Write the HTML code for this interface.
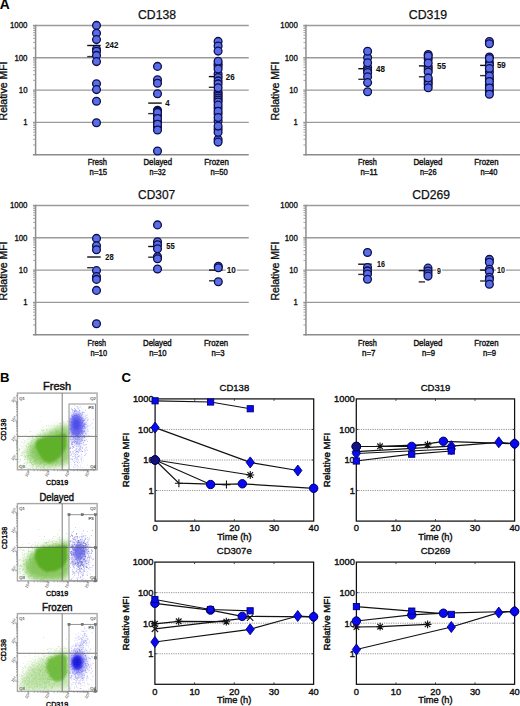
<!DOCTYPE html>
<html><head><meta charset="utf-8"><style>
html,body{margin:0;padding:0;background:#fff;}
svg{display:block;font-family:"Liberation Sans", sans-serif;}
</style></head><body>
<svg width="520" height="706" viewBox="0 0 520 706">
<rect width="520" height="706" fill="#fff"/>
<line x1="32.90" y1="25.50" x2="248.75" y2="25.50" stroke="#9a9a9a" stroke-width="1.4"/>
<line x1="32.90" y1="57.80" x2="248.75" y2="57.80" stroke="#9a9a9a" stroke-width="1.4"/>
<line x1="32.90" y1="90.10" x2="248.75" y2="90.10" stroke="#9a9a9a" stroke-width="1.4"/>
<line x1="32.90" y1="122.40" x2="248.75" y2="122.40" stroke="#9a9a9a" stroke-width="1.4"/>
<line x1="32.90" y1="154.70" x2="248.75" y2="154.70" stroke="#8c8c8c" stroke-width="1.6"/>
<line x1="35.60" y1="24.80" x2="35.60" y2="155.50" stroke="#8e8e8e" stroke-width="1.5"/>
<line x1="33.10" y1="48.08" x2="35.40" y2="48.08" stroke="#999" stroke-width="0.9"/>
<line x1="33.10" y1="42.39" x2="35.40" y2="42.39" stroke="#999" stroke-width="0.9"/>
<line x1="33.10" y1="38.35" x2="35.40" y2="38.35" stroke="#999" stroke-width="0.9"/>
<line x1="33.10" y1="35.22" x2="35.40" y2="35.22" stroke="#999" stroke-width="0.9"/>
<line x1="33.10" y1="32.67" x2="35.40" y2="32.67" stroke="#999" stroke-width="0.9"/>
<line x1="33.10" y1="30.50" x2="35.40" y2="30.50" stroke="#999" stroke-width="0.9"/>
<line x1="33.10" y1="28.63" x2="35.40" y2="28.63" stroke="#999" stroke-width="0.9"/>
<line x1="33.10" y1="26.98" x2="35.40" y2="26.98" stroke="#999" stroke-width="0.9"/>
<line x1="33.10" y1="80.38" x2="35.40" y2="80.38" stroke="#999" stroke-width="0.9"/>
<line x1="33.10" y1="74.69" x2="35.40" y2="74.69" stroke="#999" stroke-width="0.9"/>
<line x1="33.10" y1="70.65" x2="35.40" y2="70.65" stroke="#999" stroke-width="0.9"/>
<line x1="33.10" y1="67.52" x2="35.40" y2="67.52" stroke="#999" stroke-width="0.9"/>
<line x1="33.10" y1="64.97" x2="35.40" y2="64.97" stroke="#999" stroke-width="0.9"/>
<line x1="33.10" y1="62.80" x2="35.40" y2="62.80" stroke="#999" stroke-width="0.9"/>
<line x1="33.10" y1="60.93" x2="35.40" y2="60.93" stroke="#999" stroke-width="0.9"/>
<line x1="33.10" y1="59.28" x2="35.40" y2="59.28" stroke="#999" stroke-width="0.9"/>
<line x1="33.10" y1="112.68" x2="35.40" y2="112.68" stroke="#999" stroke-width="0.9"/>
<line x1="33.10" y1="106.99" x2="35.40" y2="106.99" stroke="#999" stroke-width="0.9"/>
<line x1="33.10" y1="102.95" x2="35.40" y2="102.95" stroke="#999" stroke-width="0.9"/>
<line x1="33.10" y1="99.82" x2="35.40" y2="99.82" stroke="#999" stroke-width="0.9"/>
<line x1="33.10" y1="97.27" x2="35.40" y2="97.27" stroke="#999" stroke-width="0.9"/>
<line x1="33.10" y1="95.10" x2="35.40" y2="95.10" stroke="#999" stroke-width="0.9"/>
<line x1="33.10" y1="93.23" x2="35.40" y2="93.23" stroke="#999" stroke-width="0.9"/>
<line x1="33.10" y1="91.58" x2="35.40" y2="91.58" stroke="#999" stroke-width="0.9"/>
<line x1="33.10" y1="144.98" x2="35.40" y2="144.98" stroke="#999" stroke-width="0.9"/>
<line x1="33.10" y1="139.29" x2="35.40" y2="139.29" stroke="#999" stroke-width="0.9"/>
<line x1="33.10" y1="135.25" x2="35.40" y2="135.25" stroke="#999" stroke-width="0.9"/>
<line x1="33.10" y1="132.12" x2="35.40" y2="132.12" stroke="#999" stroke-width="0.9"/>
<line x1="33.10" y1="129.57" x2="35.40" y2="129.57" stroke="#999" stroke-width="0.9"/>
<line x1="33.10" y1="127.40" x2="35.40" y2="127.40" stroke="#999" stroke-width="0.9"/>
<line x1="33.10" y1="125.53" x2="35.40" y2="125.53" stroke="#999" stroke-width="0.9"/>
<line x1="33.10" y1="123.88" x2="35.40" y2="123.88" stroke="#999" stroke-width="0.9"/>
<text x="27.50" y="28.40" font-size="8.6" text-anchor="end" textLength="17.50" lengthAdjust="spacingAndGlyphs" fill="#111" stroke="#111" stroke-width="0.35">1000</text>
<text x="27.50" y="60.70" font-size="8.6" text-anchor="end" textLength="13.10" lengthAdjust="spacingAndGlyphs" fill="#111" stroke="#111" stroke-width="0.35">100</text>
<text x="27.50" y="93.00" font-size="8.6" text-anchor="end" textLength="8.70" lengthAdjust="spacingAndGlyphs" fill="#111" stroke="#111" stroke-width="0.35">10</text>
<text x="27.50" y="125.30" font-size="8.6" text-anchor="end" textLength="4.30" lengthAdjust="spacingAndGlyphs" fill="#111" stroke="#111" stroke-width="0.35">1</text>
<text x="7.30" y="91.00" font-size="10.5" text-anchor="middle" transform="rotate(-90 7.30 91.00)" fill="#111" stroke="#111" stroke-width="0.35">Relative MFI</text>
<text x="138.00" y="18.80" font-size="12" textLength="38.00" lengthAdjust="spacingAndGlyphs" fill="#111" stroke="#111" stroke-width="0.25">CD138</text>
<text x="87.70" y="165.00" font-size="8.6" textLength="19.20" lengthAdjust="spacingAndGlyphs" fill="#111" stroke="#111" stroke-width="0.4">Fresh</text>
<text x="89.60" y="175.20" font-size="8.6" textLength="17.40" lengthAdjust="spacingAndGlyphs" fill="#111" stroke="#111" stroke-width="0.4">n=15</text>
<text x="143.50" y="165.00" font-size="8.6" textLength="28.50" lengthAdjust="spacingAndGlyphs" fill="#111" stroke="#111" stroke-width="0.4">Delayed</text>
<text x="149.60" y="175.20" font-size="8.6" textLength="16.00" lengthAdjust="spacingAndGlyphs" fill="#111" stroke="#111" stroke-width="0.4">n=32</text>
<text x="204.30" y="165.00" font-size="8.6" textLength="24.50" lengthAdjust="spacingAndGlyphs" fill="#111" stroke="#111" stroke-width="0.4">Frozen</text>
<text x="210.50" y="175.20" font-size="8.6" textLength="17.20" lengthAdjust="spacingAndGlyphs" fill="#111" stroke="#111" stroke-width="0.4">n=50</text>
<line x1="87.20" y1="45.50" x2="100.70" y2="45.50" stroke="#111" stroke-width="1.4"/>
<line x1="87.20" y1="56.60" x2="93.50" y2="56.60" stroke="#333" stroke-width="1.4"/>
<line x1="148.20" y1="103.10" x2="161.70" y2="103.10" stroke="#111" stroke-width="1.4"/>
<line x1="148.20" y1="113.60" x2="154.50" y2="113.60" stroke="#333" stroke-width="1.4"/>
<line x1="208.80" y1="76.60" x2="222.30" y2="76.60" stroke="#111" stroke-width="1.4"/>
<line x1="208.80" y1="87.30" x2="215.10" y2="87.30" stroke="#333" stroke-width="1.4"/>
<circle cx="96.50" cy="25.40" r="3.9" fill="#5a6de8" stroke="#0d0d48" stroke-width="1.3"/>
<circle cx="96.50" cy="33.20" r="3.9" fill="#5a6de8" stroke="#0d0d48" stroke-width="1.3"/>
<circle cx="96.50" cy="39.60" r="3.9" fill="#5a6de8" stroke="#0d0d48" stroke-width="1.3"/>
<circle cx="96.50" cy="49.30" r="3.9" fill="#5a6de8" stroke="#0d0d48" stroke-width="1.3"/>
<circle cx="96.50" cy="51.20" r="3.9" fill="#5a6de8" stroke="#0d0d48" stroke-width="1.3"/>
<circle cx="96.50" cy="55.40" r="3.9" fill="#5a6de8" stroke="#0d0d48" stroke-width="1.3"/>
<circle cx="96.50" cy="61.60" r="3.9" fill="#5a6de8" stroke="#0d0d48" stroke-width="1.3"/>
<circle cx="96.50" cy="83.80" r="3.9" fill="#5a6de8" stroke="#0d0d48" stroke-width="1.3"/>
<circle cx="96.50" cy="89.60" r="3.9" fill="#5a6de8" stroke="#0d0d48" stroke-width="1.3"/>
<circle cx="96.50" cy="101.20" r="3.9" fill="#5a6de8" stroke="#0d0d48" stroke-width="1.3"/>
<circle cx="96.50" cy="122.70" r="3.9" fill="#5a6de8" stroke="#0d0d48" stroke-width="1.3"/>
<circle cx="157.50" cy="66.40" r="3.9" fill="#5a6de8" stroke="#0d0d48" stroke-width="1.3"/>
<circle cx="157.50" cy="79.80" r="3.9" fill="#5a6de8" stroke="#0d0d48" stroke-width="1.3"/>
<circle cx="157.50" cy="83.30" r="3.9" fill="#5a6de8" stroke="#0d0d48" stroke-width="1.3"/>
<circle cx="157.50" cy="93.70" r="3.9" fill="#5a6de8" stroke="#0d0d48" stroke-width="1.3"/>
<circle cx="157.50" cy="110.30" r="3.9" fill="#5a6de8" stroke="#0d0d48" stroke-width="1.3"/>
<circle cx="157.50" cy="111.20" r="3.9" fill="#5a6de8" stroke="#0d0d48" stroke-width="1.3"/>
<circle cx="157.50" cy="115.50" r="3.9" fill="#5a6de8" stroke="#0d0d48" stroke-width="1.3"/>
<circle cx="157.50" cy="121.50" r="3.9" fill="#5a6de8" stroke="#0d0d48" stroke-width="1.3"/>
<circle cx="157.50" cy="127.00" r="3.9" fill="#5a6de8" stroke="#0d0d48" stroke-width="1.3"/>
<circle cx="157.50" cy="112.40" r="3.9" fill="#5a6de8" stroke="#0d0d48" stroke-width="1.3"/>
<circle cx="157.50" cy="118.50" r="3.9" fill="#5a6de8" stroke="#0d0d48" stroke-width="1.3"/>
<circle cx="157.50" cy="124.20" r="3.9" fill="#5a6de8" stroke="#0d0d48" stroke-width="1.3"/>
<circle cx="157.50" cy="130.00" r="3.9" fill="#5a6de8" stroke="#0d0d48" stroke-width="1.3"/>
<circle cx="157.50" cy="151.00" r="3.9" fill="#5a6de8" stroke="#0d0d48" stroke-width="1.3"/>
<circle cx="218.10" cy="63.90" r="3.9" fill="#5a6de8" stroke="#0d0d48" stroke-width="1.3"/>
<circle cx="218.10" cy="66.00" r="3.9" fill="#5a6de8" stroke="#0d0d48" stroke-width="1.3"/>
<circle cx="218.10" cy="74.00" r="3.9" fill="#5a6de8" stroke="#0d0d48" stroke-width="1.3"/>
<circle cx="218.10" cy="77.50" r="3.9" fill="#5a6de8" stroke="#0d0d48" stroke-width="1.3"/>
<circle cx="218.10" cy="80.90" r="3.9" fill="#5a6de8" stroke="#0d0d48" stroke-width="1.3"/>
<circle cx="218.10" cy="83.90" r="3.9" fill="#5a6de8" stroke="#0d0d48" stroke-width="1.3"/>
<circle cx="218.10" cy="92.00" r="3.9" fill="#5a6de8" stroke="#0d0d48" stroke-width="1.3"/>
<circle cx="218.10" cy="94.00" r="3.9" fill="#5a6de8" stroke="#0d0d48" stroke-width="1.3"/>
<circle cx="218.10" cy="96.00" r="3.9" fill="#5a6de8" stroke="#0d0d48" stroke-width="1.3"/>
<circle cx="218.10" cy="98.00" r="3.9" fill="#5a6de8" stroke="#0d0d48" stroke-width="1.3"/>
<circle cx="218.10" cy="100.00" r="3.9" fill="#5a6de8" stroke="#0d0d48" stroke-width="1.3"/>
<circle cx="218.10" cy="102.00" r="3.9" fill="#5a6de8" stroke="#0d0d48" stroke-width="1.3"/>
<circle cx="218.10" cy="108.00" r="3.9" fill="#5a6de8" stroke="#0d0d48" stroke-width="1.3"/>
<circle cx="218.10" cy="114.00" r="3.9" fill="#5a6de8" stroke="#0d0d48" stroke-width="1.3"/>
<circle cx="218.10" cy="121.00" r="3.9" fill="#5a6de8" stroke="#0d0d48" stroke-width="1.3"/>
<circle cx="218.10" cy="129.00" r="3.9" fill="#5a6de8" stroke="#0d0d48" stroke-width="1.3"/>
<circle cx="218.10" cy="139.50" r="3.9" fill="#5a6de8" stroke="#0d0d48" stroke-width="1.3"/>
<circle cx="218.10" cy="41.40" r="3.9" fill="#5a6de8" stroke="#0d0d48" stroke-width="1.3"/>
<circle cx="218.10" cy="46.00" r="3.9" fill="#5a6de8" stroke="#0d0d48" stroke-width="1.3"/>
<circle cx="218.10" cy="51.10" r="3.9" fill="#5a6de8" stroke="#0d0d48" stroke-width="1.3"/>
<circle cx="218.10" cy="61.30" r="3.9" fill="#5a6de8" stroke="#0d0d48" stroke-width="1.3"/>
<circle cx="218.10" cy="69.00" r="3.9" fill="#5a6de8" stroke="#0d0d48" stroke-width="1.3"/>
<circle cx="218.10" cy="87.70" r="3.9" fill="#5a6de8" stroke="#0d0d48" stroke-width="1.3"/>
<circle cx="218.10" cy="105.10" r="3.9" fill="#5a6de8" stroke="#0d0d48" stroke-width="1.3"/>
<circle cx="218.10" cy="111.30" r="3.9" fill="#5a6de8" stroke="#0d0d48" stroke-width="1.3"/>
<circle cx="218.10" cy="117.60" r="3.9" fill="#5a6de8" stroke="#0d0d48" stroke-width="1.3"/>
<circle cx="218.10" cy="132.30" r="3.9" fill="#5a6de8" stroke="#0d0d48" stroke-width="1.3"/>
<circle cx="218.10" cy="126.10" r="3.9" fill="#5a6de8" stroke="#0d0d48" stroke-width="1.3"/>
<circle cx="218.10" cy="142.10" r="3.9" fill="#5a6de8" stroke="#0d0d48" stroke-width="1.3"/>
<rect x="104.20" y="41.50" width="15.30" height="8" fill="#fff"/>
<text x="105.20" y="48.40" font-size="8.6" font-weight="bold" textLength="13.30" lengthAdjust="spacingAndGlyphs" fill="#111" stroke="#111" stroke-width="0.1">242</text>
<rect x="164.30" y="99.10" width="6.40" height="8" fill="#fff"/>
<text x="165.30" y="106.00" font-size="8.6" font-weight="bold" textLength="4.40" lengthAdjust="spacingAndGlyphs" fill="#111" stroke="#111" stroke-width="0.1">4</text>
<rect x="224.80" y="72.60" width="10.90" height="8" fill="#fff"/>
<text x="225.80" y="79.50" font-size="8.6" font-weight="bold" textLength="8.90" lengthAdjust="spacingAndGlyphs" fill="#111" stroke="#111" stroke-width="0.1">26</text>
<line x1="303.25" y1="25.50" x2="520.00" y2="25.50" stroke="#9a9a9a" stroke-width="1.4"/>
<line x1="303.25" y1="57.80" x2="520.00" y2="57.80" stroke="#9a9a9a" stroke-width="1.4"/>
<line x1="303.25" y1="90.10" x2="520.00" y2="90.10" stroke="#9a9a9a" stroke-width="1.4"/>
<line x1="303.25" y1="122.40" x2="520.00" y2="122.40" stroke="#9a9a9a" stroke-width="1.4"/>
<line x1="303.25" y1="154.70" x2="520.00" y2="154.70" stroke="#8c8c8c" stroke-width="1.6"/>
<line x1="305.95" y1="24.80" x2="305.95" y2="155.50" stroke="#8e8e8e" stroke-width="1.5"/>
<line x1="303.45" y1="48.08" x2="305.75" y2="48.08" stroke="#999" stroke-width="0.9"/>
<line x1="303.45" y1="42.39" x2="305.75" y2="42.39" stroke="#999" stroke-width="0.9"/>
<line x1="303.45" y1="38.35" x2="305.75" y2="38.35" stroke="#999" stroke-width="0.9"/>
<line x1="303.45" y1="35.22" x2="305.75" y2="35.22" stroke="#999" stroke-width="0.9"/>
<line x1="303.45" y1="32.67" x2="305.75" y2="32.67" stroke="#999" stroke-width="0.9"/>
<line x1="303.45" y1="30.50" x2="305.75" y2="30.50" stroke="#999" stroke-width="0.9"/>
<line x1="303.45" y1="28.63" x2="305.75" y2="28.63" stroke="#999" stroke-width="0.9"/>
<line x1="303.45" y1="26.98" x2="305.75" y2="26.98" stroke="#999" stroke-width="0.9"/>
<line x1="303.45" y1="80.38" x2="305.75" y2="80.38" stroke="#999" stroke-width="0.9"/>
<line x1="303.45" y1="74.69" x2="305.75" y2="74.69" stroke="#999" stroke-width="0.9"/>
<line x1="303.45" y1="70.65" x2="305.75" y2="70.65" stroke="#999" stroke-width="0.9"/>
<line x1="303.45" y1="67.52" x2="305.75" y2="67.52" stroke="#999" stroke-width="0.9"/>
<line x1="303.45" y1="64.97" x2="305.75" y2="64.97" stroke="#999" stroke-width="0.9"/>
<line x1="303.45" y1="62.80" x2="305.75" y2="62.80" stroke="#999" stroke-width="0.9"/>
<line x1="303.45" y1="60.93" x2="305.75" y2="60.93" stroke="#999" stroke-width="0.9"/>
<line x1="303.45" y1="59.28" x2="305.75" y2="59.28" stroke="#999" stroke-width="0.9"/>
<line x1="303.45" y1="112.68" x2="305.75" y2="112.68" stroke="#999" stroke-width="0.9"/>
<line x1="303.45" y1="106.99" x2="305.75" y2="106.99" stroke="#999" stroke-width="0.9"/>
<line x1="303.45" y1="102.95" x2="305.75" y2="102.95" stroke="#999" stroke-width="0.9"/>
<line x1="303.45" y1="99.82" x2="305.75" y2="99.82" stroke="#999" stroke-width="0.9"/>
<line x1="303.45" y1="97.27" x2="305.75" y2="97.27" stroke="#999" stroke-width="0.9"/>
<line x1="303.45" y1="95.10" x2="305.75" y2="95.10" stroke="#999" stroke-width="0.9"/>
<line x1="303.45" y1="93.23" x2="305.75" y2="93.23" stroke="#999" stroke-width="0.9"/>
<line x1="303.45" y1="91.58" x2="305.75" y2="91.58" stroke="#999" stroke-width="0.9"/>
<line x1="303.45" y1="144.98" x2="305.75" y2="144.98" stroke="#999" stroke-width="0.9"/>
<line x1="303.45" y1="139.29" x2="305.75" y2="139.29" stroke="#999" stroke-width="0.9"/>
<line x1="303.45" y1="135.25" x2="305.75" y2="135.25" stroke="#999" stroke-width="0.9"/>
<line x1="303.45" y1="132.12" x2="305.75" y2="132.12" stroke="#999" stroke-width="0.9"/>
<line x1="303.45" y1="129.57" x2="305.75" y2="129.57" stroke="#999" stroke-width="0.9"/>
<line x1="303.45" y1="127.40" x2="305.75" y2="127.40" stroke="#999" stroke-width="0.9"/>
<line x1="303.45" y1="125.53" x2="305.75" y2="125.53" stroke="#999" stroke-width="0.9"/>
<line x1="303.45" y1="123.88" x2="305.75" y2="123.88" stroke="#999" stroke-width="0.9"/>
<text x="297.85" y="28.40" font-size="8.6" text-anchor="end" textLength="17.50" lengthAdjust="spacingAndGlyphs" fill="#111" stroke="#111" stroke-width="0.35">1000</text>
<text x="297.85" y="60.70" font-size="8.6" text-anchor="end" textLength="13.10" lengthAdjust="spacingAndGlyphs" fill="#111" stroke="#111" stroke-width="0.35">100</text>
<text x="297.85" y="93.00" font-size="8.6" text-anchor="end" textLength="8.70" lengthAdjust="spacingAndGlyphs" fill="#111" stroke="#111" stroke-width="0.35">10</text>
<text x="297.85" y="125.30" font-size="8.6" text-anchor="end" textLength="4.30" lengthAdjust="spacingAndGlyphs" fill="#111" stroke="#111" stroke-width="0.35">1</text>
<text x="278.95" y="91.00" font-size="10.5" text-anchor="middle" transform="rotate(-90 278.95 91.00)" fill="#111" stroke="#111" stroke-width="0.35">Relative MFI</text>
<text x="408.80" y="18.80" font-size="12" textLength="38.40" lengthAdjust="spacingAndGlyphs" fill="#111" stroke="#111" stroke-width="0.25">CD319</text>
<text x="358.00" y="165.00" font-size="8.6" textLength="18.70" lengthAdjust="spacingAndGlyphs" fill="#111" stroke="#111" stroke-width="0.4">Fresh</text>
<text x="360.50" y="175.20" font-size="8.6" textLength="17.00" lengthAdjust="spacingAndGlyphs" fill="#111" stroke="#111" stroke-width="0.4">n=11</text>
<text x="413.40" y="165.00" font-size="8.6" textLength="29.00" lengthAdjust="spacingAndGlyphs" fill="#111" stroke="#111" stroke-width="0.4">Delayed</text>
<text x="420.00" y="175.20" font-size="8.6" textLength="16.50" lengthAdjust="spacingAndGlyphs" fill="#111" stroke="#111" stroke-width="0.4">n=26</text>
<text x="474.30" y="165.00" font-size="8.6" textLength="24.20" lengthAdjust="spacingAndGlyphs" fill="#111" stroke="#111" stroke-width="0.4">Frozen</text>
<text x="480.50" y="175.20" font-size="8.6" textLength="17.00" lengthAdjust="spacingAndGlyphs" fill="#111" stroke="#111" stroke-width="0.4">n=40</text>
<line x1="358.30" y1="68.70" x2="371.80" y2="68.70" stroke="#111" stroke-width="1.4"/>
<line x1="358.30" y1="79.30" x2="364.60" y2="79.30" stroke="#333" stroke-width="1.4"/>
<line x1="418.90" y1="65.90" x2="432.40" y2="65.90" stroke="#111" stroke-width="1.4"/>
<line x1="418.90" y1="76.80" x2="425.20" y2="76.80" stroke="#333" stroke-width="1.4"/>
<line x1="480.10" y1="65.40" x2="493.60" y2="65.40" stroke="#111" stroke-width="1.4"/>
<line x1="480.10" y1="75.60" x2="486.40" y2="75.60" stroke="#333" stroke-width="1.4"/>
<circle cx="367.60" cy="57.50" r="3.9" fill="#5a6de8" stroke="#0d0d48" stroke-width="1.3"/>
<circle cx="367.60" cy="67.50" r="3.9" fill="#5a6de8" stroke="#0d0d48" stroke-width="1.3"/>
<circle cx="367.60" cy="70.50" r="3.9" fill="#5a6de8" stroke="#0d0d48" stroke-width="1.3"/>
<circle cx="367.60" cy="72.50" r="3.9" fill="#5a6de8" stroke="#0d0d48" stroke-width="1.3"/>
<circle cx="367.60" cy="51.30" r="3.9" fill="#5a6de8" stroke="#0d0d48" stroke-width="1.3"/>
<circle cx="367.60" cy="62.70" r="3.9" fill="#5a6de8" stroke="#0d0d48" stroke-width="1.3"/>
<circle cx="367.60" cy="76.70" r="3.9" fill="#5a6de8" stroke="#0d0d48" stroke-width="1.3"/>
<circle cx="367.60" cy="82.60" r="3.9" fill="#5a6de8" stroke="#0d0d48" stroke-width="1.3"/>
<circle cx="367.60" cy="91.80" r="3.9" fill="#5a6de8" stroke="#0d0d48" stroke-width="1.3"/>
<circle cx="428.20" cy="54.50" r="3.9" fill="#5a6de8" stroke="#0d0d48" stroke-width="1.3"/>
<circle cx="428.20" cy="59.00" r="3.9" fill="#5a6de8" stroke="#0d0d48" stroke-width="1.3"/>
<circle cx="428.20" cy="67.00" r="3.9" fill="#5a6de8" stroke="#0d0d48" stroke-width="1.3"/>
<circle cx="428.20" cy="69.50" r="3.9" fill="#5a6de8" stroke="#0d0d48" stroke-width="1.3"/>
<circle cx="428.20" cy="72.00" r="3.9" fill="#5a6de8" stroke="#0d0d48" stroke-width="1.3"/>
<circle cx="428.20" cy="80.00" r="3.9" fill="#5a6de8" stroke="#0d0d48" stroke-width="1.3"/>
<circle cx="428.20" cy="82.50" r="3.9" fill="#5a6de8" stroke="#0d0d48" stroke-width="1.3"/>
<circle cx="428.20" cy="84.50" r="3.9" fill="#5a6de8" stroke="#0d0d48" stroke-width="1.3"/>
<circle cx="428.20" cy="56.00" r="3.9" fill="#5a6de8" stroke="#0d0d48" stroke-width="1.3"/>
<circle cx="428.20" cy="63.00" r="3.9" fill="#5a6de8" stroke="#0d0d48" stroke-width="1.3"/>
<circle cx="428.20" cy="77.90" r="3.9" fill="#5a6de8" stroke="#0d0d48" stroke-width="1.3"/>
<circle cx="428.20" cy="87.80" r="3.9" fill="#5a6de8" stroke="#0d0d48" stroke-width="1.3"/>
<circle cx="489.40" cy="41.50" r="3.9" fill="#5a6de8" stroke="#0d0d48" stroke-width="1.3"/>
<circle cx="489.40" cy="57.00" r="3.9" fill="#5a6de8" stroke="#0d0d48" stroke-width="1.3"/>
<circle cx="489.40" cy="62.50" r="3.9" fill="#5a6de8" stroke="#0d0d48" stroke-width="1.3"/>
<circle cx="489.40" cy="65.00" r="3.9" fill="#5a6de8" stroke="#0d0d48" stroke-width="1.3"/>
<circle cx="489.40" cy="72.00" r="3.9" fill="#5a6de8" stroke="#0d0d48" stroke-width="1.3"/>
<circle cx="489.40" cy="79.00" r="3.9" fill="#5a6de8" stroke="#0d0d48" stroke-width="1.3"/>
<circle cx="489.40" cy="85.00" r="3.9" fill="#5a6de8" stroke="#0d0d48" stroke-width="1.3"/>
<circle cx="489.40" cy="91.00" r="3.9" fill="#5a6de8" stroke="#0d0d48" stroke-width="1.3"/>
<circle cx="489.40" cy="43.70" r="3.9" fill="#5a6de8" stroke="#0d0d48" stroke-width="1.3"/>
<circle cx="489.40" cy="58.50" r="3.9" fill="#5a6de8" stroke="#0d0d48" stroke-width="1.3"/>
<circle cx="489.40" cy="68.60" r="3.9" fill="#5a6de8" stroke="#0d0d48" stroke-width="1.3"/>
<circle cx="489.40" cy="76.00" r="3.9" fill="#5a6de8" stroke="#0d0d48" stroke-width="1.3"/>
<circle cx="489.40" cy="81.50" r="3.9" fill="#5a6de8" stroke="#0d0d48" stroke-width="1.3"/>
<circle cx="489.40" cy="88.00" r="3.9" fill="#5a6de8" stroke="#0d0d48" stroke-width="1.3"/>
<circle cx="489.40" cy="94.20" r="3.9" fill="#5a6de8" stroke="#0d0d48" stroke-width="1.3"/>
<rect x="375.00" y="64.80" width="10.90" height="8" fill="#fff"/>
<text x="376.00" y="71.70" font-size="8.6" font-weight="bold" textLength="8.90" lengthAdjust="spacingAndGlyphs" fill="#111" stroke="#111" stroke-width="0.1">48</text>
<rect x="436.10" y="62.30" width="10.90" height="8" fill="#fff"/>
<text x="437.10" y="69.20" font-size="8.6" font-weight="bold" textLength="8.90" lengthAdjust="spacingAndGlyphs" fill="#111" stroke="#111" stroke-width="0.1">55</text>
<rect x="495.90" y="61.40" width="10.90" height="8" fill="#fff"/>
<text x="496.90" y="68.30" font-size="8.6" font-weight="bold" textLength="8.90" lengthAdjust="spacingAndGlyphs" fill="#111" stroke="#111" stroke-width="0.1">59</text>
<line x1="32.90" y1="205.50" x2="248.75" y2="205.50" stroke="#9a9a9a" stroke-width="1.4"/>
<line x1="32.90" y1="237.80" x2="248.75" y2="237.80" stroke="#9a9a9a" stroke-width="1.4"/>
<line x1="32.90" y1="270.10" x2="248.75" y2="270.10" stroke="#9a9a9a" stroke-width="1.4"/>
<line x1="32.90" y1="302.40" x2="248.75" y2="302.40" stroke="#9a9a9a" stroke-width="1.4"/>
<line x1="32.90" y1="334.70" x2="248.75" y2="334.70" stroke="#8c8c8c" stroke-width="1.6"/>
<line x1="35.60" y1="204.80" x2="35.60" y2="335.50" stroke="#8e8e8e" stroke-width="1.5"/>
<line x1="33.10" y1="228.08" x2="35.40" y2="228.08" stroke="#999" stroke-width="0.9"/>
<line x1="33.10" y1="222.39" x2="35.40" y2="222.39" stroke="#999" stroke-width="0.9"/>
<line x1="33.10" y1="218.35" x2="35.40" y2="218.35" stroke="#999" stroke-width="0.9"/>
<line x1="33.10" y1="215.22" x2="35.40" y2="215.22" stroke="#999" stroke-width="0.9"/>
<line x1="33.10" y1="212.67" x2="35.40" y2="212.67" stroke="#999" stroke-width="0.9"/>
<line x1="33.10" y1="210.50" x2="35.40" y2="210.50" stroke="#999" stroke-width="0.9"/>
<line x1="33.10" y1="208.63" x2="35.40" y2="208.63" stroke="#999" stroke-width="0.9"/>
<line x1="33.10" y1="206.98" x2="35.40" y2="206.98" stroke="#999" stroke-width="0.9"/>
<line x1="33.10" y1="260.38" x2="35.40" y2="260.38" stroke="#999" stroke-width="0.9"/>
<line x1="33.10" y1="254.69" x2="35.40" y2="254.69" stroke="#999" stroke-width="0.9"/>
<line x1="33.10" y1="250.65" x2="35.40" y2="250.65" stroke="#999" stroke-width="0.9"/>
<line x1="33.10" y1="247.52" x2="35.40" y2="247.52" stroke="#999" stroke-width="0.9"/>
<line x1="33.10" y1="244.97" x2="35.40" y2="244.97" stroke="#999" stroke-width="0.9"/>
<line x1="33.10" y1="242.80" x2="35.40" y2="242.80" stroke="#999" stroke-width="0.9"/>
<line x1="33.10" y1="240.93" x2="35.40" y2="240.93" stroke="#999" stroke-width="0.9"/>
<line x1="33.10" y1="239.28" x2="35.40" y2="239.28" stroke="#999" stroke-width="0.9"/>
<line x1="33.10" y1="292.68" x2="35.40" y2="292.68" stroke="#999" stroke-width="0.9"/>
<line x1="33.10" y1="286.99" x2="35.40" y2="286.99" stroke="#999" stroke-width="0.9"/>
<line x1="33.10" y1="282.95" x2="35.40" y2="282.95" stroke="#999" stroke-width="0.9"/>
<line x1="33.10" y1="279.82" x2="35.40" y2="279.82" stroke="#999" stroke-width="0.9"/>
<line x1="33.10" y1="277.27" x2="35.40" y2="277.27" stroke="#999" stroke-width="0.9"/>
<line x1="33.10" y1="275.10" x2="35.40" y2="275.10" stroke="#999" stroke-width="0.9"/>
<line x1="33.10" y1="273.23" x2="35.40" y2="273.23" stroke="#999" stroke-width="0.9"/>
<line x1="33.10" y1="271.58" x2="35.40" y2="271.58" stroke="#999" stroke-width="0.9"/>
<line x1="33.10" y1="324.98" x2="35.40" y2="324.98" stroke="#999" stroke-width="0.9"/>
<line x1="33.10" y1="319.29" x2="35.40" y2="319.29" stroke="#999" stroke-width="0.9"/>
<line x1="33.10" y1="315.25" x2="35.40" y2="315.25" stroke="#999" stroke-width="0.9"/>
<line x1="33.10" y1="312.12" x2="35.40" y2="312.12" stroke="#999" stroke-width="0.9"/>
<line x1="33.10" y1="309.57" x2="35.40" y2="309.57" stroke="#999" stroke-width="0.9"/>
<line x1="33.10" y1="307.40" x2="35.40" y2="307.40" stroke="#999" stroke-width="0.9"/>
<line x1="33.10" y1="305.53" x2="35.40" y2="305.53" stroke="#999" stroke-width="0.9"/>
<line x1="33.10" y1="303.88" x2="35.40" y2="303.88" stroke="#999" stroke-width="0.9"/>
<text x="27.50" y="208.40" font-size="8.6" text-anchor="end" textLength="17.50" lengthAdjust="spacingAndGlyphs" fill="#111" stroke="#111" stroke-width="0.35">1000</text>
<text x="27.50" y="240.70" font-size="8.6" text-anchor="end" textLength="13.10" lengthAdjust="spacingAndGlyphs" fill="#111" stroke="#111" stroke-width="0.35">100</text>
<text x="27.50" y="273.00" font-size="8.6" text-anchor="end" textLength="8.70" lengthAdjust="spacingAndGlyphs" fill="#111" stroke="#111" stroke-width="0.35">10</text>
<text x="27.50" y="305.30" font-size="8.6" text-anchor="end" textLength="4.30" lengthAdjust="spacingAndGlyphs" fill="#111" stroke="#111" stroke-width="0.35">1</text>
<text x="7.30" y="271.00" font-size="10.5" text-anchor="middle" transform="rotate(-90 7.30 271.00)" fill="#111" stroke="#111" stroke-width="0.35">Relative MFI</text>
<text x="138.10" y="198.80" font-size="12" textLength="37.10" lengthAdjust="spacingAndGlyphs" fill="#111" stroke="#111" stroke-width="0.25">CD307</text>
<text x="87.60" y="345.60" font-size="8.6" textLength="18.40" lengthAdjust="spacingAndGlyphs" fill="#111" stroke="#111" stroke-width="0.4">Fresh</text>
<text x="90.40" y="356.00" font-size="8.6" textLength="16.60" lengthAdjust="spacingAndGlyphs" fill="#111" stroke="#111" stroke-width="0.4">n=10</text>
<text x="143.00" y="345.60" font-size="8.6" textLength="28.70" lengthAdjust="spacingAndGlyphs" fill="#111" stroke="#111" stroke-width="0.4">Delayed</text>
<text x="149.20" y="356.00" font-size="8.6" textLength="17.30" lengthAdjust="spacingAndGlyphs" fill="#111" stroke="#111" stroke-width="0.4">n=10</text>
<text x="203.90" y="345.60" font-size="8.6" textLength="24.10" lengthAdjust="spacingAndGlyphs" fill="#111" stroke="#111" stroke-width="0.4">Frozen</text>
<text x="211.50" y="356.00" font-size="8.6" textLength="13.10" lengthAdjust="spacingAndGlyphs" fill="#111" stroke="#111" stroke-width="0.4">n=3</text>
<line x1="87.20" y1="257.00" x2="100.70" y2="257.00" stroke="#111" stroke-width="1.4"/>
<line x1="87.20" y1="267.70" x2="93.50" y2="267.70" stroke="#333" stroke-width="1.4"/>
<line x1="148.20" y1="246.50" x2="161.70" y2="246.50" stroke="#111" stroke-width="1.4"/>
<line x1="148.20" y1="257.20" x2="154.50" y2="257.20" stroke="#333" stroke-width="1.4"/>
<line x1="209.00" y1="270.10" x2="222.50" y2="270.10" stroke="#111" stroke-width="1.4"/>
<line x1="209.00" y1="280.80" x2="215.30" y2="280.80" stroke="#333" stroke-width="1.4"/>
<circle cx="96.50" cy="238.40" r="3.9" fill="#5a6de8" stroke="#0d0d48" stroke-width="1.3"/>
<circle cx="96.50" cy="245.80" r="3.9" fill="#5a6de8" stroke="#0d0d48" stroke-width="1.3"/>
<circle cx="96.50" cy="249.80" r="3.9" fill="#5a6de8" stroke="#0d0d48" stroke-width="1.3"/>
<circle cx="96.50" cy="270.60" r="3.9" fill="#5a6de8" stroke="#0d0d48" stroke-width="1.3"/>
<circle cx="96.50" cy="276.60" r="3.9" fill="#5a6de8" stroke="#0d0d48" stroke-width="1.3"/>
<circle cx="96.50" cy="279.40" r="3.9" fill="#5a6de8" stroke="#0d0d48" stroke-width="1.3"/>
<circle cx="96.50" cy="290.40" r="3.9" fill="#5a6de8" stroke="#0d0d48" stroke-width="1.3"/>
<circle cx="96.50" cy="323.75" r="3.9" fill="#5a6de8" stroke="#0d0d48" stroke-width="1.3"/>
<circle cx="157.50" cy="224.90" r="3.9" fill="#5a6de8" stroke="#0d0d48" stroke-width="1.3"/>
<circle cx="157.50" cy="241.80" r="3.9" fill="#5a6de8" stroke="#0d0d48" stroke-width="1.3"/>
<circle cx="157.50" cy="244.80" r="3.9" fill="#5a6de8" stroke="#0d0d48" stroke-width="1.3"/>
<circle cx="157.50" cy="248.70" r="3.9" fill="#5a6de8" stroke="#0d0d48" stroke-width="1.3"/>
<circle cx="157.50" cy="256.70" r="3.9" fill="#5a6de8" stroke="#0d0d48" stroke-width="1.3"/>
<circle cx="157.50" cy="258.70" r="3.9" fill="#5a6de8" stroke="#0d0d48" stroke-width="1.3"/>
<circle cx="157.50" cy="269.00" r="3.9" fill="#5a6de8" stroke="#0d0d48" stroke-width="1.3"/>
<circle cx="218.30" cy="266.20" r="3.9" fill="#5a6de8" stroke="#0d0d48" stroke-width="1.3"/>
<circle cx="218.30" cy="267.80" r="3.9" fill="#5a6de8" stroke="#0d0d48" stroke-width="1.3"/>
<circle cx="218.30" cy="281.80" r="3.9" fill="#5a6de8" stroke="#0d0d48" stroke-width="1.3"/>
<rect x="104.30" y="253.00" width="10.40" height="8" fill="#fff"/>
<text x="105.30" y="259.90" font-size="8.6" font-weight="bold" textLength="8.40" lengthAdjust="spacingAndGlyphs" fill="#111" stroke="#111" stroke-width="0.1">28</text>
<rect x="165.30" y="242.50" width="10.40" height="8" fill="#fff"/>
<text x="166.30" y="249.40" font-size="8.6" font-weight="bold" textLength="8.40" lengthAdjust="spacingAndGlyphs" fill="#111" stroke="#111" stroke-width="0.1">55</text>
<rect x="225.70" y="266.00" width="11.00" height="8" fill="#fff"/>
<text x="226.70" y="272.90" font-size="8.6" font-weight="bold" textLength="9.00" lengthAdjust="spacingAndGlyphs" fill="#111" stroke="#111" stroke-width="0.1">10</text>
<line x1="303.25" y1="205.50" x2="520.00" y2="205.50" stroke="#9a9a9a" stroke-width="1.4"/>
<line x1="303.25" y1="237.80" x2="520.00" y2="237.80" stroke="#9a9a9a" stroke-width="1.4"/>
<line x1="303.25" y1="270.10" x2="520.00" y2="270.10" stroke="#9a9a9a" stroke-width="1.4"/>
<line x1="303.25" y1="302.40" x2="520.00" y2="302.40" stroke="#9a9a9a" stroke-width="1.4"/>
<line x1="303.25" y1="334.70" x2="520.00" y2="334.70" stroke="#8c8c8c" stroke-width="1.6"/>
<line x1="305.95" y1="204.80" x2="305.95" y2="335.50" stroke="#8e8e8e" stroke-width="1.5"/>
<line x1="303.45" y1="228.08" x2="305.75" y2="228.08" stroke="#999" stroke-width="0.9"/>
<line x1="303.45" y1="222.39" x2="305.75" y2="222.39" stroke="#999" stroke-width="0.9"/>
<line x1="303.45" y1="218.35" x2="305.75" y2="218.35" stroke="#999" stroke-width="0.9"/>
<line x1="303.45" y1="215.22" x2="305.75" y2="215.22" stroke="#999" stroke-width="0.9"/>
<line x1="303.45" y1="212.67" x2="305.75" y2="212.67" stroke="#999" stroke-width="0.9"/>
<line x1="303.45" y1="210.50" x2="305.75" y2="210.50" stroke="#999" stroke-width="0.9"/>
<line x1="303.45" y1="208.63" x2="305.75" y2="208.63" stroke="#999" stroke-width="0.9"/>
<line x1="303.45" y1="206.98" x2="305.75" y2="206.98" stroke="#999" stroke-width="0.9"/>
<line x1="303.45" y1="260.38" x2="305.75" y2="260.38" stroke="#999" stroke-width="0.9"/>
<line x1="303.45" y1="254.69" x2="305.75" y2="254.69" stroke="#999" stroke-width="0.9"/>
<line x1="303.45" y1="250.65" x2="305.75" y2="250.65" stroke="#999" stroke-width="0.9"/>
<line x1="303.45" y1="247.52" x2="305.75" y2="247.52" stroke="#999" stroke-width="0.9"/>
<line x1="303.45" y1="244.97" x2="305.75" y2="244.97" stroke="#999" stroke-width="0.9"/>
<line x1="303.45" y1="242.80" x2="305.75" y2="242.80" stroke="#999" stroke-width="0.9"/>
<line x1="303.45" y1="240.93" x2="305.75" y2="240.93" stroke="#999" stroke-width="0.9"/>
<line x1="303.45" y1="239.28" x2="305.75" y2="239.28" stroke="#999" stroke-width="0.9"/>
<line x1="303.45" y1="292.68" x2="305.75" y2="292.68" stroke="#999" stroke-width="0.9"/>
<line x1="303.45" y1="286.99" x2="305.75" y2="286.99" stroke="#999" stroke-width="0.9"/>
<line x1="303.45" y1="282.95" x2="305.75" y2="282.95" stroke="#999" stroke-width="0.9"/>
<line x1="303.45" y1="279.82" x2="305.75" y2="279.82" stroke="#999" stroke-width="0.9"/>
<line x1="303.45" y1="277.27" x2="305.75" y2="277.27" stroke="#999" stroke-width="0.9"/>
<line x1="303.45" y1="275.10" x2="305.75" y2="275.10" stroke="#999" stroke-width="0.9"/>
<line x1="303.45" y1="273.23" x2="305.75" y2="273.23" stroke="#999" stroke-width="0.9"/>
<line x1="303.45" y1="271.58" x2="305.75" y2="271.58" stroke="#999" stroke-width="0.9"/>
<line x1="303.45" y1="324.98" x2="305.75" y2="324.98" stroke="#999" stroke-width="0.9"/>
<line x1="303.45" y1="319.29" x2="305.75" y2="319.29" stroke="#999" stroke-width="0.9"/>
<line x1="303.45" y1="315.25" x2="305.75" y2="315.25" stroke="#999" stroke-width="0.9"/>
<line x1="303.45" y1="312.12" x2="305.75" y2="312.12" stroke="#999" stroke-width="0.9"/>
<line x1="303.45" y1="309.57" x2="305.75" y2="309.57" stroke="#999" stroke-width="0.9"/>
<line x1="303.45" y1="307.40" x2="305.75" y2="307.40" stroke="#999" stroke-width="0.9"/>
<line x1="303.45" y1="305.53" x2="305.75" y2="305.53" stroke="#999" stroke-width="0.9"/>
<line x1="303.45" y1="303.88" x2="305.75" y2="303.88" stroke="#999" stroke-width="0.9"/>
<text x="297.85" y="208.40" font-size="8.6" text-anchor="end" textLength="17.50" lengthAdjust="spacingAndGlyphs" fill="#111" stroke="#111" stroke-width="0.35">1000</text>
<text x="297.85" y="240.70" font-size="8.6" text-anchor="end" textLength="13.10" lengthAdjust="spacingAndGlyphs" fill="#111" stroke="#111" stroke-width="0.35">100</text>
<text x="297.85" y="273.00" font-size="8.6" text-anchor="end" textLength="8.70" lengthAdjust="spacingAndGlyphs" fill="#111" stroke="#111" stroke-width="0.35">10</text>
<text x="297.85" y="305.30" font-size="8.6" text-anchor="end" textLength="4.30" lengthAdjust="spacingAndGlyphs" fill="#111" stroke="#111" stroke-width="0.35">1</text>
<text x="278.95" y="271.00" font-size="10.5" text-anchor="middle" transform="rotate(-90 278.95 271.00)" fill="#111" stroke="#111" stroke-width="0.35">Relative MFI</text>
<text x="412.30" y="198.80" font-size="12" textLength="37.70" lengthAdjust="spacingAndGlyphs" fill="#111" stroke="#111" stroke-width="0.25">CD269</text>
<text x="358.00" y="345.60" font-size="8.6" textLength="18.70" lengthAdjust="spacingAndGlyphs" fill="#111" stroke="#111" stroke-width="0.4">Fresh</text>
<text x="362.00" y="356.00" font-size="8.6" textLength="13.50" lengthAdjust="spacingAndGlyphs" fill="#111" stroke="#111" stroke-width="0.4">n=7</text>
<text x="413.40" y="345.60" font-size="8.6" textLength="29.00" lengthAdjust="spacingAndGlyphs" fill="#111" stroke="#111" stroke-width="0.4">Delayed</text>
<text x="422.00" y="356.00" font-size="8.6" textLength="13.00" lengthAdjust="spacingAndGlyphs" fill="#111" stroke="#111" stroke-width="0.4">n=9</text>
<text x="474.30" y="345.60" font-size="8.6" textLength="24.20" lengthAdjust="spacingAndGlyphs" fill="#111" stroke="#111" stroke-width="0.4">Frozen</text>
<text x="483.00" y="356.00" font-size="8.6" textLength="13.00" lengthAdjust="spacingAndGlyphs" fill="#111" stroke="#111" stroke-width="0.4">n=9</text>
<line x1="358.20" y1="264.20" x2="371.70" y2="264.20" stroke="#111" stroke-width="1.4"/>
<line x1="358.20" y1="274.40" x2="364.50" y2="274.40" stroke="#333" stroke-width="1.4"/>
<line x1="418.70" y1="270.60" x2="432.20" y2="270.60" stroke="#111" stroke-width="1.4"/>
<line x1="418.70" y1="281.90" x2="425.00" y2="281.90" stroke="#333" stroke-width="1.4"/>
<line x1="480.10" y1="270.10" x2="493.60" y2="270.10" stroke="#111" stroke-width="1.4"/>
<line x1="480.10" y1="281.00" x2="486.40" y2="281.00" stroke="#333" stroke-width="1.4"/>
<circle cx="367.50" cy="252.50" r="3.9" fill="#5a6de8" stroke="#0d0d48" stroke-width="1.3"/>
<circle cx="367.50" cy="267.50" r="3.9" fill="#5a6de8" stroke="#0d0d48" stroke-width="1.3"/>
<circle cx="367.50" cy="270.90" r="3.9" fill="#5a6de8" stroke="#0d0d48" stroke-width="1.3"/>
<circle cx="367.50" cy="274.00" r="3.9" fill="#5a6de8" stroke="#0d0d48" stroke-width="1.3"/>
<circle cx="367.50" cy="279.20" r="3.9" fill="#5a6de8" stroke="#0d0d48" stroke-width="1.3"/>
<circle cx="428.00" cy="268.10" r="3.9" fill="#5a6de8" stroke="#0d0d48" stroke-width="1.3"/>
<circle cx="428.00" cy="271.00" r="3.9" fill="#5a6de8" stroke="#0d0d48" stroke-width="1.3"/>
<circle cx="428.00" cy="273.80" r="3.9" fill="#5a6de8" stroke="#0d0d48" stroke-width="1.3"/>
<circle cx="428.00" cy="276.10" r="3.9" fill="#5a6de8" stroke="#0d0d48" stroke-width="1.3"/>
<circle cx="489.40" cy="259.40" r="3.9" fill="#5a6de8" stroke="#0d0d48" stroke-width="1.3"/>
<circle cx="489.40" cy="262.30" r="3.9" fill="#5a6de8" stroke="#0d0d48" stroke-width="1.3"/>
<circle cx="489.40" cy="269.20" r="3.9" fill="#5a6de8" stroke="#0d0d48" stroke-width="1.3"/>
<circle cx="489.40" cy="271.50" r="3.9" fill="#5a6de8" stroke="#0d0d48" stroke-width="1.3"/>
<circle cx="489.40" cy="277.30" r="3.9" fill="#5a6de8" stroke="#0d0d48" stroke-width="1.3"/>
<circle cx="489.40" cy="279.60" r="3.9" fill="#5a6de8" stroke="#0d0d48" stroke-width="1.3"/>
<circle cx="489.40" cy="284.20" r="3.9" fill="#5a6de8" stroke="#0d0d48" stroke-width="1.3"/>
<rect x="376.10" y="260.20" width="9.90" height="8" fill="#fff"/>
<text x="377.10" y="267.10" font-size="8.6" font-weight="bold" textLength="7.90" lengthAdjust="spacingAndGlyphs" fill="#111" stroke="#111" stroke-width="0.1">16</text>
<rect x="436.10" y="266.60" width="5.90" height="8" fill="#fff"/>
<text x="437.10" y="273.50" font-size="8.6" font-weight="bold" textLength="3.90" lengthAdjust="spacingAndGlyphs" fill="#111" stroke="#111" stroke-width="0.1">9</text>
<rect x="496.10" y="266.00" width="9.90" height="8" fill="#fff"/>
<text x="497.10" y="272.90" font-size="8.6" font-weight="bold" textLength="7.90" lengthAdjust="spacingAndGlyphs" fill="#111" stroke="#111" stroke-width="0.1">10</text>
<text x="-0.20" y="9.40" font-size="13.8" font-weight="bold" fill="#000">A</text>
<line x1="155.10" y1="429.45" x2="313.70" y2="429.45" stroke="#8a8a8a" stroke-width="0.9" stroke-dasharray="1.2,1.1"/>
<line x1="155.10" y1="460.00" x2="313.70" y2="460.00" stroke="#8a8a8a" stroke-width="0.9" stroke-dasharray="1.2,1.1"/>
<line x1="155.10" y1="490.55" x2="313.70" y2="490.55" stroke="#8a8a8a" stroke-width="0.9" stroke-dasharray="1.2,1.1"/>
<rect x="155.10" y="398.90" width="158.60" height="122.20" fill="none" stroke="#111" stroke-width="1.25"/>
<line x1="194.75" y1="521.10" x2="194.75" y2="519.10" stroke="#333" stroke-width="0.9"/>
<line x1="194.75" y1="398.90" x2="194.75" y2="400.90" stroke="#333" stroke-width="0.9"/>
<line x1="234.40" y1="521.10" x2="234.40" y2="519.10" stroke="#333" stroke-width="0.9"/>
<line x1="234.40" y1="398.90" x2="234.40" y2="400.90" stroke="#333" stroke-width="0.9"/>
<line x1="274.05" y1="521.10" x2="274.05" y2="519.10" stroke="#333" stroke-width="0.9"/>
<line x1="274.05" y1="398.90" x2="274.05" y2="400.90" stroke="#333" stroke-width="0.9"/>
<line x1="155.10" y1="429.45" x2="157.10" y2="429.45" stroke="#333" stroke-width="0.9"/>
<line x1="313.70" y1="429.45" x2="311.70" y2="429.45" stroke="#333" stroke-width="0.9"/>
<line x1="155.10" y1="460.00" x2="157.10" y2="460.00" stroke="#333" stroke-width="0.9"/>
<line x1="313.70" y1="460.00" x2="311.70" y2="460.00" stroke="#333" stroke-width="0.9"/>
<line x1="155.10" y1="490.55" x2="157.10" y2="490.55" stroke="#333" stroke-width="0.9"/>
<line x1="313.70" y1="490.55" x2="311.70" y2="490.55" stroke="#333" stroke-width="0.9"/>
<text x="153.60" y="402.20" font-size="9.3" text-anchor="end" fill="#111" stroke="#111" stroke-width="0.4">1000</text>
<text x="153.60" y="432.75" font-size="9.3" text-anchor="end" fill="#111" stroke="#111" stroke-width="0.4">100</text>
<text x="153.60" y="463.30" font-size="9.3" text-anchor="end" fill="#111" stroke="#111" stroke-width="0.4">10</text>
<text x="153.60" y="493.85" font-size="9.3" text-anchor="end" fill="#111" stroke="#111" stroke-width="0.4">1</text>
<text x="155.10" y="531.30" font-size="9.3" text-anchor="middle" fill="#111" stroke="#111" stroke-width="0.4">0</text>
<text x="194.75" y="531.30" font-size="9.3" text-anchor="middle" fill="#111" stroke="#111" stroke-width="0.4">10</text>
<text x="234.40" y="531.30" font-size="9.3" text-anchor="middle" fill="#111" stroke="#111" stroke-width="0.4">20</text>
<text x="274.05" y="531.30" font-size="9.3" text-anchor="middle" fill="#111" stroke="#111" stroke-width="0.4">30</text>
<text x="313.70" y="531.30" font-size="9.3" text-anchor="middle" fill="#111" stroke="#111" stroke-width="0.4">40</text>
<text x="234.40" y="540.40" font-size="9.3" text-anchor="middle" fill="#111" stroke="#111" stroke-width="0.4">Time (h)</text>
<text x="234.40" y="391.30" font-size="9.5" text-anchor="middle" fill="#111" stroke="#111" stroke-width="0.35">CD138</text>
<text x="129.10" y="460.00" font-size="9.7" text-anchor="middle" transform="rotate(-90 129.10 460.00)" fill="#111" stroke="#111" stroke-width="0.45">Relative MFI</text>
<polyline points="155.10,400.80 210.61,402.00 250.26,408.75" fill="none" stroke="#111" stroke-width="1.2"/>
<polyline points="155.10,427.60 250.26,462.40 297.84,470.50" fill="none" stroke="#111" stroke-width="1.2"/>
<polyline points="155.10,460.00 250.26,475.00" fill="none" stroke="#111" stroke-width="1.2"/>
<polyline points="155.10,460.00 178.89,483.20 226.47,484.60" fill="none" stroke="#111" stroke-width="1.2"/>
<polyline points="155.10,460.00 210.61,484.50 242.33,483.80 313.70,488.30" fill="none" stroke="#111" stroke-width="1.2"/>
<polyline points="155.10,460.00" fill="none" stroke="#111" stroke-width="1.2"/>
<rect x="152.00" y="397.70" width="6.2" height="6.2" fill="#0a0af0" stroke="#00007a" stroke-width="0.9"/>
<rect x="207.51" y="398.90" width="6.2" height="6.2" fill="#0a0af0" stroke="#00007a" stroke-width="0.9"/>
<rect x="247.16" y="405.65" width="6.2" height="6.2" fill="#0a0af0" stroke="#00007a" stroke-width="0.9"/>
<path d="M155.10,422.10 L159.20,427.60 L155.10,433.10 L151.00,427.60 Z" fill="#0a0af0" stroke="#00007a" stroke-width="0.9"/>
<path d="M250.26,456.90 L254.36,462.40 L250.26,467.90 L246.16,462.40 Z" fill="#0a0af0" stroke="#00007a" stroke-width="0.9"/>
<path d="M297.84,465.00 L301.94,470.50 L297.84,476.00 L293.74,470.50 Z" fill="#0a0af0" stroke="#00007a" stroke-width="0.9"/>
<path d="M151.20,460.00 H159.00 M155.10,456.10 V463.90 M152.30,457.20 L157.90,462.80 M152.30,462.80 L157.90,457.20" stroke="#111" stroke-width="1.1"/>
<path d="M246.36,475.00 H254.16 M250.26,471.10 V478.90 M247.46,472.20 L253.06,477.80 M247.46,477.80 L253.06,472.20" stroke="#111" stroke-width="1.1"/>
<path d="M151.10,460.00 H159.10 M155.10,456.00 V464.00" stroke="#111" stroke-width="1.1"/>
<path d="M174.89,483.20 H182.89 M178.89,479.20 V487.20" stroke="#111" stroke-width="1.1"/>
<path d="M222.47,484.60 H230.47 M226.47,480.60 V488.60" stroke="#111" stroke-width="1.1"/>
<circle cx="155.10" cy="460.00" r="4.2" fill="#0a0af0" stroke="#00006a" stroke-width="1"/>
<circle cx="210.61" cy="484.50" r="4.2" fill="#0a0af0" stroke="#00006a" stroke-width="1"/>
<circle cx="242.33" cy="483.80" r="4.2" fill="#0a0af0" stroke="#00006a" stroke-width="1"/>
<circle cx="313.70" cy="488.30" r="4.2" fill="#0a0af0" stroke="#00006a" stroke-width="1"/>
<circle cx="155.10" cy="460.00" r="4.4" fill="#12127e" stroke="#000050" stroke-width="1"/>
<line x1="356.30" y1="429.45" x2="514.60" y2="429.45" stroke="#8a8a8a" stroke-width="0.9" stroke-dasharray="1.2,1.1"/>
<line x1="356.30" y1="460.00" x2="514.60" y2="460.00" stroke="#8a8a8a" stroke-width="0.9" stroke-dasharray="1.2,1.1"/>
<line x1="356.30" y1="490.55" x2="514.60" y2="490.55" stroke="#8a8a8a" stroke-width="0.9" stroke-dasharray="1.2,1.1"/>
<rect x="356.30" y="398.90" width="158.30" height="122.20" fill="none" stroke="#111" stroke-width="1.25"/>
<line x1="395.88" y1="521.10" x2="395.88" y2="519.10" stroke="#333" stroke-width="0.9"/>
<line x1="395.88" y1="398.90" x2="395.88" y2="400.90" stroke="#333" stroke-width="0.9"/>
<line x1="435.45" y1="521.10" x2="435.45" y2="519.10" stroke="#333" stroke-width="0.9"/>
<line x1="435.45" y1="398.90" x2="435.45" y2="400.90" stroke="#333" stroke-width="0.9"/>
<line x1="475.03" y1="521.10" x2="475.03" y2="519.10" stroke="#333" stroke-width="0.9"/>
<line x1="475.03" y1="398.90" x2="475.03" y2="400.90" stroke="#333" stroke-width="0.9"/>
<line x1="356.30" y1="429.45" x2="358.30" y2="429.45" stroke="#333" stroke-width="0.9"/>
<line x1="514.60" y1="429.45" x2="512.60" y2="429.45" stroke="#333" stroke-width="0.9"/>
<line x1="356.30" y1="460.00" x2="358.30" y2="460.00" stroke="#333" stroke-width="0.9"/>
<line x1="514.60" y1="460.00" x2="512.60" y2="460.00" stroke="#333" stroke-width="0.9"/>
<line x1="356.30" y1="490.55" x2="358.30" y2="490.55" stroke="#333" stroke-width="0.9"/>
<line x1="514.60" y1="490.55" x2="512.60" y2="490.55" stroke="#333" stroke-width="0.9"/>
<text x="354.80" y="402.20" font-size="9.3" text-anchor="end" fill="#111" stroke="#111" stroke-width="0.4">1000</text>
<text x="354.80" y="432.75" font-size="9.3" text-anchor="end" fill="#111" stroke="#111" stroke-width="0.4">100</text>
<text x="354.80" y="463.30" font-size="9.3" text-anchor="end" fill="#111" stroke="#111" stroke-width="0.4">10</text>
<text x="354.80" y="493.85" font-size="9.3" text-anchor="end" fill="#111" stroke="#111" stroke-width="0.4">1</text>
<text x="356.30" y="531.30" font-size="9.3" text-anchor="middle" fill="#111" stroke="#111" stroke-width="0.4">0</text>
<text x="395.88" y="531.30" font-size="9.3" text-anchor="middle" fill="#111" stroke="#111" stroke-width="0.4">10</text>
<text x="435.45" y="531.30" font-size="9.3" text-anchor="middle" fill="#111" stroke="#111" stroke-width="0.4">20</text>
<text x="475.03" y="531.30" font-size="9.3" text-anchor="middle" fill="#111" stroke="#111" stroke-width="0.4">30</text>
<text x="514.60" y="531.30" font-size="9.3" text-anchor="middle" fill="#111" stroke="#111" stroke-width="0.4">40</text>
<text x="435.45" y="540.40" font-size="9.3" text-anchor="middle" fill="#111" stroke="#111" stroke-width="0.4">Time (h)</text>
<text x="435.45" y="391.30" font-size="9.5" text-anchor="middle" fill="#111" stroke="#111" stroke-width="0.35">CD319</text>
<text x="330.30" y="460.00" font-size="9.7" text-anchor="middle" transform="rotate(-90 330.30 460.00)" fill="#111" stroke="#111" stroke-width="0.45">Relative MFI</text>
<polyline points="356.30,451.70 451.28,446.20 498.77,442.30 514.60,443.70" fill="none" stroke="#111" stroke-width="1.2"/>
<polyline points="356.30,453.50 451.28,449.00" fill="none" stroke="#111" stroke-width="1.2"/>
<polyline points="356.30,446.50 380.05,446.30 427.54,444.70" fill="none" stroke="#111" stroke-width="1.2"/>
<polyline points="356.30,446.50 411.71,446.40 443.37,441.30 514.60,443.70" fill="none" stroke="#111" stroke-width="1.2"/>
<polyline points="356.30,461.00 411.71,454.20 451.28,451.00" fill="none" stroke="#111" stroke-width="1.2"/>
<polyline points="356.30,446.50" fill="none" stroke="#111" stroke-width="1.2"/>
<path d="M356.30,446.20 L360.40,451.70 L356.30,457.20 L352.20,451.70 Z" fill="#0a0af0" stroke="#00007a" stroke-width="0.9"/>
<path d="M451.28,440.70 L455.38,446.20 L451.28,451.70 L447.18,446.20 Z" fill="#0a0af0" stroke="#00007a" stroke-width="0.9"/>
<path d="M498.77,436.80 L502.87,442.30 L498.77,447.80 L494.67,442.30 Z" fill="#0a0af0" stroke="#00007a" stroke-width="0.9"/>
<path d="M514.60,438.20 L518.70,443.70 L514.60,449.20 L510.50,443.70 Z" fill="#0a0af0" stroke="#00007a" stroke-width="0.9"/>
<path d="M356.30,448.00 L360.40,453.50 L356.30,459.00 L352.20,453.50 Z" fill="#0a0af0" stroke="#00007a" stroke-width="0.9"/>
<path d="M451.28,443.50 L455.38,449.00 L451.28,454.50 L447.18,449.00 Z" fill="#0a0af0" stroke="#00007a" stroke-width="0.9"/>
<path d="M352.40,446.50 H360.20 M356.30,442.60 V450.40 M353.50,443.70 L359.10,449.30 M353.50,449.30 L359.10,443.70" stroke="#111" stroke-width="1.1"/>
<path d="M376.15,446.30 H383.94 M380.05,442.40 V450.20 M377.25,443.50 L382.85,449.10 M377.25,449.10 L382.85,443.50" stroke="#111" stroke-width="1.1"/>
<path d="M423.64,444.70 H431.44 M427.54,440.80 V448.60 M424.74,441.90 L430.34,447.50 M424.74,447.50 L430.34,441.90" stroke="#111" stroke-width="1.1"/>
<circle cx="356.30" cy="446.50" r="4.2" fill="#0a0af0" stroke="#00006a" stroke-width="1"/>
<circle cx="411.71" cy="446.40" r="4.2" fill="#0a0af0" stroke="#00006a" stroke-width="1"/>
<circle cx="443.37" cy="441.30" r="4.2" fill="#0a0af0" stroke="#00006a" stroke-width="1"/>
<circle cx="514.60" cy="443.70" r="4.2" fill="#0a0af0" stroke="#00006a" stroke-width="1"/>
<rect x="353.20" y="457.90" width="6.2" height="6.2" fill="#0a0af0" stroke="#00007a" stroke-width="0.9"/>
<rect x="408.61" y="451.10" width="6.2" height="6.2" fill="#0a0af0" stroke="#00007a" stroke-width="0.9"/>
<rect x="448.18" y="447.90" width="6.2" height="6.2" fill="#0a0af0" stroke="#00007a" stroke-width="0.9"/>
<circle cx="356.30" cy="446.50" r="4.4" fill="#12127e" stroke="#000050" stroke-width="1"/>
<line x1="154.90" y1="592.65" x2="313.60" y2="592.65" stroke="#8a8a8a" stroke-width="0.9" stroke-dasharray="1.2,1.1"/>
<line x1="154.90" y1="623.20" x2="313.60" y2="623.20" stroke="#8a8a8a" stroke-width="0.9" stroke-dasharray="1.2,1.1"/>
<line x1="154.90" y1="653.75" x2="313.60" y2="653.75" stroke="#8a8a8a" stroke-width="0.9" stroke-dasharray="1.2,1.1"/>
<rect x="154.90" y="562.10" width="158.70" height="122.20" fill="none" stroke="#111" stroke-width="1.25"/>
<line x1="194.58" y1="684.30" x2="194.58" y2="682.30" stroke="#333" stroke-width="0.9"/>
<line x1="194.58" y1="562.10" x2="194.58" y2="564.10" stroke="#333" stroke-width="0.9"/>
<line x1="234.25" y1="684.30" x2="234.25" y2="682.30" stroke="#333" stroke-width="0.9"/>
<line x1="234.25" y1="562.10" x2="234.25" y2="564.10" stroke="#333" stroke-width="0.9"/>
<line x1="273.93" y1="684.30" x2="273.93" y2="682.30" stroke="#333" stroke-width="0.9"/>
<line x1="273.93" y1="562.10" x2="273.93" y2="564.10" stroke="#333" stroke-width="0.9"/>
<line x1="154.90" y1="592.65" x2="156.90" y2="592.65" stroke="#333" stroke-width="0.9"/>
<line x1="313.60" y1="592.65" x2="311.60" y2="592.65" stroke="#333" stroke-width="0.9"/>
<line x1="154.90" y1="623.20" x2="156.90" y2="623.20" stroke="#333" stroke-width="0.9"/>
<line x1="313.60" y1="623.20" x2="311.60" y2="623.20" stroke="#333" stroke-width="0.9"/>
<line x1="154.90" y1="653.75" x2="156.90" y2="653.75" stroke="#333" stroke-width="0.9"/>
<line x1="313.60" y1="653.75" x2="311.60" y2="653.75" stroke="#333" stroke-width="0.9"/>
<text x="153.40" y="565.40" font-size="9.3" text-anchor="end" fill="#111" stroke="#111" stroke-width="0.4">1000</text>
<text x="153.40" y="595.95" font-size="9.3" text-anchor="end" fill="#111" stroke="#111" stroke-width="0.4">100</text>
<text x="153.40" y="626.50" font-size="9.3" text-anchor="end" fill="#111" stroke="#111" stroke-width="0.4">10</text>
<text x="153.40" y="657.05" font-size="9.3" text-anchor="end" fill="#111" stroke="#111" stroke-width="0.4">1</text>
<text x="154.90" y="694.50" font-size="9.3" text-anchor="middle" fill="#111" stroke="#111" stroke-width="0.4">0</text>
<text x="194.58" y="694.50" font-size="9.3" text-anchor="middle" fill="#111" stroke="#111" stroke-width="0.4">10</text>
<text x="234.25" y="694.50" font-size="9.3" text-anchor="middle" fill="#111" stroke="#111" stroke-width="0.4">20</text>
<text x="273.93" y="694.50" font-size="9.3" text-anchor="middle" fill="#111" stroke="#111" stroke-width="0.4">30</text>
<text x="313.60" y="694.50" font-size="9.3" text-anchor="middle" fill="#111" stroke="#111" stroke-width="0.4">40</text>
<text x="234.25" y="702.70" font-size="9.3" text-anchor="middle" fill="#111" stroke="#111" stroke-width="0.4">Time (h)</text>
<text x="234.25" y="553.60" font-size="9.5" text-anchor="middle" fill="#111" stroke="#111" stroke-width="0.35">CD307e</text>
<text x="128.90" y="623.20" font-size="9.7" text-anchor="middle" transform="rotate(-90 128.90 623.20)" fill="#111" stroke="#111" stroke-width="0.45">Relative MFI</text>
<polyline points="154.90,623.80 178.71,621.30 226.31,621.70" fill="none" stroke="#111" stroke-width="1.2"/>
<polyline points="154.90,628.80 250.12,617.60" fill="none" stroke="#111" stroke-width="1.2"/>
<polyline points="154.90,642.00 250.12,629.30 297.73,616.00 313.60,616.80" fill="none" stroke="#111" stroke-width="1.2"/>
<polyline points="154.90,603.30 210.44,610.10 242.19,616.40 313.60,616.80" fill="none" stroke="#111" stroke-width="1.2"/>
<polyline points="154.90,599.50 210.44,609.50 250.12,610.80" fill="none" stroke="#111" stroke-width="1.2"/>
<path d="M151.00,623.80 H158.80 M154.90,619.90 V627.70 M152.10,621.00 L157.70,626.60 M152.10,626.60 L157.70,621.00" stroke="#111" stroke-width="1.1"/>
<path d="M174.81,621.30 H182.61 M178.71,617.40 V625.20 M175.91,618.50 L181.51,624.10 M175.91,624.10 L181.51,618.50" stroke="#111" stroke-width="1.1"/>
<path d="M222.41,621.70 H230.22 M226.31,617.80 V625.60 M223.51,618.90 L229.12,624.50 M223.51,624.50 L229.12,618.90" stroke="#111" stroke-width="1.1"/>
<path d="M151.70,625.60 L158.10,632.00 M151.70,632.00 L158.10,625.60" stroke="#111" stroke-width="1.1"/>
<path d="M246.92,614.40 L253.32,620.80 M246.92,620.80 L253.32,614.40" stroke="#111" stroke-width="1.1"/>
<path d="M154.90,636.50 L159.00,642.00 L154.90,647.50 L150.80,642.00 Z" fill="#0a0af0" stroke="#00007a" stroke-width="0.9"/>
<path d="M250.12,623.80 L254.22,629.30 L250.12,634.80 L246.02,629.30 Z" fill="#0a0af0" stroke="#00007a" stroke-width="0.9"/>
<path d="M297.73,610.50 L301.83,616.00 L297.73,621.50 L293.63,616.00 Z" fill="#0a0af0" stroke="#00007a" stroke-width="0.9"/>
<path d="M313.60,611.30 L317.70,616.80 L313.60,622.30 L309.50,616.80 Z" fill="#0a0af0" stroke="#00007a" stroke-width="0.9"/>
<circle cx="154.90" cy="603.30" r="4.2" fill="#0a0af0" stroke="#00006a" stroke-width="1"/>
<circle cx="210.44" cy="610.10" r="4.2" fill="#0a0af0" stroke="#00006a" stroke-width="1"/>
<circle cx="242.19" cy="616.40" r="4.2" fill="#0a0af0" stroke="#00006a" stroke-width="1"/>
<circle cx="313.60" cy="616.80" r="4.2" fill="#0a0af0" stroke="#00006a" stroke-width="1"/>
<rect x="151.80" y="596.40" width="6.2" height="6.2" fill="#0a0af0" stroke="#00007a" stroke-width="0.9"/>
<rect x="207.34" y="606.40" width="6.2" height="6.2" fill="#0a0af0" stroke="#00007a" stroke-width="0.9"/>
<rect x="247.02" y="607.70" width="6.2" height="6.2" fill="#0a0af0" stroke="#00007a" stroke-width="0.9"/>
<line x1="356.40" y1="592.65" x2="514.60" y2="592.65" stroke="#8a8a8a" stroke-width="0.9" stroke-dasharray="1.2,1.1"/>
<line x1="356.40" y1="623.20" x2="514.60" y2="623.20" stroke="#8a8a8a" stroke-width="0.9" stroke-dasharray="1.2,1.1"/>
<line x1="356.40" y1="653.75" x2="514.60" y2="653.75" stroke="#8a8a8a" stroke-width="0.9" stroke-dasharray="1.2,1.1"/>
<rect x="356.40" y="562.10" width="158.20" height="122.20" fill="none" stroke="#111" stroke-width="1.25"/>
<line x1="395.95" y1="684.30" x2="395.95" y2="682.30" stroke="#333" stroke-width="0.9"/>
<line x1="395.95" y1="562.10" x2="395.95" y2="564.10" stroke="#333" stroke-width="0.9"/>
<line x1="435.50" y1="684.30" x2="435.50" y2="682.30" stroke="#333" stroke-width="0.9"/>
<line x1="435.50" y1="562.10" x2="435.50" y2="564.10" stroke="#333" stroke-width="0.9"/>
<line x1="475.05" y1="684.30" x2="475.05" y2="682.30" stroke="#333" stroke-width="0.9"/>
<line x1="475.05" y1="562.10" x2="475.05" y2="564.10" stroke="#333" stroke-width="0.9"/>
<line x1="356.40" y1="592.65" x2="358.40" y2="592.65" stroke="#333" stroke-width="0.9"/>
<line x1="514.60" y1="592.65" x2="512.60" y2="592.65" stroke="#333" stroke-width="0.9"/>
<line x1="356.40" y1="623.20" x2="358.40" y2="623.20" stroke="#333" stroke-width="0.9"/>
<line x1="514.60" y1="623.20" x2="512.60" y2="623.20" stroke="#333" stroke-width="0.9"/>
<line x1="356.40" y1="653.75" x2="358.40" y2="653.75" stroke="#333" stroke-width="0.9"/>
<line x1="514.60" y1="653.75" x2="512.60" y2="653.75" stroke="#333" stroke-width="0.9"/>
<text x="354.90" y="565.40" font-size="9.3" text-anchor="end" fill="#111" stroke="#111" stroke-width="0.4">1000</text>
<text x="354.90" y="595.95" font-size="9.3" text-anchor="end" fill="#111" stroke="#111" stroke-width="0.4">100</text>
<text x="354.90" y="626.50" font-size="9.3" text-anchor="end" fill="#111" stroke="#111" stroke-width="0.4">10</text>
<text x="354.90" y="657.05" font-size="9.3" text-anchor="end" fill="#111" stroke="#111" stroke-width="0.4">1</text>
<text x="356.40" y="694.50" font-size="9.3" text-anchor="middle" fill="#111" stroke="#111" stroke-width="0.4">0</text>
<text x="395.95" y="694.50" font-size="9.3" text-anchor="middle" fill="#111" stroke="#111" stroke-width="0.4">10</text>
<text x="435.50" y="694.50" font-size="9.3" text-anchor="middle" fill="#111" stroke="#111" stroke-width="0.4">20</text>
<text x="475.05" y="694.50" font-size="9.3" text-anchor="middle" fill="#111" stroke="#111" stroke-width="0.4">30</text>
<text x="514.60" y="694.50" font-size="9.3" text-anchor="middle" fill="#111" stroke="#111" stroke-width="0.4">40</text>
<text x="435.50" y="702.70" font-size="9.3" text-anchor="middle" fill="#111" stroke="#111" stroke-width="0.4">Time (h)</text>
<text x="435.50" y="553.60" font-size="9.5" text-anchor="middle" fill="#111" stroke="#111" stroke-width="0.35">CD269</text>
<text x="330.40" y="623.20" font-size="9.7" text-anchor="middle" transform="rotate(-90 330.40 623.20)" fill="#111" stroke="#111" stroke-width="0.45">Relative MFI</text>
<polyline points="356.40,627.00 380.13,626.70 427.59,624.40" fill="none" stroke="#111" stroke-width="1.2"/>
<polyline points="356.40,649.50 451.32,627.00 498.78,612.60 514.60,611.40" fill="none" stroke="#111" stroke-width="1.2"/>
<polyline points="356.40,621.00 411.77,614.90 443.41,613.20 514.60,611.40" fill="none" stroke="#111" stroke-width="1.2"/>
<polyline points="356.40,606.60 411.77,611.10 451.32,614.40" fill="none" stroke="#111" stroke-width="1.2"/>
<path d="M352.50,627.00 H360.30 M356.40,623.10 V630.90 M353.60,624.20 L359.20,629.80 M353.60,629.80 L359.20,624.20" stroke="#111" stroke-width="1.1"/>
<path d="M376.23,626.70 H384.03 M380.13,622.80 V630.60 M377.33,623.90 L382.93,629.50 M377.33,629.50 L382.93,623.90" stroke="#111" stroke-width="1.1"/>
<path d="M423.69,624.40 H431.49 M427.59,620.50 V628.30 M424.79,621.60 L430.39,627.20 M424.79,627.20 L430.39,621.60" stroke="#111" stroke-width="1.1"/>
<path d="M356.40,644.00 L360.50,649.50 L356.40,655.00 L352.30,649.50 Z" fill="#0a0af0" stroke="#00007a" stroke-width="0.9"/>
<path d="M451.32,621.50 L455.42,627.00 L451.32,632.50 L447.22,627.00 Z" fill="#0a0af0" stroke="#00007a" stroke-width="0.9"/>
<path d="M498.78,607.10 L502.88,612.60 L498.78,618.10 L494.68,612.60 Z" fill="#0a0af0" stroke="#00007a" stroke-width="0.9"/>
<path d="M514.60,605.90 L518.70,611.40 L514.60,616.90 L510.50,611.40 Z" fill="#0a0af0" stroke="#00007a" stroke-width="0.9"/>
<circle cx="356.40" cy="621.00" r="4.2" fill="#0a0af0" stroke="#00006a" stroke-width="1"/>
<circle cx="411.77" cy="614.90" r="4.2" fill="#0a0af0" stroke="#00006a" stroke-width="1"/>
<circle cx="443.41" cy="613.20" r="4.2" fill="#0a0af0" stroke="#00006a" stroke-width="1"/>
<circle cx="514.60" cy="611.40" r="4.2" fill="#0a0af0" stroke="#00006a" stroke-width="1"/>
<rect x="353.30" y="603.50" width="6.2" height="6.2" fill="#0a0af0" stroke="#00007a" stroke-width="0.9"/>
<rect x="408.67" y="608.00" width="6.2" height="6.2" fill="#0a0af0" stroke="#00007a" stroke-width="0.9"/>
<rect x="448.22" y="611.30" width="6.2" height="6.2" fill="#0a0af0" stroke="#00007a" stroke-width="0.9"/>
<text x="121.60" y="382.10" font-size="13.2" font-weight="bold" fill="#000">C</text>
<defs><filter id="bl1" x="-50%" y="-50%" width="200%" height="200%"><feGaussianBlur stdDeviation="1.0"/></filter><filter id="bl2" x="-50%" y="-50%" width="200%" height="200%"><feGaussianBlur stdDeviation="3"/></filter></defs>
<clipPath id="clip393"><rect x="17.40" y="393.10" width="79.70" height="76.70"/></clipPath>
<clipPath id="clip393g"><path d="M17.4 393.1H97.1V404.0H69.0V469.8H17.4Z"/></clipPath>
<clipPath id="clip393b"><rect x="69.0" y="404.0" width="26.5" height="65.80000000000001"/></clipPath>
<g clip-path="url(#clip393)"><g clip-path="url(#clip393g)">
<path d="M41.4 457.7h0.7v0.7h-0.7zM41.8 449.8h0.7v0.7h-0.7zM32.0 453.3h0.7v0.7h-0.7zM60.6 452.1h0.7v0.7h-0.7zM59.5 450.7h0.7v0.7h-0.7zM50.5 452.4h0.7v0.7h-0.7zM21.7 465.8h0.7v0.7h-0.7zM52.1 454.9h0.7v0.7h-0.7zM21.3 441.6h0.7v0.7h-0.7zM32.5 450.7h0.7v0.7h-0.7zM49.3 450.5h0.7v0.7h-0.7zM52.3 444.2h0.7v0.7h-0.7zM49.3 454.6h0.7v0.7h-0.7zM52.8 461.3h0.7v0.7h-0.7zM36.3 447.2h0.7v0.7h-0.7zM40.2 452.2h0.7v0.7h-0.7zM53.8 452.1h0.7v0.7h-0.7zM38.7 444.6h0.7v0.7h-0.7zM37.7 465.3h0.7v0.7h-0.7zM33.7 457.1h0.7v0.7h-0.7zM51.0 436.6h0.7v0.7h-0.7zM45.7 464.1h0.7v0.7h-0.7zM43.5 444.7h0.7v0.7h-0.7zM52.0 449.7h0.7v0.7h-0.7zM24.5 464.9h0.7v0.7h-0.7zM54.4 458.5h0.7v0.7h-0.7zM65.2 450.4h0.7v0.7h-0.7zM46.7 439.4h0.7v0.7h-0.7zM53.6 444.1h0.7v0.7h-0.7zM38.7 441.7h0.7v0.7h-0.7zM31.5 450.4h0.7v0.7h-0.7zM63.0 428.5h0.7v0.7h-0.7zM24.6 459.3h0.7v0.7h-0.7zM65.2 452.4h0.7v0.7h-0.7zM18.4 435.1h0.7v0.7h-0.7zM50.0 443.9h0.7v0.7h-0.7zM29.3 465.1h0.7v0.7h-0.7zM60.4 449.6h0.7v0.7h-0.7zM48.4 455.2h0.7v0.7h-0.7zM67.3 452.2h0.7v0.7h-0.7zM52.3 455.3h0.7v0.7h-0.7zM58.4 453.6h0.7v0.7h-0.7zM56.8 432.1h0.7v0.7h-0.7zM42.4 462.2h0.7v0.7h-0.7zM52.7 448.7h0.7v0.7h-0.7zM49.5 457.0h0.7v0.7h-0.7zM46.7 462.3h0.7v0.7h-0.7zM35.7 450.4h0.7v0.7h-0.7zM59.6 448.6h0.7v0.7h-0.7zM32.7 463.9h0.7v0.7h-0.7zM65.5 442.7h0.7v0.7h-0.7zM25.7 455.6h0.7v0.7h-0.7zM42.9 449.7h0.7v0.7h-0.7zM64.7 437.5h0.7v0.7h-0.7zM62.6 435.7h0.7v0.7h-0.7zM34.0 460.7h0.7v0.7h-0.7zM60.8 456.1h0.7v0.7h-0.7zM49.8 452.1h0.7v0.7h-0.7zM47.1 456.9h0.7v0.7h-0.7zM42.5 455.2h0.7v0.7h-0.7zM53.0 450.0h0.7v0.7h-0.7zM55.7 454.6h0.7v0.7h-0.7zM39.0 450.0h0.7v0.7h-0.7zM44.8 460.7h0.7v0.7h-0.7zM40.3 456.8h0.7v0.7h-0.7zM29.3 458.2h0.7v0.7h-0.7zM50.6 452.8h0.7v0.7h-0.7zM39.0 459.6h0.7v0.7h-0.7zM48.9 446.1h0.7v0.7h-0.7zM37.2 453.0h0.7v0.7h-0.7zM41.8 452.2h0.7v0.7h-0.7zM59.1 437.5h0.7v0.7h-0.7zM44.1 461.2h0.7v0.7h-0.7zM57.0 463.0h0.7v0.7h-0.7zM21.2 454.6h0.7v0.7h-0.7zM40.2 459.0h0.7v0.7h-0.7zM60.3 423.0h0.7v0.7h-0.7zM60.2 434.6h0.7v0.7h-0.7zM54.6 435.6h0.7v0.7h-0.7zM47.5 462.6h0.7v0.7h-0.7zM42.9 454.3h0.7v0.7h-0.7zM56.2 450.5h0.7v0.7h-0.7zM43.8 466.7h0.7v0.7h-0.7zM59.7 445.6h0.7v0.7h-0.7zM57.8 446.3h0.7v0.7h-0.7zM46.9 458.1h0.7v0.7h-0.7zM48.1 457.2h0.7v0.7h-0.7zM23.6 443.2h0.7v0.7h-0.7zM53.6 440.8h0.7v0.7h-0.7zM30.6 441.8h0.7v0.7h-0.7zM62.7 454.6h0.7v0.7h-0.7zM65.6 438.1h0.7v0.7h-0.7zM45.0 441.3h0.7v0.7h-0.7zM55.7 464.2h0.7v0.7h-0.7zM58.8 446.9h0.7v0.7h-0.7zM43.7 446.7h0.7v0.7h-0.7zM50.6 454.4h0.7v0.7h-0.7zM66.0 437.2h0.7v0.7h-0.7zM60.9 462.0h0.7v0.7h-0.7zM65.3 445.2h0.7v0.7h-0.7zM34.6 464.1h0.7v0.7h-0.7zM46.6 452.8h0.7v0.7h-0.7zM64.9 444.5h0.7v0.7h-0.7zM19.0 466.2h0.7v0.7h-0.7zM49.4 445.2h0.7v0.7h-0.7zM44.9 459.8h0.7v0.7h-0.7zM46.1 464.1h0.7v0.7h-0.7zM44.1 462.0h0.7v0.7h-0.7zM65.9 461.9h0.7v0.7h-0.7zM35.6 462.6h0.7v0.7h-0.7zM18.7 448.4h0.7v0.7h-0.7zM27.8 456.2h0.7v0.7h-0.7zM42.3 452.4h0.7v0.7h-0.7zM36.7 456.3h0.7v0.7h-0.7zM52.4 459.5h0.7v0.7h-0.7zM42.2 440.9h0.7v0.7h-0.7zM37.2 464.0h0.7v0.7h-0.7zM22.0 452.2h0.7v0.7h-0.7zM59.1 455.9h0.7v0.7h-0.7zM45.1 459.5h0.7v0.7h-0.7zM47.3 440.4h0.7v0.7h-0.7zM23.1 451.5h0.7v0.7h-0.7zM57.9 443.5h0.7v0.7h-0.7zM32.4 447.9h0.7v0.7h-0.7zM23.6 456.3h0.7v0.7h-0.7zM28.5 459.5h0.7v0.7h-0.7zM36.0 436.1h0.7v0.7h-0.7zM55.1 446.9h0.7v0.7h-0.7zM49.1 446.7h0.7v0.7h-0.7zM55.9 456.3h0.7v0.7h-0.7zM54.3 452.7h0.7v0.7h-0.7zM63.7 453.5h0.7v0.7h-0.7zM51.3 430.9h0.7v0.7h-0.7zM57.6 461.1h0.7v0.7h-0.7zM40.8 448.6h0.7v0.7h-0.7zM32.0 461.7h0.7v0.7h-0.7zM52.9 458.5h0.7v0.7h-0.7zM32.3 454.3h0.7v0.7h-0.7zM49.1 458.7h0.7v0.7h-0.7zM44.5 450.3h0.7v0.7h-0.7zM30.8 452.2h0.7v0.7h-0.7zM57.5 449.8h0.7v0.7h-0.7zM33.1 447.1h0.7v0.7h-0.7zM53.9 425.5h0.7v0.7h-0.7zM53.7 454.3h0.7v0.7h-0.7zM68.6 450.1h0.7v0.7h-0.7zM44.1 457.1h0.7v0.7h-0.7zM17.8 468.5h0.7v0.7h-0.7zM49.5 444.3h0.7v0.7h-0.7zM63.6 464.3h0.7v0.7h-0.7zM25.4 450.7h0.7v0.7h-0.7zM49.1 452.7h0.7v0.7h-0.7zM39.4 444.3h0.7v0.7h-0.7zM28.3 443.6h0.7v0.7h-0.7zM68.8 455.3h0.7v0.7h-0.7zM32.8 457.5h0.7v0.7h-0.7zM44.2 457.1h0.7v0.7h-0.7zM34.8 453.4h0.7v0.7h-0.7zM51.4 453.9h0.7v0.7h-0.7zM53.9 451.7h0.7v0.7h-0.7zM40.5 460.5h0.7v0.7h-0.7zM45.7 444.1h0.7v0.7h-0.7zM36.2 454.2h0.7v0.7h-0.7zM43.5 453.9h0.7v0.7h-0.7zM45.0 453.6h0.7v0.7h-0.7zM43.1 440.7h0.7v0.7h-0.7zM50.9 460.4h0.7v0.7h-0.7zM51.1 448.7h0.7v0.7h-0.7zM51.3 441.4h0.7v0.7h-0.7zM18.5 459.2h0.7v0.7h-0.7zM32.0 462.2h0.7v0.7h-0.7zM29.8 431.2h0.7v0.7h-0.7zM39.7 440.5h0.7v0.7h-0.7zM34.3 459.6h0.7v0.7h-0.7zM52.0 451.9h0.7v0.7h-0.7zM65.8 453.4h0.7v0.7h-0.7zM44.7 457.7h0.7v0.7h-0.7zM68.2 455.3h0.7v0.7h-0.7zM59.3 438.3h0.7v0.7h-0.7zM42.9 459.4h0.7v0.7h-0.7zM40.8 463.1h0.7v0.7h-0.7zM53.3 458.4h0.7v0.7h-0.7zM62.4 445.6h0.7v0.7h-0.7zM40.2 461.4h0.7v0.7h-0.7zM58.7 448.6h0.7v0.7h-0.7zM28.7 457.8h0.7v0.7h-0.7zM50.0 461.3h0.7v0.7h-0.7zM56.0 449.5h0.7v0.7h-0.7zM57.0 454.1h0.7v0.7h-0.7zM47.9 451.8h0.7v0.7h-0.7zM41.6 459.3h0.7v0.7h-0.7zM30.2 449.8h0.7v0.7h-0.7zM45.1 438.3h0.7v0.7h-0.7zM38.9 434.7h0.7v0.7h-0.7zM35.4 459.7h0.7v0.7h-0.7zM52.9 449.5h0.7v0.7h-0.7zM41.8 439.5h0.7v0.7h-0.7zM60.3 439.9h0.7v0.7h-0.7zM42.4 435.6h0.7v0.7h-0.7zM55.9 458.0h0.7v0.7h-0.7zM18.4 458.2h0.7v0.7h-0.7zM53.8 433.3h0.7v0.7h-0.7zM19.4 448.4h0.7v0.7h-0.7zM36.2 441.1h0.7v0.7h-0.7zM45.4 454.2h0.7v0.7h-0.7zM53.9 456.4h0.7v0.7h-0.7zM66.0 457.6h0.7v0.7h-0.7zM26.6 451.9h0.7v0.7h-0.7zM30.2 445.6h0.7v0.7h-0.7zM43.9 452.3h0.7v0.7h-0.7zM51.9 435.4h0.7v0.7h-0.7zM27.7 456.1h0.7v0.7h-0.7zM42.2 449.8h0.7v0.7h-0.7zM44.1 445.1h0.7v0.7h-0.7zM54.8 452.9h0.7v0.7h-0.7zM43.8 446.0h0.7v0.7h-0.7zM42.6 427.1h0.7v0.7h-0.7zM31.3 455.8h0.7v0.7h-0.7zM23.9 459.1h0.7v0.7h-0.7zM47.1 438.6h0.7v0.7h-0.7zM41.5 449.9h0.7v0.7h-0.7zM51.4 456.1h0.7v0.7h-0.7zM44.5 444.2h0.7v0.7h-0.7zM43.0 451.9h0.7v0.7h-0.7zM55.3 452.2h0.7v0.7h-0.7zM34.9 441.8h0.7v0.7h-0.7zM39.8 446.4h0.7v0.7h-0.7zM29.4 454.8h0.7v0.7h-0.7zM38.1 454.7h0.7v0.7h-0.7zM52.3 446.3h0.7v0.7h-0.7zM60.4 449.3h0.7v0.7h-0.7zM60.6 425.8h0.7v0.7h-0.7zM34.5 456.9h0.7v0.7h-0.7zM49.5 462.9h0.7v0.7h-0.7zM55.7 458.2h0.7v0.7h-0.7zM52.1 448.8h0.7v0.7h-0.7zM52.1 440.1h0.7v0.7h-0.7zM61.5 438.3h0.7v0.7h-0.7zM41.9 453.0h0.7v0.7h-0.7zM61.3 448.2h0.7v0.7h-0.7zM33.7 457.2h0.7v0.7h-0.7zM53.1 456.6h0.7v0.7h-0.7zM68.3 446.3h0.7v0.7h-0.7zM48.8 447.0h0.7v0.7h-0.7zM64.8 440.4h0.7v0.7h-0.7zM54.4 445.1h0.7v0.7h-0.7zM35.3 461.2h0.7v0.7h-0.7zM63.7 447.2h0.7v0.7h-0.7zM35.5 462.0h0.7v0.7h-0.7zM44.3 455.1h0.7v0.7h-0.7zM66.3 457.3h0.7v0.7h-0.7zM45.0 459.4h0.7v0.7h-0.7zM35.9 453.8h0.7v0.7h-0.7zM64.1 435.8h0.7v0.7h-0.7zM23.9 442.1h0.7v0.7h-0.7zM61.5 443.6h0.7v0.7h-0.7zM44.2 449.3h0.7v0.7h-0.7zM43.3 442.2h0.7v0.7h-0.7zM45.3 438.4h0.7v0.7h-0.7zM44.0 455.1h0.7v0.7h-0.7zM51.5 448.2h0.7v0.7h-0.7zM32.3 456.7h0.7v0.7h-0.7zM38.2 468.4h0.7v0.7h-0.7zM55.7 448.2h0.7v0.7h-0.7zM38.4 447.1h0.7v0.7h-0.7zM31.9 452.0h0.7v0.7h-0.7zM49.1 455.8h0.7v0.7h-0.7zM35.1 454.6h0.7v0.7h-0.7zM37.7 455.4h0.7v0.7h-0.7zM47.2 455.3h0.7v0.7h-0.7zM41.7 456.3h0.7v0.7h-0.7zM45.7 459.0h0.7v0.7h-0.7zM18.5 450.3h0.7v0.7h-0.7zM45.0 442.3h0.7v0.7h-0.7zM30.4 461.5h0.7v0.7h-0.7zM35.9 460.2h0.7v0.7h-0.7zM55.4 452.3h0.7v0.7h-0.7zM52.1 449.2h0.7v0.7h-0.7zM25.3 456.7h0.7v0.7h-0.7zM51.4 445.5h0.7v0.7h-0.7zM43.6 459.4h0.7v0.7h-0.7zM32.7 461.1h0.7v0.7h-0.7zM47.1 450.1h0.7v0.7h-0.7zM66.6 449.6h0.7v0.7h-0.7zM57.6 442.4h0.7v0.7h-0.7zM44.8 452.0h0.7v0.7h-0.7zM57.6 432.5h0.7v0.7h-0.7zM55.4 448.2h0.7v0.7h-0.7zM51.3 453.9h0.7v0.7h-0.7zM24.0 455.3h0.7v0.7h-0.7zM65.9 441.4h0.7v0.7h-0.7zM30.7 442.8h0.7v0.7h-0.7zM27.9 459.4h0.7v0.7h-0.7zM68.7 450.1h0.7v0.7h-0.7zM37.7 447.5h0.7v0.7h-0.7zM52.4 455.3h0.7v0.7h-0.7zM30.8 444.6h0.7v0.7h-0.7zM49.1 453.3h0.7v0.7h-0.7zM26.7 454.7h0.7v0.7h-0.7zM37.4 458.2h0.7v0.7h-0.7zM43.4 451.6h0.7v0.7h-0.7zM40.1 463.1h0.7v0.7h-0.7zM64.5 443.7h0.7v0.7h-0.7zM56.8 441.9h0.7v0.7h-0.7zM46.0 458.8h0.7v0.7h-0.7zM66.2 443.1h0.7v0.7h-0.7zM44.0 454.1h0.7v0.7h-0.7zM24.0 457.4h0.7v0.7h-0.7zM35.5 457.8h0.7v0.7h-0.7zM29.2 437.4h0.7v0.7h-0.7zM45.5 454.3h0.7v0.7h-0.7zM37.3 462.2h0.7v0.7h-0.7zM41.2 447.3h0.7v0.7h-0.7zM51.7 435.6h0.7v0.7h-0.7zM35.5 454.2h0.7v0.7h-0.7zM56.9 447.5h0.7v0.7h-0.7zM49.3 444.8h0.7v0.7h-0.7zM49.2 466.5h0.7v0.7h-0.7zM36.0 454.4h0.7v0.7h-0.7zM47.4 461.0h0.7v0.7h-0.7zM27.7 436.7h0.7v0.7h-0.7zM53.5 457.3h0.7v0.7h-0.7zM47.9 453.7h0.7v0.7h-0.7zM58.0 452.2h0.7v0.7h-0.7zM68.3 434.6h0.7v0.7h-0.7zM39.7 421.0h0.7v0.7h-0.7zM56.4 445.7h0.7v0.7h-0.7zM44.9 449.6h0.7v0.7h-0.7zM38.0 445.9h0.7v0.7h-0.7zM36.2 460.2h0.7v0.7h-0.7zM45.5 452.5h0.7v0.7h-0.7zM42.6 461.2h0.7v0.7h-0.7zM51.9 448.9h0.7v0.7h-0.7zM54.3 448.3h0.7v0.7h-0.7zM51.5 441.4h0.7v0.7h-0.7zM60.1 451.5h0.7v0.7h-0.7zM49.7 459.2h0.7v0.7h-0.7zM47.8 449.9h0.7v0.7h-0.7zM23.3 466.5h0.7v0.7h-0.7zM45.4 449.2h0.7v0.7h-0.7zM49.9 451.5h0.7v0.7h-0.7zM54.5 446.2h0.7v0.7h-0.7zM44.5 432.1h0.7v0.7h-0.7zM39.1 459.8h0.7v0.7h-0.7zM63.7 443.9h0.7v0.7h-0.7zM43.3 467.3h0.7v0.7h-0.7zM40.4 460.0h0.7v0.7h-0.7zM68.5 446.5h0.7v0.7h-0.7zM62.2 441.1h0.7v0.7h-0.7zM47.9 450.5h0.7v0.7h-0.7zM46.6 462.2h0.7v0.7h-0.7zM36.9 458.7h0.7v0.7h-0.7zM30.2 460.3h0.7v0.7h-0.7zM53.0 447.4h0.7v0.7h-0.7zM52.4 435.6h0.7v0.7h-0.7zM55.6 434.9h0.7v0.7h-0.7zM35.2 449.2h0.7v0.7h-0.7zM39.4 461.4h0.7v0.7h-0.7zM46.1 448.0h0.7v0.7h-0.7zM52.6 464.9h0.7v0.7h-0.7zM45.1 455.4h0.7v0.7h-0.7zM62.4 450.2h0.7v0.7h-0.7zM44.5 456.0h0.7v0.7h-0.7zM58.5 454.9h0.7v0.7h-0.7zM41.2 443.1h0.7v0.7h-0.7zM46.4 461.3h0.7v0.7h-0.7zM29.7 446.2h0.7v0.7h-0.7zM44.7 433.9h0.7v0.7h-0.7zM41.4 448.8h0.7v0.7h-0.7zM51.3 443.8h0.7v0.7h-0.7zM32.7 451.4h0.7v0.7h-0.7zM44.3 445.9h0.7v0.7h-0.7zM45.2 459.0h0.7v0.7h-0.7zM61.6 463.8h0.7v0.7h-0.7zM34.0 450.8h0.7v0.7h-0.7zM34.9 454.2h0.7v0.7h-0.7zM52.3 437.4h0.7v0.7h-0.7zM51.5 450.1h0.7v0.7h-0.7zM19.4 461.1h0.7v0.7h-0.7zM61.7 430.3h0.7v0.7h-0.7zM56.3 451.1h0.7v0.7h-0.7zM51.6 454.5h0.7v0.7h-0.7zM63.3 445.3h0.7v0.7h-0.7zM57.2 445.1h0.7v0.7h-0.7zM55.2 441.8h0.7v0.7h-0.7zM43.5 468.6h0.7v0.7h-0.7zM51.2 449.0h0.7v0.7h-0.7zM29.0 448.6h0.7v0.7h-0.7zM47.7 460.1h0.7v0.7h-0.7zM51.0 455.4h0.7v0.7h-0.7zM44.4 464.8h0.7v0.7h-0.7zM39.5 448.2h0.7v0.7h-0.7zM57.4 449.5h0.7v0.7h-0.7zM41.1 447.6h0.7v0.7h-0.7zM41.4 458.7h0.7v0.7h-0.7zM50.0 439.4h0.7v0.7h-0.7zM51.0 452.2h0.7v0.7h-0.7zM31.0 462.7h0.7v0.7h-0.7zM41.1 449.8h0.7v0.7h-0.7zM56.1 461.6h0.7v0.7h-0.7zM35.4 458.5h0.7v0.7h-0.7zM38.1 464.9h0.7v0.7h-0.7zM35.9 461.9h0.7v0.7h-0.7zM38.9 458.2h0.7v0.7h-0.7zM43.7 446.1h0.7v0.7h-0.7zM22.0 465.8h0.7v0.7h-0.7zM36.9 455.4h0.7v0.7h-0.7zM62.7 448.7h0.7v0.7h-0.7zM25.5 441.0h0.7v0.7h-0.7zM61.6 454.8h0.7v0.7h-0.7zM33.6 462.9h0.7v0.7h-0.7zM52.0 456.3h0.7v0.7h-0.7zM57.6 455.7h0.7v0.7h-0.7zM57.3 425.9h0.7v0.7h-0.7zM47.4 456.0h0.7v0.7h-0.7zM40.4 453.5h0.7v0.7h-0.7zM57.4 444.7h0.7v0.7h-0.7zM61.1 440.6h0.7v0.7h-0.7zM48.7 446.1h0.7v0.7h-0.7zM47.2 445.0h0.7v0.7h-0.7zM22.6 467.8h0.7v0.7h-0.7zM49.2 445.7h0.7v0.7h-0.7zM47.8 460.6h0.7v0.7h-0.7zM31.3 454.4h0.7v0.7h-0.7zM52.5 455.0h0.7v0.7h-0.7zM40.3 433.4h0.7v0.7h-0.7zM62.4 450.7h0.7v0.7h-0.7zM45.2 449.3h0.7v0.7h-0.7zM48.7 447.1h0.7v0.7h-0.7zM30.7 448.7h0.7v0.7h-0.7zM36.6 448.4h0.7v0.7h-0.7zM28.8 462.0h0.7v0.7h-0.7zM26.7 462.8h0.7v0.7h-0.7zM30.8 458.9h0.7v0.7h-0.7zM64.2 449.1h0.7v0.7h-0.7zM34.8 455.0h0.7v0.7h-0.7zM47.1 435.2h0.7v0.7h-0.7zM36.5 455.7h0.7v0.7h-0.7zM38.4 454.4h0.7v0.7h-0.7zM55.3 456.6h0.7v0.7h-0.7zM57.7 454.3h0.7v0.7h-0.7zM41.0 452.8h0.7v0.7h-0.7zM41.2 450.0h0.7v0.7h-0.7zM42.5 436.5h0.7v0.7h-0.7zM40.3 452.9h0.7v0.7h-0.7zM31.4 455.2h0.7v0.7h-0.7zM52.2 448.7h0.7v0.7h-0.7zM42.1 435.6h0.7v0.7h-0.7zM52.3 447.4h0.7v0.7h-0.7zM52.7 429.1h0.7v0.7h-0.7zM56.9 452.5h0.7v0.7h-0.7zM45.3 446.4h0.7v0.7h-0.7zM53.9 445.2h0.7v0.7h-0.7zM48.1 446.4h0.7v0.7h-0.7zM47.8 458.4h0.7v0.7h-0.7zM32.7 454.8h0.7v0.7h-0.7zM53.6 451.2h0.7v0.7h-0.7zM62.4 466.3h0.7v0.7h-0.7zM32.3 437.2h0.7v0.7h-0.7zM57.0 463.3h0.7v0.7h-0.7zM57.9 456.4h0.7v0.7h-0.7zM36.3 447.5h0.7v0.7h-0.7zM57.4 440.4h0.7v0.7h-0.7zM19.6 449.0h0.7v0.7h-0.7zM35.4 447.6h0.7v0.7h-0.7zM48.2 444.2h0.7v0.7h-0.7zM63.3 446.7h0.7v0.7h-0.7zM29.8 468.1h0.7v0.7h-0.7zM36.8 456.1h0.7v0.7h-0.7zM44.8 449.1h0.7v0.7h-0.7zM49.5 444.4h0.7v0.7h-0.7zM19.2 437.8h0.7v0.7h-0.7zM27.3 449.3h0.7v0.7h-0.7zM44.7 452.6h0.7v0.7h-0.7zM52.8 451.2h0.7v0.7h-0.7zM33.9 448.1h0.7v0.7h-0.7zM51.8 455.3h0.7v0.7h-0.7zM43.3 450.8h0.7v0.7h-0.7zM58.1 448.9h0.7v0.7h-0.7zM55.3 454.9h0.7v0.7h-0.7zM48.0 463.5h0.7v0.7h-0.7zM37.0 450.6h0.7v0.7h-0.7zM33.7 447.4h0.7v0.7h-0.7zM66.8 463.0h0.7v0.7h-0.7zM45.3 457.2h0.7v0.7h-0.7zM61.5 455.5h0.7v0.7h-0.7zM61.9 436.0h0.7v0.7h-0.7zM36.0 458.5h0.7v0.7h-0.7zM65.1 447.9h0.7v0.7h-0.7zM33.0 451.7h0.7v0.7h-0.7zM35.8 446.3h0.7v0.7h-0.7zM66.0 440.9h0.7v0.7h-0.7zM61.6 451.0h0.7v0.7h-0.7zM36.4 458.0h0.7v0.7h-0.7zM67.7 452.2h0.7v0.7h-0.7zM62.7 448.5h0.7v0.7h-0.7zM52.2 448.3h0.7v0.7h-0.7zM51.0 462.7h0.7v0.7h-0.7zM25.0 456.4h0.7v0.7h-0.7zM48.4 445.8h0.7v0.7h-0.7zM40.7 460.4h0.7v0.7h-0.7zM49.6 436.3h0.7v0.7h-0.7zM44.5 441.6h0.7v0.7h-0.7zM44.2 441.9h0.7v0.7h-0.7zM46.0 456.1h0.7v0.7h-0.7zM45.4 454.5h0.7v0.7h-0.7zM33.1 468.4h0.7v0.7h-0.7zM35.9 437.3h0.7v0.7h-0.7zM42.4 445.5h0.7v0.7h-0.7zM30.9 452.2h0.7v0.7h-0.7zM49.1 439.9h0.7v0.7h-0.7zM43.1 465.8h0.7v0.7h-0.7zM54.6 448.2h0.7v0.7h-0.7zM46.8 450.4h0.7v0.7h-0.7zM44.3 459.0h0.7v0.7h-0.7zM43.7 429.8h0.7v0.7h-0.7zM44.7 443.7h0.7v0.7h-0.7zM54.1 444.0h0.7v0.7h-0.7zM30.3 445.1h0.7v0.7h-0.7zM25.2 434.5h0.7v0.7h-0.7zM18.7 462.0h0.7v0.7h-0.7zM36.1 436.7h0.7v0.7h-0.7zM24.2 463.0h0.7v0.7h-0.7zM34.1 451.3h0.7v0.7h-0.7zM49.6 463.5h0.7v0.7h-0.7zM47.0 453.2h0.7v0.7h-0.7zM40.7 457.4h0.7v0.7h-0.7zM49.0 451.5h0.7v0.7h-0.7zM38.0 441.3h0.7v0.7h-0.7zM37.5 439.4h0.7v0.7h-0.7zM62.1 452.7h0.7v0.7h-0.7zM57.5 431.0h0.7v0.7h-0.7zM52.4 454.1h0.7v0.7h-0.7zM47.8 452.9h0.7v0.7h-0.7zM59.7 434.3h0.7v0.7h-0.7zM27.6 443.3h0.7v0.7h-0.7zM37.2 448.3h0.7v0.7h-0.7zM50.1 453.2h0.7v0.7h-0.7zM45.4 445.6h0.7v0.7h-0.7zM38.8 462.5h0.7v0.7h-0.7zM55.7 450.3h0.7v0.7h-0.7zM40.5 467.7h0.7v0.7h-0.7zM36.7 460.2h0.7v0.7h-0.7zM61.2 445.5h0.7v0.7h-0.7zM56.6 438.7h0.7v0.7h-0.7zM59.2 450.3h0.7v0.7h-0.7zM22.8 463.8h0.7v0.7h-0.7zM32.5 467.1h0.7v0.7h-0.7zM35.5 452.8h0.7v0.7h-0.7zM49.0 447.9h0.7v0.7h-0.7zM48.6 445.9h0.7v0.7h-0.7zM54.4 449.7h0.7v0.7h-0.7zM48.0 425.5h0.7v0.7h-0.7zM61.3 448.2h0.7v0.7h-0.7zM20.0 459.1h0.7v0.7h-0.7zM51.5 460.4h0.7v0.7h-0.7zM43.0 458.9h0.7v0.7h-0.7zM39.9 442.8h0.7v0.7h-0.7zM60.4 456.7h0.7v0.7h-0.7zM66.5 454.6h0.7v0.7h-0.7zM37.0 438.4h0.7v0.7h-0.7zM35.9 448.0h0.7v0.7h-0.7zM33.6 460.3h0.7v0.7h-0.7zM49.6 448.3h0.7v0.7h-0.7zM47.4 450.0h0.7v0.7h-0.7zM48.0 458.3h0.7v0.7h-0.7zM58.4 442.2h0.7v0.7h-0.7zM46.6 462.0h0.7v0.7h-0.7zM22.0 454.7h0.7v0.7h-0.7zM45.4 438.4h0.7v0.7h-0.7zM37.8 460.6h0.7v0.7h-0.7zM60.1 463.2h0.7v0.7h-0.7zM32.9 441.9h0.7v0.7h-0.7zM52.3 459.0h0.7v0.7h-0.7zM47.7 439.1h0.7v0.7h-0.7zM55.9 456.7h0.7v0.7h-0.7zM52.7 445.5h0.7v0.7h-0.7zM49.3 458.3h0.7v0.7h-0.7zM37.2 436.7h0.7v0.7h-0.7zM49.6 455.4h0.7v0.7h-0.7zM45.2 460.3h0.7v0.7h-0.7zM36.8 453.3h0.7v0.7h-0.7zM40.7 458.4h0.7v0.7h-0.7zM67.3 444.1h0.7v0.7h-0.7zM56.1 454.7h0.7v0.7h-0.7zM43.4 442.4h0.7v0.7h-0.7zM51.6 462.9h0.7v0.7h-0.7zM52.5 454.1h0.7v0.7h-0.7zM42.2 454.3h0.7v0.7h-0.7zM25.0 466.8h0.7v0.7h-0.7zM39.3 443.1h0.7v0.7h-0.7zM34.5 446.9h0.7v0.7h-0.7zM57.0 458.9h0.7v0.7h-0.7zM26.0 465.4h0.7v0.7h-0.7zM57.4 443.5h0.7v0.7h-0.7zM24.2 450.2h0.7v0.7h-0.7zM36.1 457.4h0.7v0.7h-0.7zM40.0 434.3h0.7v0.7h-0.7zM48.3 436.8h0.7v0.7h-0.7zM57.7 437.5h0.7v0.7h-0.7zM35.3 446.4h0.7v0.7h-0.7zM37.4 466.1h0.7v0.7h-0.7zM56.9 454.7h0.7v0.7h-0.7zM49.5 436.4h0.7v0.7h-0.7zM37.7 448.7h0.7v0.7h-0.7zM31.3 460.2h0.7v0.7h-0.7zM34.6 447.9h0.7v0.7h-0.7zM30.4 436.4h0.7v0.7h-0.7zM53.3 462.4h0.7v0.7h-0.7zM47.4 442.2h0.7v0.7h-0.7zM62.0 450.5h0.7v0.7h-0.7zM58.0 462.6h0.7v0.7h-0.7zM60.8 443.9h0.7v0.7h-0.7zM59.7 455.6h0.7v0.7h-0.7zM23.5 453.6h0.7v0.7h-0.7zM25.1 456.0h0.7v0.7h-0.7zM53.1 440.0h0.7v0.7h-0.7zM50.3 464.5h0.7v0.7h-0.7zM26.5 466.6h0.7v0.7h-0.7zM42.1 455.3h0.7v0.7h-0.7zM42.8 461.9h0.7v0.7h-0.7zM59.5 449.2h0.7v0.7h-0.7zM26.0 463.7h0.7v0.7h-0.7zM38.4 459.5h0.7v0.7h-0.7zM48.7 466.3h0.7v0.7h-0.7zM60.9 443.8h0.7v0.7h-0.7zM49.9 467.3h0.7v0.7h-0.7zM37.5 457.9h0.7v0.7h-0.7zM61.7 459.6h0.7v0.7h-0.7zM52.3 437.8h0.7v0.7h-0.7zM27.3 458.7h0.7v0.7h-0.7zM32.9 465.7h0.7v0.7h-0.7zM55.8 433.6h0.7v0.7h-0.7zM33.5 456.4h0.7v0.7h-0.7zM38.1 452.3h0.7v0.7h-0.7zM51.6 442.8h0.7v0.7h-0.7zM51.5 444.4h0.7v0.7h-0.7zM37.4 458.9h0.7v0.7h-0.7zM37.0 456.7h0.7v0.7h-0.7zM67.4 446.7h0.7v0.7h-0.7zM43.0 459.4h0.7v0.7h-0.7zM39.9 463.4h0.7v0.7h-0.7zM27.0 462.3h0.7v0.7h-0.7zM37.8 446.3h0.7v0.7h-0.7zM65.3 437.8h0.7v0.7h-0.7zM61.8 461.4h0.7v0.7h-0.7zM43.4 451.2h0.7v0.7h-0.7zM39.1 447.6h0.7v0.7h-0.7zM51.2 453.5h0.7v0.7h-0.7zM47.5 467.5h0.7v0.7h-0.7zM40.4 457.6h0.7v0.7h-0.7zM65.4 437.5h0.7v0.7h-0.7zM59.5 465.5h0.7v0.7h-0.7zM26.0 446.5h0.7v0.7h-0.7zM30.5 438.3h0.7v0.7h-0.7zM51.3 433.0h0.7v0.7h-0.7zM52.0 463.9h0.7v0.7h-0.7zM22.4 454.7h0.7v0.7h-0.7zM18.1 466.0h0.7v0.7h-0.7zM34.7 452.1h0.7v0.7h-0.7zM45.8 456.9h0.7v0.7h-0.7zM40.1 453.4h0.7v0.7h-0.7zM37.3 455.0h0.7v0.7h-0.7zM28.6 456.7h0.7v0.7h-0.7zM17.9 454.2h0.7v0.7h-0.7zM27.4 458.8h0.7v0.7h-0.7zM31.4 439.9h0.7v0.7h-0.7zM34.7 461.5h0.7v0.7h-0.7zM50.4 449.7h0.7v0.7h-0.7zM32.0 445.1h0.7v0.7h-0.7zM63.9 449.6h0.7v0.7h-0.7zM31.7 435.6h0.7v0.7h-0.7zM28.9 455.3h0.7v0.7h-0.7zM47.9 449.8h0.7v0.7h-0.7zM41.1 440.1h0.7v0.7h-0.7zM34.4 462.6h0.7v0.7h-0.7zM21.3 455.4h0.7v0.7h-0.7zM48.7 460.8h0.7v0.7h-0.7zM29.3 461.5h0.7v0.7h-0.7zM50.4 443.7h0.7v0.7h-0.7zM51.7 441.9h0.7v0.7h-0.7zM33.9 454.6h0.7v0.7h-0.7zM31.0 441.8h0.7v0.7h-0.7zM39.0 460.6h0.7v0.7h-0.7zM39.3 465.3h0.7v0.7h-0.7zM28.8 443.8h0.7v0.7h-0.7zM66.7 450.3h0.7v0.7h-0.7zM58.2 440.9h0.7v0.7h-0.7zM56.3 451.6h0.7v0.7h-0.7zM54.1 450.0h0.7v0.7h-0.7zM61.9 441.7h0.7v0.7h-0.7zM31.5 441.5h0.7v0.7h-0.7zM61.2 441.0h0.7v0.7h-0.7zM30.4 446.8h0.7v0.7h-0.7zM38.8 441.6h0.7v0.7h-0.7zM40.9 447.1h0.7v0.7h-0.7zM37.3 444.9h0.7v0.7h-0.7zM45.5 447.6h0.7v0.7h-0.7zM46.6 453.9h0.7v0.7h-0.7zM49.8 430.3h0.7v0.7h-0.7zM37.5 446.4h0.7v0.7h-0.7zM55.8 434.5h0.7v0.7h-0.7zM35.0 451.7h0.7v0.7h-0.7zM40.3 462.5h0.7v0.7h-0.7zM38.8 462.6h0.7v0.7h-0.7zM24.5 440.2h0.7v0.7h-0.7zM62.1 451.8h0.7v0.7h-0.7zM51.8 451.4h0.7v0.7h-0.7zM51.8 438.9h0.7v0.7h-0.7zM58.3 443.7h0.7v0.7h-0.7zM58.8 449.4h0.7v0.7h-0.7zM60.8 446.8h0.7v0.7h-0.7zM39.5 455.7h0.7v0.7h-0.7zM39.0 448.4h0.7v0.7h-0.7zM46.4 453.0h0.7v0.7h-0.7zM66.2 447.1h0.7v0.7h-0.7zM46.8 452.8h0.7v0.7h-0.7zM43.0 445.7h0.7v0.7h-0.7zM44.1 446.2h0.7v0.7h-0.7zM68.0 451.3h0.7v0.7h-0.7zM38.7 435.6h0.7v0.7h-0.7zM44.3 448.3h0.7v0.7h-0.7zM29.8 445.2h0.7v0.7h-0.7zM44.6 450.7h0.7v0.7h-0.7zM65.2 448.2h0.7v0.7h-0.7zM47.3 447.9h0.7v0.7h-0.7zM36.5 468.2h0.7v0.7h-0.7zM59.0 464.6h0.7v0.7h-0.7zM40.1 453.5h0.7v0.7h-0.7zM32.7 464.1h0.7v0.7h-0.7zM25.5 462.2h0.7v0.7h-0.7zM60.3 461.4h0.7v0.7h-0.7zM31.8 465.5h0.7v0.7h-0.7zM35.0 447.4h0.7v0.7h-0.7zM26.5 467.5h0.7v0.7h-0.7zM68.1 440.7h0.7v0.7h-0.7zM34.4 451.5h0.7v0.7h-0.7zM37.4 437.1h0.7v0.7h-0.7zM35.6 465.5h0.7v0.7h-0.7zM35.3 449.6h0.7v0.7h-0.7zM18.6 467.1h0.7v0.7h-0.7zM29.8 465.8h0.7v0.7h-0.7zM21.1 446.1h0.7v0.7h-0.7zM49.0 443.8h0.7v0.7h-0.7zM55.9 449.3h0.7v0.7h-0.7zM28.6 461.9h0.7v0.7h-0.7zM56.8 431.1h0.7v0.7h-0.7zM55.6 431.9h0.7v0.7h-0.7zM34.9 451.2h0.7v0.7h-0.7zM60.1 434.6h0.7v0.7h-0.7zM32.6 436.1h0.7v0.7h-0.7zM41.6 456.1h0.7v0.7h-0.7zM21.4 452.4h0.7v0.7h-0.7zM52.1 465.1h0.7v0.7h-0.7zM54.3 446.8h0.7v0.7h-0.7zM28.5 447.4h0.7v0.7h-0.7zM35.7 455.7h0.7v0.7h-0.7zM44.3 467.8h0.7v0.7h-0.7zM49.0 441.0h0.7v0.7h-0.7zM66.6 455.5h0.7v0.7h-0.7zM46.4 444.9h0.7v0.7h-0.7zM18.8 449.0h0.7v0.7h-0.7zM57.8 441.3h0.7v0.7h-0.7zM26.5 458.5h0.7v0.7h-0.7zM48.4 456.8h0.7v0.7h-0.7zM54.2 462.9h0.7v0.7h-0.7zM33.2 464.1h0.7v0.7h-0.7zM31.2 462.0h0.7v0.7h-0.7zM47.5 453.7h0.7v0.7h-0.7zM58.5 448.4h0.7v0.7h-0.7zM60.6 456.3h0.7v0.7h-0.7zM46.9 446.2h0.7v0.7h-0.7zM34.5 449.7h0.7v0.7h-0.7zM42.2 452.5h0.7v0.7h-0.7zM55.8 441.2h0.7v0.7h-0.7zM35.1 451.5h0.7v0.7h-0.7zM47.7 441.6h0.7v0.7h-0.7zM67.6 441.1h0.7v0.7h-0.7zM60.1 426.3h0.7v0.7h-0.7zM44.9 454.6h0.7v0.7h-0.7zM47.7 457.0h0.7v0.7h-0.7zM48.9 452.5h0.7v0.7h-0.7zM18.5 451.9h0.7v0.7h-0.7zM49.3 449.1h0.7v0.7h-0.7zM33.5 449.4h0.7v0.7h-0.7zM44.2 464.3h0.7v0.7h-0.7zM22.8 439.4h0.7v0.7h-0.7zM38.2 445.5h0.7v0.7h-0.7zM37.2 455.7h0.7v0.7h-0.7zM45.7 454.4h0.7v0.7h-0.7zM44.5 460.8h0.7v0.7h-0.7zM47.3 449.0h0.7v0.7h-0.7zM50.0 436.4h0.7v0.7h-0.7zM20.4 436.5h0.7v0.7h-0.7zM52.4 452.0h0.7v0.7h-0.7zM46.0 429.6h0.7v0.7h-0.7zM39.8 446.2h0.7v0.7h-0.7zM25.2 448.4h0.7v0.7h-0.7zM54.8 454.7h0.7v0.7h-0.7zM44.7 456.9h0.7v0.7h-0.7zM36.6 454.8h0.7v0.7h-0.7zM45.6 457.1h0.7v0.7h-0.7zM44.0 450.9h0.7v0.7h-0.7zM43.1 446.4h0.7v0.7h-0.7zM64.6 432.5h0.7v0.7h-0.7zM54.7 457.4h0.7v0.7h-0.7zM55.8 438.3h0.7v0.7h-0.7zM32.8 457.6h0.7v0.7h-0.7zM52.1 440.7h0.7v0.7h-0.7zM39.6 449.6h0.7v0.7h-0.7zM45.8 454.9h0.7v0.7h-0.7zM41.0 441.4h0.7v0.7h-0.7zM62.4 462.6h0.7v0.7h-0.7zM43.5 462.0h0.7v0.7h-0.7zM51.2 456.6h0.7v0.7h-0.7zM51.7 443.2h0.7v0.7h-0.7zM53.0 459.5h0.7v0.7h-0.7zM40.3 447.6h0.7v0.7h-0.7zM33.6 455.9h0.7v0.7h-0.7zM44.5 458.4h0.7v0.7h-0.7zM54.5 454.1h0.7v0.7h-0.7zM48.8 449.1h0.7v0.7h-0.7zM43.3 444.7h0.7v0.7h-0.7zM47.5 451.2h0.7v0.7h-0.7zM49.5 442.9h0.7v0.7h-0.7zM45.6 452.3h0.7v0.7h-0.7zM53.5 439.9h0.7v0.7h-0.7zM50.9 459.7h0.7v0.7h-0.7zM53.4 446.5h0.7v0.7h-0.7zM38.1 451.5h0.7v0.7h-0.7zM55.2 464.0h0.7v0.7h-0.7zM42.8 446.5h0.7v0.7h-0.7zM50.3 452.6h0.7v0.7h-0.7zM32.3 448.3h0.7v0.7h-0.7zM43.6 458.6h0.7v0.7h-0.7zM28.3 446.6h0.7v0.7h-0.7zM52.0 438.8h0.7v0.7h-0.7zM46.5 454.9h0.7v0.7h-0.7zM43.4 442.9h0.7v0.7h-0.7zM44.2 449.1h0.7v0.7h-0.7zM49.7 443.0h0.7v0.7h-0.7zM60.3 432.5h0.7v0.7h-0.7zM42.5 452.7h0.7v0.7h-0.7zM58.5 442.9h0.7v0.7h-0.7zM52.6 444.8h0.7v0.7h-0.7zM55.3 465.7h0.7v0.7h-0.7zM39.4 457.6h0.7v0.7h-0.7zM32.0 464.4h0.7v0.7h-0.7zM62.0 448.1h0.7v0.7h-0.7zM29.1 459.7h0.7v0.7h-0.7zM61.1 458.2h0.7v0.7h-0.7zM56.4 432.0h0.7v0.7h-0.7zM35.5 467.7h0.7v0.7h-0.7zM27.8 466.9h0.7v0.7h-0.7zM60.7 445.0h0.7v0.7h-0.7zM27.8 455.3h0.7v0.7h-0.7zM42.2 452.3h0.7v0.7h-0.7zM54.8 448.2h0.7v0.7h-0.7zM47.7 455.3h0.7v0.7h-0.7zM51.2 451.2h0.7v0.7h-0.7zM42.1 446.9h0.7v0.7h-0.7zM63.8 448.7h0.7v0.7h-0.7zM29.9 450.5h0.7v0.7h-0.7zM43.1 448.3h0.7v0.7h-0.7zM60.2 437.3h0.7v0.7h-0.7zM51.9 451.6h0.7v0.7h-0.7zM28.5 456.6h0.7v0.7h-0.7zM43.7 457.0h0.7v0.7h-0.7zM38.7 456.4h0.7v0.7h-0.7zM21.7 447.7h0.7v0.7h-0.7zM56.0 459.0h0.7v0.7h-0.7zM44.8 446.4h0.7v0.7h-0.7zM60.2 428.6h0.7v0.7h-0.7zM33.8 461.1h0.7v0.7h-0.7zM54.1 440.0h0.7v0.7h-0.7zM47.1 443.1h0.7v0.7h-0.7zM45.8 460.3h0.7v0.7h-0.7zM55.4 429.9h0.7v0.7h-0.7zM55.8 432.6h0.7v0.7h-0.7zM61.0 451.7h0.7v0.7h-0.7zM45.1 461.8h0.7v0.7h-0.7zM36.0 447.6h0.7v0.7h-0.7zM39.8 452.6h0.7v0.7h-0.7zM29.8 460.3h0.7v0.7h-0.7zM52.6 450.8h0.7v0.7h-0.7zM68.8 443.0h0.7v0.7h-0.7zM63.3 442.3h0.7v0.7h-0.7zM55.6 431.2h0.7v0.7h-0.7zM47.8 449.7h0.7v0.7h-0.7zM38.1 448.0h0.7v0.7h-0.7zM40.1 446.5h0.7v0.7h-0.7zM37.3 449.0h0.7v0.7h-0.7zM30.2 454.4h0.7v0.7h-0.7zM56.0 446.9h0.7v0.7h-0.7zM38.1 466.4h0.7v0.7h-0.7zM58.7 457.2h0.7v0.7h-0.7zM61.2 444.9h0.7v0.7h-0.7zM43.2 462.9h0.7v0.7h-0.7zM37.2 452.8h0.7v0.7h-0.7zM50.3 454.2h0.7v0.7h-0.7zM41.1 462.2h0.7v0.7h-0.7zM42.5 459.4h0.7v0.7h-0.7zM60.0 454.4h0.7v0.7h-0.7zM55.3 438.6h0.7v0.7h-0.7zM26.6 450.8h0.7v0.7h-0.7zM51.7 464.4h0.7v0.7h-0.7zM27.9 459.2h0.7v0.7h-0.7zM33.0 448.1h0.7v0.7h-0.7zM41.1 459.4h0.7v0.7h-0.7zM48.0 462.3h0.7v0.7h-0.7zM31.2 463.8h0.7v0.7h-0.7zM58.0 449.4h0.7v0.7h-0.7zM51.7 445.1h0.7v0.7h-0.7zM29.7 452.0h0.7v0.7h-0.7zM47.8 454.2h0.7v0.7h-0.7zM55.4 442.1h0.7v0.7h-0.7zM57.8 452.3h0.7v0.7h-0.7zM23.8 462.9h0.7v0.7h-0.7zM52.7 454.3h0.7v0.7h-0.7zM67.2 442.6h0.7v0.7h-0.7zM52.2 457.2h0.7v0.7h-0.7zM32.4 466.4h0.7v0.7h-0.7zM24.7 444.9h0.7v0.7h-0.7zM52.3 440.0h0.7v0.7h-0.7zM43.4 437.0h0.7v0.7h-0.7zM46.0 441.1h0.7v0.7h-0.7zM49.8 436.4h0.7v0.7h-0.7zM51.3 447.9h0.7v0.7h-0.7zM45.9 451.1h0.7v0.7h-0.7zM46.8 439.2h0.7v0.7h-0.7zM31.9 451.0h0.7v0.7h-0.7zM51.0 431.9h0.7v0.7h-0.7zM34.3 449.0h0.7v0.7h-0.7zM30.2 458.8h0.7v0.7h-0.7zM43.0 444.8h0.7v0.7h-0.7zM31.2 463.0h0.7v0.7h-0.7zM35.8 459.8h0.7v0.7h-0.7zM51.3 432.7h0.7v0.7h-0.7zM29.8 455.8h0.7v0.7h-0.7zM49.8 458.1h0.7v0.7h-0.7zM56.2 458.9h0.7v0.7h-0.7zM39.8 451.3h0.7v0.7h-0.7zM55.9 445.3h0.7v0.7h-0.7zM59.8 433.4h0.7v0.7h-0.7zM54.1 448.1h0.7v0.7h-0.7zM49.4 451.1h0.7v0.7h-0.7zM29.9 451.4h0.7v0.7h-0.7zM66.2 439.0h0.7v0.7h-0.7zM28.2 455.0h0.7v0.7h-0.7zM39.5 444.8h0.7v0.7h-0.7zM33.2 464.8h0.7v0.7h-0.7zM37.4 443.7h0.7v0.7h-0.7zM56.0 454.5h0.7v0.7h-0.7zM30.4 462.7h0.7v0.7h-0.7zM19.2 449.8h0.7v0.7h-0.7zM60.8 445.7h0.7v0.7h-0.7zM26.8 461.4h0.7v0.7h-0.7zM57.8 448.6h0.7v0.7h-0.7zM19.7 455.1h0.7v0.7h-0.7zM50.9 457.7h0.7v0.7h-0.7zM38.2 453.3h0.7v0.7h-0.7zM61.9 439.0h0.7v0.7h-0.7zM63.3 421.7h0.7v0.7h-0.7zM56.2 442.9h0.7v0.7h-0.7zM51.4 456.8h0.7v0.7h-0.7zM28.4 455.3h0.7v0.7h-0.7zM48.4 456.7h0.7v0.7h-0.7zM32.0 446.0h0.7v0.7h-0.7zM42.3 450.6h0.7v0.7h-0.7zM24.1 465.9h0.7v0.7h-0.7zM37.5 467.3h0.7v0.7h-0.7zM56.9 449.2h0.7v0.7h-0.7zM55.2 439.0h0.7v0.7h-0.7zM40.4 447.7h0.7v0.7h-0.7zM27.2 456.6h0.7v0.7h-0.7zM43.0 466.0h0.7v0.7h-0.7zM32.1 450.9h0.7v0.7h-0.7zM50.9 454.3h0.7v0.7h-0.7zM45.4 447.5h0.7v0.7h-0.7zM51.9 453.6h0.7v0.7h-0.7zM19.2 456.0h0.7v0.7h-0.7zM25.8 445.7h0.7v0.7h-0.7zM47.1 452.1h0.7v0.7h-0.7zM46.6 443.4h0.7v0.7h-0.7zM42.2 444.2h0.7v0.7h-0.7zM50.3 457.1h0.7v0.7h-0.7zM33.7 450.5h0.7v0.7h-0.7zM31.9 458.2h0.7v0.7h-0.7zM26.9 461.3h0.7v0.7h-0.7zM45.0 454.8h0.7v0.7h-0.7zM49.8 443.5h0.7v0.7h-0.7zM45.6 461.1h0.7v0.7h-0.7zM43.1 446.0h0.7v0.7h-0.7zM20.3 459.8h0.7v0.7h-0.7zM45.4 457.7h0.7v0.7h-0.7zM39.3 458.1h0.7v0.7h-0.7zM56.4 447.8h0.7v0.7h-0.7zM38.6 451.9h0.7v0.7h-0.7zM31.5 453.4h0.7v0.7h-0.7zM40.8 455.0h0.7v0.7h-0.7zM63.7 459.6h0.7v0.7h-0.7zM38.8 459.2h0.7v0.7h-0.7zM49.1 458.1h0.7v0.7h-0.7zM45.3 454.4h0.7v0.7h-0.7zM38.4 446.3h0.7v0.7h-0.7zM57.2 461.1h0.7v0.7h-0.7zM54.3 453.8h0.7v0.7h-0.7zM48.7 446.9h0.7v0.7h-0.7zM20.0 464.5h0.7v0.7h-0.7zM47.8 446.1h0.7v0.7h-0.7zM31.5 467.3h0.7v0.7h-0.7zM35.0 454.3h0.7v0.7h-0.7zM37.9 455.2h0.7v0.7h-0.7zM42.1 445.7h0.7v0.7h-0.7zM60.0 440.9h0.7v0.7h-0.7zM37.9 459.0h0.7v0.7h-0.7zM37.5 449.8h0.7v0.7h-0.7zM50.0 447.3h0.7v0.7h-0.7zM27.5 455.4h0.7v0.7h-0.7zM41.9 468.7h0.7v0.7h-0.7zM29.6 464.9h0.7v0.7h-0.7zM34.0 451.4h0.7v0.7h-0.7zM40.4 455.7h0.7v0.7h-0.7zM57.1 465.4h0.7v0.7h-0.7zM36.1 466.7h0.7v0.7h-0.7zM58.9 456.1h0.7v0.7h-0.7zM34.4 463.1h0.7v0.7h-0.7zM43.5 455.7h0.7v0.7h-0.7zM41.2 459.2h0.7v0.7h-0.7zM60.6 458.7h0.7v0.7h-0.7zM42.1 462.0h0.7v0.7h-0.7zM65.3 438.2h0.7v0.7h-0.7zM65.6 434.3h0.7v0.7h-0.7zM52.6 455.7h0.7v0.7h-0.7zM65.8 449.4h0.7v0.7h-0.7zM38.3 446.2h0.7v0.7h-0.7zM27.5 463.6h0.7v0.7h-0.7zM41.7 446.1h0.7v0.7h-0.7zM52.4 443.0h0.7v0.7h-0.7zM38.9 449.2h0.7v0.7h-0.7zM68.2 459.9h0.7v0.7h-0.7zM42.8 437.8h0.7v0.7h-0.7zM48.9 451.7h0.7v0.7h-0.7zM49.9 456.1h0.7v0.7h-0.7zM40.5 461.8h0.7v0.7h-0.7zM56.7 451.0h0.7v0.7h-0.7zM39.3 448.9h0.7v0.7h-0.7zM54.7 439.3h0.7v0.7h-0.7zM42.8 445.5h0.7v0.7h-0.7zM25.5 462.5h0.7v0.7h-0.7zM44.6 452.4h0.7v0.7h-0.7zM57.2 434.9h0.7v0.7h-0.7zM44.1 454.9h0.7v0.7h-0.7zM56.7 438.9h0.7v0.7h-0.7zM55.0 451.6h0.7v0.7h-0.7zM64.0 457.9h0.7v0.7h-0.7zM45.0 448.0h0.7v0.7h-0.7zM40.2 444.4h0.7v0.7h-0.7zM44.6 434.5h0.7v0.7h-0.7zM43.8 456.3h0.7v0.7h-0.7zM58.9 445.3h0.7v0.7h-0.7zM64.4 441.0h0.7v0.7h-0.7zM43.1 434.9h0.7v0.7h-0.7zM34.3 447.3h0.7v0.7h-0.7zM65.4 451.7h0.7v0.7h-0.7zM29.9 460.7h0.7v0.7h-0.7zM51.6 448.2h0.7v0.7h-0.7zM45.3 449.1h0.7v0.7h-0.7zM37.6 437.6h0.7v0.7h-0.7zM43.8 464.1h0.7v0.7h-0.7zM64.6 444.6h0.7v0.7h-0.7zM34.8 452.6h0.7v0.7h-0.7zM57.3 452.1h0.7v0.7h-0.7zM37.0 457.3h0.7v0.7h-0.7zM42.2 457.4h0.7v0.7h-0.7zM39.4 439.9h0.7v0.7h-0.7zM45.8 458.8h0.7v0.7h-0.7zM29.9 454.8h0.7v0.7h-0.7zM57.0 445.6h0.7v0.7h-0.7zM56.3 458.6h0.7v0.7h-0.7zM22.4 452.9h0.7v0.7h-0.7zM55.1 461.6h0.7v0.7h-0.7zM32.3 449.1h0.7v0.7h-0.7zM47.7 433.8h0.7v0.7h-0.7zM53.7 454.9h0.7v0.7h-0.7zM38.9 458.4h0.7v0.7h-0.7zM55.6 452.2h0.7v0.7h-0.7zM52.1 464.0h0.7v0.7h-0.7zM38.5 455.1h0.7v0.7h-0.7zM37.9 463.2h0.7v0.7h-0.7zM39.5 457.7h0.7v0.7h-0.7zM46.9 452.1h0.7v0.7h-0.7zM68.3 445.4h0.7v0.7h-0.7zM64.2 454.7h0.7v0.7h-0.7zM62.9 446.0h0.7v0.7h-0.7zM57.6 455.7h0.7v0.7h-0.7zM36.7 456.5h0.7v0.7h-0.7zM43.3 452.1h0.7v0.7h-0.7zM62.6 441.1h0.7v0.7h-0.7zM22.2 441.9h0.7v0.7h-0.7zM38.9 447.7h0.7v0.7h-0.7zM45.2 457.1h0.7v0.7h-0.7zM68.8 448.8h0.7v0.7h-0.7zM51.3 443.8h0.7v0.7h-0.7zM52.8 462.3h0.7v0.7h-0.7zM63.1 429.8h0.7v0.7h-0.7zM57.0 463.3h0.7v0.7h-0.7zM56.2 435.7h0.7v0.7h-0.7zM40.9 458.3h0.7v0.7h-0.7zM50.6 443.3h0.7v0.7h-0.7zM33.0 463.7h0.7v0.7h-0.7zM45.3 454.6h0.7v0.7h-0.7zM27.0 451.1h0.7v0.7h-0.7zM54.3 436.4h0.7v0.7h-0.7zM28.5 456.5h0.7v0.7h-0.7zM51.5 457.0h0.7v0.7h-0.7zM40.0 451.4h0.7v0.7h-0.7zM41.8 447.6h0.7v0.7h-0.7zM48.4 452.6h0.7v0.7h-0.7zM36.5 456.4h0.7v0.7h-0.7zM44.8 451.4h0.7v0.7h-0.7zM59.9 432.8h0.7v0.7h-0.7zM48.4 441.6h0.7v0.7h-0.7zM40.7 466.6h0.7v0.7h-0.7zM30.4 454.7h0.7v0.7h-0.7zM37.0 462.5h0.7v0.7h-0.7zM31.8 440.2h0.7v0.7h-0.7zM51.9 447.1h0.7v0.7h-0.7zM40.7 462.8h0.7v0.7h-0.7zM33.1 451.6h0.7v0.7h-0.7zM47.0 455.2h0.7v0.7h-0.7zM38.1 463.0h0.7v0.7h-0.7zM63.9 444.2h0.7v0.7h-0.7zM46.8 448.5h0.7v0.7h-0.7zM36.4 442.6h0.7v0.7h-0.7zM39.7 465.0h0.7v0.7h-0.7zM60.3 445.0h0.7v0.7h-0.7zM37.9 447.5h0.7v0.7h-0.7zM53.9 450.8h0.7v0.7h-0.7zM38.4 444.5h0.7v0.7h-0.7zM62.7 454.6h0.7v0.7h-0.7zM32.2 464.1h0.7v0.7h-0.7zM30.1 461.5h0.7v0.7h-0.7zM32.1 451.5h0.7v0.7h-0.7zM51.7 454.2h0.7v0.7h-0.7zM58.6 441.1h0.7v0.7h-0.7zM66.2 458.8h0.7v0.7h-0.7zM44.9 456.2h0.7v0.7h-0.7zM34.5 453.2h0.7v0.7h-0.7zM27.2 457.2h0.7v0.7h-0.7zM47.7 463.4h0.7v0.7h-0.7zM57.7 456.1h0.7v0.7h-0.7zM40.1 451.2h0.7v0.7h-0.7zM40.4 455.1h0.7v0.7h-0.7zM19.1 465.4h0.7v0.7h-0.7zM23.9 452.6h0.7v0.7h-0.7zM45.3 447.3h0.7v0.7h-0.7zM67.4 445.5h0.7v0.7h-0.7zM66.1 457.3h0.7v0.7h-0.7zM38.3 457.3h0.7v0.7h-0.7zM62.4 444.6h0.7v0.7h-0.7zM46.2 446.7h0.7v0.7h-0.7zM45.8 448.6h0.7v0.7h-0.7zM46.1 460.7h0.7v0.7h-0.7zM63.7 448.5h0.7v0.7h-0.7zM47.7 459.0h0.7v0.7h-0.7zM41.1 443.5h0.7v0.7h-0.7zM59.9 439.9h0.7v0.7h-0.7zM57.5 440.2h0.7v0.7h-0.7zM56.4 462.6h0.7v0.7h-0.7zM32.1 468.6h0.7v0.7h-0.7zM33.9 438.9h0.7v0.7h-0.7zM54.7 455.9h0.7v0.7h-0.7zM42.3 430.0h0.7v0.7h-0.7zM44.3 449.4h0.7v0.7h-0.7zM39.9 450.7h0.7v0.7h-0.7zM20.9 452.9h0.7v0.7h-0.7zM40.1 446.8h0.7v0.7h-0.7zM50.3 460.2h0.7v0.7h-0.7zM54.7 439.1h0.7v0.7h-0.7zM47.2 452.7h0.7v0.7h-0.7zM64.3 457.9h0.7v0.7h-0.7zM52.0 461.2h0.7v0.7h-0.7zM39.7 467.2h0.7v0.7h-0.7zM39.3 457.0h0.7v0.7h-0.7zM57.3 440.7h0.7v0.7h-0.7zM35.6 438.6h0.7v0.7h-0.7zM47.2 451.0h0.7v0.7h-0.7zM40.6 457.6h0.7v0.7h-0.7zM46.2 449.3h0.7v0.7h-0.7zM55.7 465.1h0.7v0.7h-0.7zM39.0 445.0h0.7v0.7h-0.7zM36.9 454.9h0.7v0.7h-0.7zM52.9 442.3h0.7v0.7h-0.7zM58.4 439.4h0.7v0.7h-0.7zM56.1 453.1h0.7v0.7h-0.7zM41.5 451.4h0.7v0.7h-0.7zM51.4 458.2h0.7v0.7h-0.7zM27.0 459.0h0.7v0.7h-0.7zM35.0 460.2h0.7v0.7h-0.7zM63.4 447.9h0.7v0.7h-0.7zM43.6 454.0h0.7v0.7h-0.7zM52.5 451.6h0.7v0.7h-0.7zM39.7 446.8h0.7v0.7h-0.7zM42.6 463.5h0.7v0.7h-0.7zM43.6 464.5h0.7v0.7h-0.7zM48.7 451.0h0.7v0.7h-0.7zM22.7 451.6h0.7v0.7h-0.7zM61.8 436.2h0.7v0.7h-0.7zM31.7 445.5h0.7v0.7h-0.7zM37.6 459.6h0.7v0.7h-0.7zM53.0 431.7h0.7v0.7h-0.7zM64.6 441.8h0.7v0.7h-0.7zM43.9 441.1h0.7v0.7h-0.7zM36.4 447.6h0.7v0.7h-0.7zM31.4 452.4h0.7v0.7h-0.7zM56.8 452.2h0.7v0.7h-0.7zM31.7 456.4h0.7v0.7h-0.7zM45.4 458.7h0.7v0.7h-0.7zM40.6 457.2h0.7v0.7h-0.7zM30.5 458.6h0.7v0.7h-0.7zM34.2 451.4h0.7v0.7h-0.7zM47.5 454.4h0.7v0.7h-0.7zM41.2 460.6h0.7v0.7h-0.7zM42.4 440.9h0.7v0.7h-0.7zM56.8 445.8h0.7v0.7h-0.7zM61.3 442.0h0.7v0.7h-0.7zM52.7 452.9h0.7v0.7h-0.7zM30.0 468.4h0.7v0.7h-0.7zM19.6 466.6h0.7v0.7h-0.7zM59.7 452.8h0.7v0.7h-0.7zM54.1 445.3h0.7v0.7h-0.7zM44.9 454.1h0.7v0.7h-0.7zM50.7 456.9h0.7v0.7h-0.7zM42.2 446.4h0.7v0.7h-0.7zM37.4 457.6h0.7v0.7h-0.7zM22.7 446.3h0.7v0.7h-0.7zM39.5 448.4h0.7v0.7h-0.7zM41.4 429.0h0.7v0.7h-0.7zM40.4 450.9h0.7v0.7h-0.7zM55.4 431.6h0.7v0.7h-0.7zM40.9 457.3h0.7v0.7h-0.7zM51.6 461.1h0.7v0.7h-0.7zM59.2 439.0h0.7v0.7h-0.7zM53.6 446.8h0.7v0.7h-0.7zM34.2 468.5h0.7v0.7h-0.7zM36.5 446.4h0.7v0.7h-0.7zM39.5 445.7h0.7v0.7h-0.7zM58.5 452.0h0.7v0.7h-0.7zM63.8 451.0h0.7v0.7h-0.7zM36.7 463.5h0.7v0.7h-0.7zM36.2 450.0h0.7v0.7h-0.7zM42.7 452.9h0.7v0.7h-0.7zM61.1 442.5h0.7v0.7h-0.7zM49.7 450.6h0.7v0.7h-0.7zM28.1 446.4h0.7v0.7h-0.7zM42.0 456.4h0.7v0.7h-0.7zM49.3 455.2h0.7v0.7h-0.7zM45.7 447.8h0.7v0.7h-0.7zM50.7 441.5h0.7v0.7h-0.7zM26.9 453.5h0.7v0.7h-0.7zM25.7 452.2h0.7v0.7h-0.7zM34.9 449.5h0.7v0.7h-0.7zM44.4 444.9h0.7v0.7h-0.7zM39.3 438.0h0.7v0.7h-0.7zM47.0 443.6h0.7v0.7h-0.7zM50.5 425.1h0.7v0.7h-0.7zM34.2 456.9h0.7v0.7h-0.7zM46.3 452.6h0.7v0.7h-0.7zM24.8 459.1h0.7v0.7h-0.7zM47.0 442.7h0.7v0.7h-0.7zM55.1 449.0h0.7v0.7h-0.7zM45.3 447.9h0.7v0.7h-0.7zM52.4 451.0h0.7v0.7h-0.7zM60.4 452.2h0.7v0.7h-0.7zM36.7 452.1h0.7v0.7h-0.7zM57.4 445.6h0.7v0.7h-0.7zM50.2 455.4h0.7v0.7h-0.7zM42.6 431.5h0.7v0.7h-0.7zM46.8 453.5h0.7v0.7h-0.7zM46.8 444.7h0.7v0.7h-0.7zM61.4 446.7h0.7v0.7h-0.7zM36.6 447.6h0.7v0.7h-0.7zM49.9 440.9h0.7v0.7h-0.7zM62.7 457.1h0.7v0.7h-0.7zM63.5 452.8h0.7v0.7h-0.7zM22.2 468.5h0.7v0.7h-0.7zM61.8 452.2h0.7v0.7h-0.7zM63.5 442.9h0.7v0.7h-0.7zM46.7 458.6h0.7v0.7h-0.7zM43.8 462.2h0.7v0.7h-0.7zM46.1 458.0h0.7v0.7h-0.7zM46.2 438.3h0.7v0.7h-0.7zM48.8 462.9h0.7v0.7h-0.7zM60.4 463.7h0.7v0.7h-0.7zM52.5 444.7h0.7v0.7h-0.7zM45.3 434.5h0.7v0.7h-0.7zM42.4 460.9h0.7v0.7h-0.7zM56.2 461.3h0.7v0.7h-0.7zM32.4 449.2h0.7v0.7h-0.7zM19.5 449.1h0.7v0.7h-0.7zM29.4 468.4h0.7v0.7h-0.7zM50.8 446.1h0.7v0.7h-0.7zM44.1 454.2h0.7v0.7h-0.7zM58.3 461.1h0.7v0.7h-0.7zM52.0 453.5h0.7v0.7h-0.7zM42.5 448.9h0.7v0.7h-0.7zM38.9 434.6h0.7v0.7h-0.7zM48.6 450.8h0.7v0.7h-0.7zM47.4 467.9h0.7v0.7h-0.7zM43.6 449.9h0.7v0.7h-0.7zM34.8 454.3h0.7v0.7h-0.7zM39.0 455.4h0.7v0.7h-0.7zM56.8 456.5h0.7v0.7h-0.7zM54.7 457.0h0.7v0.7h-0.7zM54.2 462.6h0.7v0.7h-0.7zM58.7 460.9h0.7v0.7h-0.7zM38.2 453.7h0.7v0.7h-0.7zM35.1 463.2h0.7v0.7h-0.7zM56.3 444.9h0.7v0.7h-0.7zM61.9 437.6h0.7v0.7h-0.7zM43.7 458.1h0.7v0.7h-0.7zM44.5 455.6h0.7v0.7h-0.7zM61.1 451.0h0.7v0.7h-0.7zM30.0 462.3h0.7v0.7h-0.7zM43.7 453.4h0.7v0.7h-0.7zM37.3 441.3h0.7v0.7h-0.7zM28.0 453.0h0.7v0.7h-0.7zM30.4 430.9h0.7v0.7h-0.7zM60.7 437.5h0.7v0.7h-0.7zM35.1 459.3h0.7v0.7h-0.7zM34.5 460.6h0.7v0.7h-0.7zM38.4 456.4h0.7v0.7h-0.7zM46.4 451.6h0.7v0.7h-0.7zM20.1 444.8h0.7v0.7h-0.7zM44.4 465.0h0.7v0.7h-0.7z" fill="#86c860" fill-opacity="0.6"/>
<path d="M47.2 451.2h0.7v0.7h-0.7zM53.4 449.2h0.7v0.7h-0.7zM60.7 432.5h0.7v0.7h-0.7zM54.4 444.0h0.7v0.7h-0.7zM49.3 440.4h0.7v0.7h-0.7zM45.1 440.2h0.7v0.7h-0.7zM42.4 467.2h0.7v0.7h-0.7zM66.9 442.1h0.7v0.7h-0.7zM58.5 437.0h0.7v0.7h-0.7zM27.6 439.0h0.7v0.7h-0.7zM53.2 456.4h0.7v0.7h-0.7zM51.6 438.7h0.7v0.7h-0.7zM49.9 439.1h0.7v0.7h-0.7zM39.8 447.5h0.7v0.7h-0.7zM48.5 440.9h0.7v0.7h-0.7zM44.2 441.2h0.7v0.7h-0.7zM54.1 455.8h0.7v0.7h-0.7zM50.2 463.1h0.7v0.7h-0.7zM37.8 451.8h0.7v0.7h-0.7zM41.9 447.5h0.7v0.7h-0.7zM52.9 449.9h0.7v0.7h-0.7zM61.9 439.2h0.7v0.7h-0.7zM41.1 447.5h0.7v0.7h-0.7zM54.6 440.1h0.7v0.7h-0.7zM59.8 456.4h0.7v0.7h-0.7zM39.5 452.0h0.7v0.7h-0.7zM60.9 429.3h0.7v0.7h-0.7zM53.8 443.8h0.7v0.7h-0.7zM39.5 459.1h0.7v0.7h-0.7zM53.9 441.9h0.7v0.7h-0.7zM55.9 449.7h0.7v0.7h-0.7zM58.7 448.5h0.7v0.7h-0.7zM55.6 436.3h0.7v0.7h-0.7zM48.3 447.9h0.7v0.7h-0.7zM27.7 468.3h0.7v0.7h-0.7zM48.7 439.0h0.7v0.7h-0.7zM36.0 452.1h0.7v0.7h-0.7zM52.3 441.6h0.7v0.7h-0.7zM48.3 440.4h0.7v0.7h-0.7zM45.4 447.0h0.7v0.7h-0.7zM46.4 452.6h0.7v0.7h-0.7zM50.7 447.3h0.7v0.7h-0.7zM55.6 454.5h0.7v0.7h-0.7zM57.3 446.3h0.7v0.7h-0.7zM50.6 440.4h0.7v0.7h-0.7zM49.0 451.9h0.7v0.7h-0.7zM54.0 442.6h0.7v0.7h-0.7zM40.3 437.7h0.7v0.7h-0.7zM54.8 452.9h0.7v0.7h-0.7zM55.3 434.9h0.7v0.7h-0.7zM50.1 448.1h0.7v0.7h-0.7zM43.9 450.7h0.7v0.7h-0.7zM50.2 440.3h0.7v0.7h-0.7zM41.1 454.9h0.7v0.7h-0.7zM55.1 438.6h0.7v0.7h-0.7zM43.1 455.0h0.7v0.7h-0.7zM57.2 442.3h0.7v0.7h-0.7zM66.0 440.1h0.7v0.7h-0.7zM42.7 456.6h0.7v0.7h-0.7zM50.3 449.0h0.7v0.7h-0.7zM52.3 438.5h0.7v0.7h-0.7zM41.6 447.3h0.7v0.7h-0.7zM64.3 435.3h0.7v0.7h-0.7zM63.9 444.5h0.7v0.7h-0.7zM42.3 450.6h0.7v0.7h-0.7zM57.0 438.0h0.7v0.7h-0.7zM33.3 453.6h0.7v0.7h-0.7zM42.3 451.9h0.7v0.7h-0.7zM35.3 449.4h0.7v0.7h-0.7zM44.9 436.9h0.7v0.7h-0.7zM49.9 447.8h0.7v0.7h-0.7zM47.1 438.5h0.7v0.7h-0.7zM53.9 432.5h0.7v0.7h-0.7zM56.7 448.4h0.7v0.7h-0.7zM66.7 448.6h0.7v0.7h-0.7zM55.1 447.1h0.7v0.7h-0.7zM52.2 436.1h0.7v0.7h-0.7zM64.8 446.5h0.7v0.7h-0.7zM49.5 438.2h0.7v0.7h-0.7zM65.0 446.5h0.7v0.7h-0.7zM41.6 453.7h0.7v0.7h-0.7zM68.6 441.4h0.7v0.7h-0.7zM55.5 442.0h0.7v0.7h-0.7zM46.5 455.4h0.7v0.7h-0.7zM50.9 452.2h0.7v0.7h-0.7zM49.3 452.1h0.7v0.7h-0.7zM59.2 436.5h0.7v0.7h-0.7zM42.6 448.0h0.7v0.7h-0.7zM59.3 446.1h0.7v0.7h-0.7zM62.8 432.9h0.7v0.7h-0.7zM56.3 440.2h0.7v0.7h-0.7zM52.9 448.2h0.7v0.7h-0.7zM43.5 446.6h0.7v0.7h-0.7zM41.8 450.7h0.7v0.7h-0.7zM44.6 444.3h0.7v0.7h-0.7zM53.9 440.7h0.7v0.7h-0.7zM62.0 438.6h0.7v0.7h-0.7zM59.4 446.1h0.7v0.7h-0.7zM43.0 446.8h0.7v0.7h-0.7zM44.7 445.3h0.7v0.7h-0.7zM49.6 460.1h0.7v0.7h-0.7zM48.3 458.6h0.7v0.7h-0.7zM55.9 435.3h0.7v0.7h-0.7zM31.8 456.4h0.7v0.7h-0.7zM34.6 455.9h0.7v0.7h-0.7zM61.0 446.5h0.7v0.7h-0.7zM50.2 444.6h0.7v0.7h-0.7zM54.3 443.2h0.7v0.7h-0.7zM47.3 444.5h0.7v0.7h-0.7zM62.2 438.7h0.7v0.7h-0.7zM55.3 436.6h0.7v0.7h-0.7zM45.8 437.5h0.7v0.7h-0.7zM50.3 451.5h0.7v0.7h-0.7zM54.7 441.6h0.7v0.7h-0.7zM57.3 442.0h0.7v0.7h-0.7zM55.2 447.2h0.7v0.7h-0.7zM56.7 426.4h0.7v0.7h-0.7zM40.7 454.7h0.7v0.7h-0.7zM51.1 462.8h0.7v0.7h-0.7zM50.0 442.5h0.7v0.7h-0.7zM65.0 446.6h0.7v0.7h-0.7zM68.5 445.4h0.7v0.7h-0.7zM50.2 451.8h0.7v0.7h-0.7zM45.1 444.5h0.7v0.7h-0.7zM47.2 445.6h0.7v0.7h-0.7zM58.8 440.6h0.7v0.7h-0.7zM54.8 441.6h0.7v0.7h-0.7zM59.7 423.6h0.7v0.7h-0.7zM50.2 447.7h0.7v0.7h-0.7zM42.6 456.0h0.7v0.7h-0.7zM53.9 455.0h0.7v0.7h-0.7zM60.4 448.5h0.7v0.7h-0.7zM50.7 438.3h0.7v0.7h-0.7zM50.1 443.1h0.7v0.7h-0.7zM54.2 442.0h0.7v0.7h-0.7zM62.2 439.8h0.7v0.7h-0.7zM49.9 453.4h0.7v0.7h-0.7zM52.0 437.1h0.7v0.7h-0.7zM55.6 443.6h0.7v0.7h-0.7zM34.1 452.2h0.7v0.7h-0.7zM42.8 443.0h0.7v0.7h-0.7zM56.2 447.1h0.7v0.7h-0.7zM49.5 462.7h0.7v0.7h-0.7zM55.6 440.5h0.7v0.7h-0.7zM54.1 444.6h0.7v0.7h-0.7zM32.8 439.5h0.7v0.7h-0.7zM39.9 464.4h0.7v0.7h-0.7zM50.4 444.4h0.7v0.7h-0.7zM47.1 454.5h0.7v0.7h-0.7zM52.2 458.5h0.7v0.7h-0.7zM58.8 456.3h0.7v0.7h-0.7zM51.0 449.0h0.7v0.7h-0.7zM48.2 445.8h0.7v0.7h-0.7zM37.0 445.7h0.7v0.7h-0.7zM43.7 443.4h0.7v0.7h-0.7zM62.6 445.1h0.7v0.7h-0.7zM62.6 449.5h0.7v0.7h-0.7zM60.0 451.3h0.7v0.7h-0.7zM46.7 453.3h0.7v0.7h-0.7zM49.2 442.8h0.7v0.7h-0.7zM62.4 459.2h0.7v0.7h-0.7zM43.5 461.0h0.7v0.7h-0.7zM59.2 437.8h0.7v0.7h-0.7zM54.4 448.1h0.7v0.7h-0.7zM55.3 442.5h0.7v0.7h-0.7zM40.9 449.2h0.7v0.7h-0.7zM59.5 449.8h0.7v0.7h-0.7zM57.7 452.6h0.7v0.7h-0.7zM43.4 448.0h0.7v0.7h-0.7zM55.0 452.6h0.7v0.7h-0.7zM53.4 449.4h0.7v0.7h-0.7zM53.2 461.1h0.7v0.7h-0.7zM33.1 450.9h0.7v0.7h-0.7zM36.1 451.2h0.7v0.7h-0.7zM39.6 444.3h0.7v0.7h-0.7zM53.9 458.1h0.7v0.7h-0.7zM56.0 449.8h0.7v0.7h-0.7zM60.8 445.1h0.7v0.7h-0.7zM44.6 447.3h0.7v0.7h-0.7zM54.9 443.2h0.7v0.7h-0.7zM46.2 444.9h0.7v0.7h-0.7zM39.0 441.9h0.7v0.7h-0.7zM51.2 443.6h0.7v0.7h-0.7zM52.3 456.2h0.7v0.7h-0.7zM54.6 445.1h0.7v0.7h-0.7zM41.8 440.8h0.7v0.7h-0.7zM55.3 438.7h0.7v0.7h-0.7zM55.7 437.1h0.7v0.7h-0.7zM53.2 445.2h0.7v0.7h-0.7zM60.6 440.8h0.7v0.7h-0.7zM48.8 448.7h0.7v0.7h-0.7zM52.5 458.3h0.7v0.7h-0.7zM49.8 442.7h0.7v0.7h-0.7zM49.2 450.2h0.7v0.7h-0.7zM54.0 450.6h0.7v0.7h-0.7zM40.0 467.4h0.7v0.7h-0.7zM67.9 441.5h0.7v0.7h-0.7zM41.5 449.9h0.7v0.7h-0.7zM55.6 428.6h0.7v0.7h-0.7zM52.1 435.1h0.7v0.7h-0.7zM56.0 455.1h0.7v0.7h-0.7zM61.0 432.6h0.7v0.7h-0.7zM64.0 449.5h0.7v0.7h-0.7zM48.9 450.5h0.7v0.7h-0.7zM65.1 440.1h0.7v0.7h-0.7zM51.9 441.9h0.7v0.7h-0.7zM62.0 427.5h0.7v0.7h-0.7zM64.3 435.6h0.7v0.7h-0.7zM60.0 431.9h0.7v0.7h-0.7zM43.9 443.8h0.7v0.7h-0.7zM59.2 432.2h0.7v0.7h-0.7zM57.2 439.9h0.7v0.7h-0.7zM62.8 440.8h0.7v0.7h-0.7zM56.2 443.6h0.7v0.7h-0.7zM67.5 439.2h0.7v0.7h-0.7zM51.8 460.6h0.7v0.7h-0.7zM52.7 450.9h0.7v0.7h-0.7zM45.6 449.2h0.7v0.7h-0.7zM32.4 452.0h0.7v0.7h-0.7zM46.4 436.5h0.7v0.7h-0.7zM39.7 457.7h0.7v0.7h-0.7zM55.7 433.9h0.7v0.7h-0.7zM67.7 436.7h0.7v0.7h-0.7zM48.8 448.7h0.7v0.7h-0.7zM42.2 436.7h0.7v0.7h-0.7zM45.5 456.4h0.7v0.7h-0.7zM60.2 432.2h0.7v0.7h-0.7zM62.4 443.5h0.7v0.7h-0.7zM56.3 445.2h0.7v0.7h-0.7zM55.6 437.7h0.7v0.7h-0.7zM44.1 442.9h0.7v0.7h-0.7zM48.8 451.4h0.7v0.7h-0.7zM41.5 460.5h0.7v0.7h-0.7zM46.5 443.1h0.7v0.7h-0.7zM58.1 447.6h0.7v0.7h-0.7zM49.1 438.9h0.7v0.7h-0.7zM43.3 436.6h0.7v0.7h-0.7zM61.9 451.3h0.7v0.7h-0.7zM68.2 445.3h0.7v0.7h-0.7zM54.9 450.8h0.7v0.7h-0.7zM60.2 441.9h0.7v0.7h-0.7zM55.1 461.0h0.7v0.7h-0.7zM37.3 439.6h0.7v0.7h-0.7zM43.7 453.8h0.7v0.7h-0.7zM62.3 440.8h0.7v0.7h-0.7zM57.8 444.1h0.7v0.7h-0.7zM54.6 441.3h0.7v0.7h-0.7zM51.8 446.0h0.7v0.7h-0.7zM61.8 459.8h0.7v0.7h-0.7zM36.3 454.1h0.7v0.7h-0.7zM52.0 453.1h0.7v0.7h-0.7zM61.2 449.3h0.7v0.7h-0.7zM59.0 437.2h0.7v0.7h-0.7zM37.2 462.2h0.7v0.7h-0.7zM62.5 436.2h0.7v0.7h-0.7zM63.2 447.9h0.7v0.7h-0.7zM30.7 458.3h0.7v0.7h-0.7zM43.4 456.9h0.7v0.7h-0.7zM46.1 442.1h0.7v0.7h-0.7zM38.6 448.0h0.7v0.7h-0.7zM60.8 438.7h0.7v0.7h-0.7zM35.9 466.1h0.7v0.7h-0.7zM68.0 446.8h0.7v0.7h-0.7zM47.3 438.3h0.7v0.7h-0.7zM37.8 453.9h0.7v0.7h-0.7zM63.3 435.2h0.7v0.7h-0.7zM52.0 444.0h0.7v0.7h-0.7zM49.8 450.3h0.7v0.7h-0.7zM59.4 452.0h0.7v0.7h-0.7zM49.5 445.6h0.7v0.7h-0.7zM40.4 457.0h0.7v0.7h-0.7zM47.4 442.4h0.7v0.7h-0.7zM52.6 439.5h0.7v0.7h-0.7zM43.0 446.2h0.7v0.7h-0.7zM64.9 441.0h0.7v0.7h-0.7zM56.6 434.0h0.7v0.7h-0.7zM35.1 463.9h0.7v0.7h-0.7zM48.5 435.6h0.7v0.7h-0.7zM51.1 450.7h0.7v0.7h-0.7zM37.0 443.5h0.7v0.7h-0.7zM54.3 438.6h0.7v0.7h-0.7zM58.9 451.2h0.7v0.7h-0.7zM55.8 441.8h0.7v0.7h-0.7zM51.6 441.5h0.7v0.7h-0.7zM50.9 448.6h0.7v0.7h-0.7zM49.4 453.9h0.7v0.7h-0.7zM55.0 451.3h0.7v0.7h-0.7zM57.6 442.8h0.7v0.7h-0.7zM47.8 454.5h0.7v0.7h-0.7zM57.4 448.3h0.7v0.7h-0.7zM45.0 452.5h0.7v0.7h-0.7zM58.9 442.8h0.7v0.7h-0.7zM57.6 460.5h0.7v0.7h-0.7zM35.7 454.8h0.7v0.7h-0.7zM41.8 438.7h0.7v0.7h-0.7zM50.0 450.6h0.7v0.7h-0.7zM52.5 437.3h0.7v0.7h-0.7zM39.5 445.2h0.7v0.7h-0.7zM52.1 439.8h0.7v0.7h-0.7zM38.9 462.4h0.7v0.7h-0.7zM44.7 446.8h0.7v0.7h-0.7zM47.2 443.0h0.7v0.7h-0.7zM52.3 443.7h0.7v0.7h-0.7zM57.4 435.8h0.7v0.7h-0.7zM39.1 463.8h0.7v0.7h-0.7zM51.3 451.8h0.7v0.7h-0.7zM62.3 447.4h0.7v0.7h-0.7zM52.3 434.4h0.7v0.7h-0.7zM38.1 456.9h0.7v0.7h-0.7zM57.9 448.6h0.7v0.7h-0.7zM37.5 434.1h0.7v0.7h-0.7zM42.8 439.7h0.7v0.7h-0.7zM53.4 438.1h0.7v0.7h-0.7zM65.8 437.7h0.7v0.7h-0.7zM47.1 453.7h0.7v0.7h-0.7zM54.9 438.6h0.7v0.7h-0.7zM59.2 458.3h0.7v0.7h-0.7zM41.3 447.0h0.7v0.7h-0.7zM42.6 434.1h0.7v0.7h-0.7zM57.5 449.7h0.7v0.7h-0.7zM60.5 446.9h0.7v0.7h-0.7zM34.4 450.5h0.7v0.7h-0.7zM46.2 438.8h0.7v0.7h-0.7zM42.3 454.2h0.7v0.7h-0.7zM49.4 461.3h0.7v0.7h-0.7zM56.1 430.8h0.7v0.7h-0.7zM59.8 453.2h0.7v0.7h-0.7zM52.3 436.9h0.7v0.7h-0.7zM67.5 432.1h0.7v0.7h-0.7zM51.3 432.1h0.7v0.7h-0.7zM41.0 436.3h0.7v0.7h-0.7zM61.5 452.2h0.7v0.7h-0.7zM48.5 436.9h0.7v0.7h-0.7zM51.5 449.0h0.7v0.7h-0.7zM38.6 441.0h0.7v0.7h-0.7zM51.1 451.5h0.7v0.7h-0.7zM52.7 449.2h0.7v0.7h-0.7zM41.1 430.4h0.7v0.7h-0.7zM54.7 438.4h0.7v0.7h-0.7zM50.9 443.5h0.7v0.7h-0.7zM56.2 439.1h0.7v0.7h-0.7zM64.7 442.9h0.7v0.7h-0.7zM56.6 449.4h0.7v0.7h-0.7zM61.1 446.6h0.7v0.7h-0.7zM36.6 445.4h0.7v0.7h-0.7zM68.4 445.2h0.7v0.7h-0.7zM56.9 448.2h0.7v0.7h-0.7zM46.4 442.4h0.7v0.7h-0.7zM46.3 456.2h0.7v0.7h-0.7zM55.2 458.4h0.7v0.7h-0.7zM56.4 458.9h0.7v0.7h-0.7zM56.0 436.1h0.7v0.7h-0.7zM67.3 444.4h0.7v0.7h-0.7zM62.5 444.8h0.7v0.7h-0.7zM49.1 448.0h0.7v0.7h-0.7zM42.1 439.7h0.7v0.7h-0.7zM44.2 444.2h0.7v0.7h-0.7zM40.0 448.4h0.7v0.7h-0.7zM54.7 460.5h0.7v0.7h-0.7zM68.2 441.3h0.7v0.7h-0.7zM59.8 442.3h0.7v0.7h-0.7zM55.5 444.8h0.7v0.7h-0.7zM47.2 447.8h0.7v0.7h-0.7zM38.9 452.8h0.7v0.7h-0.7zM49.4 438.6h0.7v0.7h-0.7zM48.8 451.0h0.7v0.7h-0.7zM46.0 451.2h0.7v0.7h-0.7zM57.0 456.4h0.7v0.7h-0.7zM42.4 447.7h0.7v0.7h-0.7zM56.5 456.1h0.7v0.7h-0.7zM54.3 451.0h0.7v0.7h-0.7zM39.0 445.1h0.7v0.7h-0.7zM66.7 439.9h0.7v0.7h-0.7zM49.5 434.7h0.7v0.7h-0.7zM57.6 446.5h0.7v0.7h-0.7zM49.8 436.0h0.7v0.7h-0.7zM51.3 453.3h0.7v0.7h-0.7zM58.6 453.5h0.7v0.7h-0.7zM59.7 443.6h0.7v0.7h-0.7zM57.4 445.9h0.7v0.7h-0.7zM40.2 462.1h0.7v0.7h-0.7zM55.3 437.2h0.7v0.7h-0.7zM55.4 447.3h0.7v0.7h-0.7zM60.9 454.5h0.7v0.7h-0.7zM25.0 457.4h0.7v0.7h-0.7zM65.6 435.2h0.7v0.7h-0.7zM35.5 452.5h0.7v0.7h-0.7zM55.0 447.8h0.7v0.7h-0.7zM42.1 445.1h0.7v0.7h-0.7zM53.7 451.2h0.7v0.7h-0.7zM46.6 429.6h0.7v0.7h-0.7zM61.6 442.5h0.7v0.7h-0.7zM51.0 438.8h0.7v0.7h-0.7zM58.5 430.7h0.7v0.7h-0.7zM53.0 446.7h0.7v0.7h-0.7zM54.7 455.2h0.7v0.7h-0.7zM51.1 446.9h0.7v0.7h-0.7zM59.6 432.2h0.7v0.7h-0.7zM49.4 447.2h0.7v0.7h-0.7zM60.5 437.7h0.7v0.7h-0.7zM59.2 447.0h0.7v0.7h-0.7zM38.7 438.3h0.7v0.7h-0.7zM39.2 450.5h0.7v0.7h-0.7zM53.8 451.0h0.7v0.7h-0.7zM59.3 439.9h0.7v0.7h-0.7zM61.6 449.7h0.7v0.7h-0.7zM56.2 448.5h0.7v0.7h-0.7zM40.5 451.8h0.7v0.7h-0.7zM42.8 439.4h0.7v0.7h-0.7zM48.9 447.9h0.7v0.7h-0.7zM51.5 443.6h0.7v0.7h-0.7zM43.1 449.8h0.7v0.7h-0.7zM45.4 437.1h0.7v0.7h-0.7zM52.8 456.8h0.7v0.7h-0.7zM48.4 438.9h0.7v0.7h-0.7zM64.4 455.7h0.7v0.7h-0.7zM49.4 445.1h0.7v0.7h-0.7zM53.9 467.9h0.7v0.7h-0.7zM53.2 453.2h0.7v0.7h-0.7zM56.0 431.1h0.7v0.7h-0.7zM42.1 439.3h0.7v0.7h-0.7zM55.9 445.8h0.7v0.7h-0.7zM68.0 439.7h0.7v0.7h-0.7zM54.8 445.8h0.7v0.7h-0.7zM53.2 463.3h0.7v0.7h-0.7zM54.6 456.5h0.7v0.7h-0.7zM63.6 438.3h0.7v0.7h-0.7zM58.1 441.5h0.7v0.7h-0.7zM53.0 446.9h0.7v0.7h-0.7zM52.2 442.4h0.7v0.7h-0.7zM66.0 440.3h0.7v0.7h-0.7zM58.3 457.1h0.7v0.7h-0.7zM57.6 452.3h0.7v0.7h-0.7zM64.5 451.0h0.7v0.7h-0.7zM67.4 431.0h0.7v0.7h-0.7zM36.3 445.3h0.7v0.7h-0.7zM39.5 449.2h0.7v0.7h-0.7zM38.6 441.9h0.7v0.7h-0.7zM54.7 446.5h0.7v0.7h-0.7zM44.8 446.1h0.7v0.7h-0.7zM51.1 446.8h0.7v0.7h-0.7zM51.9 444.3h0.7v0.7h-0.7zM59.9 431.7h0.7v0.7h-0.7zM47.6 448.2h0.7v0.7h-0.7zM48.4 442.8h0.7v0.7h-0.7zM48.1 448.6h0.7v0.7h-0.7zM63.2 441.6h0.7v0.7h-0.7zM49.6 449.4h0.7v0.7h-0.7zM49.8 431.8h0.7v0.7h-0.7zM54.4 442.5h0.7v0.7h-0.7zM46.9 452.2h0.7v0.7h-0.7zM52.4 441.6h0.7v0.7h-0.7zM32.4 438.1h0.7v0.7h-0.7zM52.1 445.1h0.7v0.7h-0.7zM55.9 446.7h0.7v0.7h-0.7zM47.7 437.5h0.7v0.7h-0.7zM42.2 447.6h0.7v0.7h-0.7zM41.7 454.5h0.7v0.7h-0.7zM40.1 435.5h0.7v0.7h-0.7zM50.3 432.9h0.7v0.7h-0.7zM66.6 434.5h0.7v0.7h-0.7zM51.5 444.3h0.7v0.7h-0.7zM44.6 434.5h0.7v0.7h-0.7zM35.3 457.1h0.7v0.7h-0.7zM61.2 460.1h0.7v0.7h-0.7zM38.8 453.8h0.7v0.7h-0.7zM51.9 452.5h0.7v0.7h-0.7zM47.4 452.7h0.7v0.7h-0.7zM60.1 448.5h0.7v0.7h-0.7zM65.0 441.2h0.7v0.7h-0.7zM65.9 436.9h0.7v0.7h-0.7zM67.0 421.0h0.7v0.7h-0.7zM52.1 439.9h0.7v0.7h-0.7zM52.0 453.9h0.7v0.7h-0.7zM58.5 445.0h0.7v0.7h-0.7zM67.3 430.7h0.7v0.7h-0.7zM44.7 459.5h0.7v0.7h-0.7zM55.0 429.4h0.7v0.7h-0.7zM55.1 436.1h0.7v0.7h-0.7zM65.3 451.2h0.7v0.7h-0.7zM47.1 457.2h0.7v0.7h-0.7zM44.5 455.0h0.7v0.7h-0.7zM57.2 443.6h0.7v0.7h-0.7zM39.2 447.3h0.7v0.7h-0.7zM31.4 447.2h0.7v0.7h-0.7zM35.3 459.7h0.7v0.7h-0.7zM43.3 429.8h0.7v0.7h-0.7zM57.3 447.4h0.7v0.7h-0.7zM47.4 463.4h0.7v0.7h-0.7zM59.0 444.7h0.7v0.7h-0.7zM46.2 425.0h0.7v0.7h-0.7z" fill="#6cb83a" fill-opacity="0.6"/>
<path d="M28.0 447.0L35.0 439.0L46.0 433.0L56.0 428.0L64.0 425.0L70.0 425.0L70.0 462.0L60.0 466.0L46.0 467.0L34.0 464.0L27.0 456.0Z" fill="#7cc250" fill-opacity="0.8" filter="url(#bl2)"/>
<path d="M37.0 440.0L45.0 437.0L55.0 435.8L62.0 434.0L66.0 433.5L66.5 447.0L61.0 456.0L55.0 461.0L49.0 463.0L43.0 460.5L38.5 453.5L35.0 446.0Z" fill="#5fb12a" fill-opacity="1.0" filter="url(#bl1)"/>
</g><g clip-path="url(#clip393b)">
<path d="M78.9 442.0h0.7v0.7h-0.7zM73.5 412.4h0.7v0.7h-0.7zM76.3 410.0h0.7v0.7h-0.7zM76.5 439.2h0.7v0.7h-0.7zM84.0 435.0h0.7v0.7h-0.7zM77.5 439.2h0.7v0.7h-0.7zM83.5 427.9h0.7v0.7h-0.7zM70.4 419.1h0.7v0.7h-0.7zM70.2 417.9h0.7v0.7h-0.7zM75.9 433.9h0.7v0.7h-0.7zM77.3 431.0h0.7v0.7h-0.7zM74.7 434.6h0.7v0.7h-0.7zM80.9 440.1h0.7v0.7h-0.7zM84.0 428.3h0.7v0.7h-0.7zM75.2 449.9h0.7v0.7h-0.7zM77.5 435.2h0.7v0.7h-0.7zM74.8 441.2h0.7v0.7h-0.7zM74.5 417.5h0.7v0.7h-0.7zM76.2 424.6h0.7v0.7h-0.7zM80.7 426.5h0.7v0.7h-0.7zM77.1 427.6h0.7v0.7h-0.7zM78.2 422.9h0.7v0.7h-0.7zM82.0 414.3h0.7v0.7h-0.7zM74.6 421.1h0.7v0.7h-0.7zM79.7 431.3h0.7v0.7h-0.7zM78.9 426.6h0.7v0.7h-0.7zM72.9 415.8h0.7v0.7h-0.7zM74.8 423.2h0.7v0.7h-0.7zM77.9 434.6h0.7v0.7h-0.7zM81.4 429.9h0.7v0.7h-0.7zM72.8 416.4h0.7v0.7h-0.7zM76.8 434.4h0.7v0.7h-0.7zM86.2 434.5h0.7v0.7h-0.7zM85.3 454.5h0.7v0.7h-0.7zM71.3 443.2h0.7v0.7h-0.7zM82.2 447.4h0.7v0.7h-0.7zM76.5 441.4h0.7v0.7h-0.7zM74.1 428.6h0.7v0.7h-0.7zM76.6 451.3h0.7v0.7h-0.7zM75.4 441.1h0.7v0.7h-0.7zM76.8 421.6h0.7v0.7h-0.7zM77.7 438.2h0.7v0.7h-0.7zM72.9 436.7h0.7v0.7h-0.7zM72.9 418.7h0.7v0.7h-0.7zM77.6 427.5h0.7v0.7h-0.7zM71.6 409.4h0.7v0.7h-0.7zM76.6 432.9h0.7v0.7h-0.7zM74.2 431.7h0.7v0.7h-0.7zM78.6 433.8h0.7v0.7h-0.7zM73.4 430.2h0.7v0.7h-0.7zM77.2 442.9h0.7v0.7h-0.7zM77.9 433.4h0.7v0.7h-0.7zM72.9 439.4h0.7v0.7h-0.7zM82.4 425.5h0.7v0.7h-0.7zM79.7 434.4h0.7v0.7h-0.7zM76.3 414.6h0.7v0.7h-0.7zM85.3 409.8h0.7v0.7h-0.7zM78.0 425.9h0.7v0.7h-0.7zM82.2 426.3h0.7v0.7h-0.7zM76.7 437.3h0.7v0.7h-0.7zM78.8 424.3h0.7v0.7h-0.7zM79.9 435.5h0.7v0.7h-0.7zM81.4 425.1h0.7v0.7h-0.7zM76.3 425.3h0.7v0.7h-0.7zM72.3 432.0h0.7v0.7h-0.7zM78.5 447.4h0.7v0.7h-0.7zM74.9 434.2h0.7v0.7h-0.7zM82.2 430.0h0.7v0.7h-0.7zM76.8 431.7h0.7v0.7h-0.7zM73.1 417.4h0.7v0.7h-0.7zM82.1 433.4h0.7v0.7h-0.7zM76.1 415.1h0.7v0.7h-0.7zM77.1 444.1h0.7v0.7h-0.7zM70.8 418.0h0.7v0.7h-0.7zM82.0 448.4h0.7v0.7h-0.7zM84.2 425.3h0.7v0.7h-0.7zM79.5 421.8h0.7v0.7h-0.7zM79.1 426.3h0.7v0.7h-0.7zM77.5 446.2h0.7v0.7h-0.7zM78.2 427.5h0.7v0.7h-0.7zM76.8 433.2h0.7v0.7h-0.7zM73.9 431.8h0.7v0.7h-0.7zM79.5 449.2h0.7v0.7h-0.7zM70.3 438.9h0.7v0.7h-0.7zM88.6 435.2h0.7v0.7h-0.7zM77.1 443.7h0.7v0.7h-0.7zM74.0 423.6h0.7v0.7h-0.7zM78.2 423.5h0.7v0.7h-0.7zM82.0 431.3h0.7v0.7h-0.7zM78.4 460.6h0.7v0.7h-0.7zM74.3 440.5h0.7v0.7h-0.7zM72.4 443.8h0.7v0.7h-0.7zM81.3 432.8h0.7v0.7h-0.7zM81.4 450.3h0.7v0.7h-0.7zM83.3 431.7h0.7v0.7h-0.7zM76.2 443.1h0.7v0.7h-0.7zM69.2 421.1h0.7v0.7h-0.7zM78.9 437.3h0.7v0.7h-0.7zM85.7 453.0h0.7v0.7h-0.7zM78.1 435.6h0.7v0.7h-0.7zM70.0 426.2h0.7v0.7h-0.7zM77.8 427.6h0.7v0.7h-0.7zM76.8 437.3h0.7v0.7h-0.7zM71.8 422.2h0.7v0.7h-0.7zM71.3 408.6h0.7v0.7h-0.7zM80.3 428.4h0.7v0.7h-0.7zM81.3 426.8h0.7v0.7h-0.7zM87.0 441.0h0.7v0.7h-0.7zM77.2 431.5h0.7v0.7h-0.7zM75.5 439.3h0.7v0.7h-0.7zM86.4 427.4h0.7v0.7h-0.7zM71.1 435.8h0.7v0.7h-0.7zM81.8 413.6h0.7v0.7h-0.7zM73.1 417.4h0.7v0.7h-0.7zM79.3 436.6h0.7v0.7h-0.7zM72.9 415.8h0.7v0.7h-0.7zM79.9 406.6h0.7v0.7h-0.7zM79.7 428.9h0.7v0.7h-0.7zM86.0 444.0h0.7v0.7h-0.7zM73.6 426.1h0.7v0.7h-0.7zM75.1 421.1h0.7v0.7h-0.7zM76.9 441.5h0.7v0.7h-0.7zM69.1 425.5h0.7v0.7h-0.7zM83.9 440.5h0.7v0.7h-0.7zM72.5 419.5h0.7v0.7h-0.7zM72.3 410.1h0.7v0.7h-0.7zM82.2 432.2h0.7v0.7h-0.7zM73.1 412.3h0.7v0.7h-0.7zM74.6 423.5h0.7v0.7h-0.7zM85.0 426.6h0.7v0.7h-0.7zM77.1 442.7h0.7v0.7h-0.7zM79.8 428.7h0.7v0.7h-0.7zM79.4 425.6h0.7v0.7h-0.7zM76.1 418.7h0.7v0.7h-0.7zM72.1 411.5h0.7v0.7h-0.7zM79.0 436.7h0.7v0.7h-0.7zM77.4 439.4h0.7v0.7h-0.7zM79.1 432.1h0.7v0.7h-0.7zM72.2 435.9h0.7v0.7h-0.7zM82.3 438.8h0.7v0.7h-0.7zM82.6 425.9h0.7v0.7h-0.7zM71.7 443.5h0.7v0.7h-0.7zM73.6 432.2h0.7v0.7h-0.7zM75.6 430.0h0.7v0.7h-0.7zM75.2 423.4h0.7v0.7h-0.7zM77.5 407.7h0.7v0.7h-0.7zM72.0 415.7h0.7v0.7h-0.7zM79.3 449.9h0.7v0.7h-0.7zM75.3 438.4h0.7v0.7h-0.7zM79.4 416.1h0.7v0.7h-0.7zM82.5 411.7h0.7v0.7h-0.7zM73.7 425.1h0.7v0.7h-0.7zM82.7 432.9h0.7v0.7h-0.7zM75.9 420.4h0.7v0.7h-0.7zM76.9 430.6h0.7v0.7h-0.7zM80.1 447.2h0.7v0.7h-0.7zM80.1 431.1h0.7v0.7h-0.7zM75.8 448.6h0.7v0.7h-0.7zM77.5 430.0h0.7v0.7h-0.7zM85.3 450.5h0.7v0.7h-0.7zM79.3 429.4h0.7v0.7h-0.7zM73.4 441.7h0.7v0.7h-0.7zM74.3 440.7h0.7v0.7h-0.7zM72.7 430.3h0.7v0.7h-0.7zM78.5 432.2h0.7v0.7h-0.7zM77.6 434.7h0.7v0.7h-0.7zM71.0 415.7h0.7v0.7h-0.7zM75.8 450.9h0.7v0.7h-0.7zM75.9 419.0h0.7v0.7h-0.7zM73.3 429.6h0.7v0.7h-0.7zM82.3 424.8h0.7v0.7h-0.7zM79.2 432.8h0.7v0.7h-0.7zM74.8 418.6h0.7v0.7h-0.7zM75.8 421.4h0.7v0.7h-0.7zM79.1 410.1h0.7v0.7h-0.7zM82.0 440.2h0.7v0.7h-0.7zM79.3 448.1h0.7v0.7h-0.7zM79.4 410.8h0.7v0.7h-0.7zM76.8 435.3h0.7v0.7h-0.7zM73.2 416.0h0.7v0.7h-0.7zM78.6 436.5h0.7v0.7h-0.7zM74.4 426.7h0.7v0.7h-0.7zM74.0 422.8h0.7v0.7h-0.7zM76.2 442.4h0.7v0.7h-0.7zM84.4 435.6h0.7v0.7h-0.7zM77.3 439.9h0.7v0.7h-0.7zM71.6 414.7h0.7v0.7h-0.7zM77.7 440.2h0.7v0.7h-0.7zM74.5 421.6h0.7v0.7h-0.7zM78.5 437.6h0.7v0.7h-0.7zM77.8 408.1h0.7v0.7h-0.7zM77.7 420.4h0.7v0.7h-0.7zM73.3 446.7h0.7v0.7h-0.7zM82.9 437.2h0.7v0.7h-0.7zM77.8 432.3h0.7v0.7h-0.7zM73.6 428.7h0.7v0.7h-0.7zM85.8 422.1h0.7v0.7h-0.7zM73.3 431.1h0.7v0.7h-0.7zM80.8 440.7h0.7v0.7h-0.7zM71.8 427.4h0.7v0.7h-0.7zM75.2 415.4h0.7v0.7h-0.7zM76.9 424.5h0.7v0.7h-0.7zM81.0 436.1h0.7v0.7h-0.7zM72.7 430.0h0.7v0.7h-0.7zM74.8 422.2h0.7v0.7h-0.7zM74.1 441.8h0.7v0.7h-0.7zM74.5 409.6h0.7v0.7h-0.7zM72.7 438.5h0.7v0.7h-0.7zM87.0 420.3h0.7v0.7h-0.7zM74.8 425.8h0.7v0.7h-0.7zM69.7 433.0h0.7v0.7h-0.7zM76.3 433.2h0.7v0.7h-0.7zM87.4 429.5h0.7v0.7h-0.7zM80.4 440.6h0.7v0.7h-0.7zM73.4 422.4h0.7v0.7h-0.7zM84.1 440.1h0.7v0.7h-0.7zM77.2 417.5h0.7v0.7h-0.7zM80.8 437.2h0.7v0.7h-0.7zM87.2 449.7h0.7v0.7h-0.7zM80.4 434.1h0.7v0.7h-0.7zM76.8 423.7h0.7v0.7h-0.7zM78.0 433.2h0.7v0.7h-0.7zM79.7 443.4h0.7v0.7h-0.7zM78.0 424.1h0.7v0.7h-0.7zM80.4 449.0h0.7v0.7h-0.7zM72.4 433.9h0.7v0.7h-0.7zM79.2 436.9h0.7v0.7h-0.7zM79.0 429.5h0.7v0.7h-0.7zM76.0 449.5h0.7v0.7h-0.7zM84.9 415.8h0.7v0.7h-0.7zM73.2 423.2h0.7v0.7h-0.7zM76.2 423.7h0.7v0.7h-0.7zM80.9 459.3h0.7v0.7h-0.7zM83.7 445.3h0.7v0.7h-0.7zM74.5 437.2h0.7v0.7h-0.7zM76.3 443.4h0.7v0.7h-0.7zM79.3 430.3h0.7v0.7h-0.7zM79.2 422.3h0.7v0.7h-0.7zM80.4 448.4h0.7v0.7h-0.7zM74.7 436.0h0.7v0.7h-0.7zM80.8 419.2h0.7v0.7h-0.7zM85.0 433.4h0.7v0.7h-0.7zM80.7 427.9h0.7v0.7h-0.7zM81.9 413.3h0.7v0.7h-0.7zM76.0 441.2h0.7v0.7h-0.7zM73.2 437.1h0.7v0.7h-0.7zM74.8 433.6h0.7v0.7h-0.7zM78.1 456.3h0.7v0.7h-0.7zM70.5 437.6h0.7v0.7h-0.7zM82.9 418.5h0.7v0.7h-0.7zM76.9 456.9h0.7v0.7h-0.7zM75.3 409.9h0.7v0.7h-0.7zM78.0 421.9h0.7v0.7h-0.7zM73.8 419.6h0.7v0.7h-0.7zM77.9 424.9h0.7v0.7h-0.7zM72.1 426.3h0.7v0.7h-0.7zM78.5 420.5h0.7v0.7h-0.7zM81.9 412.0h0.7v0.7h-0.7zM78.5 426.0h0.7v0.7h-0.7zM84.1 424.4h0.7v0.7h-0.7zM73.3 413.7h0.7v0.7h-0.7zM86.1 439.5h0.7v0.7h-0.7zM71.2 424.8h0.7v0.7h-0.7zM71.8 446.6h0.7v0.7h-0.7zM78.5 406.9h0.7v0.7h-0.7zM77.5 440.9h0.7v0.7h-0.7zM76.5 435.5h0.7v0.7h-0.7zM76.0 432.3h0.7v0.7h-0.7zM77.5 422.0h0.7v0.7h-0.7zM78.2 432.3h0.7v0.7h-0.7zM76.3 422.0h0.7v0.7h-0.7zM71.6 431.7h0.7v0.7h-0.7zM73.9 445.1h0.7v0.7h-0.7zM80.9 422.8h0.7v0.7h-0.7zM83.1 420.1h0.7v0.7h-0.7zM72.7 451.6h0.7v0.7h-0.7zM74.4 427.0h0.7v0.7h-0.7zM70.8 427.0h0.7v0.7h-0.7zM74.8 422.6h0.7v0.7h-0.7zM73.4 437.9h0.7v0.7h-0.7zM84.0 427.1h0.7v0.7h-0.7zM84.3 450.6h0.7v0.7h-0.7zM83.0 435.0h0.7v0.7h-0.7zM69.3 436.1h0.7v0.7h-0.7zM74.5 431.8h0.7v0.7h-0.7zM77.6 419.4h0.7v0.7h-0.7zM77.9 449.8h0.7v0.7h-0.7zM77.6 422.3h0.7v0.7h-0.7zM88.1 407.8h0.7v0.7h-0.7zM72.0 433.7h0.7v0.7h-0.7zM77.8 440.0h0.7v0.7h-0.7zM72.6 446.1h0.7v0.7h-0.7zM78.9 444.4h0.7v0.7h-0.7zM69.1 428.2h0.7v0.7h-0.7zM84.3 455.3h0.7v0.7h-0.7zM82.9 431.5h0.7v0.7h-0.7zM77.4 422.9h0.7v0.7h-0.7zM81.8 423.2h0.7v0.7h-0.7zM77.1 406.1h0.7v0.7h-0.7zM69.2 448.9h0.7v0.7h-0.7zM76.8 432.6h0.7v0.7h-0.7zM86.6 415.0h0.7v0.7h-0.7zM73.9 426.9h0.7v0.7h-0.7zM70.4 412.7h0.7v0.7h-0.7zM70.5 436.0h0.7v0.7h-0.7zM76.3 439.5h0.7v0.7h-0.7zM71.2 435.6h0.7v0.7h-0.7zM74.3 430.5h0.7v0.7h-0.7zM81.1 431.5h0.7v0.7h-0.7zM74.8 410.2h0.7v0.7h-0.7zM76.8 439.2h0.7v0.7h-0.7zM73.4 428.5h0.7v0.7h-0.7zM78.5 445.6h0.7v0.7h-0.7zM75.0 410.1h0.7v0.7h-0.7zM74.6 411.3h0.7v0.7h-0.7zM75.2 452.2h0.7v0.7h-0.7zM78.0 428.6h0.7v0.7h-0.7zM81.6 426.8h0.7v0.7h-0.7zM78.1 432.7h0.7v0.7h-0.7zM78.7 413.3h0.7v0.7h-0.7zM80.0 441.2h0.7v0.7h-0.7zM72.1 446.4h0.7v0.7h-0.7zM76.6 438.0h0.7v0.7h-0.7zM79.2 441.1h0.7v0.7h-0.7zM73.4 422.4h0.7v0.7h-0.7zM78.3 437.6h0.7v0.7h-0.7zM79.3 434.7h0.7v0.7h-0.7zM74.1 442.4h0.7v0.7h-0.7zM78.8 443.0h0.7v0.7h-0.7zM73.2 430.6h0.7v0.7h-0.7zM74.2 425.8h0.7v0.7h-0.7zM77.4 434.3h0.7v0.7h-0.7zM72.7 435.4h0.7v0.7h-0.7zM72.3 434.0h0.7v0.7h-0.7zM74.7 418.5h0.7v0.7h-0.7zM82.3 450.9h0.7v0.7h-0.7zM76.0 429.3h0.7v0.7h-0.7zM81.2 415.5h0.7v0.7h-0.7zM72.2 442.3h0.7v0.7h-0.7zM80.9 425.3h0.7v0.7h-0.7zM72.7 433.2h0.7v0.7h-0.7zM69.6 422.5h0.7v0.7h-0.7zM79.4 439.7h0.7v0.7h-0.7zM81.8 414.3h0.7v0.7h-0.7zM70.2 418.9h0.7v0.7h-0.7zM70.0 452.7h0.7v0.7h-0.7zM71.7 425.1h0.7v0.7h-0.7zM77.5 435.6h0.7v0.7h-0.7zM83.7 418.9h0.7v0.7h-0.7zM80.9 432.8h0.7v0.7h-0.7zM70.7 430.4h0.7v0.7h-0.7zM69.6 447.5h0.7v0.7h-0.7zM72.9 441.0h0.7v0.7h-0.7zM82.9 424.2h0.7v0.7h-0.7zM72.1 430.5h0.7v0.7h-0.7zM71.3 439.4h0.7v0.7h-0.7zM77.4 421.2h0.7v0.7h-0.7zM73.1 437.8h0.7v0.7h-0.7zM69.3 448.3h0.7v0.7h-0.7zM72.6 426.7h0.7v0.7h-0.7zM71.9 448.2h0.7v0.7h-0.7zM80.6 446.4h0.7v0.7h-0.7zM79.7 431.8h0.7v0.7h-0.7zM84.9 439.9h0.7v0.7h-0.7zM78.7 437.4h0.7v0.7h-0.7zM80.2 434.2h0.7v0.7h-0.7zM75.7 410.8h0.7v0.7h-0.7zM86.7 417.0h0.7v0.7h-0.7zM86.1 446.8h0.7v0.7h-0.7zM73.5 432.4h0.7v0.7h-0.7zM76.4 406.4h0.7v0.7h-0.7zM74.8 433.1h0.7v0.7h-0.7zM82.3 417.1h0.7v0.7h-0.7zM78.1 431.4h0.7v0.7h-0.7zM77.2 431.9h0.7v0.7h-0.7zM74.7 413.3h0.7v0.7h-0.7zM78.8 435.1h0.7v0.7h-0.7zM79.4 445.5h0.7v0.7h-0.7zM71.9 433.7h0.7v0.7h-0.7zM76.4 438.7h0.7v0.7h-0.7zM92.5 427.7h0.7v0.7h-0.7zM75.7 422.7h0.7v0.7h-0.7zM77.7 436.5h0.7v0.7h-0.7zM71.7 444.6h0.7v0.7h-0.7zM82.2 436.7h0.7v0.7h-0.7zM75.9 427.0h0.7v0.7h-0.7zM71.6 422.8h0.7v0.7h-0.7zM81.5 420.2h0.7v0.7h-0.7zM73.9 439.6h0.7v0.7h-0.7zM85.8 424.0h0.7v0.7h-0.7zM82.0 423.5h0.7v0.7h-0.7zM78.4 436.2h0.7v0.7h-0.7zM70.8 440.9h0.7v0.7h-0.7zM85.5 432.8h0.7v0.7h-0.7zM77.8 416.3h0.7v0.7h-0.7zM85.4 432.9h0.7v0.7h-0.7zM70.1 437.6h0.7v0.7h-0.7zM69.2 420.1h0.7v0.7h-0.7zM87.6 425.1h0.7v0.7h-0.7zM73.2 422.3h0.7v0.7h-0.7zM73.7 435.9h0.7v0.7h-0.7zM83.8 419.7h0.7v0.7h-0.7zM78.7 409.0h0.7v0.7h-0.7zM84.1 430.8h0.7v0.7h-0.7zM73.0 447.4h0.7v0.7h-0.7zM76.0 446.2h0.7v0.7h-0.7zM81.9 451.1h0.7v0.7h-0.7zM72.5 429.7h0.7v0.7h-0.7zM78.3 428.1h0.7v0.7h-0.7zM84.1 423.3h0.7v0.7h-0.7zM81.5 447.5h0.7v0.7h-0.7zM72.0 422.4h0.7v0.7h-0.7zM78.5 428.4h0.7v0.7h-0.7zM76.9 424.6h0.7v0.7h-0.7zM76.1 435.7h0.7v0.7h-0.7zM80.2 421.6h0.7v0.7h-0.7zM75.9 420.8h0.7v0.7h-0.7zM75.6 412.6h0.7v0.7h-0.7zM81.3 439.2h0.7v0.7h-0.7zM75.9 421.7h0.7v0.7h-0.7zM74.2 421.5h0.7v0.7h-0.7zM92.9 419.3h0.7v0.7h-0.7zM70.7 435.5h0.7v0.7h-0.7zM79.5 411.9h0.7v0.7h-0.7zM74.0 430.4h0.7v0.7h-0.7zM76.5 423.3h0.7v0.7h-0.7zM75.8 426.3h0.7v0.7h-0.7zM82.7 430.4h0.7v0.7h-0.7zM76.3 423.6h0.7v0.7h-0.7zM73.3 420.4h0.7v0.7h-0.7zM76.6 451.9h0.7v0.7h-0.7zM82.1 434.2h0.7v0.7h-0.7zM84.8 444.1h0.7v0.7h-0.7zM77.5 428.3h0.7v0.7h-0.7zM71.0 431.7h0.7v0.7h-0.7zM74.9 410.7h0.7v0.7h-0.7zM70.1 451.6h0.7v0.7h-0.7zM77.6 436.2h0.7v0.7h-0.7zM77.5 424.7h0.7v0.7h-0.7zM78.8 443.5h0.7v0.7h-0.7zM75.0 435.7h0.7v0.7h-0.7zM81.6 425.5h0.7v0.7h-0.7zM77.3 421.4h0.7v0.7h-0.7zM79.5 426.3h0.7v0.7h-0.7zM82.2 422.3h0.7v0.7h-0.7zM84.9 428.3h0.7v0.7h-0.7zM72.3 418.2h0.7v0.7h-0.7zM79.8 420.6h0.7v0.7h-0.7zM85.5 447.5h0.7v0.7h-0.7zM79.1 413.6h0.7v0.7h-0.7zM76.4 421.3h0.7v0.7h-0.7zM87.5 426.2h0.7v0.7h-0.7zM80.5 446.3h0.7v0.7h-0.7zM71.7 424.8h0.7v0.7h-0.7zM77.8 436.0h0.7v0.7h-0.7zM70.8 431.2h0.7v0.7h-0.7zM76.0 441.2h0.7v0.7h-0.7zM74.0 425.6h0.7v0.7h-0.7zM80.1 423.4h0.7v0.7h-0.7zM90.2 424.8h0.7v0.7h-0.7zM80.7 443.2h0.7v0.7h-0.7zM81.3 428.7h0.7v0.7h-0.7zM72.4 426.0h0.7v0.7h-0.7zM79.8 432.2h0.7v0.7h-0.7zM79.4 437.6h0.7v0.7h-0.7zM72.1 417.8h0.7v0.7h-0.7zM83.7 425.9h0.7v0.7h-0.7zM72.3 417.8h0.7v0.7h-0.7zM81.3 417.6h0.7v0.7h-0.7zM72.1 441.5h0.7v0.7h-0.7zM72.4 459.0h0.7v0.7h-0.7zM77.0 462.2h0.7v0.7h-0.7zM77.1 430.8h0.7v0.7h-0.7zM73.3 426.6h0.7v0.7h-0.7zM74.0 429.1h0.7v0.7h-0.7zM80.4 415.7h0.7v0.7h-0.7zM84.0 430.9h0.7v0.7h-0.7zM76.4 429.3h0.7v0.7h-0.7zM81.5 435.0h0.7v0.7h-0.7zM80.8 429.0h0.7v0.7h-0.7zM75.9 429.2h0.7v0.7h-0.7zM79.9 431.5h0.7v0.7h-0.7zM80.6 451.3h0.7v0.7h-0.7zM85.8 448.7h0.7v0.7h-0.7zM75.4 454.2h0.7v0.7h-0.7zM72.1 427.9h0.7v0.7h-0.7zM81.5 428.6h0.7v0.7h-0.7zM75.9 425.6h0.7v0.7h-0.7zM82.9 444.2h0.7v0.7h-0.7zM76.1 436.6h0.7v0.7h-0.7zM71.7 442.1h0.7v0.7h-0.7zM91.8 422.7h0.7v0.7h-0.7zM83.5 431.0h0.7v0.7h-0.7zM74.8 423.8h0.7v0.7h-0.7zM75.6 414.8h0.7v0.7h-0.7zM69.7 448.2h0.7v0.7h-0.7zM76.4 436.6h0.7v0.7h-0.7zM78.1 436.1h0.7v0.7h-0.7zM79.7 442.7h0.7v0.7h-0.7zM70.8 421.7h0.7v0.7h-0.7zM71.2 436.5h0.7v0.7h-0.7zM78.2 430.8h0.7v0.7h-0.7zM73.3 433.3h0.7v0.7h-0.7zM76.7 421.2h0.7v0.7h-0.7zM78.2 422.5h0.7v0.7h-0.7zM81.3 438.6h0.7v0.7h-0.7zM73.1 436.2h0.7v0.7h-0.7zM76.8 421.7h0.7v0.7h-0.7zM71.9 409.0h0.7v0.7h-0.7zM70.8 432.8h0.7v0.7h-0.7zM82.5 423.9h0.7v0.7h-0.7zM77.3 434.3h0.7v0.7h-0.7zM80.4 436.2h0.7v0.7h-0.7zM82.6 440.6h0.7v0.7h-0.7zM72.7 433.8h0.7v0.7h-0.7zM76.6 436.9h0.7v0.7h-0.7zM75.0 439.6h0.7v0.7h-0.7zM83.1 421.6h0.7v0.7h-0.7zM73.8 432.5h0.7v0.7h-0.7zM79.0 432.3h0.7v0.7h-0.7zM80.7 416.9h0.7v0.7h-0.7zM80.4 444.9h0.7v0.7h-0.7zM82.1 436.4h0.7v0.7h-0.7zM75.3 434.5h0.7v0.7h-0.7zM76.1 411.0h0.7v0.7h-0.7zM73.5 428.8h0.7v0.7h-0.7zM73.9 418.2h0.7v0.7h-0.7zM75.3 425.3h0.7v0.7h-0.7zM76.8 429.5h0.7v0.7h-0.7zM77.4 442.1h0.7v0.7h-0.7zM77.2 435.0h0.7v0.7h-0.7zM74.5 437.6h0.7v0.7h-0.7zM74.8 422.2h0.7v0.7h-0.7zM70.3 439.2h0.7v0.7h-0.7zM73.9 432.3h0.7v0.7h-0.7zM82.2 437.8h0.7v0.7h-0.7zM87.7 431.1h0.7v0.7h-0.7zM81.3 439.4h0.7v0.7h-0.7zM73.2 429.8h0.7v0.7h-0.7zM73.7 417.1h0.7v0.7h-0.7zM78.0 421.1h0.7v0.7h-0.7zM84.9 423.2h0.7v0.7h-0.7zM73.8 430.4h0.7v0.7h-0.7zM73.9 430.0h0.7v0.7h-0.7zM73.5 412.3h0.7v0.7h-0.7zM84.1 437.1h0.7v0.7h-0.7zM77.3 424.6h0.7v0.7h-0.7zM75.8 433.4h0.7v0.7h-0.7zM69.6 418.8h0.7v0.7h-0.7zM72.0 444.0h0.7v0.7h-0.7zM71.2 442.7h0.7v0.7h-0.7zM74.2 462.0h0.7v0.7h-0.7zM76.1 430.3h0.7v0.7h-0.7zM83.3 442.1h0.7v0.7h-0.7zM81.2 418.4h0.7v0.7h-0.7zM82.2 451.4h0.7v0.7h-0.7zM76.0 424.1h0.7v0.7h-0.7zM71.0 440.8h0.7v0.7h-0.7zM78.0 430.4h0.7v0.7h-0.7zM70.3 447.9h0.7v0.7h-0.7zM80.9 430.8h0.7v0.7h-0.7zM83.9 420.4h0.7v0.7h-0.7zM80.9 419.1h0.7v0.7h-0.7zM83.6 428.4h0.7v0.7h-0.7zM82.6 426.5h0.7v0.7h-0.7zM78.5 444.1h0.7v0.7h-0.7zM72.0 430.1h0.7v0.7h-0.7zM72.3 439.2h0.7v0.7h-0.7zM73.5 424.8h0.7v0.7h-0.7zM75.5 443.7h0.7v0.7h-0.7zM71.3 428.4h0.7v0.7h-0.7zM74.9 423.0h0.7v0.7h-0.7zM72.6 427.1h0.7v0.7h-0.7zM77.5 411.8h0.7v0.7h-0.7zM77.7 416.1h0.7v0.7h-0.7zM76.6 457.2h0.7v0.7h-0.7zM71.7 428.1h0.7v0.7h-0.7zM75.2 441.4h0.7v0.7h-0.7zM74.1 408.1h0.7v0.7h-0.7zM77.8 443.0h0.7v0.7h-0.7zM73.8 437.3h0.7v0.7h-0.7zM71.2 444.2h0.7v0.7h-0.7zM76.1 421.8h0.7v0.7h-0.7zM77.4 451.0h0.7v0.7h-0.7zM72.3 414.2h0.7v0.7h-0.7zM71.4 415.0h0.7v0.7h-0.7zM76.2 434.1h0.7v0.7h-0.7zM75.7 432.2h0.7v0.7h-0.7zM82.4 428.0h0.7v0.7h-0.7zM77.7 422.2h0.7v0.7h-0.7zM75.3 434.6h0.7v0.7h-0.7zM78.8 411.8h0.7v0.7h-0.7zM71.7 429.7h0.7v0.7h-0.7zM75.8 443.5h0.7v0.7h-0.7zM74.0 404.7h0.7v0.7h-0.7zM82.4 411.9h0.7v0.7h-0.7zM71.6 433.5h0.7v0.7h-0.7zM71.2 458.4h0.7v0.7h-0.7z" fill="#4444ea" fill-opacity="0.55"/>
<path d="M77.3 428.2h0.7v0.7h-0.7zM75.0 438.3h0.7v0.7h-0.7zM78.4 420.7h0.7v0.7h-0.7zM80.9 414.9h0.7v0.7h-0.7zM74.4 426.7h0.7v0.7h-0.7zM77.0 419.2h0.7v0.7h-0.7zM82.0 433.8h0.7v0.7h-0.7zM73.2 427.2h0.7v0.7h-0.7zM74.3 422.4h0.7v0.7h-0.7zM80.0 425.8h0.7v0.7h-0.7zM76.1 425.6h0.7v0.7h-0.7zM72.4 432.3h0.7v0.7h-0.7zM73.9 432.9h0.7v0.7h-0.7zM74.9 422.3h0.7v0.7h-0.7zM81.7 426.1h0.7v0.7h-0.7zM74.3 421.8h0.7v0.7h-0.7zM78.6 436.2h0.7v0.7h-0.7zM78.6 422.6h0.7v0.7h-0.7zM72.6 421.0h0.7v0.7h-0.7zM76.1 426.5h0.7v0.7h-0.7zM74.2 432.7h0.7v0.7h-0.7zM73.1 420.7h0.7v0.7h-0.7zM78.2 427.9h0.7v0.7h-0.7zM75.1 430.8h0.7v0.7h-0.7zM71.6 434.8h0.7v0.7h-0.7zM84.2 436.7h0.7v0.7h-0.7zM76.9 436.8h0.7v0.7h-0.7zM76.7 433.0h0.7v0.7h-0.7zM75.8 426.2h0.7v0.7h-0.7zM78.3 414.5h0.7v0.7h-0.7zM75.8 435.3h0.7v0.7h-0.7zM79.7 427.0h0.7v0.7h-0.7zM77.2 433.3h0.7v0.7h-0.7zM77.7 413.6h0.7v0.7h-0.7zM73.2 423.2h0.7v0.7h-0.7zM77.0 422.3h0.7v0.7h-0.7zM76.1 435.0h0.7v0.7h-0.7zM79.8 428.6h0.7v0.7h-0.7zM76.6 425.4h0.7v0.7h-0.7zM77.8 426.5h0.7v0.7h-0.7zM74.0 429.7h0.7v0.7h-0.7zM73.6 424.8h0.7v0.7h-0.7zM75.2 418.1h0.7v0.7h-0.7zM78.6 424.6h0.7v0.7h-0.7zM72.4 424.5h0.7v0.7h-0.7zM71.7 433.6h0.7v0.7h-0.7zM78.3 436.9h0.7v0.7h-0.7zM74.5 429.2h0.7v0.7h-0.7zM73.1 419.9h0.7v0.7h-0.7zM76.2 427.5h0.7v0.7h-0.7zM79.7 423.4h0.7v0.7h-0.7zM80.4 430.8h0.7v0.7h-0.7zM73.4 423.9h0.7v0.7h-0.7zM73.3 435.2h0.7v0.7h-0.7zM74.6 430.3h0.7v0.7h-0.7zM79.7 423.5h0.7v0.7h-0.7zM74.8 427.1h0.7v0.7h-0.7zM73.8 417.4h0.7v0.7h-0.7zM73.1 427.0h0.7v0.7h-0.7zM77.2 435.5h0.7v0.7h-0.7zM70.1 428.0h0.7v0.7h-0.7zM72.5 431.9h0.7v0.7h-0.7zM78.9 425.8h0.7v0.7h-0.7zM81.6 422.8h0.7v0.7h-0.7zM74.7 418.7h0.7v0.7h-0.7zM74.2 425.7h0.7v0.7h-0.7zM78.8 432.6h0.7v0.7h-0.7zM75.6 420.6h0.7v0.7h-0.7zM75.3 422.4h0.7v0.7h-0.7zM74.9 422.6h0.7v0.7h-0.7zM73.5 424.7h0.7v0.7h-0.7zM74.7 424.0h0.7v0.7h-0.7zM71.7 425.9h0.7v0.7h-0.7zM78.5 428.9h0.7v0.7h-0.7zM74.6 418.2h0.7v0.7h-0.7zM72.0 418.0h0.7v0.7h-0.7zM74.3 423.2h0.7v0.7h-0.7zM70.3 429.0h0.7v0.7h-0.7zM71.2 420.9h0.7v0.7h-0.7zM74.0 429.9h0.7v0.7h-0.7zM82.9 422.9h0.7v0.7h-0.7zM75.5 422.7h0.7v0.7h-0.7zM75.8 424.0h0.7v0.7h-0.7zM85.1 418.5h0.7v0.7h-0.7zM76.1 420.3h0.7v0.7h-0.7zM77.7 421.9h0.7v0.7h-0.7zM78.5 418.6h0.7v0.7h-0.7zM83.8 426.2h0.7v0.7h-0.7zM70.4 429.2h0.7v0.7h-0.7zM74.9 418.1h0.7v0.7h-0.7zM78.0 421.9h0.7v0.7h-0.7zM79.1 421.8h0.7v0.7h-0.7zM79.6 425.9h0.7v0.7h-0.7zM77.7 425.9h0.7v0.7h-0.7zM75.2 422.9h0.7v0.7h-0.7zM78.1 429.2h0.7v0.7h-0.7zM75.1 438.3h0.7v0.7h-0.7zM82.4 418.2h0.7v0.7h-0.7zM80.3 424.6h0.7v0.7h-0.7zM77.3 420.3h0.7v0.7h-0.7zM82.2 420.1h0.7v0.7h-0.7zM76.2 420.7h0.7v0.7h-0.7zM83.2 432.4h0.7v0.7h-0.7zM71.9 422.3h0.7v0.7h-0.7zM77.8 422.5h0.7v0.7h-0.7zM75.3 418.6h0.7v0.7h-0.7zM77.4 418.5h0.7v0.7h-0.7zM79.4 439.2h0.7v0.7h-0.7zM75.4 434.7h0.7v0.7h-0.7zM77.8 421.0h0.7v0.7h-0.7zM75.3 419.3h0.7v0.7h-0.7zM76.9 429.1h0.7v0.7h-0.7zM79.7 423.4h0.7v0.7h-0.7zM72.4 424.6h0.7v0.7h-0.7zM82.3 426.7h0.7v0.7h-0.7zM76.3 412.7h0.7v0.7h-0.7zM75.0 428.2h0.7v0.7h-0.7zM73.2 433.0h0.7v0.7h-0.7zM74.5 419.9h0.7v0.7h-0.7zM74.5 424.5h0.7v0.7h-0.7zM79.9 421.7h0.7v0.7h-0.7zM70.4 424.5h0.7v0.7h-0.7zM78.3 434.1h0.7v0.7h-0.7zM72.6 433.7h0.7v0.7h-0.7zM78.8 427.7h0.7v0.7h-0.7zM73.9 419.8h0.7v0.7h-0.7zM73.2 430.5h0.7v0.7h-0.7zM77.3 431.3h0.7v0.7h-0.7zM82.8 425.1h0.7v0.7h-0.7zM76.3 436.3h0.7v0.7h-0.7zM72.0 422.4h0.7v0.7h-0.7zM75.2 422.8h0.7v0.7h-0.7zM77.0 420.1h0.7v0.7h-0.7zM80.5 417.0h0.7v0.7h-0.7zM73.7 415.1h0.7v0.7h-0.7zM71.7 428.5h0.7v0.7h-0.7zM78.7 423.9h0.7v0.7h-0.7zM79.4 428.7h0.7v0.7h-0.7zM74.5 424.8h0.7v0.7h-0.7zM77.8 436.8h0.7v0.7h-0.7zM75.0 427.2h0.7v0.7h-0.7zM78.4 432.2h0.7v0.7h-0.7zM78.0 431.3h0.7v0.7h-0.7zM72.8 423.5h0.7v0.7h-0.7zM69.8 424.7h0.7v0.7h-0.7zM84.5 426.5h0.7v0.7h-0.7zM76.8 426.6h0.7v0.7h-0.7zM77.0 417.3h0.7v0.7h-0.7zM74.1 424.0h0.7v0.7h-0.7zM77.1 420.0h0.7v0.7h-0.7zM76.1 420.7h0.7v0.7h-0.7zM72.0 421.2h0.7v0.7h-0.7zM73.7 430.0h0.7v0.7h-0.7zM81.1 428.4h0.7v0.7h-0.7zM75.8 421.8h0.7v0.7h-0.7zM71.1 421.9h0.7v0.7h-0.7zM81.9 431.8h0.7v0.7h-0.7zM77.3 423.6h0.7v0.7h-0.7zM76.5 427.5h0.7v0.7h-0.7zM76.5 427.5h0.7v0.7h-0.7zM73.8 425.3h0.7v0.7h-0.7zM75.3 431.3h0.7v0.7h-0.7zM72.2 432.6h0.7v0.7h-0.7zM76.2 422.1h0.7v0.7h-0.7zM76.6 425.8h0.7v0.7h-0.7zM75.7 427.5h0.7v0.7h-0.7zM74.5 415.1h0.7v0.7h-0.7zM78.9 424.9h0.7v0.7h-0.7zM82.2 427.3h0.7v0.7h-0.7zM69.6 432.3h0.7v0.7h-0.7zM74.1 428.2h0.7v0.7h-0.7zM84.1 431.4h0.7v0.7h-0.7zM72.7 424.5h0.7v0.7h-0.7zM71.0 429.0h0.7v0.7h-0.7zM78.4 419.0h0.7v0.7h-0.7zM78.1 430.5h0.7v0.7h-0.7zM79.3 421.1h0.7v0.7h-0.7zM74.1 418.5h0.7v0.7h-0.7zM72.1 426.9h0.7v0.7h-0.7zM76.6 432.7h0.7v0.7h-0.7zM77.4 423.2h0.7v0.7h-0.7zM71.6 434.1h0.7v0.7h-0.7zM77.1 424.9h0.7v0.7h-0.7zM73.0 418.9h0.7v0.7h-0.7zM78.7 419.4h0.7v0.7h-0.7zM78.5 428.7h0.7v0.7h-0.7zM75.2 415.6h0.7v0.7h-0.7zM77.9 433.3h0.7v0.7h-0.7zM73.7 417.7h0.7v0.7h-0.7zM80.2 425.9h0.7v0.7h-0.7zM74.4 432.2h0.7v0.7h-0.7zM75.5 427.7h0.7v0.7h-0.7zM75.1 420.7h0.7v0.7h-0.7zM77.3 420.0h0.7v0.7h-0.7zM70.4 421.9h0.7v0.7h-0.7zM80.7 431.5h0.7v0.7h-0.7zM84.0 430.8h0.7v0.7h-0.7zM82.0 426.5h0.7v0.7h-0.7zM75.0 427.8h0.7v0.7h-0.7zM73.2 429.3h0.7v0.7h-0.7zM75.0 426.6h0.7v0.7h-0.7zM73.6 424.3h0.7v0.7h-0.7zM79.9 423.8h0.7v0.7h-0.7zM74.2 426.7h0.7v0.7h-0.7zM79.5 424.0h0.7v0.7h-0.7zM72.5 416.0h0.7v0.7h-0.7zM71.9 431.3h0.7v0.7h-0.7zM76.2 427.8h0.7v0.7h-0.7zM80.2 426.7h0.7v0.7h-0.7zM78.2 422.1h0.7v0.7h-0.7zM71.0 428.7h0.7v0.7h-0.7zM76.2 428.4h0.7v0.7h-0.7zM72.8 424.2h0.7v0.7h-0.7zM83.4 420.2h0.7v0.7h-0.7zM76.8 432.7h0.7v0.7h-0.7zM75.7 425.8h0.7v0.7h-0.7zM69.2 429.6h0.7v0.7h-0.7zM75.0 432.5h0.7v0.7h-0.7zM76.2 422.9h0.7v0.7h-0.7zM78.0 423.7h0.7v0.7h-0.7zM74.7 434.0h0.7v0.7h-0.7zM79.9 425.7h0.7v0.7h-0.7zM79.3 429.9h0.7v0.7h-0.7zM78.5 425.3h0.7v0.7h-0.7zM76.7 427.4h0.7v0.7h-0.7zM78.4 427.1h0.7v0.7h-0.7zM74.6 424.6h0.7v0.7h-0.7zM78.1 419.4h0.7v0.7h-0.7zM76.5 429.5h0.7v0.7h-0.7zM77.1 423.4h0.7v0.7h-0.7zM76.4 422.3h0.7v0.7h-0.7zM79.9 422.9h0.7v0.7h-0.7zM70.8 418.1h0.7v0.7h-0.7zM77.5 426.3h0.7v0.7h-0.7zM74.9 417.5h0.7v0.7h-0.7zM76.0 420.2h0.7v0.7h-0.7zM74.3 425.1h0.7v0.7h-0.7zM73.9 426.9h0.7v0.7h-0.7zM74.0 422.4h0.7v0.7h-0.7zM75.7 433.5h0.7v0.7h-0.7zM81.9 430.5h0.7v0.7h-0.7zM74.0 425.1h0.7v0.7h-0.7zM79.6 429.7h0.7v0.7h-0.7zM70.9 424.8h0.7v0.7h-0.7zM74.0 429.4h0.7v0.7h-0.7zM78.7 422.0h0.7v0.7h-0.7zM83.8 423.5h0.7v0.7h-0.7zM84.9 424.1h0.7v0.7h-0.7zM76.2 436.0h0.7v0.7h-0.7zM74.7 422.4h0.7v0.7h-0.7zM81.6 424.9h0.7v0.7h-0.7zM78.1 417.9h0.7v0.7h-0.7zM82.6 430.7h0.7v0.7h-0.7zM77.7 429.1h0.7v0.7h-0.7zM74.8 422.4h0.7v0.7h-0.7zM71.1 427.2h0.7v0.7h-0.7zM80.7 430.0h0.7v0.7h-0.7zM79.7 429.2h0.7v0.7h-0.7zM73.3 417.6h0.7v0.7h-0.7zM78.7 426.0h0.7v0.7h-0.7zM79.9 423.5h0.7v0.7h-0.7zM73.5 427.6h0.7v0.7h-0.7zM74.6 415.7h0.7v0.7h-0.7zM74.4 420.1h0.7v0.7h-0.7zM72.7 421.9h0.7v0.7h-0.7zM79.8 438.6h0.7v0.7h-0.7zM82.4 422.7h0.7v0.7h-0.7zM80.4 424.7h0.7v0.7h-0.7zM77.9 421.2h0.7v0.7h-0.7zM76.2 415.5h0.7v0.7h-0.7zM82.6 420.7h0.7v0.7h-0.7zM78.5 421.7h0.7v0.7h-0.7zM77.4 418.4h0.7v0.7h-0.7zM75.2 430.3h0.7v0.7h-0.7zM78.5 414.0h0.7v0.7h-0.7zM79.4 417.6h0.7v0.7h-0.7zM77.5 428.1h0.7v0.7h-0.7zM74.3 423.3h0.7v0.7h-0.7zM75.7 427.4h0.7v0.7h-0.7zM79.6 432.9h0.7v0.7h-0.7zM77.6 436.5h0.7v0.7h-0.7zM73.3 435.3h0.7v0.7h-0.7zM75.6 429.5h0.7v0.7h-0.7zM76.1 425.6h0.7v0.7h-0.7zM73.4 427.3h0.7v0.7h-0.7zM83.4 425.9h0.7v0.7h-0.7zM76.4 425.1h0.7v0.7h-0.7zM78.9 423.9h0.7v0.7h-0.7zM76.5 426.3h0.7v0.7h-0.7zM81.0 430.5h0.7v0.7h-0.7zM72.9 421.5h0.7v0.7h-0.7zM76.6 429.9h0.7v0.7h-0.7zM79.8 423.9h0.7v0.7h-0.7zM83.8 424.2h0.7v0.7h-0.7zM81.3 433.2h0.7v0.7h-0.7zM82.0 426.2h0.7v0.7h-0.7zM78.5 416.4h0.7v0.7h-0.7zM70.4 421.6h0.7v0.7h-0.7zM79.0 431.2h0.7v0.7h-0.7zM76.1 431.0h0.7v0.7h-0.7zM78.5 433.8h0.7v0.7h-0.7zM71.0 420.4h0.7v0.7h-0.7zM73.2 419.1h0.7v0.7h-0.7zM82.1 419.8h0.7v0.7h-0.7zM73.7 422.8h0.7v0.7h-0.7zM79.5 422.5h0.7v0.7h-0.7zM79.0 428.2h0.7v0.7h-0.7zM74.3 411.6h0.7v0.7h-0.7zM73.4 418.0h0.7v0.7h-0.7zM82.1 421.0h0.7v0.7h-0.7zM72.8 427.2h0.7v0.7h-0.7zM76.7 419.8h0.7v0.7h-0.7zM80.3 430.3h0.7v0.7h-0.7zM77.5 420.8h0.7v0.7h-0.7zM73.5 413.4h0.7v0.7h-0.7zM77.8 427.3h0.7v0.7h-0.7zM73.3 425.2h0.7v0.7h-0.7zM87.7 418.7h0.7v0.7h-0.7zM70.6 428.6h0.7v0.7h-0.7zM75.0 422.3h0.7v0.7h-0.7zM78.6 424.3h0.7v0.7h-0.7zM79.9 428.0h0.7v0.7h-0.7zM80.5 425.8h0.7v0.7h-0.7zM69.1 432.8h0.7v0.7h-0.7zM70.7 431.0h0.7v0.7h-0.7zM77.4 417.2h0.7v0.7h-0.7zM76.7 430.1h0.7v0.7h-0.7zM73.0 425.3h0.7v0.7h-0.7zM74.0 419.4h0.7v0.7h-0.7zM74.4 432.4h0.7v0.7h-0.7zM78.9 424.9h0.7v0.7h-0.7zM76.2 425.8h0.7v0.7h-0.7zM77.5 426.1h0.7v0.7h-0.7zM70.6 430.3h0.7v0.7h-0.7zM73.6 410.2h0.7v0.7h-0.7zM78.9 418.2h0.7v0.7h-0.7zM76.0 424.5h0.7v0.7h-0.7zM74.5 428.1h0.7v0.7h-0.7zM75.6 423.5h0.7v0.7h-0.7zM73.2 423.5h0.7v0.7h-0.7zM72.9 425.3h0.7v0.7h-0.7zM81.0 430.8h0.7v0.7h-0.7zM78.0 417.3h0.7v0.7h-0.7zM80.0 430.4h0.7v0.7h-0.7zM83.6 412.2h0.7v0.7h-0.7zM76.6 423.2h0.7v0.7h-0.7zM80.2 418.9h0.7v0.7h-0.7zM75.2 438.3h0.7v0.7h-0.7zM79.9 413.7h0.7v0.7h-0.7zM76.6 432.9h0.7v0.7h-0.7zM74.4 428.5h0.7v0.7h-0.7zM76.8 416.7h0.7v0.7h-0.7zM74.3 431.5h0.7v0.7h-0.7zM80.6 421.6h0.7v0.7h-0.7zM80.4 421.0h0.7v0.7h-0.7zM77.4 424.9h0.7v0.7h-0.7zM72.2 426.9h0.7v0.7h-0.7zM75.2 409.4h0.7v0.7h-0.7zM73.6 420.2h0.7v0.7h-0.7zM73.6 419.5h0.7v0.7h-0.7zM74.1 411.0h0.7v0.7h-0.7zM79.6 425.5h0.7v0.7h-0.7zM77.4 423.5h0.7v0.7h-0.7zM76.7 423.5h0.7v0.7h-0.7zM72.7 416.4h0.7v0.7h-0.7zM76.8 430.9h0.7v0.7h-0.7zM77.3 434.3h0.7v0.7h-0.7zM71.8 423.5h0.7v0.7h-0.7zM74.4 432.1h0.7v0.7h-0.7zM82.3 422.1h0.7v0.7h-0.7zM79.0 423.7h0.7v0.7h-0.7zM73.1 424.4h0.7v0.7h-0.7zM72.9 433.9h0.7v0.7h-0.7zM78.5 431.8h0.7v0.7h-0.7zM77.7 411.1h0.7v0.7h-0.7zM79.3 425.6h0.7v0.7h-0.7zM80.0 434.8h0.7v0.7h-0.7zM73.0 429.6h0.7v0.7h-0.7zM77.6 424.0h0.7v0.7h-0.7zM75.5 428.1h0.7v0.7h-0.7zM78.5 428.8h0.7v0.7h-0.7zM75.1 417.5h0.7v0.7h-0.7zM81.0 432.5h0.7v0.7h-0.7zM74.6 424.8h0.7v0.7h-0.7zM79.3 414.9h0.7v0.7h-0.7zM78.2 438.9h0.7v0.7h-0.7zM77.4 421.0h0.7v0.7h-0.7zM83.5 425.1h0.7v0.7h-0.7zM77.2 422.6h0.7v0.7h-0.7zM77.1 414.7h0.7v0.7h-0.7zM72.1 416.6h0.7v0.7h-0.7zM79.6 424.5h0.7v0.7h-0.7zM80.5 413.3h0.7v0.7h-0.7zM74.4 433.4h0.7v0.7h-0.7zM73.8 414.3h0.7v0.7h-0.7zM73.9 423.0h0.7v0.7h-0.7zM76.5 432.5h0.7v0.7h-0.7z" fill="#2222d4" fill-opacity="0.65"/>
<path d="M83.5 437.4h0.7v0.7h-0.7zM79.9 419.7h0.7v0.7h-0.7zM74.6 411.3h0.7v0.7h-0.7zM83.3 434.8h0.7v0.7h-0.7zM77.4 416.3h0.7v0.7h-0.7zM80.3 428.2h0.7v0.7h-0.7zM77.8 414.0h0.7v0.7h-0.7zM78.2 419.1h0.7v0.7h-0.7zM80.6 429.2h0.7v0.7h-0.7zM79.2 420.3h0.7v0.7h-0.7zM84.5 430.7h0.7v0.7h-0.7zM83.2 431.3h0.7v0.7h-0.7zM80.3 427.4h0.7v0.7h-0.7zM71.7 408.3h0.7v0.7h-0.7zM72.4 429.3h0.7v0.7h-0.7zM81.5 425.6h0.7v0.7h-0.7zM77.4 439.8h0.7v0.7h-0.7zM75.0 408.6h0.7v0.7h-0.7zM69.4 421.2h0.7v0.7h-0.7zM80.4 430.4h0.7v0.7h-0.7zM75.9 431.1h0.7v0.7h-0.7zM76.8 417.8h0.7v0.7h-0.7zM75.1 430.5h0.7v0.7h-0.7zM81.7 414.3h0.7v0.7h-0.7zM72.1 425.1h0.7v0.7h-0.7zM87.4 413.9h0.7v0.7h-0.7zM70.9 427.6h0.7v0.7h-0.7zM79.5 418.7h0.7v0.7h-0.7zM76.9 428.2h0.7v0.7h-0.7zM79.9 432.0h0.7v0.7h-0.7zM82.7 423.4h0.7v0.7h-0.7zM69.9 435.6h0.7v0.7h-0.7zM80.8 418.5h0.7v0.7h-0.7zM82.1 433.0h0.7v0.7h-0.7zM74.7 417.5h0.7v0.7h-0.7zM72.9 423.3h0.7v0.7h-0.7zM71.7 427.4h0.7v0.7h-0.7zM86.3 413.7h0.7v0.7h-0.7zM82.1 419.4h0.7v0.7h-0.7zM79.7 422.9h0.7v0.7h-0.7zM83.3 417.9h0.7v0.7h-0.7zM80.6 417.3h0.7v0.7h-0.7zM78.1 423.9h0.7v0.7h-0.7zM82.3 410.4h0.7v0.7h-0.7zM70.4 436.0h0.7v0.7h-0.7zM78.9 438.6h0.7v0.7h-0.7zM72.0 425.8h0.7v0.7h-0.7zM80.0 439.2h0.7v0.7h-0.7zM76.7 420.1h0.7v0.7h-0.7zM80.5 423.1h0.7v0.7h-0.7zM73.3 430.6h0.7v0.7h-0.7zM83.7 419.7h0.7v0.7h-0.7zM75.4 427.2h0.7v0.7h-0.7zM82.5 428.6h0.7v0.7h-0.7zM72.3 419.1h0.7v0.7h-0.7zM82.1 423.0h0.7v0.7h-0.7zM73.9 431.5h0.7v0.7h-0.7zM82.6 442.8h0.7v0.7h-0.7zM71.7 417.9h0.7v0.7h-0.7zM73.6 427.1h0.7v0.7h-0.7zM74.7 433.6h0.7v0.7h-0.7zM73.9 421.6h0.7v0.7h-0.7zM79.8 425.8h0.7v0.7h-0.7zM72.1 437.0h0.7v0.7h-0.7zM79.8 419.8h0.7v0.7h-0.7zM78.0 414.5h0.7v0.7h-0.7zM71.0 421.4h0.7v0.7h-0.7zM78.8 424.9h0.7v0.7h-0.7zM73.2 412.0h0.7v0.7h-0.7zM78.8 417.1h0.7v0.7h-0.7zM82.8 428.7h0.7v0.7h-0.7zM75.0 418.7h0.7v0.7h-0.7zM82.6 426.8h0.7v0.7h-0.7zM85.0 427.1h0.7v0.7h-0.7zM74.1 418.8h0.7v0.7h-0.7zM73.6 426.2h0.7v0.7h-0.7zM78.2 429.2h0.7v0.7h-0.7zM79.2 414.9h0.7v0.7h-0.7zM76.0 415.9h0.7v0.7h-0.7zM79.4 412.6h0.7v0.7h-0.7zM74.2 416.6h0.7v0.7h-0.7zM74.0 421.8h0.7v0.7h-0.7zM84.4 421.8h0.7v0.7h-0.7zM70.0 421.4h0.7v0.7h-0.7zM80.6 428.8h0.7v0.7h-0.7zM78.2 441.2h0.7v0.7h-0.7zM82.4 424.8h0.7v0.7h-0.7zM82.9 412.4h0.7v0.7h-0.7zM76.2 416.5h0.7v0.7h-0.7zM77.9 438.0h0.7v0.7h-0.7zM74.6 437.8h0.7v0.7h-0.7zM72.0 436.3h0.7v0.7h-0.7zM81.9 423.2h0.7v0.7h-0.7zM77.7 423.9h0.7v0.7h-0.7z" fill="#c8c8fa" fill-opacity="0.5"/>
<path d="M76.1 453.6h0.7v0.7h-0.7zM72.2 452.8h0.7v0.7h-0.7zM75.9 448.1h0.7v0.7h-0.7zM77.1 468.5h0.7v0.7h-0.7zM69.9 450.8h0.7v0.7h-0.7zM74.5 455.1h0.7v0.7h-0.7zM75.8 449.4h0.7v0.7h-0.7zM75.4 455.0h0.7v0.7h-0.7zM75.2 466.8h0.7v0.7h-0.7zM75.9 443.7h0.7v0.7h-0.7zM70.2 459.5h0.7v0.7h-0.7zM74.3 450.3h0.7v0.7h-0.7zM70.9 452.6h0.7v0.7h-0.7zM75.2 449.7h0.7v0.7h-0.7zM74.3 461.8h0.7v0.7h-0.7zM78.2 459.2h0.7v0.7h-0.7zM74.9 444.6h0.7v0.7h-0.7zM78.1 466.5h0.7v0.7h-0.7zM79.8 463.9h0.7v0.7h-0.7zM76.4 457.9h0.7v0.7h-0.7zM75.5 464.6h0.7v0.7h-0.7zM78.1 452.5h0.7v0.7h-0.7zM75.5 442.7h0.7v0.7h-0.7zM73.0 452.7h0.7v0.7h-0.7zM83.8 448.8h0.7v0.7h-0.7zM78.6 455.6h0.7v0.7h-0.7zM74.5 459.8h0.7v0.7h-0.7zM82.1 457.3h0.7v0.7h-0.7zM75.3 456.2h0.7v0.7h-0.7zM77.8 451.2h0.7v0.7h-0.7zM75.9 458.9h0.7v0.7h-0.7zM74.3 458.0h0.7v0.7h-0.7zM76.6 460.5h0.7v0.7h-0.7zM72.1 450.9h0.7v0.7h-0.7zM74.1 464.2h0.7v0.7h-0.7zM76.3 442.3h0.7v0.7h-0.7zM76.7 445.1h0.7v0.7h-0.7zM72.4 456.1h0.7v0.7h-0.7zM80.3 467.4h0.7v0.7h-0.7zM74.3 452.7h0.7v0.7h-0.7zM82.0 447.5h0.7v0.7h-0.7zM80.8 457.6h0.7v0.7h-0.7zM75.8 464.9h0.7v0.7h-0.7zM77.1 448.6h0.7v0.7h-0.7zM70.3 455.1h0.7v0.7h-0.7zM77.2 465.5h0.7v0.7h-0.7zM77.6 466.7h0.7v0.7h-0.7zM78.2 456.6h0.7v0.7h-0.7zM77.0 458.1h0.7v0.7h-0.7zM73.4 454.1h0.7v0.7h-0.7zM75.9 451.5h0.7v0.7h-0.7zM70.5 443.9h0.7v0.7h-0.7zM77.2 459.0h0.7v0.7h-0.7zM75.9 446.0h0.7v0.7h-0.7zM78.4 452.0h0.7v0.7h-0.7zM77.3 451.6h0.7v0.7h-0.7zM80.5 465.5h0.7v0.7h-0.7zM76.4 441.8h0.7v0.7h-0.7zM74.2 452.8h0.7v0.7h-0.7zM77.1 454.0h0.7v0.7h-0.7zM76.7 442.5h0.7v0.7h-0.7zM73.3 466.1h0.7v0.7h-0.7zM70.6 462.1h0.7v0.7h-0.7zM83.3 460.0h0.7v0.7h-0.7zM70.8 464.6h0.7v0.7h-0.7zM69.2 457.6h0.7v0.7h-0.7zM74.1 464.5h0.7v0.7h-0.7zM79.5 456.5h0.7v0.7h-0.7zM81.6 462.6h0.7v0.7h-0.7zM73.9 447.4h0.7v0.7h-0.7zM83.9 451.9h0.7v0.7h-0.7zM76.9 454.1h0.7v0.7h-0.7zM73.9 442.6h0.7v0.7h-0.7zM75.0 454.1h0.7v0.7h-0.7zM78.8 451.0h0.7v0.7h-0.7zM70.2 446.7h0.7v0.7h-0.7zM75.4 456.9h0.7v0.7h-0.7zM78.0 452.1h0.7v0.7h-0.7zM77.3 456.1h0.7v0.7h-0.7zM81.2 454.6h0.7v0.7h-0.7zM76.0 459.4h0.7v0.7h-0.7zM79.6 447.9h0.7v0.7h-0.7zM73.9 452.9h0.7v0.7h-0.7zM79.1 455.2h0.7v0.7h-0.7zM86.9 464.8h0.7v0.7h-0.7zM82.4 467.1h0.7v0.7h-0.7zM78.6 444.1h0.7v0.7h-0.7zM80.7 458.2h0.7v0.7h-0.7zM71.4 455.4h0.7v0.7h-0.7zM78.1 462.6h0.7v0.7h-0.7zM76.1 451.0h0.7v0.7h-0.7zM78.1 449.1h0.7v0.7h-0.7zM75.2 460.9h0.7v0.7h-0.7zM70.6 457.9h0.7v0.7h-0.7zM71.3 454.3h0.7v0.7h-0.7zM77.9 454.6h0.7v0.7h-0.7zM78.6 455.7h0.7v0.7h-0.7zM74.8 458.8h0.7v0.7h-0.7zM74.7 456.0h0.7v0.7h-0.7zM79.0 450.6h0.7v0.7h-0.7zM79.4 446.5h0.7v0.7h-0.7zM74.8 441.6h0.7v0.7h-0.7zM73.7 467.3h0.7v0.7h-0.7zM76.7 464.8h0.7v0.7h-0.7zM70.5 447.2h0.7v0.7h-0.7zM77.1 461.4h0.7v0.7h-0.7zM78.3 442.1h0.7v0.7h-0.7zM77.2 454.4h0.7v0.7h-0.7zM75.9 458.7h0.7v0.7h-0.7zM74.5 441.9h0.7v0.7h-0.7zM71.9 443.8h0.7v0.7h-0.7zM71.0 454.0h0.7v0.7h-0.7zM79.9 449.5h0.7v0.7h-0.7zM72.9 446.1h0.7v0.7h-0.7zM69.6 455.5h0.7v0.7h-0.7zM73.8 453.1h0.7v0.7h-0.7zM72.2 458.8h0.7v0.7h-0.7zM71.4 459.2h0.7v0.7h-0.7zM73.2 461.1h0.7v0.7h-0.7zM72.5 458.4h0.7v0.7h-0.7zM77.0 454.4h0.7v0.7h-0.7zM81.1 456.4h0.7v0.7h-0.7zM72.5 460.3h0.7v0.7h-0.7zM72.7 450.8h0.7v0.7h-0.7zM75.5 456.4h0.7v0.7h-0.7zM81.3 441.5h0.7v0.7h-0.7zM74.6 463.7h0.7v0.7h-0.7zM75.0 457.5h0.7v0.7h-0.7zM80.7 445.5h0.7v0.7h-0.7zM75.7 461.1h0.7v0.7h-0.7zM73.5 441.5h0.7v0.7h-0.7zM72.1 456.5h0.7v0.7h-0.7zM80.0 443.0h0.7v0.7h-0.7zM79.0 462.1h0.7v0.7h-0.7zM81.0 453.8h0.7v0.7h-0.7zM73.6 456.1h0.7v0.7h-0.7zM80.8 459.8h0.7v0.7h-0.7zM81.3 461.1h0.7v0.7h-0.7zM73.5 447.2h0.7v0.7h-0.7zM81.8 443.3h0.7v0.7h-0.7z" fill="#7a7af0" fill-opacity="0.5"/>
<path d="M85.0 428.0L84.7 431.9L83.9 435.5L82.7 438.6L81.0 441.0L79.1 442.5L77.0 443.0L74.9 442.5L73.0 441.0L71.3 438.6L70.1 435.5L69.3 431.9L69.0 428.0L69.3 424.1L70.1 420.5L71.3 417.4L73.0 415.0L74.9 413.5L77.0 413.0L79.1 413.5L81.0 415.0L82.7 417.4L83.9 420.5L84.7 424.1Z" fill="#8a8af4" fill-opacity="0.65" filter="url(#bl2)"/>
<path d="M83.0 425.0L82.8 427.8L82.1 430.5L81.1 432.8L79.8 434.5L78.2 435.6L76.5 436.0L74.8 435.6L73.2 434.5L71.9 432.8L70.9 430.5L70.2 427.8L70.0 425.0L70.2 422.2L70.9 419.5L71.9 417.2L73.2 415.5L74.8 414.4L76.5 414.0L78.2 414.4L79.8 415.5L81.1 417.2L82.1 419.5L82.8 422.2Z" fill="#5a5aee" fill-opacity="0.7" filter="url(#bl1)"/>
<path d="M79.9 424.5L79.8 425.9L79.4 427.2L78.9 428.4L78.2 429.3L77.3 429.8L76.4 430.0L75.5 429.8L74.7 429.3L73.9 428.4L73.4 427.2L73.0 425.9L72.9 424.5L73.0 423.1L73.4 421.8L73.9 420.6L74.7 419.7L75.5 419.2L76.4 419.0L77.3 419.2L78.2 419.7L78.9 420.6L79.4 421.8L79.8 423.1Z" fill="#3a3ae4" fill-opacity="0.6" filter="url(#bl1)"/>
</g></g>
<rect x="17.40" y="393.10" width="79.70" height="76.70" fill="none" stroke="#a8a8a8" stroke-width="1.4"/>
<line x1="62.20" y1="393.10" x2="62.20" y2="469.80" stroke="#5a5a5a" stroke-width="0.8"/>
<line x1="17.40" y1="436.40" x2="97.10" y2="436.40" stroke="#5a5a5a" stroke-width="0.8"/>
<rect x="69.0" y="404.00" width="26.50" height="65.80" fill="none" stroke="#8a8a8a" stroke-width="0.9"/>
<text x="19.20" y="399.70" font-size="4.2" fill="#444" stroke="#444" stroke-width="0.1">Q1</text>
<text x="90.20" y="399.70" font-size="4.2" fill="#444" stroke="#444" stroke-width="0.1">Q2</text>
<text x="88.50" y="409.00" font-size="4.2" fill="#333" stroke="#333" stroke-width="0.15">P3</text>
<text x="19.20" y="468.20" font-size="4.2" fill="#444" stroke="#444" stroke-width="0.1">Q3</text>
<text x="90.20" y="468.20" font-size="4.2" fill="#444" stroke="#444" stroke-width="0.1">Q4</text>
<text x="43.10" y="389.80" font-size="11" textLength="28.10" lengthAdjust="spacingAndGlyphs" fill="#111" stroke="#111" stroke-width="0.45">Fresh</text>
<text x="6.50" y="429.70" font-size="7.5" text-anchor="middle" textLength="22.30" lengthAdjust="spacingAndGlyphs" transform="rotate(-90 6.50 429.70)" fill="#000" stroke="#000" stroke-width="0.35">CD138</text>
<text x="46.00" y="485.00" font-size="7.5" textLength="22.20" lengthAdjust="spacingAndGlyphs" fill="#000" stroke="#000" stroke-width="0.35">CD319</text>
<path d="M15.0 459.5H17.4M28.2 469.8V472.2M16.0 453.7H17.4M34.2 469.8V471.2M16.0 450.3H17.4M37.7 469.8V471.2M16.0 447.9H17.4M40.2 469.8V471.2M16.0 446.0H17.4M42.1 469.8V471.2M16.0 444.5H17.4M43.7 469.8V471.2M16.0 443.2H17.4M45.0 469.8V471.2M16.0 442.1H17.4M46.2 469.8V471.2M16.0 441.1H17.4M47.2 469.8V471.2M15.0 440.2H17.4M48.1 469.8V472.2M16.0 434.4H17.4M54.1 469.8V471.2M16.0 431.0H17.4M57.6 469.8V471.2M16.0 428.6H17.4M60.1 469.8V471.2M16.0 426.7H17.4M62.0 469.8V471.2M16.0 425.2H17.4M63.6 469.8V471.2M16.0 423.9H17.4M64.9 469.8V471.2M16.0 422.8H17.4M66.1 469.8V471.2M16.0 421.8H17.4M67.1 469.8V471.2M15.0 420.9H17.4M68.0 469.8V472.2M16.0 415.1H17.4M74.0 469.8V471.2M16.0 411.7H17.4M77.5 469.8V471.2M16.0 409.3H17.4M80.0 469.8V471.2M16.0 407.4H17.4M81.9 469.8V471.2M16.0 405.9H17.4M83.5 469.8V471.2M16.0 404.6H17.4M84.8 469.8V471.2M16.0 403.5H17.4M86.0 469.8V471.2M16.0 402.5H17.4M87.0 469.8V471.2M15.0 401.6H17.4M87.9 469.8V472.2M16.0 395.8H17.4M93.9 469.8V471.2" stroke="#777" stroke-width="0.6"/>
<text x="26.70" y="477.30" font-size="4" fill="#333" transform="rotate(-50 26.70 477.30)">10<tspan dy="-1.4" font-size="2.8">2</tspan></text>
<text x="12.90" y="461.00" font-size="4" fill="#333" transform="rotate(-50 12.90 461.00)">10<tspan dy="-1.4" font-size="2.8">2</tspan></text>
<text x="46.60" y="477.30" font-size="4" fill="#333" transform="rotate(-50 46.60 477.30)">10<tspan dy="-1.4" font-size="2.8">3</tspan></text>
<text x="12.90" y="441.70" font-size="4" fill="#333" transform="rotate(-50 12.90 441.70)">10<tspan dy="-1.4" font-size="2.8">3</tspan></text>
<text x="66.50" y="477.30" font-size="4" fill="#333" transform="rotate(-50 66.50 477.30)">10<tspan dy="-1.4" font-size="2.8">4</tspan></text>
<text x="12.90" y="422.40" font-size="4" fill="#333" transform="rotate(-50 12.90 422.40)">10<tspan dy="-1.4" font-size="2.8">4</tspan></text>
<text x="86.40" y="477.30" font-size="4" fill="#333" transform="rotate(-50 86.40 477.30)">10<tspan dy="-1.4" font-size="2.8">5</tspan></text>
<text x="12.90" y="403.10" font-size="4" fill="#333" transform="rotate(-50 12.90 403.10)">10<tspan dy="-1.4" font-size="2.8">5</tspan></text>
<clipPath id="clip503"><rect x="17.40" y="503.60" width="79.70" height="77.30"/></clipPath>
<clipPath id="clip503g"><path d="M17.4 503.6H97.1V514.7H69.0V580.9H17.4Z"/></clipPath>
<clipPath id="clip503b"><rect x="69.0" y="514.7" width="26.5" height="66.19999999999993"/></clipPath>
<g clip-path="url(#clip503)"><g clip-path="url(#clip503g)">
<path d="M39.2 560.1h0.7v0.7h-0.7zM31.6 559.4h0.7v0.7h-0.7zM43.1 557.4h0.7v0.7h-0.7zM45.7 570.3h0.7v0.7h-0.7zM32.9 560.6h0.7v0.7h-0.7zM20.2 573.6h0.7v0.7h-0.7zM53.3 573.9h0.7v0.7h-0.7zM55.9 556.9h0.7v0.7h-0.7zM38.7 560.3h0.7v0.7h-0.7zM27.5 572.7h0.7v0.7h-0.7zM35.7 557.1h0.7v0.7h-0.7zM51.0 561.5h0.7v0.7h-0.7zM36.0 561.5h0.7v0.7h-0.7zM37.3 575.9h0.7v0.7h-0.7zM57.7 552.4h0.7v0.7h-0.7zM43.5 574.8h0.7v0.7h-0.7zM40.1 579.3h0.7v0.7h-0.7zM50.1 566.9h0.7v0.7h-0.7zM48.6 566.4h0.7v0.7h-0.7zM50.6 565.5h0.7v0.7h-0.7zM37.1 571.8h0.7v0.7h-0.7zM44.9 552.1h0.7v0.7h-0.7zM30.1 566.5h0.7v0.7h-0.7zM48.6 540.6h0.7v0.7h-0.7zM23.1 564.2h0.7v0.7h-0.7zM35.8 568.9h0.7v0.7h-0.7zM63.2 572.8h0.7v0.7h-0.7zM30.2 576.4h0.7v0.7h-0.7zM27.4 568.4h0.7v0.7h-0.7zM46.3 567.2h0.7v0.7h-0.7zM33.1 576.7h0.7v0.7h-0.7zM43.1 562.0h0.7v0.7h-0.7zM40.4 552.9h0.7v0.7h-0.7zM53.9 563.0h0.7v0.7h-0.7zM50.2 577.9h0.7v0.7h-0.7zM32.2 561.9h0.7v0.7h-0.7zM44.1 569.9h0.7v0.7h-0.7zM41.6 571.2h0.7v0.7h-0.7zM50.2 544.4h0.7v0.7h-0.7zM34.7 545.2h0.7v0.7h-0.7zM40.1 559.0h0.7v0.7h-0.7zM52.1 561.9h0.7v0.7h-0.7zM43.1 573.9h0.7v0.7h-0.7zM52.1 548.9h0.7v0.7h-0.7zM34.6 567.1h0.7v0.7h-0.7zM67.3 555.2h0.7v0.7h-0.7zM41.7 565.0h0.7v0.7h-0.7zM54.7 558.9h0.7v0.7h-0.7zM48.0 557.2h0.7v0.7h-0.7zM36.5 556.3h0.7v0.7h-0.7zM53.0 554.9h0.7v0.7h-0.7zM51.5 564.1h0.7v0.7h-0.7zM57.3 534.3h0.7v0.7h-0.7zM30.8 553.5h0.7v0.7h-0.7zM41.8 569.9h0.7v0.7h-0.7zM62.6 561.6h0.7v0.7h-0.7zM38.7 568.1h0.7v0.7h-0.7zM44.1 567.7h0.7v0.7h-0.7zM29.9 554.9h0.7v0.7h-0.7zM35.2 563.5h0.7v0.7h-0.7zM48.8 557.7h0.7v0.7h-0.7zM48.8 567.3h0.7v0.7h-0.7zM28.1 564.5h0.7v0.7h-0.7zM22.7 561.5h0.7v0.7h-0.7zM56.4 552.7h0.7v0.7h-0.7zM56.2 560.4h0.7v0.7h-0.7zM55.8 569.6h0.7v0.7h-0.7zM45.5 556.8h0.7v0.7h-0.7zM41.5 558.3h0.7v0.7h-0.7zM34.3 548.5h0.7v0.7h-0.7zM37.2 566.5h0.7v0.7h-0.7zM37.4 556.4h0.7v0.7h-0.7zM49.6 565.1h0.7v0.7h-0.7zM38.0 566.1h0.7v0.7h-0.7zM30.7 572.8h0.7v0.7h-0.7zM30.5 561.8h0.7v0.7h-0.7zM45.9 557.7h0.7v0.7h-0.7zM64.7 541.4h0.7v0.7h-0.7zM45.7 549.9h0.7v0.7h-0.7zM48.3 549.0h0.7v0.7h-0.7zM51.9 565.2h0.7v0.7h-0.7zM67.4 568.2h0.7v0.7h-0.7zM37.7 572.1h0.7v0.7h-0.7zM37.7 562.3h0.7v0.7h-0.7zM37.2 547.1h0.7v0.7h-0.7zM52.3 541.4h0.7v0.7h-0.7zM40.8 567.6h0.7v0.7h-0.7zM45.6 547.0h0.7v0.7h-0.7zM35.1 570.2h0.7v0.7h-0.7zM59.0 573.6h0.7v0.7h-0.7zM19.2 571.6h0.7v0.7h-0.7zM37.4 570.5h0.7v0.7h-0.7zM20.9 565.6h0.7v0.7h-0.7zM53.7 553.9h0.7v0.7h-0.7zM39.0 554.0h0.7v0.7h-0.7zM59.2 546.4h0.7v0.7h-0.7zM31.5 561.6h0.7v0.7h-0.7zM47.8 553.5h0.7v0.7h-0.7zM51.9 563.5h0.7v0.7h-0.7zM47.9 560.6h0.7v0.7h-0.7zM50.3 549.8h0.7v0.7h-0.7zM27.6 561.6h0.7v0.7h-0.7zM28.9 571.7h0.7v0.7h-0.7zM50.1 563.8h0.7v0.7h-0.7zM34.6 551.9h0.7v0.7h-0.7zM51.5 546.7h0.7v0.7h-0.7zM48.1 559.8h0.7v0.7h-0.7zM54.3 560.3h0.7v0.7h-0.7zM45.5 556.3h0.7v0.7h-0.7zM20.4 563.9h0.7v0.7h-0.7zM53.5 569.7h0.7v0.7h-0.7zM62.9 548.7h0.7v0.7h-0.7zM31.2 571.3h0.7v0.7h-0.7zM48.3 547.0h0.7v0.7h-0.7zM36.4 578.2h0.7v0.7h-0.7zM19.0 568.8h0.7v0.7h-0.7zM37.9 553.7h0.7v0.7h-0.7zM20.6 560.4h0.7v0.7h-0.7zM40.4 552.0h0.7v0.7h-0.7zM48.7 556.6h0.7v0.7h-0.7zM32.4 577.3h0.7v0.7h-0.7zM50.0 552.5h0.7v0.7h-0.7zM64.2 557.2h0.7v0.7h-0.7zM50.9 561.9h0.7v0.7h-0.7zM60.1 564.3h0.7v0.7h-0.7zM39.2 569.7h0.7v0.7h-0.7zM38.7 564.4h0.7v0.7h-0.7zM66.5 547.3h0.7v0.7h-0.7zM29.8 561.3h0.7v0.7h-0.7zM37.2 575.6h0.7v0.7h-0.7zM65.7 553.2h0.7v0.7h-0.7zM46.5 558.1h0.7v0.7h-0.7zM53.2 566.2h0.7v0.7h-0.7zM54.3 566.9h0.7v0.7h-0.7zM53.6 558.2h0.7v0.7h-0.7zM44.5 563.9h0.7v0.7h-0.7zM43.3 565.4h0.7v0.7h-0.7zM32.3 563.1h0.7v0.7h-0.7zM35.7 552.9h0.7v0.7h-0.7zM34.3 559.4h0.7v0.7h-0.7zM42.0 547.9h0.7v0.7h-0.7zM40.5 552.3h0.7v0.7h-0.7zM32.8 566.2h0.7v0.7h-0.7zM59.2 561.4h0.7v0.7h-0.7zM37.3 559.4h0.7v0.7h-0.7zM62.3 543.0h0.7v0.7h-0.7zM59.6 544.7h0.7v0.7h-0.7zM35.3 564.3h0.7v0.7h-0.7zM41.0 578.1h0.7v0.7h-0.7zM50.8 560.1h0.7v0.7h-0.7zM57.1 559.6h0.7v0.7h-0.7zM33.0 574.8h0.7v0.7h-0.7zM64.5 569.5h0.7v0.7h-0.7zM38.3 570.4h0.7v0.7h-0.7zM21.9 557.2h0.7v0.7h-0.7zM60.2 563.1h0.7v0.7h-0.7zM39.7 535.7h0.7v0.7h-0.7zM50.0 559.0h0.7v0.7h-0.7zM43.9 564.2h0.7v0.7h-0.7zM54.3 557.3h0.7v0.7h-0.7zM31.7 561.3h0.7v0.7h-0.7zM58.4 560.0h0.7v0.7h-0.7zM54.1 557.3h0.7v0.7h-0.7zM31.6 574.0h0.7v0.7h-0.7zM45.8 576.5h0.7v0.7h-0.7zM40.4 559.3h0.7v0.7h-0.7zM48.7 559.2h0.7v0.7h-0.7zM39.7 554.6h0.7v0.7h-0.7zM47.5 564.3h0.7v0.7h-0.7zM19.9 571.5h0.7v0.7h-0.7zM33.0 562.8h0.7v0.7h-0.7zM41.4 548.5h0.7v0.7h-0.7zM51.9 552.1h0.7v0.7h-0.7zM18.6 560.7h0.7v0.7h-0.7zM52.7 578.1h0.7v0.7h-0.7zM61.2 560.1h0.7v0.7h-0.7zM37.0 561.1h0.7v0.7h-0.7zM57.3 554.3h0.7v0.7h-0.7zM49.7 569.8h0.7v0.7h-0.7zM31.6 559.2h0.7v0.7h-0.7zM50.2 560.8h0.7v0.7h-0.7zM42.3 557.4h0.7v0.7h-0.7zM43.1 579.5h0.7v0.7h-0.7zM62.7 542.9h0.7v0.7h-0.7zM44.7 562.7h0.7v0.7h-0.7zM44.5 549.0h0.7v0.7h-0.7zM42.2 563.8h0.7v0.7h-0.7zM34.6 566.9h0.7v0.7h-0.7zM45.4 565.3h0.7v0.7h-0.7zM41.7 558.2h0.7v0.7h-0.7zM46.5 571.6h0.7v0.7h-0.7zM56.3 558.6h0.7v0.7h-0.7zM37.6 573.3h0.7v0.7h-0.7zM51.4 568.7h0.7v0.7h-0.7zM40.2 554.8h0.7v0.7h-0.7zM46.6 555.6h0.7v0.7h-0.7zM59.8 566.6h0.7v0.7h-0.7zM62.3 567.8h0.7v0.7h-0.7zM37.5 555.4h0.7v0.7h-0.7zM57.3 568.6h0.7v0.7h-0.7zM44.8 551.0h0.7v0.7h-0.7zM23.0 569.0h0.7v0.7h-0.7zM32.6 558.1h0.7v0.7h-0.7zM50.1 570.5h0.7v0.7h-0.7zM61.9 557.8h0.7v0.7h-0.7zM39.3 569.0h0.7v0.7h-0.7zM28.4 553.9h0.7v0.7h-0.7zM44.3 576.5h0.7v0.7h-0.7zM58.0 559.0h0.7v0.7h-0.7zM57.9 555.2h0.7v0.7h-0.7zM27.8 549.8h0.7v0.7h-0.7zM47.7 569.6h0.7v0.7h-0.7zM49.1 560.6h0.7v0.7h-0.7zM38.5 573.4h0.7v0.7h-0.7zM43.4 548.7h0.7v0.7h-0.7zM62.8 551.9h0.7v0.7h-0.7zM49.4 560.9h0.7v0.7h-0.7zM58.5 561.2h0.7v0.7h-0.7zM60.9 560.4h0.7v0.7h-0.7zM37.7 558.6h0.7v0.7h-0.7zM52.9 552.3h0.7v0.7h-0.7zM56.8 557.0h0.7v0.7h-0.7zM31.2 556.6h0.7v0.7h-0.7zM42.0 579.0h0.7v0.7h-0.7zM54.6 559.9h0.7v0.7h-0.7zM40.2 562.8h0.7v0.7h-0.7zM38.2 575.7h0.7v0.7h-0.7zM46.4 557.2h0.7v0.7h-0.7zM46.5 552.1h0.7v0.7h-0.7zM29.5 563.6h0.7v0.7h-0.7zM42.1 547.7h0.7v0.7h-0.7zM46.4 563.5h0.7v0.7h-0.7zM54.2 547.4h0.7v0.7h-0.7zM35.7 557.7h0.7v0.7h-0.7zM41.3 562.2h0.7v0.7h-0.7zM37.0 570.9h0.7v0.7h-0.7zM65.1 547.5h0.7v0.7h-0.7zM58.5 559.1h0.7v0.7h-0.7zM61.2 568.2h0.7v0.7h-0.7zM53.0 544.4h0.7v0.7h-0.7zM45.8 556.9h0.7v0.7h-0.7zM50.2 561.0h0.7v0.7h-0.7zM58.4 543.9h0.7v0.7h-0.7zM33.8 563.5h0.7v0.7h-0.7zM48.4 557.3h0.7v0.7h-0.7zM43.6 562.6h0.7v0.7h-0.7zM58.4 557.9h0.7v0.7h-0.7zM47.3 544.3h0.7v0.7h-0.7zM48.9 539.4h0.7v0.7h-0.7zM49.6 559.9h0.7v0.7h-0.7zM44.0 555.2h0.7v0.7h-0.7zM38.2 571.0h0.7v0.7h-0.7zM48.9 560.7h0.7v0.7h-0.7zM37.3 565.4h0.7v0.7h-0.7zM60.4 558.3h0.7v0.7h-0.7zM38.9 552.0h0.7v0.7h-0.7zM45.4 553.1h0.7v0.7h-0.7zM24.2 574.4h0.7v0.7h-0.7zM35.4 544.8h0.7v0.7h-0.7zM42.5 549.9h0.7v0.7h-0.7zM28.8 572.0h0.7v0.7h-0.7zM49.6 562.8h0.7v0.7h-0.7zM41.3 567.1h0.7v0.7h-0.7zM65.2 562.0h0.7v0.7h-0.7zM41.7 549.4h0.7v0.7h-0.7zM50.1 575.4h0.7v0.7h-0.7zM52.9 548.3h0.7v0.7h-0.7zM46.6 573.6h0.7v0.7h-0.7zM35.3 568.5h0.7v0.7h-0.7zM60.7 573.8h0.7v0.7h-0.7zM22.1 550.3h0.7v0.7h-0.7zM49.2 567.5h0.7v0.7h-0.7zM39.1 562.9h0.7v0.7h-0.7zM38.4 574.5h0.7v0.7h-0.7zM26.4 559.4h0.7v0.7h-0.7zM22.9 558.0h0.7v0.7h-0.7zM43.7 562.3h0.7v0.7h-0.7zM68.6 554.7h0.7v0.7h-0.7zM48.8 564.3h0.7v0.7h-0.7zM47.6 575.0h0.7v0.7h-0.7zM45.9 563.0h0.7v0.7h-0.7zM42.5 562.4h0.7v0.7h-0.7zM43.2 571.5h0.7v0.7h-0.7zM44.3 562.6h0.7v0.7h-0.7zM43.3 569.3h0.7v0.7h-0.7zM37.5 572.2h0.7v0.7h-0.7zM36.1 570.2h0.7v0.7h-0.7zM42.8 551.2h0.7v0.7h-0.7zM54.2 559.9h0.7v0.7h-0.7zM56.6 553.1h0.7v0.7h-0.7zM51.2 577.4h0.7v0.7h-0.7zM49.5 557.7h0.7v0.7h-0.7zM26.0 565.8h0.7v0.7h-0.7zM53.1 565.7h0.7v0.7h-0.7zM28.6 555.7h0.7v0.7h-0.7zM30.5 555.3h0.7v0.7h-0.7zM40.2 565.3h0.7v0.7h-0.7zM64.1 542.2h0.7v0.7h-0.7zM65.3 564.9h0.7v0.7h-0.7zM50.1 568.5h0.7v0.7h-0.7zM52.5 578.2h0.7v0.7h-0.7zM55.1 543.2h0.7v0.7h-0.7zM42.8 574.7h0.7v0.7h-0.7zM39.3 556.8h0.7v0.7h-0.7zM39.3 566.0h0.7v0.7h-0.7zM46.6 555.6h0.7v0.7h-0.7zM51.4 566.2h0.7v0.7h-0.7zM31.3 554.2h0.7v0.7h-0.7zM44.1 555.4h0.7v0.7h-0.7zM35.7 562.5h0.7v0.7h-0.7zM44.4 567.3h0.7v0.7h-0.7zM55.5 563.7h0.7v0.7h-0.7zM59.5 549.6h0.7v0.7h-0.7zM52.4 563.7h0.7v0.7h-0.7zM29.6 558.7h0.7v0.7h-0.7zM50.1 561.4h0.7v0.7h-0.7zM26.6 560.5h0.7v0.7h-0.7zM65.1 565.4h0.7v0.7h-0.7zM45.1 574.5h0.7v0.7h-0.7zM31.5 563.1h0.7v0.7h-0.7zM57.3 556.0h0.7v0.7h-0.7zM28.5 570.8h0.7v0.7h-0.7zM66.2 533.3h0.7v0.7h-0.7zM46.1 549.8h0.7v0.7h-0.7zM39.9 549.6h0.7v0.7h-0.7zM44.6 555.2h0.7v0.7h-0.7zM30.3 560.7h0.7v0.7h-0.7zM46.9 577.9h0.7v0.7h-0.7zM48.0 575.9h0.7v0.7h-0.7zM29.3 565.8h0.7v0.7h-0.7zM38.0 548.5h0.7v0.7h-0.7zM95.6 548.7h0.7v0.7h-0.7zM47.4 554.2h0.7v0.7h-0.7zM36.0 554.0h0.7v0.7h-0.7zM58.2 555.2h0.7v0.7h-0.7zM42.0 564.1h0.7v0.7h-0.7zM27.0 567.8h0.7v0.7h-0.7zM41.6 566.7h0.7v0.7h-0.7zM38.7 563.5h0.7v0.7h-0.7zM51.2 569.6h0.7v0.7h-0.7zM34.5 573.2h0.7v0.7h-0.7zM30.4 563.1h0.7v0.7h-0.7zM45.8 563.0h0.7v0.7h-0.7zM41.5 571.3h0.7v0.7h-0.7zM34.3 578.3h0.7v0.7h-0.7zM19.1 568.1h0.7v0.7h-0.7zM51.5 560.6h0.7v0.7h-0.7zM47.7 570.0h0.7v0.7h-0.7zM32.9 569.9h0.7v0.7h-0.7zM58.7 556.7h0.7v0.7h-0.7zM32.2 554.6h0.7v0.7h-0.7zM50.0 553.1h0.7v0.7h-0.7zM25.9 563.2h0.7v0.7h-0.7zM65.1 563.9h0.7v0.7h-0.7zM29.9 574.8h0.7v0.7h-0.7zM36.4 569.3h0.7v0.7h-0.7zM51.8 556.1h0.7v0.7h-0.7zM41.9 573.4h0.7v0.7h-0.7zM50.9 560.0h0.7v0.7h-0.7zM50.1 577.2h0.7v0.7h-0.7zM56.9 563.7h0.7v0.7h-0.7zM48.6 546.3h0.7v0.7h-0.7zM45.9 557.0h0.7v0.7h-0.7zM54.1 554.1h0.7v0.7h-0.7zM50.2 550.8h0.7v0.7h-0.7zM56.4 552.5h0.7v0.7h-0.7zM43.6 567.5h0.7v0.7h-0.7zM39.5 563.0h0.7v0.7h-0.7zM58.7 575.5h0.7v0.7h-0.7zM19.0 558.8h0.7v0.7h-0.7zM53.3 568.9h0.7v0.7h-0.7zM37.4 564.3h0.7v0.7h-0.7zM41.2 551.4h0.7v0.7h-0.7zM22.5 554.6h0.7v0.7h-0.7zM62.0 554.5h0.7v0.7h-0.7zM49.3 566.9h0.7v0.7h-0.7zM54.9 568.3h0.7v0.7h-0.7zM30.5 559.6h0.7v0.7h-0.7zM36.4 564.6h0.7v0.7h-0.7zM40.5 551.1h0.7v0.7h-0.7zM49.3 560.5h0.7v0.7h-0.7zM32.3 571.2h0.7v0.7h-0.7zM43.0 577.9h0.7v0.7h-0.7zM50.3 557.7h0.7v0.7h-0.7zM55.7 552.8h0.7v0.7h-0.7zM56.2 565.8h0.7v0.7h-0.7zM19.6 565.4h0.7v0.7h-0.7zM48.4 568.2h0.7v0.7h-0.7zM46.1 561.4h0.7v0.7h-0.7zM39.2 560.3h0.7v0.7h-0.7zM44.0 552.0h0.7v0.7h-0.7zM52.9 557.0h0.7v0.7h-0.7zM51.2 555.7h0.7v0.7h-0.7zM49.7 562.0h0.7v0.7h-0.7zM56.3 563.7h0.7v0.7h-0.7zM56.9 557.7h0.7v0.7h-0.7zM43.2 559.7h0.7v0.7h-0.7zM26.7 564.5h0.7v0.7h-0.7zM59.1 566.0h0.7v0.7h-0.7zM32.2 567.3h0.7v0.7h-0.7zM54.4 547.0h0.7v0.7h-0.7zM48.8 564.1h0.7v0.7h-0.7zM54.4 562.2h0.7v0.7h-0.7zM19.9 548.2h0.7v0.7h-0.7zM61.6 570.1h0.7v0.7h-0.7zM45.2 551.0h0.7v0.7h-0.7zM62.9 557.6h0.7v0.7h-0.7zM51.2 565.0h0.7v0.7h-0.7zM57.2 568.7h0.7v0.7h-0.7zM24.3 553.0h0.7v0.7h-0.7zM46.0 561.7h0.7v0.7h-0.7zM54.8 558.4h0.7v0.7h-0.7zM63.0 568.8h0.7v0.7h-0.7zM58.3 551.5h0.7v0.7h-0.7zM42.8 561.6h0.7v0.7h-0.7zM28.9 557.1h0.7v0.7h-0.7zM46.2 550.1h0.7v0.7h-0.7zM51.5 564.8h0.7v0.7h-0.7zM40.7 559.5h0.7v0.7h-0.7zM52.3 564.7h0.7v0.7h-0.7zM49.1 549.4h0.7v0.7h-0.7zM35.0 560.5h0.7v0.7h-0.7zM18.8 559.9h0.7v0.7h-0.7zM33.9 571.7h0.7v0.7h-0.7zM38.3 558.6h0.7v0.7h-0.7zM33.3 560.2h0.7v0.7h-0.7zM22.2 569.2h0.7v0.7h-0.7zM60.5 559.9h0.7v0.7h-0.7zM36.6 575.5h0.7v0.7h-0.7zM50.7 550.9h0.7v0.7h-0.7zM36.1 558.0h0.7v0.7h-0.7zM43.4 573.5h0.7v0.7h-0.7zM34.3 562.7h0.7v0.7h-0.7zM45.6 550.5h0.7v0.7h-0.7zM37.4 569.2h0.7v0.7h-0.7zM59.7 541.1h0.7v0.7h-0.7zM53.8 557.2h0.7v0.7h-0.7zM61.8 564.0h0.7v0.7h-0.7zM38.5 555.4h0.7v0.7h-0.7zM24.2 571.4h0.7v0.7h-0.7zM51.1 568.2h0.7v0.7h-0.7zM48.9 546.9h0.7v0.7h-0.7zM38.4 560.9h0.7v0.7h-0.7zM46.2 568.7h0.7v0.7h-0.7zM63.6 560.5h0.7v0.7h-0.7zM27.4 567.8h0.7v0.7h-0.7zM40.9 573.1h0.7v0.7h-0.7zM58.9 554.5h0.7v0.7h-0.7zM57.1 559.3h0.7v0.7h-0.7zM50.3 573.3h0.7v0.7h-0.7zM28.1 564.8h0.7v0.7h-0.7zM65.3 550.3h0.7v0.7h-0.7zM47.0 562.6h0.7v0.7h-0.7zM38.3 551.0h0.7v0.7h-0.7zM34.5 554.8h0.7v0.7h-0.7zM59.0 561.1h0.7v0.7h-0.7zM53.7 548.8h0.7v0.7h-0.7zM50.9 561.9h0.7v0.7h-0.7zM58.5 552.1h0.7v0.7h-0.7zM55.2 572.4h0.7v0.7h-0.7zM68.9 548.0h0.7v0.7h-0.7zM28.5 551.6h0.7v0.7h-0.7zM57.3 564.7h0.7v0.7h-0.7zM48.7 552.9h0.7v0.7h-0.7zM61.3 573.3h0.7v0.7h-0.7zM43.5 561.0h0.7v0.7h-0.7zM60.5 563.2h0.7v0.7h-0.7zM62.6 554.2h0.7v0.7h-0.7zM48.7 557.8h0.7v0.7h-0.7zM36.1 560.9h0.7v0.7h-0.7zM40.1 567.6h0.7v0.7h-0.7zM39.8 563.6h0.7v0.7h-0.7zM32.8 552.9h0.7v0.7h-0.7zM63.8 548.6h0.7v0.7h-0.7zM38.2 563.4h0.7v0.7h-0.7zM41.5 556.9h0.7v0.7h-0.7zM61.3 557.1h0.7v0.7h-0.7zM57.3 552.7h0.7v0.7h-0.7zM34.5 576.5h0.7v0.7h-0.7zM40.1 552.6h0.7v0.7h-0.7zM41.7 572.3h0.7v0.7h-0.7zM41.8 555.8h0.7v0.7h-0.7zM52.8 569.3h0.7v0.7h-0.7zM41.2 559.6h0.7v0.7h-0.7zM41.4 578.9h0.7v0.7h-0.7zM42.0 566.2h0.7v0.7h-0.7zM44.7 558.9h0.7v0.7h-0.7zM38.4 550.5h0.7v0.7h-0.7zM23.4 568.0h0.7v0.7h-0.7zM35.2 563.1h0.7v0.7h-0.7zM41.5 557.8h0.7v0.7h-0.7zM28.8 560.5h0.7v0.7h-0.7zM39.9 552.1h0.7v0.7h-0.7zM30.8 572.9h0.7v0.7h-0.7zM56.9 560.5h0.7v0.7h-0.7zM61.1 550.7h0.7v0.7h-0.7zM59.0 574.5h0.7v0.7h-0.7zM32.9 553.8h0.7v0.7h-0.7zM43.4 554.6h0.7v0.7h-0.7zM52.8 549.8h0.7v0.7h-0.7zM45.2 543.5h0.7v0.7h-0.7zM43.6 571.9h0.7v0.7h-0.7zM40.4 565.7h0.7v0.7h-0.7zM59.1 548.5h0.7v0.7h-0.7zM26.5 566.5h0.7v0.7h-0.7zM47.9 558.7h0.7v0.7h-0.7zM30.6 576.2h0.7v0.7h-0.7zM28.0 563.0h0.7v0.7h-0.7zM43.5 568.9h0.7v0.7h-0.7zM37.9 555.7h0.7v0.7h-0.7zM55.1 558.2h0.7v0.7h-0.7zM37.5 563.0h0.7v0.7h-0.7zM40.5 565.7h0.7v0.7h-0.7zM45.0 552.7h0.7v0.7h-0.7zM47.3 558.5h0.7v0.7h-0.7zM63.2 553.7h0.7v0.7h-0.7zM32.7 570.9h0.7v0.7h-0.7zM30.7 557.5h0.7v0.7h-0.7zM64.1 542.7h0.7v0.7h-0.7zM43.1 563.3h0.7v0.7h-0.7zM47.6 547.7h0.7v0.7h-0.7zM40.9 559.6h0.7v0.7h-0.7zM33.6 572.4h0.7v0.7h-0.7zM53.1 559.0h0.7v0.7h-0.7zM40.7 560.2h0.7v0.7h-0.7zM22.7 560.7h0.7v0.7h-0.7zM57.0 572.7h0.7v0.7h-0.7zM52.6 537.8h0.7v0.7h-0.7zM40.3 551.0h0.7v0.7h-0.7zM55.4 544.1h0.7v0.7h-0.7zM29.7 554.8h0.7v0.7h-0.7zM49.5 568.6h0.7v0.7h-0.7zM46.3 553.8h0.7v0.7h-0.7zM48.9 560.8h0.7v0.7h-0.7zM55.6 562.7h0.7v0.7h-0.7zM35.2 571.2h0.7v0.7h-0.7zM54.6 550.4h0.7v0.7h-0.7zM33.7 556.7h0.7v0.7h-0.7zM41.1 574.1h0.7v0.7h-0.7zM36.3 564.3h0.7v0.7h-0.7zM54.1 568.9h0.7v0.7h-0.7zM48.5 551.4h0.7v0.7h-0.7zM62.9 573.0h0.7v0.7h-0.7zM63.5 561.7h0.7v0.7h-0.7zM50.6 566.5h0.7v0.7h-0.7zM23.3 574.0h0.7v0.7h-0.7zM30.6 568.8h0.7v0.7h-0.7zM30.1 571.6h0.7v0.7h-0.7zM46.7 566.1h0.7v0.7h-0.7zM31.6 562.0h0.7v0.7h-0.7zM43.3 559.5h0.7v0.7h-0.7zM38.1 555.1h0.7v0.7h-0.7zM54.6 556.2h0.7v0.7h-0.7zM32.8 567.8h0.7v0.7h-0.7zM32.9 562.8h0.7v0.7h-0.7zM37.0 554.9h0.7v0.7h-0.7zM41.0 555.0h0.7v0.7h-0.7zM26.8 569.0h0.7v0.7h-0.7zM40.0 549.3h0.7v0.7h-0.7zM38.6 564.9h0.7v0.7h-0.7zM50.0 564.2h0.7v0.7h-0.7zM47.6 566.8h0.7v0.7h-0.7zM37.3 556.0h0.7v0.7h-0.7zM52.6 556.4h0.7v0.7h-0.7zM44.2 568.0h0.7v0.7h-0.7zM57.1 570.6h0.7v0.7h-0.7zM34.6 560.6h0.7v0.7h-0.7zM51.8 547.0h0.7v0.7h-0.7zM26.7 571.4h0.7v0.7h-0.7zM35.6 555.2h0.7v0.7h-0.7zM55.2 564.6h0.7v0.7h-0.7zM56.8 556.2h0.7v0.7h-0.7zM40.1 559.7h0.7v0.7h-0.7zM48.2 542.3h0.7v0.7h-0.7zM34.6 570.6h0.7v0.7h-0.7zM33.4 563.7h0.7v0.7h-0.7zM45.8 566.5h0.7v0.7h-0.7zM37.6 552.9h0.7v0.7h-0.7zM67.7 540.6h0.7v0.7h-0.7zM45.6 559.8h0.7v0.7h-0.7zM57.6 549.7h0.7v0.7h-0.7zM33.0 557.4h0.7v0.7h-0.7zM37.0 565.9h0.7v0.7h-0.7zM33.3 562.0h0.7v0.7h-0.7zM64.4 571.0h0.7v0.7h-0.7zM18.5 558.7h0.7v0.7h-0.7zM39.0 575.1h0.7v0.7h-0.7zM49.2 574.2h0.7v0.7h-0.7zM32.3 561.6h0.7v0.7h-0.7zM58.2 564.3h0.7v0.7h-0.7zM18.4 564.9h0.7v0.7h-0.7zM46.6 567.3h0.7v0.7h-0.7zM46.2 575.0h0.7v0.7h-0.7zM49.7 561.6h0.7v0.7h-0.7zM39.7 552.1h0.7v0.7h-0.7zM56.0 566.4h0.7v0.7h-0.7zM57.0 555.7h0.7v0.7h-0.7zM30.3 561.4h0.7v0.7h-0.7zM39.8 562.8h0.7v0.7h-0.7zM57.7 550.6h0.7v0.7h-0.7zM37.4 569.8h0.7v0.7h-0.7zM56.6 579.8h0.7v0.7h-0.7zM51.4 552.6h0.7v0.7h-0.7zM29.8 557.7h0.7v0.7h-0.7zM45.1 564.1h0.7v0.7h-0.7zM43.2 556.5h0.7v0.7h-0.7zM41.6 561.8h0.7v0.7h-0.7zM52.3 561.0h0.7v0.7h-0.7zM33.0 553.6h0.7v0.7h-0.7zM64.5 556.8h0.7v0.7h-0.7zM41.7 562.3h0.7v0.7h-0.7zM59.7 555.8h0.7v0.7h-0.7zM46.6 559.3h0.7v0.7h-0.7zM52.1 550.9h0.7v0.7h-0.7zM47.0 570.9h0.7v0.7h-0.7zM60.4 564.2h0.7v0.7h-0.7zM48.2 575.7h0.7v0.7h-0.7zM53.9 572.8h0.7v0.7h-0.7zM27.7 555.4h0.7v0.7h-0.7zM55.2 557.2h0.7v0.7h-0.7zM38.2 554.5h0.7v0.7h-0.7zM64.6 546.6h0.7v0.7h-0.7zM45.6 548.8h0.7v0.7h-0.7zM32.4 548.0h0.7v0.7h-0.7zM49.0 551.0h0.7v0.7h-0.7zM24.3 576.6h0.7v0.7h-0.7zM34.2 554.3h0.7v0.7h-0.7zM46.5 559.7h0.7v0.7h-0.7zM59.6 559.6h0.7v0.7h-0.7zM66.0 567.8h0.7v0.7h-0.7zM68.6 567.1h0.7v0.7h-0.7zM45.2 566.8h0.7v0.7h-0.7zM44.5 547.5h0.7v0.7h-0.7zM28.1 572.3h0.7v0.7h-0.7zM26.6 565.2h0.7v0.7h-0.7zM30.0 567.3h0.7v0.7h-0.7zM41.5 558.2h0.7v0.7h-0.7zM32.6 544.0h0.7v0.7h-0.7zM45.2 549.8h0.7v0.7h-0.7zM40.2 566.3h0.7v0.7h-0.7zM58.6 565.4h0.7v0.7h-0.7zM64.5 544.5h0.7v0.7h-0.7zM53.5 574.5h0.7v0.7h-0.7zM49.6 550.6h0.7v0.7h-0.7zM49.7 556.0h0.7v0.7h-0.7zM35.4 573.7h0.7v0.7h-0.7zM41.8 552.2h0.7v0.7h-0.7zM32.6 570.7h0.7v0.7h-0.7zM46.7 572.2h0.7v0.7h-0.7zM40.4 554.1h0.7v0.7h-0.7zM35.4 554.4h0.7v0.7h-0.7zM39.8 574.5h0.7v0.7h-0.7zM53.2 558.4h0.7v0.7h-0.7zM52.7 562.7h0.7v0.7h-0.7zM59.7 573.9h0.7v0.7h-0.7zM39.9 562.6h0.7v0.7h-0.7zM41.7 573.8h0.7v0.7h-0.7zM49.5 568.1h0.7v0.7h-0.7zM56.5 553.5h0.7v0.7h-0.7zM46.0 574.4h0.7v0.7h-0.7zM56.9 566.8h0.7v0.7h-0.7zM40.4 559.5h0.7v0.7h-0.7zM32.5 562.0h0.7v0.7h-0.7zM43.4 549.0h0.7v0.7h-0.7zM60.1 551.5h0.7v0.7h-0.7zM47.7 566.8h0.7v0.7h-0.7zM36.7 546.9h0.7v0.7h-0.7zM57.4 562.9h0.7v0.7h-0.7zM40.8 573.2h0.7v0.7h-0.7zM56.5 550.5h0.7v0.7h-0.7zM43.1 546.0h0.7v0.7h-0.7zM40.6 575.8h0.7v0.7h-0.7zM32.8 572.0h0.7v0.7h-0.7zM23.6 563.7h0.7v0.7h-0.7zM57.1 575.1h0.7v0.7h-0.7zM50.4 567.6h0.7v0.7h-0.7zM67.7 534.4h0.7v0.7h-0.7zM45.1 564.2h0.7v0.7h-0.7zM44.6 556.2h0.7v0.7h-0.7zM44.0 560.9h0.7v0.7h-0.7zM53.4 566.3h0.7v0.7h-0.7zM57.6 564.5h0.7v0.7h-0.7zM31.0 577.7h0.7v0.7h-0.7zM48.8 556.1h0.7v0.7h-0.7zM28.3 560.7h0.7v0.7h-0.7zM49.9 568.1h0.7v0.7h-0.7zM45.7 567.8h0.7v0.7h-0.7zM34.7 558.5h0.7v0.7h-0.7zM46.0 549.2h0.7v0.7h-0.7zM46.8 557.8h0.7v0.7h-0.7zM53.6 550.6h0.7v0.7h-0.7zM37.0 558.3h0.7v0.7h-0.7zM39.2 553.8h0.7v0.7h-0.7zM40.7 550.3h0.7v0.7h-0.7zM51.5 566.6h0.7v0.7h-0.7zM44.0 560.3h0.7v0.7h-0.7zM32.1 555.7h0.7v0.7h-0.7zM41.3 554.3h0.7v0.7h-0.7zM28.2 566.9h0.7v0.7h-0.7zM44.0 558.3h0.7v0.7h-0.7zM33.2 563.8h0.7v0.7h-0.7zM34.8 560.0h0.7v0.7h-0.7zM46.8 568.1h0.7v0.7h-0.7zM54.5 554.2h0.7v0.7h-0.7zM60.7 547.8h0.7v0.7h-0.7zM41.9 574.5h0.7v0.7h-0.7zM39.3 559.6h0.7v0.7h-0.7zM27.7 564.2h0.7v0.7h-0.7zM38.5 556.3h0.7v0.7h-0.7zM60.5 551.3h0.7v0.7h-0.7zM67.2 564.8h0.7v0.7h-0.7zM52.9 554.7h0.7v0.7h-0.7zM37.3 545.1h0.7v0.7h-0.7zM47.9 558.7h0.7v0.7h-0.7zM49.5 554.7h0.7v0.7h-0.7zM50.8 546.8h0.7v0.7h-0.7zM58.8 529.8h0.7v0.7h-0.7zM61.7 555.0h0.7v0.7h-0.7zM42.0 548.3h0.7v0.7h-0.7zM30.7 571.4h0.7v0.7h-0.7zM34.3 563.8h0.7v0.7h-0.7zM56.3 547.2h0.7v0.7h-0.7zM37.7 552.8h0.7v0.7h-0.7zM25.4 559.7h0.7v0.7h-0.7zM59.1 559.2h0.7v0.7h-0.7zM53.3 558.8h0.7v0.7h-0.7zM38.5 564.0h0.7v0.7h-0.7zM68.5 560.2h0.7v0.7h-0.7zM52.4 541.9h0.7v0.7h-0.7zM33.4 571.8h0.7v0.7h-0.7zM60.7 554.8h0.7v0.7h-0.7zM41.2 558.4h0.7v0.7h-0.7zM55.0 559.9h0.7v0.7h-0.7zM64.5 568.6h0.7v0.7h-0.7zM40.0 557.2h0.7v0.7h-0.7zM41.0 554.5h0.7v0.7h-0.7zM38.5 562.5h0.7v0.7h-0.7zM56.2 544.8h0.7v0.7h-0.7zM25.3 558.9h0.7v0.7h-0.7zM40.1 567.1h0.7v0.7h-0.7zM33.5 578.2h0.7v0.7h-0.7zM37.1 561.5h0.7v0.7h-0.7zM44.9 572.6h0.7v0.7h-0.7zM48.2 561.4h0.7v0.7h-0.7zM36.9 565.1h0.7v0.7h-0.7zM49.6 557.6h0.7v0.7h-0.7zM43.9 545.0h0.7v0.7h-0.7zM37.0 574.4h0.7v0.7h-0.7zM63.4 557.2h0.7v0.7h-0.7zM38.6 572.4h0.7v0.7h-0.7zM35.8 576.4h0.7v0.7h-0.7zM59.8 548.8h0.7v0.7h-0.7zM41.2 551.4h0.7v0.7h-0.7zM47.9 557.5h0.7v0.7h-0.7zM23.9 556.6h0.7v0.7h-0.7zM47.5 547.2h0.7v0.7h-0.7zM58.8 563.0h0.7v0.7h-0.7zM41.7 575.4h0.7v0.7h-0.7zM31.7 571.0h0.7v0.7h-0.7zM25.9 562.9h0.7v0.7h-0.7zM52.8 555.2h0.7v0.7h-0.7zM42.6 568.3h0.7v0.7h-0.7zM64.7 569.6h0.7v0.7h-0.7zM50.4 558.2h0.7v0.7h-0.7zM55.9 559.1h0.7v0.7h-0.7zM53.7 562.9h0.7v0.7h-0.7zM41.5 562.5h0.7v0.7h-0.7zM43.6 572.9h0.7v0.7h-0.7zM40.6 557.7h0.7v0.7h-0.7zM53.0 566.0h0.7v0.7h-0.7zM50.0 563.3h0.7v0.7h-0.7zM64.0 568.0h0.7v0.7h-0.7zM47.0 559.4h0.7v0.7h-0.7zM53.0 542.8h0.7v0.7h-0.7zM37.1 556.9h0.7v0.7h-0.7zM46.5 557.9h0.7v0.7h-0.7zM44.1 559.0h0.7v0.7h-0.7zM60.7 566.1h0.7v0.7h-0.7zM56.6 570.5h0.7v0.7h-0.7zM39.2 556.9h0.7v0.7h-0.7zM34.4 565.0h0.7v0.7h-0.7zM57.6 549.3h0.7v0.7h-0.7zM36.9 551.1h0.7v0.7h-0.7zM47.1 550.1h0.7v0.7h-0.7zM30.3 559.0h0.7v0.7h-0.7zM44.6 550.1h0.7v0.7h-0.7zM41.1 573.9h0.7v0.7h-0.7zM44.3 562.9h0.7v0.7h-0.7zM42.2 556.0h0.7v0.7h-0.7zM25.5 565.3h0.7v0.7h-0.7zM30.4 559.9h0.7v0.7h-0.7zM22.7 565.7h0.7v0.7h-0.7zM56.4 551.5h0.7v0.7h-0.7zM48.5 547.0h0.7v0.7h-0.7zM51.9 565.3h0.7v0.7h-0.7zM38.9 571.3h0.7v0.7h-0.7zM32.3 564.9h0.7v0.7h-0.7zM66.8 556.9h0.7v0.7h-0.7zM29.0 575.9h0.7v0.7h-0.7zM51.3 557.9h0.7v0.7h-0.7zM19.7 549.7h0.7v0.7h-0.7zM48.1 553.2h0.7v0.7h-0.7zM59.6 572.3h0.7v0.7h-0.7zM32.8 568.9h0.7v0.7h-0.7zM22.0 570.2h0.7v0.7h-0.7zM68.6 543.6h0.7v0.7h-0.7zM44.9 555.9h0.7v0.7h-0.7zM42.9 563.1h0.7v0.7h-0.7zM47.9 569.4h0.7v0.7h-0.7zM51.0 570.2h0.7v0.7h-0.7zM57.8 569.3h0.7v0.7h-0.7zM35.1 567.7h0.7v0.7h-0.7zM39.1 555.2h0.7v0.7h-0.7zM44.7 542.3h0.7v0.7h-0.7zM41.0 569.8h0.7v0.7h-0.7zM41.4 557.5h0.7v0.7h-0.7zM63.9 554.8h0.7v0.7h-0.7zM39.7 562.0h0.7v0.7h-0.7zM41.0 572.4h0.7v0.7h-0.7zM51.8 559.7h0.7v0.7h-0.7zM39.3 560.9h0.7v0.7h-0.7zM66.8 554.3h0.7v0.7h-0.7zM52.9 545.4h0.7v0.7h-0.7zM48.4 567.5h0.7v0.7h-0.7zM61.2 561.3h0.7v0.7h-0.7zM51.9 563.3h0.7v0.7h-0.7zM58.4 578.0h0.7v0.7h-0.7zM46.8 553.8h0.7v0.7h-0.7zM52.1 559.2h0.7v0.7h-0.7zM52.7 567.4h0.7v0.7h-0.7zM46.2 557.4h0.7v0.7h-0.7zM48.2 549.5h0.7v0.7h-0.7zM47.8 552.9h0.7v0.7h-0.7zM50.2 561.8h0.7v0.7h-0.7zM41.2 551.4h0.7v0.7h-0.7zM44.8 555.5h0.7v0.7h-0.7zM42.2 568.8h0.7v0.7h-0.7zM56.9 547.2h0.7v0.7h-0.7zM56.7 572.0h0.7v0.7h-0.7zM59.2 561.3h0.7v0.7h-0.7zM42.9 578.4h0.7v0.7h-0.7zM39.8 548.7h0.7v0.7h-0.7zM45.3 564.4h0.7v0.7h-0.7zM30.3 553.6h0.7v0.7h-0.7zM54.6 554.3h0.7v0.7h-0.7zM23.8 564.7h0.7v0.7h-0.7zM62.1 551.9h0.7v0.7h-0.7zM20.2 565.5h0.7v0.7h-0.7zM40.4 562.9h0.7v0.7h-0.7zM30.2 562.1h0.7v0.7h-0.7zM36.9 571.7h0.7v0.7h-0.7zM46.2 569.6h0.7v0.7h-0.7zM43.5 542.3h0.7v0.7h-0.7zM17.9 572.6h0.7v0.7h-0.7zM55.9 567.6h0.7v0.7h-0.7zM43.1 545.6h0.7v0.7h-0.7zM37.6 567.1h0.7v0.7h-0.7zM62.6 554.8h0.7v0.7h-0.7zM36.6 556.4h0.7v0.7h-0.7zM57.8 567.1h0.7v0.7h-0.7zM19.7 578.5h0.7v0.7h-0.7zM31.8 550.9h0.7v0.7h-0.7zM22.8 559.8h0.7v0.7h-0.7zM27.5 559.3h0.7v0.7h-0.7zM46.3 565.4h0.7v0.7h-0.7zM37.8 548.6h0.7v0.7h-0.7zM38.6 556.8h0.7v0.7h-0.7zM20.1 568.5h0.7v0.7h-0.7zM24.5 550.0h0.7v0.7h-0.7zM64.5 566.4h0.7v0.7h-0.7zM63.5 558.9h0.7v0.7h-0.7zM38.6 562.4h0.7v0.7h-0.7zM25.8 572.8h0.7v0.7h-0.7zM47.8 558.4h0.7v0.7h-0.7zM19.1 566.3h0.7v0.7h-0.7zM66.0 570.8h0.7v0.7h-0.7zM55.9 556.2h0.7v0.7h-0.7zM46.0 566.7h0.7v0.7h-0.7zM46.8 571.2h0.7v0.7h-0.7zM35.2 542.3h0.7v0.7h-0.7zM25.6 572.1h0.7v0.7h-0.7zM58.6 558.9h0.7v0.7h-0.7zM51.4 561.1h0.7v0.7h-0.7zM46.5 557.1h0.7v0.7h-0.7zM38.7 574.2h0.7v0.7h-0.7zM40.6 562.4h0.7v0.7h-0.7zM60.2 567.7h0.7v0.7h-0.7zM38.9 565.5h0.7v0.7h-0.7zM30.6 566.1h0.7v0.7h-0.7zM48.4 561.1h0.7v0.7h-0.7zM46.3 564.9h0.7v0.7h-0.7zM45.2 557.2h0.7v0.7h-0.7zM31.2 562.5h0.7v0.7h-0.7zM65.7 555.2h0.7v0.7h-0.7zM35.4 559.4h0.7v0.7h-0.7zM28.2 569.9h0.7v0.7h-0.7zM31.0 573.3h0.7v0.7h-0.7zM56.3 564.7h0.7v0.7h-0.7zM58.1 558.2h0.7v0.7h-0.7zM20.6 566.4h0.7v0.7h-0.7zM52.7 545.7h0.7v0.7h-0.7zM27.8 575.7h0.7v0.7h-0.7zM50.0 573.3h0.7v0.7h-0.7zM53.1 560.7h0.7v0.7h-0.7zM49.9 568.7h0.7v0.7h-0.7zM43.8 560.1h0.7v0.7h-0.7zM48.4 558.1h0.7v0.7h-0.7zM23.8 554.3h0.7v0.7h-0.7zM58.2 555.2h0.7v0.7h-0.7zM46.3 559.5h0.7v0.7h-0.7zM47.9 547.6h0.7v0.7h-0.7zM45.3 556.4h0.7v0.7h-0.7zM58.8 564.6h0.7v0.7h-0.7zM27.2 556.6h0.7v0.7h-0.7zM51.8 571.5h0.7v0.7h-0.7zM54.5 558.3h0.7v0.7h-0.7zM59.1 536.8h0.7v0.7h-0.7zM37.0 554.4h0.7v0.7h-0.7zM30.3 570.2h0.7v0.7h-0.7zM47.9 563.8h0.7v0.7h-0.7zM42.4 568.1h0.7v0.7h-0.7zM54.7 554.4h0.7v0.7h-0.7zM56.8 550.6h0.7v0.7h-0.7zM67.9 544.7h0.7v0.7h-0.7zM40.3 552.7h0.7v0.7h-0.7zM44.7 574.1h0.7v0.7h-0.7zM63.2 561.5h0.7v0.7h-0.7zM36.2 572.1h0.7v0.7h-0.7zM57.2 558.8h0.7v0.7h-0.7zM26.2 563.8h0.7v0.7h-0.7zM52.0 576.2h0.7v0.7h-0.7zM20.4 568.5h0.7v0.7h-0.7zM61.3 552.0h0.7v0.7h-0.7zM38.0 552.0h0.7v0.7h-0.7zM54.6 567.5h0.7v0.7h-0.7zM52.2 562.6h0.7v0.7h-0.7zM57.6 558.0h0.7v0.7h-0.7zM53.9 567.5h0.7v0.7h-0.7zM61.8 563.0h0.7v0.7h-0.7zM45.3 568.3h0.7v0.7h-0.7zM23.2 550.0h0.7v0.7h-0.7zM66.1 558.6h0.7v0.7h-0.7zM29.9 559.6h0.7v0.7h-0.7zM42.2 563.1h0.7v0.7h-0.7zM33.8 573.5h0.7v0.7h-0.7zM53.3 544.3h0.7v0.7h-0.7zM27.6 566.1h0.7v0.7h-0.7zM47.9 557.2h0.7v0.7h-0.7zM44.4 563.4h0.7v0.7h-0.7zM28.6 565.9h0.7v0.7h-0.7zM30.4 571.1h0.7v0.7h-0.7zM62.5 567.8h0.7v0.7h-0.7zM35.6 563.1h0.7v0.7h-0.7zM47.0 559.4h0.7v0.7h-0.7zM49.6 571.0h0.7v0.7h-0.7zM51.6 560.3h0.7v0.7h-0.7zM41.4 579.3h0.7v0.7h-0.7zM54.2 560.6h0.7v0.7h-0.7zM60.8 567.0h0.7v0.7h-0.7zM45.6 558.8h0.7v0.7h-0.7zM34.2 564.8h0.7v0.7h-0.7zM51.5 565.3h0.7v0.7h-0.7zM42.3 549.9h0.7v0.7h-0.7zM51.8 566.0h0.7v0.7h-0.7zM44.4 551.1h0.7v0.7h-0.7zM46.9 568.4h0.7v0.7h-0.7zM51.1 573.0h0.7v0.7h-0.7zM30.0 558.5h0.7v0.7h-0.7zM46.6 549.9h0.7v0.7h-0.7zM35.8 576.8h0.7v0.7h-0.7zM48.3 560.1h0.7v0.7h-0.7zM36.4 564.1h0.7v0.7h-0.7zM43.7 551.9h0.7v0.7h-0.7zM55.0 547.6h0.7v0.7h-0.7zM61.8 555.0h0.7v0.7h-0.7zM48.2 552.9h0.7v0.7h-0.7zM62.8 552.3h0.7v0.7h-0.7zM62.2 554.0h0.7v0.7h-0.7zM43.5 549.3h0.7v0.7h-0.7zM45.0 565.6h0.7v0.7h-0.7zM43.3 551.7h0.7v0.7h-0.7zM56.7 567.9h0.7v0.7h-0.7zM43.0 569.6h0.7v0.7h-0.7zM57.8 549.7h0.7v0.7h-0.7zM43.7 544.5h0.7v0.7h-0.7zM29.9 569.1h0.7v0.7h-0.7zM32.0 568.3h0.7v0.7h-0.7zM49.2 541.4h0.7v0.7h-0.7zM37.4 577.8h0.7v0.7h-0.7zM44.4 563.1h0.7v0.7h-0.7zM34.4 548.9h0.7v0.7h-0.7zM41.6 554.3h0.7v0.7h-0.7zM45.7 543.3h0.7v0.7h-0.7zM63.6 574.0h0.7v0.7h-0.7zM33.7 567.3h0.7v0.7h-0.7zM31.7 572.8h0.7v0.7h-0.7zM32.5 563.1h0.7v0.7h-0.7zM62.4 563.0h0.7v0.7h-0.7zM39.6 548.5h0.7v0.7h-0.7zM22.0 578.1h0.7v0.7h-0.7zM51.3 561.0h0.7v0.7h-0.7zM61.7 559.6h0.7v0.7h-0.7zM34.0 563.1h0.7v0.7h-0.7zM42.8 562.1h0.7v0.7h-0.7zM48.0 558.8h0.7v0.7h-0.7zM34.7 554.6h0.7v0.7h-0.7zM18.0 563.2h0.7v0.7h-0.7zM23.0 548.9h0.7v0.7h-0.7zM31.1 545.5h0.7v0.7h-0.7zM63.4 569.7h0.7v0.7h-0.7zM53.4 536.0h0.7v0.7h-0.7zM44.5 552.4h0.7v0.7h-0.7zM19.8 564.7h0.7v0.7h-0.7zM60.3 562.7h0.7v0.7h-0.7zM23.7 560.0h0.7v0.7h-0.7zM33.5 575.1h0.7v0.7h-0.7zM42.8 552.9h0.7v0.7h-0.7zM31.4 545.9h0.7v0.7h-0.7zM32.3 573.0h0.7v0.7h-0.7zM42.6 570.1h0.7v0.7h-0.7zM28.1 574.1h0.7v0.7h-0.7zM65.9 579.1h0.7v0.7h-0.7zM21.3 566.6h0.7v0.7h-0.7zM41.2 563.8h0.7v0.7h-0.7zM30.3 573.1h0.7v0.7h-0.7zM30.7 559.3h0.7v0.7h-0.7zM54.4 561.1h0.7v0.7h-0.7zM33.4 576.1h0.7v0.7h-0.7zM51.4 570.2h0.7v0.7h-0.7zM41.7 574.7h0.7v0.7h-0.7zM37.6 552.7h0.7v0.7h-0.7zM44.0 548.7h0.7v0.7h-0.7zM61.7 565.2h0.7v0.7h-0.7zM20.5 568.7h0.7v0.7h-0.7zM56.0 556.0h0.7v0.7h-0.7zM50.0 555.1h0.7v0.7h-0.7zM43.1 561.4h0.7v0.7h-0.7zM50.9 551.3h0.7v0.7h-0.7zM28.2 568.5h0.7v0.7h-0.7zM37.0 568.5h0.7v0.7h-0.7zM37.0 551.0h0.7v0.7h-0.7zM54.5 562.3h0.7v0.7h-0.7zM54.4 556.5h0.7v0.7h-0.7zM39.0 575.1h0.7v0.7h-0.7zM51.3 559.9h0.7v0.7h-0.7zM45.3 567.5h0.7v0.7h-0.7zM33.2 567.0h0.7v0.7h-0.7zM30.7 547.2h0.7v0.7h-0.7zM46.9 562.3h0.7v0.7h-0.7zM53.2 565.4h0.7v0.7h-0.7zM53.9 567.4h0.7v0.7h-0.7zM29.2 576.8h0.7v0.7h-0.7zM26.4 572.3h0.7v0.7h-0.7zM57.0 568.9h0.7v0.7h-0.7zM65.7 544.1h0.7v0.7h-0.7zM49.4 565.3h0.7v0.7h-0.7zM61.7 549.7h0.7v0.7h-0.7zM44.4 558.4h0.7v0.7h-0.7zM41.8 561.1h0.7v0.7h-0.7zM41.9 545.5h0.7v0.7h-0.7zM43.5 562.7h0.7v0.7h-0.7zM38.6 529.2h0.7v0.7h-0.7zM34.3 557.8h0.7v0.7h-0.7zM57.1 557.4h0.7v0.7h-0.7zM30.4 569.4h0.7v0.7h-0.7zM35.6 578.0h0.7v0.7h-0.7zM59.7 557.5h0.7v0.7h-0.7zM52.7 552.5h0.7v0.7h-0.7zM21.8 574.8h0.7v0.7h-0.7zM67.1 554.1h0.7v0.7h-0.7zM36.6 546.4h0.7v0.7h-0.7zM30.4 563.0h0.7v0.7h-0.7zM61.1 558.8h0.7v0.7h-0.7zM43.8 562.2h0.7v0.7h-0.7zM56.0 559.1h0.7v0.7h-0.7zM46.3 560.8h0.7v0.7h-0.7zM28.4 578.2h0.7v0.7h-0.7zM34.3 551.5h0.7v0.7h-0.7zM37.9 563.6h0.7v0.7h-0.7zM55.6 545.4h0.7v0.7h-0.7zM26.2 567.5h0.7v0.7h-0.7zM49.4 550.3h0.7v0.7h-0.7zM28.1 567.1h0.7v0.7h-0.7zM42.0 546.9h0.7v0.7h-0.7zM31.7 578.9h0.7v0.7h-0.7zM29.1 575.2h0.7v0.7h-0.7zM66.6 551.1h0.7v0.7h-0.7zM34.4 570.1h0.7v0.7h-0.7zM26.6 571.0h0.7v0.7h-0.7zM61.2 560.8h0.7v0.7h-0.7zM48.6 559.5h0.7v0.7h-0.7zM58.2 551.1h0.7v0.7h-0.7zM66.4 557.0h0.7v0.7h-0.7zM39.4 547.3h0.7v0.7h-0.7zM37.8 565.6h0.7v0.7h-0.7zM61.5 542.8h0.7v0.7h-0.7zM42.2 555.8h0.7v0.7h-0.7zM27.2 565.6h0.7v0.7h-0.7zM33.3 572.6h0.7v0.7h-0.7zM51.3 557.2h0.7v0.7h-0.7zM45.8 552.3h0.7v0.7h-0.7zM29.3 558.1h0.7v0.7h-0.7zM43.2 554.1h0.7v0.7h-0.7zM38.1 555.0h0.7v0.7h-0.7zM47.3 550.4h0.7v0.7h-0.7zM43.7 563.0h0.7v0.7h-0.7zM57.5 552.0h0.7v0.7h-0.7zM28.0 551.2h0.7v0.7h-0.7zM54.7 553.7h0.7v0.7h-0.7zM57.9 558.3h0.7v0.7h-0.7zM40.1 545.0h0.7v0.7h-0.7zM34.5 571.6h0.7v0.7h-0.7zM35.4 570.3h0.7v0.7h-0.7zM20.9 576.7h0.7v0.7h-0.7zM48.5 549.2h0.7v0.7h-0.7zM36.6 557.3h0.7v0.7h-0.7zM46.6 542.1h0.7v0.7h-0.7zM31.9 572.2h0.7v0.7h-0.7zM46.1 568.7h0.7v0.7h-0.7zM56.0 548.5h0.7v0.7h-0.7zM25.1 570.5h0.7v0.7h-0.7zM44.5 562.7h0.7v0.7h-0.7zM32.6 574.2h0.7v0.7h-0.7zM51.0 571.4h0.7v0.7h-0.7zM39.0 569.7h0.7v0.7h-0.7zM43.2 553.2h0.7v0.7h-0.7zM42.9 546.4h0.7v0.7h-0.7zM41.5 564.2h0.7v0.7h-0.7zM53.8 549.8h0.7v0.7h-0.7zM25.3 559.0h0.7v0.7h-0.7zM33.3 557.8h0.7v0.7h-0.7zM68.8 545.5h0.7v0.7h-0.7zM42.4 561.6h0.7v0.7h-0.7zM33.7 557.3h0.7v0.7h-0.7zM20.4 559.0h0.7v0.7h-0.7zM62.3 571.6h0.7v0.7h-0.7zM40.0 569.6h0.7v0.7h-0.7zM50.5 561.7h0.7v0.7h-0.7zM42.1 574.0h0.7v0.7h-0.7zM52.0 558.1h0.7v0.7h-0.7zM40.7 571.6h0.7v0.7h-0.7zM35.7 556.9h0.7v0.7h-0.7zM40.1 558.1h0.7v0.7h-0.7zM61.7 561.6h0.7v0.7h-0.7zM42.8 557.2h0.7v0.7h-0.7zM63.9 562.0h0.7v0.7h-0.7zM41.0 557.4h0.7v0.7h-0.7zM40.0 564.6h0.7v0.7h-0.7zM55.1 564.3h0.7v0.7h-0.7zM66.1 542.7h0.7v0.7h-0.7zM44.4 548.3h0.7v0.7h-0.7zM29.5 559.3h0.7v0.7h-0.7zM34.9 554.7h0.7v0.7h-0.7zM22.7 577.5h0.7v0.7h-0.7zM39.5 572.2h0.7v0.7h-0.7zM28.5 543.1h0.7v0.7h-0.7zM35.6 572.2h0.7v0.7h-0.7zM36.2 567.5h0.7v0.7h-0.7zM28.9 578.6h0.7v0.7h-0.7zM50.1 570.7h0.7v0.7h-0.7zM40.1 575.1h0.7v0.7h-0.7zM45.0 557.1h0.7v0.7h-0.7zM35.0 564.5h0.7v0.7h-0.7zM31.2 553.3h0.7v0.7h-0.7zM45.8 568.4h0.7v0.7h-0.7zM39.9 570.9h0.7v0.7h-0.7zM66.3 545.1h0.7v0.7h-0.7zM47.6 552.0h0.7v0.7h-0.7zM35.0 565.6h0.7v0.7h-0.7zM55.8 564.7h0.7v0.7h-0.7zM53.1 577.4h0.7v0.7h-0.7zM38.9 573.6h0.7v0.7h-0.7zM64.3 562.3h0.7v0.7h-0.7zM18.9 565.9h0.7v0.7h-0.7zM39.9 547.4h0.7v0.7h-0.7zM43.1 569.4h0.7v0.7h-0.7zM40.4 561.0h0.7v0.7h-0.7zM64.6 551.7h0.7v0.7h-0.7zM30.8 565.2h0.7v0.7h-0.7zM59.7 564.3h0.7v0.7h-0.7zM45.0 557.1h0.7v0.7h-0.7zM61.3 566.8h0.7v0.7h-0.7zM19.6 570.4h0.7v0.7h-0.7zM52.6 554.1h0.7v0.7h-0.7zM25.9 563.0h0.7v0.7h-0.7zM19.4 572.7h0.7v0.7h-0.7zM36.8 546.6h0.7v0.7h-0.7zM43.7 573.4h0.7v0.7h-0.7zM26.2 562.4h0.7v0.7h-0.7zM36.2 565.5h0.7v0.7h-0.7zM54.9 550.0h0.7v0.7h-0.7zM42.6 546.7h0.7v0.7h-0.7zM21.8 552.0h0.7v0.7h-0.7zM55.8 562.4h0.7v0.7h-0.7zM54.3 571.4h0.7v0.7h-0.7zM44.6 564.1h0.7v0.7h-0.7zM49.7 565.2h0.7v0.7h-0.7zM29.1 562.6h0.7v0.7h-0.7zM41.9 562.8h0.7v0.7h-0.7zM33.5 563.0h0.7v0.7h-0.7zM48.0 562.9h0.7v0.7h-0.7zM52.3 568.1h0.7v0.7h-0.7zM51.8 569.5h0.7v0.7h-0.7zM55.8 572.8h0.7v0.7h-0.7zM52.8 554.2h0.7v0.7h-0.7zM61.5 565.2h0.7v0.7h-0.7zM44.7 550.9h0.7v0.7h-0.7zM50.1 557.3h0.7v0.7h-0.7zM38.4 542.8h0.7v0.7h-0.7zM65.7 546.2h0.7v0.7h-0.7zM28.6 569.8h0.7v0.7h-0.7zM52.0 552.7h0.7v0.7h-0.7zM43.9 564.4h0.7v0.7h-0.7zM46.2 566.6h0.7v0.7h-0.7zM54.9 556.1h0.7v0.7h-0.7zM38.6 553.7h0.7v0.7h-0.7zM54.5 565.3h0.7v0.7h-0.7zM43.5 565.1h0.7v0.7h-0.7zM48.5 558.8h0.7v0.7h-0.7zM48.5 548.6h0.7v0.7h-0.7zM56.3 555.4h0.7v0.7h-0.7zM35.9 549.4h0.7v0.7h-0.7zM42.3 560.7h0.7v0.7h-0.7zM35.0 549.0h0.7v0.7h-0.7zM46.2 565.5h0.7v0.7h-0.7zM60.0 563.5h0.7v0.7h-0.7zM65.3 568.9h0.7v0.7h-0.7zM42.5 552.3h0.7v0.7h-0.7zM50.1 569.9h0.7v0.7h-0.7zM22.2 554.8h0.7v0.7h-0.7zM53.7 554.6h0.7v0.7h-0.7zM64.5 559.7h0.7v0.7h-0.7zM36.3 550.9h0.7v0.7h-0.7zM52.4 543.7h0.7v0.7h-0.7zM25.7 553.4h0.7v0.7h-0.7zM67.9 573.2h0.7v0.7h-0.7zM40.9 559.0h0.7v0.7h-0.7zM53.8 571.8h0.7v0.7h-0.7zM41.1 573.4h0.7v0.7h-0.7zM41.0 550.4h0.7v0.7h-0.7zM43.9 550.0h0.7v0.7h-0.7zM53.5 561.8h0.7v0.7h-0.7zM39.9 559.0h0.7v0.7h-0.7zM36.0 556.8h0.7v0.7h-0.7zM24.2 577.8h0.7v0.7h-0.7zM56.5 546.0h0.7v0.7h-0.7zM27.6 569.4h0.7v0.7h-0.7zM39.6 560.5h0.7v0.7h-0.7zM47.5 559.6h0.7v0.7h-0.7zM59.2 568.1h0.7v0.7h-0.7zM51.7 575.4h0.7v0.7h-0.7zM40.7 557.4h0.7v0.7h-0.7zM22.1 544.1h0.7v0.7h-0.7zM49.0 550.7h0.7v0.7h-0.7zM58.9 538.7h0.7v0.7h-0.7zM42.1 558.7h0.7v0.7h-0.7zM28.8 575.9h0.7v0.7h-0.7zM38.4 567.5h0.7v0.7h-0.7zM36.6 565.0h0.7v0.7h-0.7zM37.7 564.0h0.7v0.7h-0.7zM42.6 555.8h0.7v0.7h-0.7zM50.1 558.9h0.7v0.7h-0.7zM30.4 554.9h0.7v0.7h-0.7zM50.2 573.4h0.7v0.7h-0.7zM25.6 561.9h0.7v0.7h-0.7zM50.3 570.6h0.7v0.7h-0.7zM54.0 548.5h0.7v0.7h-0.7zM44.5 570.5h0.7v0.7h-0.7zM47.4 559.1h0.7v0.7h-0.7zM27.4 567.1h0.7v0.7h-0.7zM43.1 562.5h0.7v0.7h-0.7zM65.1 568.8h0.7v0.7h-0.7zM32.8 566.6h0.7v0.7h-0.7zM39.6 563.9h0.7v0.7h-0.7zM66.9 565.8h0.7v0.7h-0.7zM44.6 555.6h0.7v0.7h-0.7zM41.7 566.0h0.7v0.7h-0.7zM37.0 574.0h0.7v0.7h-0.7zM44.3 550.6h0.7v0.7h-0.7zM40.2 561.6h0.7v0.7h-0.7zM57.9 569.7h0.7v0.7h-0.7zM64.5 572.5h0.7v0.7h-0.7zM48.5 562.1h0.7v0.7h-0.7zM58.3 558.7h0.7v0.7h-0.7zM26.3 561.4h0.7v0.7h-0.7zM53.3 565.8h0.7v0.7h-0.7zM28.4 576.8h0.7v0.7h-0.7zM48.3 546.7h0.7v0.7h-0.7zM50.6 570.2h0.7v0.7h-0.7zM51.5 557.4h0.7v0.7h-0.7zM32.7 575.1h0.7v0.7h-0.7zM47.2 561.3h0.7v0.7h-0.7zM38.4 553.3h0.7v0.7h-0.7zM59.6 566.0h0.7v0.7h-0.7zM34.4 578.7h0.7v0.7h-0.7zM40.8 553.0h0.7v0.7h-0.7zM57.7 572.3h0.7v0.7h-0.7zM38.5 551.5h0.7v0.7h-0.7zM43.1 538.9h0.7v0.7h-0.7zM44.7 576.4h0.7v0.7h-0.7zM47.8 554.1h0.7v0.7h-0.7zM54.0 555.1h0.7v0.7h-0.7zM61.8 554.7h0.7v0.7h-0.7zM46.7 552.4h0.7v0.7h-0.7zM26.0 569.1h0.7v0.7h-0.7zM48.9 551.6h0.7v0.7h-0.7zM51.9 556.4h0.7v0.7h-0.7zM36.2 563.0h0.7v0.7h-0.7zM49.5 567.8h0.7v0.7h-0.7zM61.4 561.9h0.7v0.7h-0.7zM33.8 557.6h0.7v0.7h-0.7zM49.2 549.4h0.7v0.7h-0.7zM41.6 558.8h0.7v0.7h-0.7zM42.6 564.0h0.7v0.7h-0.7zM58.6 574.5h0.7v0.7h-0.7zM56.4 569.0h0.7v0.7h-0.7zM29.0 575.1h0.7v0.7h-0.7zM62.2 545.1h0.7v0.7h-0.7zM44.9 554.1h0.7v0.7h-0.7zM35.9 574.0h0.7v0.7h-0.7zM47.6 557.6h0.7v0.7h-0.7zM60.2 549.6h0.7v0.7h-0.7zM32.1 559.2h0.7v0.7h-0.7zM33.5 570.8h0.7v0.7h-0.7zM40.8 552.6h0.7v0.7h-0.7zM37.5 544.4h0.7v0.7h-0.7zM46.3 562.5h0.7v0.7h-0.7zM52.6 557.9h0.7v0.7h-0.7zM49.6 551.9h0.7v0.7h-0.7zM44.3 563.4h0.7v0.7h-0.7zM26.9 571.3h0.7v0.7h-0.7zM46.0 562.1h0.7v0.7h-0.7z" fill="#80c456" fill-opacity="0.6"/>
<path d="M45.2 574.5h0.7v0.7h-0.7zM50.0 552.1h0.7v0.7h-0.7zM41.5 564.6h0.7v0.7h-0.7zM47.9 552.5h0.7v0.7h-0.7zM42.7 566.9h0.7v0.7h-0.7zM50.9 565.8h0.7v0.7h-0.7zM49.8 549.0h0.7v0.7h-0.7zM58.7 558.3h0.7v0.7h-0.7zM43.4 557.2h0.7v0.7h-0.7zM40.3 566.7h0.7v0.7h-0.7zM45.8 562.7h0.7v0.7h-0.7zM52.6 555.4h0.7v0.7h-0.7zM53.7 555.2h0.7v0.7h-0.7zM38.2 557.7h0.7v0.7h-0.7zM38.2 566.6h0.7v0.7h-0.7zM56.5 552.0h0.7v0.7h-0.7zM56.2 558.4h0.7v0.7h-0.7zM59.8 548.5h0.7v0.7h-0.7zM50.3 550.4h0.7v0.7h-0.7zM43.2 570.1h0.7v0.7h-0.7zM29.9 555.8h0.7v0.7h-0.7zM54.9 562.8h0.7v0.7h-0.7zM42.1 544.4h0.7v0.7h-0.7zM32.8 564.9h0.7v0.7h-0.7zM61.0 562.3h0.7v0.7h-0.7zM42.7 570.1h0.7v0.7h-0.7zM48.1 563.1h0.7v0.7h-0.7zM48.1 570.6h0.7v0.7h-0.7zM44.8 542.9h0.7v0.7h-0.7zM46.8 560.2h0.7v0.7h-0.7zM52.8 551.9h0.7v0.7h-0.7zM47.7 549.9h0.7v0.7h-0.7zM47.7 559.2h0.7v0.7h-0.7zM52.4 570.0h0.7v0.7h-0.7zM30.0 566.7h0.7v0.7h-0.7zM54.3 548.1h0.7v0.7h-0.7zM50.7 557.8h0.7v0.7h-0.7zM40.0 565.9h0.7v0.7h-0.7zM57.8 564.3h0.7v0.7h-0.7zM48.7 565.7h0.7v0.7h-0.7zM41.9 561.3h0.7v0.7h-0.7zM57.0 566.3h0.7v0.7h-0.7zM47.1 556.5h0.7v0.7h-0.7zM54.7 556.3h0.7v0.7h-0.7zM51.4 563.8h0.7v0.7h-0.7zM42.4 566.5h0.7v0.7h-0.7zM53.8 555.1h0.7v0.7h-0.7zM37.5 556.2h0.7v0.7h-0.7zM49.6 565.2h0.7v0.7h-0.7zM30.4 568.1h0.7v0.7h-0.7zM51.9 548.9h0.7v0.7h-0.7zM58.5 559.0h0.7v0.7h-0.7zM54.3 549.5h0.7v0.7h-0.7zM39.0 567.6h0.7v0.7h-0.7zM64.0 557.4h0.7v0.7h-0.7zM48.1 555.0h0.7v0.7h-0.7zM32.9 569.6h0.7v0.7h-0.7zM49.0 567.6h0.7v0.7h-0.7zM42.8 567.7h0.7v0.7h-0.7zM42.9 564.1h0.7v0.7h-0.7zM63.7 549.4h0.7v0.7h-0.7zM59.0 555.8h0.7v0.7h-0.7zM40.7 561.8h0.7v0.7h-0.7zM56.4 551.0h0.7v0.7h-0.7zM47.3 554.3h0.7v0.7h-0.7zM42.4 558.2h0.7v0.7h-0.7zM58.2 552.3h0.7v0.7h-0.7zM62.4 552.1h0.7v0.7h-0.7zM43.1 567.8h0.7v0.7h-0.7zM64.0 549.7h0.7v0.7h-0.7zM55.8 547.8h0.7v0.7h-0.7zM46.0 556.1h0.7v0.7h-0.7zM57.0 546.8h0.7v0.7h-0.7zM44.9 554.0h0.7v0.7h-0.7zM51.0 548.5h0.7v0.7h-0.7zM52.1 546.1h0.7v0.7h-0.7zM58.3 546.1h0.7v0.7h-0.7zM31.3 575.1h0.7v0.7h-0.7zM62.4 548.7h0.7v0.7h-0.7zM39.2 564.2h0.7v0.7h-0.7zM56.5 547.5h0.7v0.7h-0.7zM32.4 565.2h0.7v0.7h-0.7zM60.0 556.6h0.7v0.7h-0.7zM49.9 568.5h0.7v0.7h-0.7zM41.7 568.3h0.7v0.7h-0.7zM58.2 551.3h0.7v0.7h-0.7zM51.2 558.5h0.7v0.7h-0.7zM55.7 549.2h0.7v0.7h-0.7zM47.7 559.2h0.7v0.7h-0.7zM50.3 558.1h0.7v0.7h-0.7zM52.5 556.0h0.7v0.7h-0.7zM45.1 567.0h0.7v0.7h-0.7zM43.6 557.1h0.7v0.7h-0.7zM41.3 551.4h0.7v0.7h-0.7zM54.4 556.6h0.7v0.7h-0.7zM48.7 561.7h0.7v0.7h-0.7zM48.3 563.5h0.7v0.7h-0.7zM67.8 556.3h0.7v0.7h-0.7zM47.4 571.1h0.7v0.7h-0.7zM57.0 543.8h0.7v0.7h-0.7zM63.1 556.4h0.7v0.7h-0.7zM58.4 547.3h0.7v0.7h-0.7zM41.6 555.1h0.7v0.7h-0.7zM55.4 548.2h0.7v0.7h-0.7zM43.0 566.8h0.7v0.7h-0.7zM43.7 560.4h0.7v0.7h-0.7zM41.1 547.3h0.7v0.7h-0.7zM49.2 557.3h0.7v0.7h-0.7zM35.9 568.7h0.7v0.7h-0.7zM58.1 562.7h0.7v0.7h-0.7zM45.0 550.6h0.7v0.7h-0.7zM49.1 559.5h0.7v0.7h-0.7zM48.3 554.0h0.7v0.7h-0.7zM40.2 554.8h0.7v0.7h-0.7zM49.2 554.5h0.7v0.7h-0.7zM66.4 552.0h0.7v0.7h-0.7zM54.4 553.4h0.7v0.7h-0.7zM48.2 551.1h0.7v0.7h-0.7zM45.2 547.9h0.7v0.7h-0.7zM29.6 572.9h0.7v0.7h-0.7zM39.6 563.7h0.7v0.7h-0.7zM48.8 554.0h0.7v0.7h-0.7zM57.1 552.1h0.7v0.7h-0.7zM54.3 554.2h0.7v0.7h-0.7zM59.5 562.9h0.7v0.7h-0.7zM50.6 566.1h0.7v0.7h-0.7zM54.9 568.5h0.7v0.7h-0.7zM48.8 546.7h0.7v0.7h-0.7zM52.1 559.3h0.7v0.7h-0.7zM46.4 557.3h0.7v0.7h-0.7zM47.3 549.2h0.7v0.7h-0.7zM66.8 548.2h0.7v0.7h-0.7zM39.5 548.7h0.7v0.7h-0.7zM41.7 559.7h0.7v0.7h-0.7zM64.5 559.0h0.7v0.7h-0.7zM42.9 550.4h0.7v0.7h-0.7zM39.0 560.0h0.7v0.7h-0.7zM58.5 552.4h0.7v0.7h-0.7zM65.7 568.7h0.7v0.7h-0.7zM51.5 541.4h0.7v0.7h-0.7zM60.7 554.7h0.7v0.7h-0.7zM56.5 563.8h0.7v0.7h-0.7zM40.1 560.8h0.7v0.7h-0.7zM51.7 551.9h0.7v0.7h-0.7zM56.8 555.4h0.7v0.7h-0.7zM46.0 573.0h0.7v0.7h-0.7zM51.6 569.8h0.7v0.7h-0.7zM48.5 566.1h0.7v0.7h-0.7zM42.6 560.9h0.7v0.7h-0.7zM60.6 539.2h0.7v0.7h-0.7zM55.2 554.7h0.7v0.7h-0.7zM60.6 556.8h0.7v0.7h-0.7zM49.2 548.6h0.7v0.7h-0.7zM46.8 553.3h0.7v0.7h-0.7zM47.0 560.3h0.7v0.7h-0.7zM36.9 569.0h0.7v0.7h-0.7zM47.4 563.1h0.7v0.7h-0.7zM29.3 559.0h0.7v0.7h-0.7zM47.1 555.8h0.7v0.7h-0.7zM43.4 561.9h0.7v0.7h-0.7zM54.0 549.7h0.7v0.7h-0.7zM30.8 568.0h0.7v0.7h-0.7zM46.8 566.7h0.7v0.7h-0.7zM58.5 555.2h0.7v0.7h-0.7zM36.0 558.6h0.7v0.7h-0.7zM42.8 569.0h0.7v0.7h-0.7zM33.4 568.8h0.7v0.7h-0.7zM34.9 557.3h0.7v0.7h-0.7zM36.1 556.1h0.7v0.7h-0.7zM45.6 561.8h0.7v0.7h-0.7zM44.2 564.5h0.7v0.7h-0.7zM67.1 555.1h0.7v0.7h-0.7zM38.7 559.4h0.7v0.7h-0.7zM49.0 555.5h0.7v0.7h-0.7zM61.2 563.9h0.7v0.7h-0.7zM23.9 563.3h0.7v0.7h-0.7zM56.5 550.4h0.7v0.7h-0.7zM44.1 566.2h0.7v0.7h-0.7zM51.4 549.2h0.7v0.7h-0.7zM44.3 536.3h0.7v0.7h-0.7zM49.9 548.9h0.7v0.7h-0.7zM49.4 549.2h0.7v0.7h-0.7zM40.9 556.3h0.7v0.7h-0.7zM38.4 556.7h0.7v0.7h-0.7zM60.3 561.5h0.7v0.7h-0.7zM56.7 553.9h0.7v0.7h-0.7zM51.2 551.9h0.7v0.7h-0.7zM48.2 552.4h0.7v0.7h-0.7zM35.7 554.0h0.7v0.7h-0.7zM68.8 556.4h0.7v0.7h-0.7zM42.6 558.9h0.7v0.7h-0.7zM45.5 568.2h0.7v0.7h-0.7zM49.7 553.3h0.7v0.7h-0.7zM56.6 558.8h0.7v0.7h-0.7zM43.3 553.8h0.7v0.7h-0.7zM51.3 545.4h0.7v0.7h-0.7zM41.0 567.7h0.7v0.7h-0.7zM58.3 564.3h0.7v0.7h-0.7zM45.6 554.6h0.7v0.7h-0.7zM47.3 555.0h0.7v0.7h-0.7zM62.4 553.3h0.7v0.7h-0.7zM63.1 549.5h0.7v0.7h-0.7zM53.6 569.2h0.7v0.7h-0.7zM42.7 554.9h0.7v0.7h-0.7zM44.1 547.4h0.7v0.7h-0.7zM47.0 553.9h0.7v0.7h-0.7zM29.1 570.0h0.7v0.7h-0.7zM59.2 555.5h0.7v0.7h-0.7zM52.7 562.7h0.7v0.7h-0.7zM44.4 559.6h0.7v0.7h-0.7zM51.3 570.0h0.7v0.7h-0.7zM63.7 555.9h0.7v0.7h-0.7zM36.8 567.7h0.7v0.7h-0.7zM49.4 566.8h0.7v0.7h-0.7zM50.4 559.2h0.7v0.7h-0.7zM56.3 551.0h0.7v0.7h-0.7zM43.5 576.7h0.7v0.7h-0.7zM41.5 567.0h0.7v0.7h-0.7zM56.5 562.5h0.7v0.7h-0.7zM63.2 544.8h0.7v0.7h-0.7zM59.2 540.4h0.7v0.7h-0.7zM50.4 560.4h0.7v0.7h-0.7zM59.9 563.7h0.7v0.7h-0.7zM40.8 558.1h0.7v0.7h-0.7zM48.3 553.2h0.7v0.7h-0.7zM41.9 555.0h0.7v0.7h-0.7zM61.1 565.5h0.7v0.7h-0.7zM57.2 568.8h0.7v0.7h-0.7zM50.8 549.7h0.7v0.7h-0.7zM43.5 561.0h0.7v0.7h-0.7zM59.9 564.7h0.7v0.7h-0.7zM41.1 567.2h0.7v0.7h-0.7zM44.7 563.7h0.7v0.7h-0.7zM58.8 566.9h0.7v0.7h-0.7zM44.7 561.1h0.7v0.7h-0.7zM54.0 553.9h0.7v0.7h-0.7zM50.8 562.2h0.7v0.7h-0.7zM33.9 557.0h0.7v0.7h-0.7zM44.4 545.6h0.7v0.7h-0.7zM40.5 564.1h0.7v0.7h-0.7zM56.5 559.8h0.7v0.7h-0.7zM55.6 552.1h0.7v0.7h-0.7zM65.4 545.9h0.7v0.7h-0.7zM54.8 554.8h0.7v0.7h-0.7zM33.2 568.8h0.7v0.7h-0.7zM47.2 564.0h0.7v0.7h-0.7zM62.2 556.3h0.7v0.7h-0.7zM43.4 557.9h0.7v0.7h-0.7zM49.2 569.0h0.7v0.7h-0.7zM58.2 567.9h0.7v0.7h-0.7zM57.3 550.5h0.7v0.7h-0.7zM58.9 563.1h0.7v0.7h-0.7zM48.7 561.8h0.7v0.7h-0.7zM46.8 549.3h0.7v0.7h-0.7zM49.0 563.9h0.7v0.7h-0.7zM46.4 542.1h0.7v0.7h-0.7zM42.1 568.0h0.7v0.7h-0.7zM52.0 565.9h0.7v0.7h-0.7zM42.5 556.6h0.7v0.7h-0.7zM40.1 554.5h0.7v0.7h-0.7zM54.8 557.9h0.7v0.7h-0.7zM45.1 561.4h0.7v0.7h-0.7zM37.2 558.1h0.7v0.7h-0.7zM35.3 550.3h0.7v0.7h-0.7zM36.6 553.0h0.7v0.7h-0.7zM65.2 564.6h0.7v0.7h-0.7zM62.1 550.7h0.7v0.7h-0.7zM55.9 548.1h0.7v0.7h-0.7zM44.6 561.1h0.7v0.7h-0.7zM34.3 563.2h0.7v0.7h-0.7zM55.8 541.1h0.7v0.7h-0.7zM26.1 561.7h0.7v0.7h-0.7zM48.7 559.4h0.7v0.7h-0.7zM38.8 564.9h0.7v0.7h-0.7zM51.0 552.2h0.7v0.7h-0.7zM65.8 556.1h0.7v0.7h-0.7zM57.1 570.2h0.7v0.7h-0.7zM45.1 557.5h0.7v0.7h-0.7zM32.9 560.4h0.7v0.7h-0.7zM54.1 575.8h0.7v0.7h-0.7zM55.3 558.2h0.7v0.7h-0.7zM37.5 554.6h0.7v0.7h-0.7zM31.8 552.0h0.7v0.7h-0.7zM50.9 560.0h0.7v0.7h-0.7zM40.9 558.5h0.7v0.7h-0.7zM42.0 564.6h0.7v0.7h-0.7zM56.1 552.3h0.7v0.7h-0.7zM45.4 549.9h0.7v0.7h-0.7zM45.3 575.6h0.7v0.7h-0.7zM49.7 564.5h0.7v0.7h-0.7zM55.5 567.8h0.7v0.7h-0.7zM46.7 552.0h0.7v0.7h-0.7zM59.9 562.5h0.7v0.7h-0.7zM43.4 567.8h0.7v0.7h-0.7zM49.7 557.7h0.7v0.7h-0.7zM67.7 557.7h0.7v0.7h-0.7zM52.9 554.9h0.7v0.7h-0.7zM51.8 565.5h0.7v0.7h-0.7zM54.3 551.3h0.7v0.7h-0.7zM54.2 556.1h0.7v0.7h-0.7zM52.8 555.9h0.7v0.7h-0.7zM28.6 551.0h0.7v0.7h-0.7zM46.1 542.3h0.7v0.7h-0.7zM35.2 576.8h0.7v0.7h-0.7zM56.6 552.9h0.7v0.7h-0.7zM53.0 540.4h0.7v0.7h-0.7zM52.3 564.9h0.7v0.7h-0.7zM51.7 547.7h0.7v0.7h-0.7zM59.3 551.8h0.7v0.7h-0.7zM44.3 560.9h0.7v0.7h-0.7zM46.9 574.1h0.7v0.7h-0.7zM48.5 574.6h0.7v0.7h-0.7zM54.2 547.6h0.7v0.7h-0.7zM49.8 558.4h0.7v0.7h-0.7zM63.8 564.3h0.7v0.7h-0.7zM45.6 576.7h0.7v0.7h-0.7zM41.1 562.8h0.7v0.7h-0.7zM65.5 546.6h0.7v0.7h-0.7zM46.4 553.2h0.7v0.7h-0.7zM55.0 559.8h0.7v0.7h-0.7zM49.5 563.1h0.7v0.7h-0.7zM42.2 557.0h0.7v0.7h-0.7zM54.4 572.2h0.7v0.7h-0.7zM49.5 558.6h0.7v0.7h-0.7zM62.6 555.5h0.7v0.7h-0.7zM62.5 556.8h0.7v0.7h-0.7zM61.1 556.7h0.7v0.7h-0.7zM40.9 553.7h0.7v0.7h-0.7zM54.0 571.3h0.7v0.7h-0.7zM68.1 551.3h0.7v0.7h-0.7zM41.6 567.1h0.7v0.7h-0.7zM34.9 568.5h0.7v0.7h-0.7zM53.5 561.9h0.7v0.7h-0.7zM38.0 563.8h0.7v0.7h-0.7zM59.0 555.4h0.7v0.7h-0.7zM59.9 555.8h0.7v0.7h-0.7zM53.2 554.8h0.7v0.7h-0.7zM36.6 560.0h0.7v0.7h-0.7zM54.7 551.1h0.7v0.7h-0.7zM30.7 550.9h0.7v0.7h-0.7zM62.7 553.2h0.7v0.7h-0.7zM42.4 569.2h0.7v0.7h-0.7zM48.1 547.0h0.7v0.7h-0.7zM45.5 552.4h0.7v0.7h-0.7zM48.0 551.5h0.7v0.7h-0.7zM50.5 561.4h0.7v0.7h-0.7zM44.2 557.9h0.7v0.7h-0.7zM48.3 564.7h0.7v0.7h-0.7zM42.8 565.4h0.7v0.7h-0.7zM62.1 553.6h0.7v0.7h-0.7zM40.4 558.0h0.7v0.7h-0.7zM32.5 558.1h0.7v0.7h-0.7zM38.1 559.6h0.7v0.7h-0.7zM46.2 562.8h0.7v0.7h-0.7zM51.0 561.0h0.7v0.7h-0.7zM49.4 560.3h0.7v0.7h-0.7zM38.7 565.7h0.7v0.7h-0.7zM62.6 563.4h0.7v0.7h-0.7zM36.7 564.4h0.7v0.7h-0.7zM33.9 567.6h0.7v0.7h-0.7zM47.8 555.0h0.7v0.7h-0.7zM42.5 558.0h0.7v0.7h-0.7zM49.8 550.7h0.7v0.7h-0.7zM50.4 559.9h0.7v0.7h-0.7zM55.0 556.5h0.7v0.7h-0.7zM49.8 575.7h0.7v0.7h-0.7zM59.8 558.1h0.7v0.7h-0.7zM36.2 566.0h0.7v0.7h-0.7zM55.5 536.4h0.7v0.7h-0.7zM48.2 561.3h0.7v0.7h-0.7zM50.2 558.7h0.7v0.7h-0.7zM48.3 568.9h0.7v0.7h-0.7zM53.6 555.0h0.7v0.7h-0.7zM47.6 574.5h0.7v0.7h-0.7zM41.4 556.1h0.7v0.7h-0.7zM53.1 558.4h0.7v0.7h-0.7zM52.8 567.7h0.7v0.7h-0.7zM61.0 558.6h0.7v0.7h-0.7zM50.3 557.5h0.7v0.7h-0.7zM47.6 566.2h0.7v0.7h-0.7zM37.4 553.1h0.7v0.7h-0.7zM45.4 551.8h0.7v0.7h-0.7zM42.6 568.9h0.7v0.7h-0.7zM27.7 567.7h0.7v0.7h-0.7zM36.9 559.3h0.7v0.7h-0.7zM44.2 551.8h0.7v0.7h-0.7zM35.3 562.1h0.7v0.7h-0.7zM20.7 548.9h0.7v0.7h-0.7zM46.0 567.3h0.7v0.7h-0.7zM68.1 551.4h0.7v0.7h-0.7zM42.0 557.8h0.7v0.7h-0.7zM54.5 564.1h0.7v0.7h-0.7zM40.5 563.9h0.7v0.7h-0.7zM49.6 566.8h0.7v0.7h-0.7zM45.8 557.4h0.7v0.7h-0.7zM41.5 550.0h0.7v0.7h-0.7zM52.5 562.8h0.7v0.7h-0.7zM61.0 557.4h0.7v0.7h-0.7zM45.3 552.1h0.7v0.7h-0.7zM38.4 555.3h0.7v0.7h-0.7zM53.2 557.9h0.7v0.7h-0.7zM27.3 562.7h0.7v0.7h-0.7zM47.0 550.7h0.7v0.7h-0.7zM49.7 562.1h0.7v0.7h-0.7zM39.7 550.2h0.7v0.7h-0.7zM46.7 560.8h0.7v0.7h-0.7zM47.3 570.4h0.7v0.7h-0.7zM51.3 550.0h0.7v0.7h-0.7zM57.5 551.3h0.7v0.7h-0.7zM56.7 557.2h0.7v0.7h-0.7zM62.1 547.5h0.7v0.7h-0.7zM57.0 559.6h0.7v0.7h-0.7zM41.0 565.5h0.7v0.7h-0.7zM42.3 558.7h0.7v0.7h-0.7zM62.8 556.9h0.7v0.7h-0.7zM64.5 549.5h0.7v0.7h-0.7zM62.8 542.9h0.7v0.7h-0.7zM48.3 556.2h0.7v0.7h-0.7zM45.1 568.5h0.7v0.7h-0.7zM44.0 562.1h0.7v0.7h-0.7zM68.3 559.9h0.7v0.7h-0.7zM45.8 553.4h0.7v0.7h-0.7zM30.1 565.7h0.7v0.7h-0.7zM58.7 564.4h0.7v0.7h-0.7zM52.3 573.9h0.7v0.7h-0.7zM57.6 538.5h0.7v0.7h-0.7zM41.2 566.2h0.7v0.7h-0.7zM46.0 565.4h0.7v0.7h-0.7zM35.3 562.3h0.7v0.7h-0.7zM58.9 551.4h0.7v0.7h-0.7zM65.6 547.6h0.7v0.7h-0.7zM48.0 565.5h0.7v0.7h-0.7zM47.8 554.3h0.7v0.7h-0.7zM49.8 563.1h0.7v0.7h-0.7zM67.1 564.3h0.7v0.7h-0.7zM68.5 553.3h0.7v0.7h-0.7zM33.4 561.7h0.7v0.7h-0.7zM45.8 551.4h0.7v0.7h-0.7zM44.8 558.7h0.7v0.7h-0.7zM50.5 564.9h0.7v0.7h-0.7zM40.9 569.0h0.7v0.7h-0.7zM50.4 563.5h0.7v0.7h-0.7zM62.3 545.6h0.7v0.7h-0.7zM65.8 548.7h0.7v0.7h-0.7zM53.9 565.4h0.7v0.7h-0.7zM59.1 543.9h0.7v0.7h-0.7zM51.6 566.3h0.7v0.7h-0.7zM48.7 557.7h0.7v0.7h-0.7zM50.7 570.4h0.7v0.7h-0.7zM44.6 552.1h0.7v0.7h-0.7zM39.0 556.6h0.7v0.7h-0.7zM47.6 561.2h0.7v0.7h-0.7zM49.1 545.1h0.7v0.7h-0.7zM34.3 567.0h0.7v0.7h-0.7zM57.2 545.9h0.7v0.7h-0.7zM59.3 537.2h0.7v0.7h-0.7zM33.4 565.9h0.7v0.7h-0.7zM49.6 554.6h0.7v0.7h-0.7zM46.3 557.2h0.7v0.7h-0.7zM49.0 551.4h0.7v0.7h-0.7zM44.3 563.6h0.7v0.7h-0.7zM55.2 546.6h0.7v0.7h-0.7zM45.1 571.2h0.7v0.7h-0.7zM57.1 568.9h0.7v0.7h-0.7zM36.5 553.3h0.7v0.7h-0.7zM28.3 548.4h0.7v0.7h-0.7zM46.2 550.9h0.7v0.7h-0.7zM39.1 555.3h0.7v0.7h-0.7zM48.1 564.8h0.7v0.7h-0.7zM55.6 543.2h0.7v0.7h-0.7zM64.9 551.9h0.7v0.7h-0.7zM40.0 560.2h0.7v0.7h-0.7zM46.0 548.4h0.7v0.7h-0.7zM65.6 549.8h0.7v0.7h-0.7zM44.0 563.6h0.7v0.7h-0.7zM66.7 557.7h0.7v0.7h-0.7zM41.0 563.5h0.7v0.7h-0.7zM61.1 558.3h0.7v0.7h-0.7zM56.5 552.8h0.7v0.7h-0.7zM49.3 545.3h0.7v0.7h-0.7zM42.8 551.0h0.7v0.7h-0.7zM50.1 569.4h0.7v0.7h-0.7zM27.5 553.3h0.7v0.7h-0.7zM40.7 559.6h0.7v0.7h-0.7zM61.6 549.3h0.7v0.7h-0.7zM42.1 569.2h0.7v0.7h-0.7z" fill="#5fae2c" fill-opacity="0.6"/>
<path d="M26.0 560.0L33.0 552.0L44.0 547.0L56.0 544.0L64.0 542.0L70.0 542.0L70.0 574.0L62.0 581.0L40.0 581.0L28.0 576.0L24.0 568.0Z" fill="#78c04a" fill-opacity="0.85" filter="url(#bl2)"/>
<path d="M36.0 548.5L45.0 547.0L56.0 546.5L63.0 545.5L67.0 546.0L67.0 560.0L63.0 567.0L55.0 571.0L46.0 572.0L39.0 567.0L34.5 558.0Z" fill="#5aac24" fill-opacity="1.0" filter="url(#bl1)"/>
</g><g clip-path="url(#clip503b)">
<path d="M81.0 557.8h0.7v0.7h-0.7zM83.6 546.3h0.7v0.7h-0.7zM80.2 547.1h0.7v0.7h-0.7zM75.0 554.2h0.7v0.7h-0.7zM81.4 541.5h0.7v0.7h-0.7zM74.8 558.5h0.7v0.7h-0.7zM79.9 559.0h0.7v0.7h-0.7zM77.3 545.8h0.7v0.7h-0.7zM83.3 558.4h0.7v0.7h-0.7zM74.8 559.0h0.7v0.7h-0.7zM87.7 550.5h0.7v0.7h-0.7zM73.6 555.3h0.7v0.7h-0.7zM79.5 558.1h0.7v0.7h-0.7zM71.3 555.2h0.7v0.7h-0.7zM83.9 559.3h0.7v0.7h-0.7zM82.5 563.8h0.7v0.7h-0.7zM74.4 564.0h0.7v0.7h-0.7zM80.1 544.0h0.7v0.7h-0.7zM77.4 555.5h0.7v0.7h-0.7zM80.8 565.2h0.7v0.7h-0.7zM80.1 548.4h0.7v0.7h-0.7zM91.1 550.0h0.7v0.7h-0.7zM74.5 561.4h0.7v0.7h-0.7zM76.7 545.9h0.7v0.7h-0.7zM73.1 563.7h0.7v0.7h-0.7zM73.1 553.9h0.7v0.7h-0.7zM76.5 551.3h0.7v0.7h-0.7zM74.5 554.4h0.7v0.7h-0.7zM82.3 562.5h0.7v0.7h-0.7zM77.0 542.5h0.7v0.7h-0.7zM70.8 553.1h0.7v0.7h-0.7zM79.2 554.1h0.7v0.7h-0.7zM71.3 547.2h0.7v0.7h-0.7zM74.9 559.1h0.7v0.7h-0.7zM76.7 558.6h0.7v0.7h-0.7zM81.8 535.7h0.7v0.7h-0.7zM77.7 564.4h0.7v0.7h-0.7zM76.2 554.2h0.7v0.7h-0.7zM78.3 542.0h0.7v0.7h-0.7zM91.0 551.8h0.7v0.7h-0.7zM82.5 549.0h0.7v0.7h-0.7zM86.7 563.4h0.7v0.7h-0.7zM85.5 561.6h0.7v0.7h-0.7zM82.9 565.6h0.7v0.7h-0.7zM81.2 554.3h0.7v0.7h-0.7zM83.5 545.0h0.7v0.7h-0.7zM79.8 546.7h0.7v0.7h-0.7zM77.5 544.5h0.7v0.7h-0.7zM74.4 554.8h0.7v0.7h-0.7zM79.7 560.6h0.7v0.7h-0.7zM78.5 558.8h0.7v0.7h-0.7zM82.8 546.7h0.7v0.7h-0.7zM69.7 546.9h0.7v0.7h-0.7zM77.6 548.3h0.7v0.7h-0.7zM91.2 546.9h0.7v0.7h-0.7zM81.6 546.2h0.7v0.7h-0.7zM82.8 541.7h0.7v0.7h-0.7zM84.3 554.7h0.7v0.7h-0.7zM76.8 542.3h0.7v0.7h-0.7zM88.2 547.9h0.7v0.7h-0.7zM87.0 531.4h0.7v0.7h-0.7zM72.4 569.4h0.7v0.7h-0.7zM88.8 553.2h0.7v0.7h-0.7zM84.5 558.6h0.7v0.7h-0.7zM77.0 554.3h0.7v0.7h-0.7zM72.7 541.0h0.7v0.7h-0.7zM79.7 559.7h0.7v0.7h-0.7zM79.9 542.1h0.7v0.7h-0.7zM83.7 553.9h0.7v0.7h-0.7zM83.1 550.5h0.7v0.7h-0.7zM77.5 562.6h0.7v0.7h-0.7zM86.6 542.3h0.7v0.7h-0.7zM72.9 561.8h0.7v0.7h-0.7zM81.0 553.6h0.7v0.7h-0.7zM73.6 562.2h0.7v0.7h-0.7zM80.0 555.1h0.7v0.7h-0.7zM81.1 548.4h0.7v0.7h-0.7zM81.2 554.3h0.7v0.7h-0.7zM83.0 556.5h0.7v0.7h-0.7zM71.9 546.7h0.7v0.7h-0.7zM77.5 563.6h0.7v0.7h-0.7zM75.4 563.3h0.7v0.7h-0.7zM85.0 561.0h0.7v0.7h-0.7zM91.4 553.0h0.7v0.7h-0.7zM80.8 564.1h0.7v0.7h-0.7zM81.2 562.0h0.7v0.7h-0.7zM78.3 565.8h0.7v0.7h-0.7zM80.9 535.9h0.7v0.7h-0.7zM85.0 551.4h0.7v0.7h-0.7zM74.1 550.4h0.7v0.7h-0.7zM77.4 563.4h0.7v0.7h-0.7zM80.8 552.5h0.7v0.7h-0.7zM78.9 545.1h0.7v0.7h-0.7zM75.5 548.9h0.7v0.7h-0.7zM77.7 542.7h0.7v0.7h-0.7zM76.8 562.1h0.7v0.7h-0.7zM81.5 553.1h0.7v0.7h-0.7zM80.9 551.0h0.7v0.7h-0.7zM72.5 561.0h0.7v0.7h-0.7zM91.4 557.7h0.7v0.7h-0.7zM82.8 575.2h0.7v0.7h-0.7zM72.3 557.8h0.7v0.7h-0.7zM77.1 550.6h0.7v0.7h-0.7zM69.9 552.4h0.7v0.7h-0.7zM81.2 538.8h0.7v0.7h-0.7zM77.8 548.7h0.7v0.7h-0.7zM73.5 558.8h0.7v0.7h-0.7zM88.1 556.9h0.7v0.7h-0.7zM84.7 559.9h0.7v0.7h-0.7zM78.6 558.3h0.7v0.7h-0.7zM86.3 549.3h0.7v0.7h-0.7zM78.2 540.8h0.7v0.7h-0.7zM83.9 556.4h0.7v0.7h-0.7zM80.4 564.9h0.7v0.7h-0.7zM69.2 565.5h0.7v0.7h-0.7zM79.5 560.1h0.7v0.7h-0.7zM86.6 545.9h0.7v0.7h-0.7zM74.2 556.7h0.7v0.7h-0.7zM78.7 547.9h0.7v0.7h-0.7zM78.3 546.6h0.7v0.7h-0.7zM79.7 549.7h0.7v0.7h-0.7zM88.4 543.8h0.7v0.7h-0.7zM82.2 553.8h0.7v0.7h-0.7zM87.7 544.5h0.7v0.7h-0.7zM76.4 568.6h0.7v0.7h-0.7zM75.4 549.7h0.7v0.7h-0.7zM76.8 544.4h0.7v0.7h-0.7zM85.7 566.7h0.7v0.7h-0.7zM78.2 546.4h0.7v0.7h-0.7zM71.5 559.0h0.7v0.7h-0.7zM76.1 558.0h0.7v0.7h-0.7zM82.5 556.9h0.7v0.7h-0.7zM79.7 552.9h0.7v0.7h-0.7zM77.1 549.2h0.7v0.7h-0.7zM79.8 557.7h0.7v0.7h-0.7zM84.1 551.2h0.7v0.7h-0.7zM85.7 544.8h0.7v0.7h-0.7zM89.6 561.7h0.7v0.7h-0.7zM76.8 577.7h0.7v0.7h-0.7zM87.0 567.3h0.7v0.7h-0.7zM72.4 552.1h0.7v0.7h-0.7zM81.6 562.5h0.7v0.7h-0.7zM79.4 541.5h0.7v0.7h-0.7zM85.7 551.6h0.7v0.7h-0.7zM81.4 550.3h0.7v0.7h-0.7zM78.4 540.9h0.7v0.7h-0.7zM82.7 547.5h0.7v0.7h-0.7zM69.2 556.8h0.7v0.7h-0.7zM78.8 561.7h0.7v0.7h-0.7zM83.5 542.3h0.7v0.7h-0.7zM78.0 553.1h0.7v0.7h-0.7zM79.5 543.7h0.7v0.7h-0.7zM79.4 561.9h0.7v0.7h-0.7zM85.9 566.1h0.7v0.7h-0.7zM83.2 530.6h0.7v0.7h-0.7zM77.5 548.3h0.7v0.7h-0.7zM84.0 553.1h0.7v0.7h-0.7zM81.0 557.4h0.7v0.7h-0.7zM77.8 565.3h0.7v0.7h-0.7zM89.1 560.4h0.7v0.7h-0.7zM75.9 555.4h0.7v0.7h-0.7zM84.4 559.5h0.7v0.7h-0.7zM75.2 561.6h0.7v0.7h-0.7zM83.0 558.3h0.7v0.7h-0.7zM76.7 552.9h0.7v0.7h-0.7zM76.6 550.5h0.7v0.7h-0.7zM77.4 550.3h0.7v0.7h-0.7zM79.5 554.0h0.7v0.7h-0.7zM75.6 551.9h0.7v0.7h-0.7zM78.5 557.5h0.7v0.7h-0.7zM81.4 549.9h0.7v0.7h-0.7zM74.4 538.5h0.7v0.7h-0.7zM72.1 556.7h0.7v0.7h-0.7zM73.9 567.4h0.7v0.7h-0.7zM78.1 549.7h0.7v0.7h-0.7zM78.1 548.3h0.7v0.7h-0.7zM75.5 553.7h0.7v0.7h-0.7zM71.0 554.3h0.7v0.7h-0.7zM78.5 545.1h0.7v0.7h-0.7zM84.7 556.3h0.7v0.7h-0.7zM85.0 547.2h0.7v0.7h-0.7zM72.1 542.5h0.7v0.7h-0.7zM70.3 536.3h0.7v0.7h-0.7zM87.6 548.9h0.7v0.7h-0.7zM80.1 548.3h0.7v0.7h-0.7zM78.2 567.1h0.7v0.7h-0.7zM69.4 544.3h0.7v0.7h-0.7zM79.7 545.0h0.7v0.7h-0.7zM82.8 564.6h0.7v0.7h-0.7zM83.9 559.8h0.7v0.7h-0.7zM78.1 562.0h0.7v0.7h-0.7zM74.6 542.5h0.7v0.7h-0.7zM77.6 550.9h0.7v0.7h-0.7zM85.8 544.3h0.7v0.7h-0.7zM85.3 546.2h0.7v0.7h-0.7zM72.0 538.0h0.7v0.7h-0.7zM78.8 540.2h0.7v0.7h-0.7zM80.2 553.5h0.7v0.7h-0.7zM76.8 535.9h0.7v0.7h-0.7zM76.1 557.0h0.7v0.7h-0.7zM69.2 559.2h0.7v0.7h-0.7zM79.1 548.2h0.7v0.7h-0.7zM80.1 558.9h0.7v0.7h-0.7zM78.9 546.2h0.7v0.7h-0.7zM83.3 547.0h0.7v0.7h-0.7zM81.0 561.7h0.7v0.7h-0.7zM86.2 567.2h0.7v0.7h-0.7zM84.7 554.4h0.7v0.7h-0.7zM77.9 554.7h0.7v0.7h-0.7zM81.9 579.6h0.7v0.7h-0.7zM82.6 545.7h0.7v0.7h-0.7zM87.4 538.9h0.7v0.7h-0.7zM84.5 541.7h0.7v0.7h-0.7zM73.0 548.6h0.7v0.7h-0.7zM77.4 541.1h0.7v0.7h-0.7zM82.4 552.0h0.7v0.7h-0.7zM86.4 544.0h0.7v0.7h-0.7zM69.0 559.2h0.7v0.7h-0.7zM77.8 561.7h0.7v0.7h-0.7zM79.5 570.4h0.7v0.7h-0.7zM72.2 536.1h0.7v0.7h-0.7zM76.5 565.6h0.7v0.7h-0.7zM87.7 541.0h0.7v0.7h-0.7zM75.6 536.7h0.7v0.7h-0.7zM74.4 544.5h0.7v0.7h-0.7zM81.4 563.2h0.7v0.7h-0.7zM92.2 549.9h0.7v0.7h-0.7zM83.5 555.0h0.7v0.7h-0.7zM79.7 570.3h0.7v0.7h-0.7zM82.9 567.0h0.7v0.7h-0.7zM80.7 560.7h0.7v0.7h-0.7zM81.8 552.2h0.7v0.7h-0.7zM75.2 549.5h0.7v0.7h-0.7zM79.1 549.6h0.7v0.7h-0.7zM77.1 546.8h0.7v0.7h-0.7zM83.7 550.9h0.7v0.7h-0.7zM78.4 551.1h0.7v0.7h-0.7zM86.2 548.3h0.7v0.7h-0.7zM86.8 545.4h0.7v0.7h-0.7zM87.4 558.5h0.7v0.7h-0.7zM76.3 557.1h0.7v0.7h-0.7zM85.3 544.6h0.7v0.7h-0.7zM77.8 555.8h0.7v0.7h-0.7zM77.9 550.5h0.7v0.7h-0.7zM79.1 555.8h0.7v0.7h-0.7zM83.3 566.2h0.7v0.7h-0.7zM77.2 579.2h0.7v0.7h-0.7zM77.2 568.9h0.7v0.7h-0.7zM78.3 540.1h0.7v0.7h-0.7zM76.6 550.0h0.7v0.7h-0.7zM84.9 535.1h0.7v0.7h-0.7zM75.5 551.9h0.7v0.7h-0.7zM82.6 556.6h0.7v0.7h-0.7zM83.7 551.6h0.7v0.7h-0.7zM77.7 563.8h0.7v0.7h-0.7zM88.5 556.4h0.7v0.7h-0.7zM79.9 545.4h0.7v0.7h-0.7zM90.6 556.6h0.7v0.7h-0.7zM82.4 538.8h0.7v0.7h-0.7zM82.3 574.7h0.7v0.7h-0.7zM78.1 551.2h0.7v0.7h-0.7zM87.5 551.4h0.7v0.7h-0.7zM83.7 570.3h0.7v0.7h-0.7zM72.6 545.7h0.7v0.7h-0.7zM82.8 554.1h0.7v0.7h-0.7zM79.2 551.6h0.7v0.7h-0.7zM79.7 556.2h0.7v0.7h-0.7zM76.4 550.6h0.7v0.7h-0.7zM80.3 543.4h0.7v0.7h-0.7zM81.5 533.5h0.7v0.7h-0.7zM82.5 552.0h0.7v0.7h-0.7zM72.6 565.0h0.7v0.7h-0.7zM72.6 571.4h0.7v0.7h-0.7zM75.0 563.8h0.7v0.7h-0.7zM78.7 567.4h0.7v0.7h-0.7zM77.8 562.2h0.7v0.7h-0.7zM77.3 536.3h0.7v0.7h-0.7zM81.2 557.3h0.7v0.7h-0.7zM81.2 567.9h0.7v0.7h-0.7zM75.0 540.3h0.7v0.7h-0.7zM80.4 546.9h0.7v0.7h-0.7zM78.5 553.0h0.7v0.7h-0.7zM74.5 562.8h0.7v0.7h-0.7zM78.4 569.0h0.7v0.7h-0.7zM80.4 562.5h0.7v0.7h-0.7zM77.4 547.2h0.7v0.7h-0.7zM76.1 545.2h0.7v0.7h-0.7zM81.5 554.3h0.7v0.7h-0.7zM73.1 539.3h0.7v0.7h-0.7zM74.3 536.8h0.7v0.7h-0.7zM74.2 539.5h0.7v0.7h-0.7zM82.9 542.7h0.7v0.7h-0.7zM75.8 552.0h0.7v0.7h-0.7zM79.2 556.8h0.7v0.7h-0.7zM83.2 558.8h0.7v0.7h-0.7zM77.1 564.2h0.7v0.7h-0.7zM81.1 546.7h0.7v0.7h-0.7zM87.2 542.5h0.7v0.7h-0.7zM81.6 564.2h0.7v0.7h-0.7zM79.7 556.1h0.7v0.7h-0.7zM79.7 559.0h0.7v0.7h-0.7zM80.3 553.1h0.7v0.7h-0.7zM82.9 536.1h0.7v0.7h-0.7zM80.4 550.3h0.7v0.7h-0.7zM89.7 555.6h0.7v0.7h-0.7zM75.4 558.9h0.7v0.7h-0.7zM76.9 542.5h0.7v0.7h-0.7zM77.5 557.5h0.7v0.7h-0.7zM85.5 562.4h0.7v0.7h-0.7zM80.3 551.6h0.7v0.7h-0.7zM80.1 563.8h0.7v0.7h-0.7zM78.3 563.4h0.7v0.7h-0.7zM74.7 552.9h0.7v0.7h-0.7zM83.2 559.3h0.7v0.7h-0.7zM80.1 548.4h0.7v0.7h-0.7zM69.3 549.1h0.7v0.7h-0.7zM74.4 549.4h0.7v0.7h-0.7zM87.6 546.2h0.7v0.7h-0.7zM83.6 552.9h0.7v0.7h-0.7zM73.0 554.0h0.7v0.7h-0.7zM83.1 542.5h0.7v0.7h-0.7zM72.7 549.6h0.7v0.7h-0.7zM83.0 547.7h0.7v0.7h-0.7zM81.3 557.1h0.7v0.7h-0.7zM79.1 557.0h0.7v0.7h-0.7zM85.9 551.3h0.7v0.7h-0.7zM80.8 543.5h0.7v0.7h-0.7zM75.1 552.1h0.7v0.7h-0.7zM83.4 547.0h0.7v0.7h-0.7zM71.5 561.3h0.7v0.7h-0.7zM91.9 530.1h0.7v0.7h-0.7zM73.3 554.1h0.7v0.7h-0.7zM81.7 544.6h0.7v0.7h-0.7zM80.8 562.8h0.7v0.7h-0.7zM77.5 559.5h0.7v0.7h-0.7zM79.7 544.7h0.7v0.7h-0.7zM75.7 547.6h0.7v0.7h-0.7zM86.2 563.3h0.7v0.7h-0.7zM80.3 539.1h0.7v0.7h-0.7zM76.4 549.5h0.7v0.7h-0.7zM80.6 541.2h0.7v0.7h-0.7zM76.7 549.0h0.7v0.7h-0.7zM89.0 558.9h0.7v0.7h-0.7zM83.2 553.8h0.7v0.7h-0.7zM72.1 561.2h0.7v0.7h-0.7zM75.4 535.9h0.7v0.7h-0.7zM83.0 549.9h0.7v0.7h-0.7zM79.0 557.6h0.7v0.7h-0.7zM77.8 556.7h0.7v0.7h-0.7zM86.0 550.2h0.7v0.7h-0.7zM77.1 553.2h0.7v0.7h-0.7zM82.5 549.5h0.7v0.7h-0.7zM79.5 547.0h0.7v0.7h-0.7zM78.6 557.8h0.7v0.7h-0.7zM74.6 551.4h0.7v0.7h-0.7zM71.2 546.8h0.7v0.7h-0.7zM79.4 557.7h0.7v0.7h-0.7zM73.5 552.1h0.7v0.7h-0.7zM74.0 555.8h0.7v0.7h-0.7zM80.4 557.0h0.7v0.7h-0.7zM77.9 540.4h0.7v0.7h-0.7zM76.0 541.1h0.7v0.7h-0.7zM75.4 552.5h0.7v0.7h-0.7zM84.8 547.3h0.7v0.7h-0.7zM74.9 554.8h0.7v0.7h-0.7zM70.7 562.0h0.7v0.7h-0.7zM84.3 561.6h0.7v0.7h-0.7zM78.5 559.5h0.7v0.7h-0.7zM77.2 561.5h0.7v0.7h-0.7zM75.5 545.8h0.7v0.7h-0.7zM81.1 549.0h0.7v0.7h-0.7zM82.6 545.4h0.7v0.7h-0.7zM80.5 544.3h0.7v0.7h-0.7zM78.5 572.1h0.7v0.7h-0.7zM73.2 542.1h0.7v0.7h-0.7zM70.4 551.0h0.7v0.7h-0.7zM87.7 549.0h0.7v0.7h-0.7zM84.0 551.4h0.7v0.7h-0.7zM75.6 570.8h0.7v0.7h-0.7zM84.8 536.7h0.7v0.7h-0.7zM73.8 556.7h0.7v0.7h-0.7zM82.5 551.0h0.7v0.7h-0.7zM80.7 557.8h0.7v0.7h-0.7zM77.1 561.9h0.7v0.7h-0.7zM74.5 559.7h0.7v0.7h-0.7zM83.9 554.8h0.7v0.7h-0.7zM77.2 552.8h0.7v0.7h-0.7zM71.4 535.2h0.7v0.7h-0.7zM83.1 544.9h0.7v0.7h-0.7zM80.9 553.4h0.7v0.7h-0.7zM69.6 545.0h0.7v0.7h-0.7zM77.6 557.2h0.7v0.7h-0.7zM79.4 541.8h0.7v0.7h-0.7zM76.2 553.9h0.7v0.7h-0.7zM72.2 549.1h0.7v0.7h-0.7zM76.1 534.2h0.7v0.7h-0.7zM88.2 560.8h0.7v0.7h-0.7zM76.5 561.4h0.7v0.7h-0.7zM73.4 566.6h0.7v0.7h-0.7zM77.0 554.3h0.7v0.7h-0.7zM75.9 553.8h0.7v0.7h-0.7zM80.8 553.3h0.7v0.7h-0.7zM74.6 559.7h0.7v0.7h-0.7zM82.0 553.0h0.7v0.7h-0.7zM84.6 546.5h0.7v0.7h-0.7zM85.8 551.6h0.7v0.7h-0.7zM87.1 549.1h0.7v0.7h-0.7zM77.7 554.9h0.7v0.7h-0.7zM84.8 565.8h0.7v0.7h-0.7zM76.6 546.6h0.7v0.7h-0.7zM83.1 564.0h0.7v0.7h-0.7zM82.8 550.1h0.7v0.7h-0.7zM85.8 552.8h0.7v0.7h-0.7zM79.9 558.5h0.7v0.7h-0.7zM76.0 533.0h0.7v0.7h-0.7zM80.2 559.4h0.7v0.7h-0.7zM81.3 557.8h0.7v0.7h-0.7zM79.9 562.2h0.7v0.7h-0.7zM79.6 566.2h0.7v0.7h-0.7zM79.3 560.1h0.7v0.7h-0.7zM76.1 555.7h0.7v0.7h-0.7zM81.3 554.2h0.7v0.7h-0.7zM87.2 553.4h0.7v0.7h-0.7zM85.0 556.1h0.7v0.7h-0.7zM84.8 545.0h0.7v0.7h-0.7zM77.1 561.6h0.7v0.7h-0.7zM74.7 556.5h0.7v0.7h-0.7zM82.0 554.7h0.7v0.7h-0.7zM81.3 557.8h0.7v0.7h-0.7zM77.8 556.7h0.7v0.7h-0.7zM76.3 549.0h0.7v0.7h-0.7zM70.6 552.1h0.7v0.7h-0.7zM70.0 553.3h0.7v0.7h-0.7zM80.1 543.4h0.7v0.7h-0.7zM79.4 555.6h0.7v0.7h-0.7zM77.1 544.9h0.7v0.7h-0.7zM78.4 556.6h0.7v0.7h-0.7zM83.9 570.2h0.7v0.7h-0.7zM81.3 547.4h0.7v0.7h-0.7zM80.7 571.6h0.7v0.7h-0.7zM79.6 565.1h0.7v0.7h-0.7zM84.7 549.1h0.7v0.7h-0.7zM87.2 537.4h0.7v0.7h-0.7zM78.0 546.8h0.7v0.7h-0.7zM80.1 553.6h0.7v0.7h-0.7zM85.1 547.8h0.7v0.7h-0.7zM89.3 537.8h0.7v0.7h-0.7zM80.2 576.8h0.7v0.7h-0.7zM78.5 558.6h0.7v0.7h-0.7zM83.8 549.9h0.7v0.7h-0.7zM82.9 534.9h0.7v0.7h-0.7zM76.4 558.0h0.7v0.7h-0.7zM70.5 541.1h0.7v0.7h-0.7zM81.2 563.1h0.7v0.7h-0.7zM85.2 547.2h0.7v0.7h-0.7zM81.7 537.3h0.7v0.7h-0.7zM71.1 557.8h0.7v0.7h-0.7zM76.9 544.0h0.7v0.7h-0.7zM69.1 550.9h0.7v0.7h-0.7zM90.9 535.1h0.7v0.7h-0.7zM73.4 563.0h0.7v0.7h-0.7zM79.4 563.1h0.7v0.7h-0.7zM78.6 569.2h0.7v0.7h-0.7zM78.8 552.0h0.7v0.7h-0.7zM81.4 556.1h0.7v0.7h-0.7zM71.0 544.6h0.7v0.7h-0.7zM77.8 556.0h0.7v0.7h-0.7zM72.5 546.6h0.7v0.7h-0.7zM75.0 556.0h0.7v0.7h-0.7zM76.7 558.4h0.7v0.7h-0.7zM81.1 544.9h0.7v0.7h-0.7zM77.4 541.9h0.7v0.7h-0.7zM79.6 560.2h0.7v0.7h-0.7zM73.7 537.2h0.7v0.7h-0.7zM81.8 550.4h0.7v0.7h-0.7zM78.9 557.1h0.7v0.7h-0.7zM81.0 561.3h0.7v0.7h-0.7zM76.6 533.4h0.7v0.7h-0.7zM76.4 550.3h0.7v0.7h-0.7zM76.8 556.5h0.7v0.7h-0.7zM77.7 564.6h0.7v0.7h-0.7zM75.6 552.9h0.7v0.7h-0.7zM77.1 571.9h0.7v0.7h-0.7zM73.9 544.1h0.7v0.7h-0.7zM77.0 559.8h0.7v0.7h-0.7zM79.1 551.4h0.7v0.7h-0.7zM71.2 534.5h0.7v0.7h-0.7zM77.9 550.9h0.7v0.7h-0.7zM88.4 556.3h0.7v0.7h-0.7zM81.3 561.7h0.7v0.7h-0.7zM74.2 542.0h0.7v0.7h-0.7zM77.0 566.2h0.7v0.7h-0.7zM84.3 547.8h0.7v0.7h-0.7zM72.3 561.3h0.7v0.7h-0.7zM84.9 543.2h0.7v0.7h-0.7zM87.6 546.1h0.7v0.7h-0.7zM83.0 551.2h0.7v0.7h-0.7zM77.2 547.5h0.7v0.7h-0.7zM82.7 558.5h0.7v0.7h-0.7zM83.3 550.5h0.7v0.7h-0.7zM74.5 572.2h0.7v0.7h-0.7zM88.2 551.3h0.7v0.7h-0.7zM72.8 566.4h0.7v0.7h-0.7zM79.7 553.5h0.7v0.7h-0.7zM83.6 556.1h0.7v0.7h-0.7zM79.6 570.8h0.7v0.7h-0.7zM73.7 553.7h0.7v0.7h-0.7zM78.1 555.4h0.7v0.7h-0.7zM91.5 549.3h0.7v0.7h-0.7zM83.9 558.6h0.7v0.7h-0.7zM80.6 548.5h0.7v0.7h-0.7zM82.4 555.4h0.7v0.7h-0.7zM86.8 560.5h0.7v0.7h-0.7zM75.2 526.9h0.7v0.7h-0.7zM87.1 557.4h0.7v0.7h-0.7zM79.9 547.6h0.7v0.7h-0.7zM92.5 565.0h0.7v0.7h-0.7zM79.5 549.7h0.7v0.7h-0.7zM82.1 565.2h0.7v0.7h-0.7zM81.8 561.5h0.7v0.7h-0.7zM80.4 556.2h0.7v0.7h-0.7zM72.2 554.1h0.7v0.7h-0.7zM79.3 552.3h0.7v0.7h-0.7zM77.7 555.8h0.7v0.7h-0.7zM75.9 551.2h0.7v0.7h-0.7zM71.9 573.7h0.7v0.7h-0.7zM74.2 542.2h0.7v0.7h-0.7zM76.1 549.3h0.7v0.7h-0.7zM73.2 531.1h0.7v0.7h-0.7zM87.9 562.2h0.7v0.7h-0.7zM76.9 558.0h0.7v0.7h-0.7zM73.0 538.5h0.7v0.7h-0.7zM80.8 558.2h0.7v0.7h-0.7zM75.3 553.0h0.7v0.7h-0.7zM84.7 554.5h0.7v0.7h-0.7zM80.0 558.2h0.7v0.7h-0.7zM72.1 555.2h0.7v0.7h-0.7zM75.6 536.1h0.7v0.7h-0.7zM83.8 551.3h0.7v0.7h-0.7zM84.4 571.0h0.7v0.7h-0.7zM70.0 541.6h0.7v0.7h-0.7zM84.9 565.7h0.7v0.7h-0.7zM81.2 556.2h0.7v0.7h-0.7zM82.8 558.9h0.7v0.7h-0.7zM72.1 559.7h0.7v0.7h-0.7zM84.4 549.4h0.7v0.7h-0.7zM74.0 548.6h0.7v0.7h-0.7zM75.8 557.7h0.7v0.7h-0.7zM83.2 553.2h0.7v0.7h-0.7zM77.3 537.1h0.7v0.7h-0.7zM76.7 544.1h0.7v0.7h-0.7zM76.0 556.1h0.7v0.7h-0.7zM74.2 548.2h0.7v0.7h-0.7zM72.7 550.7h0.7v0.7h-0.7zM77.4 562.0h0.7v0.7h-0.7zM82.5 548.3h0.7v0.7h-0.7zM75.3 554.8h0.7v0.7h-0.7zM81.8 551.6h0.7v0.7h-0.7zM78.1 553.2h0.7v0.7h-0.7zM73.1 555.4h0.7v0.7h-0.7zM82.1 553.5h0.7v0.7h-0.7zM72.8 553.0h0.7v0.7h-0.7zM78.4 555.8h0.7v0.7h-0.7zM76.7 560.4h0.7v0.7h-0.7zM84.9 560.4h0.7v0.7h-0.7zM80.3 563.9h0.7v0.7h-0.7zM78.8 551.5h0.7v0.7h-0.7zM71.2 553.2h0.7v0.7h-0.7zM85.6 544.5h0.7v0.7h-0.7zM83.2 541.7h0.7v0.7h-0.7zM80.6 569.3h0.7v0.7h-0.7zM79.2 542.6h0.7v0.7h-0.7zM80.6 551.7h0.7v0.7h-0.7zM83.3 548.4h0.7v0.7h-0.7zM69.5 548.8h0.7v0.7h-0.7zM82.2 562.1h0.7v0.7h-0.7zM80.5 553.2h0.7v0.7h-0.7zM82.7 551.3h0.7v0.7h-0.7zM76.5 555.0h0.7v0.7h-0.7zM85.0 548.6h0.7v0.7h-0.7zM81.7 547.3h0.7v0.7h-0.7zM75.0 554.6h0.7v0.7h-0.7zM71.7 545.5h0.7v0.7h-0.7zM72.5 547.7h0.7v0.7h-0.7zM74.0 573.6h0.7v0.7h-0.7zM82.3 553.7h0.7v0.7h-0.7zM71.7 532.0h0.7v0.7h-0.7zM81.4 547.5h0.7v0.7h-0.7zM84.7 549.5h0.7v0.7h-0.7zM71.8 547.4h0.7v0.7h-0.7zM70.6 540.5h0.7v0.7h-0.7zM82.9 548.3h0.7v0.7h-0.7zM82.7 548.1h0.7v0.7h-0.7zM77.7 548.2h0.7v0.7h-0.7zM76.0 547.2h0.7v0.7h-0.7zM87.1 552.5h0.7v0.7h-0.7zM85.8 562.9h0.7v0.7h-0.7zM78.4 551.7h0.7v0.7h-0.7zM76.3 554.1h0.7v0.7h-0.7zM81.5 553.0h0.7v0.7h-0.7zM74.5 544.5h0.7v0.7h-0.7zM88.1 567.9h0.7v0.7h-0.7zM72.2 547.4h0.7v0.7h-0.7zM78.7 558.2h0.7v0.7h-0.7zM78.3 555.1h0.7v0.7h-0.7zM80.9 563.0h0.7v0.7h-0.7zM71.8 562.7h0.7v0.7h-0.7zM81.4 557.8h0.7v0.7h-0.7zM70.7 551.0h0.7v0.7h-0.7zM77.5 558.6h0.7v0.7h-0.7zM82.7 559.1h0.7v0.7h-0.7zM71.9 564.1h0.7v0.7h-0.7zM79.3 561.2h0.7v0.7h-0.7zM78.9 546.9h0.7v0.7h-0.7zM93.3 558.8h0.7v0.7h-0.7zM83.1 549.0h0.7v0.7h-0.7zM77.7 562.8h0.7v0.7h-0.7zM81.4 568.3h0.7v0.7h-0.7zM85.5 543.6h0.7v0.7h-0.7zM70.5 563.2h0.7v0.7h-0.7zM82.2 550.8h0.7v0.7h-0.7zM77.3 548.2h0.7v0.7h-0.7zM88.8 551.6h0.7v0.7h-0.7zM71.4 561.0h0.7v0.7h-0.7zM78.5 556.1h0.7v0.7h-0.7zM76.8 552.7h0.7v0.7h-0.7zM75.2 549.7h0.7v0.7h-0.7zM80.7 564.2h0.7v0.7h-0.7zM81.9 561.9h0.7v0.7h-0.7zM73.9 555.8h0.7v0.7h-0.7zM81.1 561.1h0.7v0.7h-0.7zM75.5 551.4h0.7v0.7h-0.7zM76.1 562.9h0.7v0.7h-0.7zM84.9 549.2h0.7v0.7h-0.7zM78.2 555.0h0.7v0.7h-0.7zM74.0 552.1h0.7v0.7h-0.7zM83.7 559.8h0.7v0.7h-0.7zM75.2 547.4h0.7v0.7h-0.7zM78.3 540.3h0.7v0.7h-0.7zM80.6 554.1h0.7v0.7h-0.7zM71.6 551.0h0.7v0.7h-0.7zM75.3 550.7h0.7v0.7h-0.7zM74.1 564.9h0.7v0.7h-0.7zM73.6 559.7h0.7v0.7h-0.7zM80.0 565.6h0.7v0.7h-0.7zM78.6 553.1h0.7v0.7h-0.7zM79.3 536.8h0.7v0.7h-0.7zM92.1 551.2h0.7v0.7h-0.7zM77.2 543.4h0.7v0.7h-0.7zM78.2 567.0h0.7v0.7h-0.7zM74.8 556.9h0.7v0.7h-0.7zM84.6 561.2h0.7v0.7h-0.7zM76.7 538.1h0.7v0.7h-0.7zM81.1 558.0h0.7v0.7h-0.7zM77.1 549.4h0.7v0.7h-0.7zM88.5 539.5h0.7v0.7h-0.7zM76.1 547.9h0.7v0.7h-0.7zM70.3 547.1h0.7v0.7h-0.7zM74.5 563.8h0.7v0.7h-0.7zM69.3 541.3h0.7v0.7h-0.7zM80.3 539.8h0.7v0.7h-0.7zM72.3 544.7h0.7v0.7h-0.7zM78.0 557.0h0.7v0.7h-0.7zM75.4 550.7h0.7v0.7h-0.7zM82.8 551.8h0.7v0.7h-0.7zM82.9 548.1h0.7v0.7h-0.7zM81.6 564.0h0.7v0.7h-0.7zM71.3 578.8h0.7v0.7h-0.7zM77.1 550.2h0.7v0.7h-0.7zM78.0 557.1h0.7v0.7h-0.7zM72.3 553.4h0.7v0.7h-0.7z" fill="#3434cc" fill-opacity="0.65"/>
<path d="M76.9 557.8h0.7v0.7h-0.7zM72.9 554.1h0.7v0.7h-0.7zM77.8 547.5h0.7v0.7h-0.7zM79.4 549.9h0.7v0.7h-0.7zM79.1 552.2h0.7v0.7h-0.7zM83.1 549.1h0.7v0.7h-0.7zM84.8 538.2h0.7v0.7h-0.7zM85.3 556.8h0.7v0.7h-0.7zM84.4 552.0h0.7v0.7h-0.7zM79.9 546.3h0.7v0.7h-0.7zM83.6 545.6h0.7v0.7h-0.7zM76.2 551.1h0.7v0.7h-0.7zM79.8 552.7h0.7v0.7h-0.7zM74.9 549.4h0.7v0.7h-0.7zM80.6 556.7h0.7v0.7h-0.7zM81.6 553.0h0.7v0.7h-0.7zM78.0 548.5h0.7v0.7h-0.7zM77.1 550.6h0.7v0.7h-0.7zM80.8 548.7h0.7v0.7h-0.7zM86.1 546.3h0.7v0.7h-0.7zM81.8 550.1h0.7v0.7h-0.7zM78.4 549.3h0.7v0.7h-0.7zM84.3 549.7h0.7v0.7h-0.7zM80.9 551.6h0.7v0.7h-0.7zM81.5 553.8h0.7v0.7h-0.7zM84.7 547.6h0.7v0.7h-0.7zM76.1 559.1h0.7v0.7h-0.7zM83.4 551.4h0.7v0.7h-0.7zM77.9 552.3h0.7v0.7h-0.7zM83.5 547.4h0.7v0.7h-0.7zM84.0 550.8h0.7v0.7h-0.7zM77.7 549.2h0.7v0.7h-0.7zM71.6 552.6h0.7v0.7h-0.7zM74.3 548.4h0.7v0.7h-0.7zM75.8 552.2h0.7v0.7h-0.7zM81.5 551.3h0.7v0.7h-0.7zM79.6 553.0h0.7v0.7h-0.7zM84.5 553.8h0.7v0.7h-0.7zM84.4 550.8h0.7v0.7h-0.7zM80.2 548.0h0.7v0.7h-0.7zM81.0 547.0h0.7v0.7h-0.7zM80.6 548.1h0.7v0.7h-0.7zM77.7 556.8h0.7v0.7h-0.7zM79.4 554.8h0.7v0.7h-0.7zM78.1 542.3h0.7v0.7h-0.7zM84.1 550.2h0.7v0.7h-0.7zM76.7 555.5h0.7v0.7h-0.7zM75.0 547.6h0.7v0.7h-0.7zM82.9 547.8h0.7v0.7h-0.7zM82.9 549.6h0.7v0.7h-0.7zM78.2 551.4h0.7v0.7h-0.7zM77.2 556.1h0.7v0.7h-0.7zM82.8 551.4h0.7v0.7h-0.7zM81.1 553.6h0.7v0.7h-0.7zM84.8 543.6h0.7v0.7h-0.7zM82.5 555.4h0.7v0.7h-0.7zM77.8 551.1h0.7v0.7h-0.7zM77.7 556.9h0.7v0.7h-0.7zM74.9 553.9h0.7v0.7h-0.7zM83.4 553.8h0.7v0.7h-0.7zM77.3 548.9h0.7v0.7h-0.7zM71.6 546.2h0.7v0.7h-0.7zM82.8 546.6h0.7v0.7h-0.7zM73.2 549.9h0.7v0.7h-0.7zM73.7 553.2h0.7v0.7h-0.7zM75.9 555.6h0.7v0.7h-0.7zM78.5 544.4h0.7v0.7h-0.7zM76.2 548.0h0.7v0.7h-0.7zM76.0 556.9h0.7v0.7h-0.7zM75.4 552.8h0.7v0.7h-0.7zM76.9 553.9h0.7v0.7h-0.7zM74.0 543.7h0.7v0.7h-0.7zM80.7 557.8h0.7v0.7h-0.7zM74.1 549.6h0.7v0.7h-0.7zM77.2 546.7h0.7v0.7h-0.7zM82.3 551.3h0.7v0.7h-0.7zM74.1 550.1h0.7v0.7h-0.7zM83.6 547.7h0.7v0.7h-0.7zM77.1 547.2h0.7v0.7h-0.7zM79.5 548.5h0.7v0.7h-0.7zM82.0 547.2h0.7v0.7h-0.7zM73.9 553.2h0.7v0.7h-0.7zM79.9 552.2h0.7v0.7h-0.7zM76.9 549.0h0.7v0.7h-0.7zM80.8 568.6h0.7v0.7h-0.7zM76.1 550.2h0.7v0.7h-0.7zM77.3 553.7h0.7v0.7h-0.7zM79.0 553.7h0.7v0.7h-0.7zM84.6 549.8h0.7v0.7h-0.7zM77.9 552.9h0.7v0.7h-0.7zM86.3 549.4h0.7v0.7h-0.7zM84.8 556.7h0.7v0.7h-0.7zM69.4 546.4h0.7v0.7h-0.7zM75.5 553.0h0.7v0.7h-0.7zM83.6 551.3h0.7v0.7h-0.7zM79.5 561.3h0.7v0.7h-0.7zM80.2 561.2h0.7v0.7h-0.7zM75.8 558.8h0.7v0.7h-0.7zM77.2 539.7h0.7v0.7h-0.7zM76.1 548.9h0.7v0.7h-0.7zM78.8 554.6h0.7v0.7h-0.7zM81.4 553.5h0.7v0.7h-0.7zM76.3 559.5h0.7v0.7h-0.7zM83.1 551.3h0.7v0.7h-0.7zM76.9 550.9h0.7v0.7h-0.7zM78.2 547.8h0.7v0.7h-0.7zM78.9 548.0h0.7v0.7h-0.7zM81.2 548.0h0.7v0.7h-0.7zM80.7 552.6h0.7v0.7h-0.7zM79.5 553.6h0.7v0.7h-0.7zM75.4 563.2h0.7v0.7h-0.7zM76.5 554.5h0.7v0.7h-0.7zM79.0 549.0h0.7v0.7h-0.7zM85.0 556.3h0.7v0.7h-0.7zM78.0 553.7h0.7v0.7h-0.7zM81.3 558.5h0.7v0.7h-0.7zM82.5 550.3h0.7v0.7h-0.7zM78.1 545.6h0.7v0.7h-0.7zM79.9 555.2h0.7v0.7h-0.7zM77.6 554.2h0.7v0.7h-0.7zM79.4 548.9h0.7v0.7h-0.7zM74.7 556.3h0.7v0.7h-0.7zM87.8 553.7h0.7v0.7h-0.7zM75.2 546.2h0.7v0.7h-0.7zM79.8 554.2h0.7v0.7h-0.7zM84.3 539.7h0.7v0.7h-0.7zM85.4 551.9h0.7v0.7h-0.7zM79.4 552.9h0.7v0.7h-0.7zM77.7 549.7h0.7v0.7h-0.7zM82.6 542.9h0.7v0.7h-0.7zM78.6 553.7h0.7v0.7h-0.7zM73.2 550.3h0.7v0.7h-0.7zM84.3 552.8h0.7v0.7h-0.7zM81.4 554.4h0.7v0.7h-0.7zM79.7 552.8h0.7v0.7h-0.7zM76.1 550.1h0.7v0.7h-0.7zM85.4 545.3h0.7v0.7h-0.7zM78.4 545.1h0.7v0.7h-0.7zM77.1 547.4h0.7v0.7h-0.7zM74.7 552.2h0.7v0.7h-0.7zM75.7 553.6h0.7v0.7h-0.7zM85.3 539.0h0.7v0.7h-0.7zM78.4 541.2h0.7v0.7h-0.7zM78.5 552.8h0.7v0.7h-0.7zM79.7 556.8h0.7v0.7h-0.7zM79.5 542.9h0.7v0.7h-0.7zM84.2 546.6h0.7v0.7h-0.7zM78.6 552.6h0.7v0.7h-0.7zM75.9 551.5h0.7v0.7h-0.7zM84.2 543.1h0.7v0.7h-0.7zM73.1 549.0h0.7v0.7h-0.7zM78.4 545.0h0.7v0.7h-0.7zM70.9 555.4h0.7v0.7h-0.7zM80.3 544.8h0.7v0.7h-0.7zM81.0 550.8h0.7v0.7h-0.7zM79.5 544.7h0.7v0.7h-0.7zM78.2 553.3h0.7v0.7h-0.7zM72.8 546.1h0.7v0.7h-0.7zM82.4 560.6h0.7v0.7h-0.7zM81.3 550.7h0.7v0.7h-0.7zM75.2 549.1h0.7v0.7h-0.7zM78.1 553.2h0.7v0.7h-0.7zM78.1 562.8h0.7v0.7h-0.7zM83.6 540.6h0.7v0.7h-0.7zM74.9 551.1h0.7v0.7h-0.7zM82.4 553.0h0.7v0.7h-0.7zM69.3 543.2h0.7v0.7h-0.7zM83.7 553.9h0.7v0.7h-0.7zM88.0 554.9h0.7v0.7h-0.7zM80.6 558.3h0.7v0.7h-0.7zM77.4 548.5h0.7v0.7h-0.7zM75.4 552.2h0.7v0.7h-0.7zM80.5 555.5h0.7v0.7h-0.7zM84.1 554.0h0.7v0.7h-0.7zM83.3 549.9h0.7v0.7h-0.7zM75.6 554.5h0.7v0.7h-0.7zM82.5 557.4h0.7v0.7h-0.7zM78.4 548.8h0.7v0.7h-0.7zM77.7 552.8h0.7v0.7h-0.7zM78.8 550.2h0.7v0.7h-0.7zM79.9 549.7h0.7v0.7h-0.7zM80.2 548.2h0.7v0.7h-0.7zM73.6 549.6h0.7v0.7h-0.7zM85.6 547.2h0.7v0.7h-0.7zM82.2 557.5h0.7v0.7h-0.7zM77.1 552.3h0.7v0.7h-0.7zM71.0 553.8h0.7v0.7h-0.7zM84.4 551.9h0.7v0.7h-0.7zM72.0 548.3h0.7v0.7h-0.7zM76.4 551.6h0.7v0.7h-0.7zM80.0 549.1h0.7v0.7h-0.7zM77.9 547.1h0.7v0.7h-0.7zM81.0 552.0h0.7v0.7h-0.7zM80.2 548.6h0.7v0.7h-0.7zM80.7 549.6h0.7v0.7h-0.7zM80.0 550.3h0.7v0.7h-0.7zM76.7 545.8h0.7v0.7h-0.7zM72.5 544.5h0.7v0.7h-0.7zM80.6 566.7h0.7v0.7h-0.7zM73.2 547.1h0.7v0.7h-0.7zM79.0 568.2h0.7v0.7h-0.7zM78.3 545.5h0.7v0.7h-0.7zM80.5 561.1h0.7v0.7h-0.7zM69.2 545.4h0.7v0.7h-0.7zM83.3 545.5h0.7v0.7h-0.7zM78.6 548.0h0.7v0.7h-0.7zM81.7 544.1h0.7v0.7h-0.7zM80.1 552.1h0.7v0.7h-0.7zM81.0 553.1h0.7v0.7h-0.7zM79.5 542.5h0.7v0.7h-0.7zM77.9 546.5h0.7v0.7h-0.7zM80.9 549.9h0.7v0.7h-0.7zM79.5 556.3h0.7v0.7h-0.7zM78.6 559.1h0.7v0.7h-0.7zM81.9 543.9h0.7v0.7h-0.7zM76.9 556.9h0.7v0.7h-0.7zM77.2 556.8h0.7v0.7h-0.7zM77.0 550.4h0.7v0.7h-0.7zM82.6 543.4h0.7v0.7h-0.7zM79.3 548.8h0.7v0.7h-0.7zM79.6 559.3h0.7v0.7h-0.7zM80.7 544.5h0.7v0.7h-0.7zM82.4 548.8h0.7v0.7h-0.7zM79.6 556.6h0.7v0.7h-0.7zM77.9 555.6h0.7v0.7h-0.7zM79.6 546.7h0.7v0.7h-0.7zM77.9 544.5h0.7v0.7h-0.7zM83.1 551.8h0.7v0.7h-0.7zM82.4 545.6h0.7v0.7h-0.7zM82.0 545.3h0.7v0.7h-0.7zM80.0 551.0h0.7v0.7h-0.7zM76.9 552.5h0.7v0.7h-0.7zM79.1 546.8h0.7v0.7h-0.7zM76.4 544.7h0.7v0.7h-0.7zM83.8 551.7h0.7v0.7h-0.7zM77.7 554.4h0.7v0.7h-0.7zM76.0 545.4h0.7v0.7h-0.7zM80.2 558.7h0.7v0.7h-0.7zM80.1 551.8h0.7v0.7h-0.7zM85.1 543.5h0.7v0.7h-0.7zM89.7 545.7h0.7v0.7h-0.7zM78.7 544.5h0.7v0.7h-0.7zM74.7 549.9h0.7v0.7h-0.7zM87.6 546.5h0.7v0.7h-0.7zM76.8 552.3h0.7v0.7h-0.7zM75.4 549.8h0.7v0.7h-0.7zM81.9 540.5h0.7v0.7h-0.7zM77.9 549.6h0.7v0.7h-0.7zM77.2 550.4h0.7v0.7h-0.7zM72.7 548.9h0.7v0.7h-0.7zM77.2 546.0h0.7v0.7h-0.7zM83.4 560.7h0.7v0.7h-0.7zM81.8 546.8h0.7v0.7h-0.7zM84.0 553.4h0.7v0.7h-0.7zM76.1 553.9h0.7v0.7h-0.7zM77.0 553.8h0.7v0.7h-0.7zM82.2 556.6h0.7v0.7h-0.7zM75.3 550.4h0.7v0.7h-0.7zM79.0 545.1h0.7v0.7h-0.7zM80.5 554.4h0.7v0.7h-0.7zM74.2 548.3h0.7v0.7h-0.7zM75.1 544.8h0.7v0.7h-0.7zM75.3 557.7h0.7v0.7h-0.7zM76.7 549.1h0.7v0.7h-0.7zM82.5 556.0h0.7v0.7h-0.7zM83.9 540.9h0.7v0.7h-0.7zM81.6 542.5h0.7v0.7h-0.7zM76.8 549.0h0.7v0.7h-0.7zM77.0 560.5h0.7v0.7h-0.7zM78.4 556.7h0.7v0.7h-0.7zM78.4 550.7h0.7v0.7h-0.7zM80.8 553.1h0.7v0.7h-0.7zM80.8 542.6h0.7v0.7h-0.7zM80.8 552.6h0.7v0.7h-0.7zM81.1 550.7h0.7v0.7h-0.7zM80.4 544.7h0.7v0.7h-0.7zM83.0 545.1h0.7v0.7h-0.7zM83.9 555.9h0.7v0.7h-0.7zM78.8 549.6h0.7v0.7h-0.7zM81.7 549.5h0.7v0.7h-0.7zM74.8 552.4h0.7v0.7h-0.7zM74.7 548.8h0.7v0.7h-0.7zM85.3 554.9h0.7v0.7h-0.7zM77.4 550.7h0.7v0.7h-0.7zM76.7 550.9h0.7v0.7h-0.7zM73.9 554.3h0.7v0.7h-0.7zM79.0 548.0h0.7v0.7h-0.7zM76.8 563.8h0.7v0.7h-0.7zM77.4 548.7h0.7v0.7h-0.7zM77.0 548.6h0.7v0.7h-0.7zM83.6 554.3h0.7v0.7h-0.7zM80.5 552.8h0.7v0.7h-0.7zM75.0 539.3h0.7v0.7h-0.7zM84.3 554.5h0.7v0.7h-0.7zM79.8 552.4h0.7v0.7h-0.7zM79.7 551.1h0.7v0.7h-0.7zM78.1 540.2h0.7v0.7h-0.7zM81.0 551.2h0.7v0.7h-0.7zM82.4 552.5h0.7v0.7h-0.7zM78.0 553.9h0.7v0.7h-0.7zM79.7 548.8h0.7v0.7h-0.7zM77.7 548.9h0.7v0.7h-0.7zM78.0 548.8h0.7v0.7h-0.7zM82.4 565.2h0.7v0.7h-0.7zM78.6 556.4h0.7v0.7h-0.7zM72.1 535.3h0.7v0.7h-0.7zM77.3 550.2h0.7v0.7h-0.7zM76.4 544.4h0.7v0.7h-0.7zM76.0 548.5h0.7v0.7h-0.7zM79.5 549.4h0.7v0.7h-0.7zM74.8 549.2h0.7v0.7h-0.7zM84.3 546.7h0.7v0.7h-0.7zM79.2 555.9h0.7v0.7h-0.7zM76.2 548.2h0.7v0.7h-0.7zM89.1 557.0h0.7v0.7h-0.7zM77.2 551.8h0.7v0.7h-0.7zM79.4 551.7h0.7v0.7h-0.7zM80.6 549.5h0.7v0.7h-0.7zM71.2 546.3h0.7v0.7h-0.7zM79.5 544.4h0.7v0.7h-0.7zM77.9 558.3h0.7v0.7h-0.7zM79.8 547.8h0.7v0.7h-0.7zM79.5 556.1h0.7v0.7h-0.7zM73.0 544.9h0.7v0.7h-0.7zM76.7 548.9h0.7v0.7h-0.7zM78.7 548.2h0.7v0.7h-0.7zM79.4 551.4h0.7v0.7h-0.7zM74.9 548.0h0.7v0.7h-0.7zM74.7 552.4h0.7v0.7h-0.7zM79.9 554.2h0.7v0.7h-0.7zM75.9 548.4h0.7v0.7h-0.7zM71.2 551.1h0.7v0.7h-0.7zM73.3 552.7h0.7v0.7h-0.7zM82.8 553.2h0.7v0.7h-0.7zM81.2 552.1h0.7v0.7h-0.7zM80.3 555.6h0.7v0.7h-0.7zM83.4 560.8h0.7v0.7h-0.7zM78.1 555.0h0.7v0.7h-0.7zM82.0 553.1h0.7v0.7h-0.7zM79.9 544.9h0.7v0.7h-0.7zM82.8 546.7h0.7v0.7h-0.7zM76.7 546.9h0.7v0.7h-0.7zM81.0 546.3h0.7v0.7h-0.7zM80.6 553.7h0.7v0.7h-0.7zM79.4 549.3h0.7v0.7h-0.7zM81.1 557.4h0.7v0.7h-0.7zM77.4 545.9h0.7v0.7h-0.7zM76.9 546.7h0.7v0.7h-0.7zM78.2 550.2h0.7v0.7h-0.7z" fill="#2222c0" fill-opacity="0.65"/>
<path d="M75.1 562.3h0.7v0.7h-0.7zM73.9 568.0h0.7v0.7h-0.7zM85.1 550.2h0.7v0.7h-0.7zM81.3 579.2h0.7v0.7h-0.7zM78.3 574.0h0.7v0.7h-0.7zM81.9 557.9h0.7v0.7h-0.7zM85.9 560.7h0.7v0.7h-0.7zM82.1 562.5h0.7v0.7h-0.7zM78.7 567.3h0.7v0.7h-0.7zM87.9 551.3h0.7v0.7h-0.7zM73.3 566.9h0.7v0.7h-0.7zM85.8 564.4h0.7v0.7h-0.7zM78.9 570.6h0.7v0.7h-0.7zM89.4 558.1h0.7v0.7h-0.7zM70.4 563.5h0.7v0.7h-0.7zM84.6 554.5h0.7v0.7h-0.7zM86.7 574.2h0.7v0.7h-0.7zM84.7 558.6h0.7v0.7h-0.7zM72.3 571.7h0.7v0.7h-0.7zM81.6 572.0h0.7v0.7h-0.7zM71.9 540.2h0.7v0.7h-0.7zM86.7 574.7h0.7v0.7h-0.7zM78.3 565.9h0.7v0.7h-0.7zM82.7 572.5h0.7v0.7h-0.7zM78.9 561.5h0.7v0.7h-0.7zM74.2 574.9h0.7v0.7h-0.7zM80.6 536.3h0.7v0.7h-0.7zM82.1 561.0h0.7v0.7h-0.7zM72.4 561.5h0.7v0.7h-0.7zM72.3 562.1h0.7v0.7h-0.7zM76.7 570.5h0.7v0.7h-0.7zM73.9 550.1h0.7v0.7h-0.7zM76.4 554.0h0.7v0.7h-0.7zM84.4 564.2h0.7v0.7h-0.7zM70.0 558.4h0.7v0.7h-0.7zM79.8 565.6h0.7v0.7h-0.7zM81.8 574.6h0.7v0.7h-0.7zM86.6 564.9h0.7v0.7h-0.7zM72.2 562.7h0.7v0.7h-0.7zM83.9 558.0h0.7v0.7h-0.7zM87.5 557.6h0.7v0.7h-0.7zM73.3 573.2h0.7v0.7h-0.7zM79.4 568.8h0.7v0.7h-0.7zM78.2 566.3h0.7v0.7h-0.7zM83.9 564.9h0.7v0.7h-0.7zM82.8 573.3h0.7v0.7h-0.7zM76.8 567.5h0.7v0.7h-0.7zM81.2 561.1h0.7v0.7h-0.7zM75.4 564.2h0.7v0.7h-0.7zM78.2 562.4h0.7v0.7h-0.7zM83.9 566.6h0.7v0.7h-0.7zM90.3 573.5h0.7v0.7h-0.7zM77.9 560.1h0.7v0.7h-0.7zM83.0 562.7h0.7v0.7h-0.7zM70.3 567.0h0.7v0.7h-0.7zM78.2 564.0h0.7v0.7h-0.7zM83.7 567.7h0.7v0.7h-0.7zM92.1 559.5h0.7v0.7h-0.7zM79.4 568.7h0.7v0.7h-0.7zM77.4 561.5h0.7v0.7h-0.7zM90.5 553.3h0.7v0.7h-0.7zM82.1 550.7h0.7v0.7h-0.7zM82.0 549.3h0.7v0.7h-0.7zM73.0 575.9h0.7v0.7h-0.7zM89.2 567.1h0.7v0.7h-0.7zM81.5 556.4h0.7v0.7h-0.7zM77.9 554.5h0.7v0.7h-0.7zM79.4 565.2h0.7v0.7h-0.7zM80.7 572.9h0.7v0.7h-0.7zM76.1 546.8h0.7v0.7h-0.7zM73.0 555.0h0.7v0.7h-0.7zM77.8 562.2h0.7v0.7h-0.7zM79.7 577.9h0.7v0.7h-0.7zM80.2 556.6h0.7v0.7h-0.7zM78.2 558.4h0.7v0.7h-0.7zM78.6 571.0h0.7v0.7h-0.7zM73.2 572.1h0.7v0.7h-0.7zM90.7 579.2h0.7v0.7h-0.7zM89.7 566.8h0.7v0.7h-0.7zM79.7 568.0h0.7v0.7h-0.7zM77.9 557.8h0.7v0.7h-0.7zM83.7 553.9h0.7v0.7h-0.7zM71.8 570.8h0.7v0.7h-0.7zM77.8 558.7h0.7v0.7h-0.7zM83.0 578.3h0.7v0.7h-0.7zM78.3 564.8h0.7v0.7h-0.7zM83.3 574.1h0.7v0.7h-0.7zM86.2 571.9h0.7v0.7h-0.7zM76.0 570.6h0.7v0.7h-0.7zM80.0 551.3h0.7v0.7h-0.7zM87.4 571.0h0.7v0.7h-0.7zM88.2 565.4h0.7v0.7h-0.7zM84.3 565.4h0.7v0.7h-0.7zM81.0 573.9h0.7v0.7h-0.7zM80.3 571.3h0.7v0.7h-0.7zM79.8 576.6h0.7v0.7h-0.7zM83.9 551.7h0.7v0.7h-0.7zM89.9 569.8h0.7v0.7h-0.7zM76.9 560.6h0.7v0.7h-0.7zM91.9 566.8h0.7v0.7h-0.7zM83.0 571.2h0.7v0.7h-0.7zM92.6 559.3h0.7v0.7h-0.7zM86.8 551.9h0.7v0.7h-0.7zM78.0 566.5h0.7v0.7h-0.7zM80.3 570.9h0.7v0.7h-0.7zM82.4 569.2h0.7v0.7h-0.7zM79.2 568.6h0.7v0.7h-0.7zM80.4 576.7h0.7v0.7h-0.7zM80.6 564.7h0.7v0.7h-0.7zM78.9 554.9h0.7v0.7h-0.7zM92.4 569.6h0.7v0.7h-0.7zM80.8 562.0h0.7v0.7h-0.7zM87.6 563.2h0.7v0.7h-0.7zM77.3 561.3h0.7v0.7h-0.7zM89.2 568.7h0.7v0.7h-0.7zM79.1 560.5h0.7v0.7h-0.7zM87.7 568.5h0.7v0.7h-0.7zM78.0 573.7h0.7v0.7h-0.7zM85.2 557.4h0.7v0.7h-0.7zM86.9 575.4h0.7v0.7h-0.7zM78.6 554.5h0.7v0.7h-0.7zM86.5 563.1h0.7v0.7h-0.7zM78.8 563.5h0.7v0.7h-0.7zM78.4 573.2h0.7v0.7h-0.7zM73.5 570.6h0.7v0.7h-0.7zM86.9 575.1h0.7v0.7h-0.7zM84.3 568.3h0.7v0.7h-0.7zM78.9 565.0h0.7v0.7h-0.7zM79.3 557.3h0.7v0.7h-0.7zM85.0 579.0h0.7v0.7h-0.7zM81.7 563.3h0.7v0.7h-0.7zM73.4 571.6h0.7v0.7h-0.7zM78.6 560.3h0.7v0.7h-0.7zM83.6 554.9h0.7v0.7h-0.7zM84.4 545.1h0.7v0.7h-0.7zM76.4 553.7h0.7v0.7h-0.7zM78.6 572.9h0.7v0.7h-0.7zM72.3 577.7h0.7v0.7h-0.7zM76.0 561.9h0.7v0.7h-0.7zM85.9 559.8h0.7v0.7h-0.7zM88.7 564.3h0.7v0.7h-0.7zM79.5 557.8h0.7v0.7h-0.7zM86.8 565.5h0.7v0.7h-0.7zM77.2 557.9h0.7v0.7h-0.7zM76.3 565.2h0.7v0.7h-0.7zM75.8 572.8h0.7v0.7h-0.7zM79.8 560.7h0.7v0.7h-0.7zM82.8 578.2h0.7v0.7h-0.7zM86.4 567.2h0.7v0.7h-0.7zM84.9 552.8h0.7v0.7h-0.7zM75.6 574.7h0.7v0.7h-0.7zM79.5 566.5h0.7v0.7h-0.7zM83.8 569.2h0.7v0.7h-0.7zM82.7 561.8h0.7v0.7h-0.7zM78.3 577.2h0.7v0.7h-0.7zM77.2 553.7h0.7v0.7h-0.7zM78.0 573.7h0.7v0.7h-0.7zM90.6 567.3h0.7v0.7h-0.7zM76.4 571.2h0.7v0.7h-0.7zM81.9 576.1h0.7v0.7h-0.7zM83.1 572.5h0.7v0.7h-0.7zM83.1 569.6h0.7v0.7h-0.7zM74.7 564.6h0.7v0.7h-0.7zM89.5 577.4h0.7v0.7h-0.7zM85.8 569.4h0.7v0.7h-0.7zM79.4 569.0h0.7v0.7h-0.7zM78.2 575.3h0.7v0.7h-0.7zM78.3 559.5h0.7v0.7h-0.7zM70.6 579.3h0.7v0.7h-0.7zM75.7 558.7h0.7v0.7h-0.7zM84.0 563.2h0.7v0.7h-0.7zM83.4 559.0h0.7v0.7h-0.7zM78.6 566.3h0.7v0.7h-0.7zM80.2 572.7h0.7v0.7h-0.7zM85.0 563.6h0.7v0.7h-0.7zM81.6 558.8h0.7v0.7h-0.7zM76.6 563.1h0.7v0.7h-0.7zM86.1 560.1h0.7v0.7h-0.7zM71.0 557.4h0.7v0.7h-0.7zM73.1 564.5h0.7v0.7h-0.7zM78.4 556.1h0.7v0.7h-0.7zM75.5 562.5h0.7v0.7h-0.7zM82.5 571.2h0.7v0.7h-0.7zM87.9 563.8h0.7v0.7h-0.7zM83.8 566.7h0.7v0.7h-0.7zM73.8 560.6h0.7v0.7h-0.7zM92.9 564.7h0.7v0.7h-0.7z" fill="#6a6ae0" fill-opacity="0.5"/>
<path d="M86.5 553.0L86.2 555.8L85.5 558.5L84.3 560.8L82.8 562.5L80.9 563.6L79.0 564.0L77.1 563.6L75.2 562.5L73.7 560.8L72.5 558.5L71.8 555.8L71.5 553.0L71.8 550.2L72.5 547.5L73.7 545.2L75.2 543.5L77.1 542.4L79.0 542.0L80.9 542.4L82.8 543.5L84.3 545.2L85.5 547.5L86.2 550.2Z" fill="#9a9af4" fill-opacity="0.5" filter="url(#bl2)"/>
<path d="M84.0 551.0L83.8 552.8L83.3 554.5L82.5 555.9L81.5 557.1L80.3 557.8L79.0 558.0L77.7 557.8L76.5 557.1L75.5 555.9L74.7 554.5L74.2 552.8L74.0 551.0L74.2 549.2L74.7 547.5L75.5 546.1L76.5 544.9L77.7 544.2L79.0 544.0L80.3 544.2L81.5 544.9L82.5 546.1L83.3 547.5L83.8 549.2Z" fill="#6a6aee" fill-opacity="0.55" filter="url(#bl1)"/>
</g></g>
<rect x="17.40" y="503.60" width="79.70" height="77.30" fill="none" stroke="#a8a8a8" stroke-width="1.4"/>
<line x1="62.20" y1="503.60" x2="62.20" y2="580.90" stroke="#5a5a5a" stroke-width="0.8"/>
<line x1="17.40" y1="547.40" x2="97.10" y2="547.40" stroke="#5a5a5a" stroke-width="0.8"/>
<rect x="69.0" y="514.70" width="26.50" height="66.20" fill="none" stroke="#8a8a8a" stroke-width="0.9"/>
<rect x="67.90" y="513.60" width="2.2" height="2.2" fill="#777" stroke="#555" stroke-width="0.4"/>
<rect x="81.15" y="513.60" width="2.2" height="2.2" fill="#777" stroke="#555" stroke-width="0.4"/>
<rect x="94.40" y="513.60" width="2.2" height="2.2" fill="#777" stroke="#555" stroke-width="0.4"/>
<rect x="94.40" y="546.70" width="2.2" height="2.2" fill="#777" stroke="#555" stroke-width="0.4"/>
<rect x="94.40" y="579.80" width="2.2" height="2.2" fill="#777" stroke="#555" stroke-width="0.4"/>
<text x="19.20" y="510.20" font-size="4.2" fill="#444" stroke="#444" stroke-width="0.1">Q1</text>
<text x="90.20" y="510.20" font-size="4.2" fill="#444" stroke="#444" stroke-width="0.1">Q2</text>
<text x="88.50" y="519.70" font-size="4.2" fill="#333" stroke="#333" stroke-width="0.15">P3</text>
<text x="19.20" y="579.30" font-size="4.2" fill="#444" stroke="#444" stroke-width="0.1">Q3</text>
<text x="90.20" y="579.30" font-size="4.2" fill="#444" stroke="#444" stroke-width="0.1">Q4</text>
<text x="39.40" y="501.00" font-size="11" textLength="34.70" lengthAdjust="spacingAndGlyphs" fill="#111" stroke="#111" stroke-width="0.45">Delayed</text>
<text x="6.50" y="538.00" font-size="7.5" text-anchor="middle" textLength="22.30" lengthAdjust="spacingAndGlyphs" transform="rotate(-90 6.50 538.00)" fill="#000" stroke="#000" stroke-width="0.35">CD138</text>
<text x="46.00" y="596.00" font-size="7.5" textLength="22.20" lengthAdjust="spacingAndGlyphs" fill="#000" stroke="#000" stroke-width="0.35">CD319</text>
<path d="M15.0 570.6H17.4M28.2 580.9V583.3M16.0 564.8H17.4M34.2 580.9V582.3M16.0 561.4H17.4M37.7 580.9V582.3M16.0 559.0H17.4M40.2 580.9V582.3M16.0 557.1H17.4M42.1 580.9V582.3M16.0 555.6H17.4M43.7 580.9V582.3M16.0 554.3H17.4M45.0 580.9V582.3M16.0 553.2H17.4M46.2 580.9V582.3M16.0 552.2H17.4M47.2 580.9V582.3M15.0 551.3H17.4M48.1 580.9V583.3M16.0 545.5H17.4M54.1 580.9V582.3M16.0 542.1H17.4M57.6 580.9V582.3M16.0 539.7H17.4M60.1 580.9V582.3M16.0 537.8H17.4M62.0 580.9V582.3M16.0 536.3H17.4M63.6 580.9V582.3M16.0 535.0H17.4M64.9 580.9V582.3M16.0 533.9H17.4M66.1 580.9V582.3M16.0 532.9H17.4M67.1 580.9V582.3M15.0 532.0H17.4M68.0 580.9V583.3M16.0 526.2H17.4M74.0 580.9V582.3M16.0 522.8H17.4M77.5 580.9V582.3M16.0 520.4H17.4M80.0 580.9V582.3M16.0 518.5H17.4M81.9 580.9V582.3M16.0 517.0H17.4M83.5 580.9V582.3M16.0 515.7H17.4M84.8 580.9V582.3M16.0 514.6H17.4M86.0 580.9V582.3M16.0 513.6H17.4M87.0 580.9V582.3M15.0 512.7H17.4M87.9 580.9V583.3M16.0 506.9H17.4M93.9 580.9V582.3" stroke="#777" stroke-width="0.6"/>
<text x="26.70" y="588.40" font-size="4" fill="#333" transform="rotate(-50 26.70 588.40)">10<tspan dy="-1.4" font-size="2.8">2</tspan></text>
<text x="12.90" y="572.10" font-size="4" fill="#333" transform="rotate(-50 12.90 572.10)">10<tspan dy="-1.4" font-size="2.8">2</tspan></text>
<text x="46.60" y="588.40" font-size="4" fill="#333" transform="rotate(-50 46.60 588.40)">10<tspan dy="-1.4" font-size="2.8">3</tspan></text>
<text x="12.90" y="552.80" font-size="4" fill="#333" transform="rotate(-50 12.90 552.80)">10<tspan dy="-1.4" font-size="2.8">3</tspan></text>
<text x="66.50" y="588.40" font-size="4" fill="#333" transform="rotate(-50 66.50 588.40)">10<tspan dy="-1.4" font-size="2.8">4</tspan></text>
<text x="12.90" y="533.50" font-size="4" fill="#333" transform="rotate(-50 12.90 533.50)">10<tspan dy="-1.4" font-size="2.8">4</tspan></text>
<text x="86.40" y="588.40" font-size="4" fill="#333" transform="rotate(-50 86.40 588.40)">10<tspan dy="-1.4" font-size="2.8">5</tspan></text>
<text x="12.90" y="514.20" font-size="4" fill="#333" transform="rotate(-50 12.90 514.20)">10<tspan dy="-1.4" font-size="2.8">5</tspan></text>
<clipPath id="clip613"><rect x="17.40" y="613.60" width="79.70" height="77.80"/></clipPath>
<clipPath id="clip613g"><path d="M17.4 613.6H97.1V624.4H69.0V691.4H17.4Z"/></clipPath>
<clipPath id="clip613b"><rect x="69.0" y="624.4" width="26.5" height="67.0"/></clipPath>
<g clip-path="url(#clip613)"><g clip-path="url(#clip613g)">
<path d="M64.9 674.7h0.7v0.7h-0.7zM65.0 665.8h0.7v0.7h-0.7zM55.1 667.7h0.7v0.7h-0.7zM27.3 668.1h0.7v0.7h-0.7zM48.4 658.2h0.7v0.7h-0.7zM47.4 664.9h0.7v0.7h-0.7zM47.3 660.6h0.7v0.7h-0.7zM54.0 668.6h0.7v0.7h-0.7zM21.7 667.4h0.7v0.7h-0.7zM43.4 659.5h0.7v0.7h-0.7zM47.0 676.8h0.7v0.7h-0.7zM33.6 688.5h0.7v0.7h-0.7zM62.1 671.0h0.7v0.7h-0.7zM48.7 676.2h0.7v0.7h-0.7zM39.0 686.3h0.7v0.7h-0.7zM35.3 654.2h0.7v0.7h-0.7zM42.8 677.6h0.7v0.7h-0.7zM53.7 661.1h0.7v0.7h-0.7zM61.4 661.4h0.7v0.7h-0.7zM51.1 677.7h0.7v0.7h-0.7zM44.9 683.0h0.7v0.7h-0.7zM49.2 668.3h0.7v0.7h-0.7zM63.5 662.9h0.7v0.7h-0.7zM29.1 687.5h0.7v0.7h-0.7zM43.3 665.3h0.7v0.7h-0.7zM36.0 676.3h0.7v0.7h-0.7zM55.9 683.6h0.7v0.7h-0.7zM34.2 689.6h0.7v0.7h-0.7zM22.1 685.9h0.7v0.7h-0.7zM40.7 678.2h0.7v0.7h-0.7zM36.7 669.4h0.7v0.7h-0.7zM46.4 682.6h0.7v0.7h-0.7zM37.1 666.1h0.7v0.7h-0.7zM24.3 683.5h0.7v0.7h-0.7zM50.1 677.3h0.7v0.7h-0.7zM34.3 672.5h0.7v0.7h-0.7zM66.4 663.7h0.7v0.7h-0.7zM44.3 682.0h0.7v0.7h-0.7zM65.2 670.6h0.7v0.7h-0.7zM47.2 689.3h0.7v0.7h-0.7zM37.1 659.9h0.7v0.7h-0.7zM32.4 674.0h0.7v0.7h-0.7zM60.3 671.5h0.7v0.7h-0.7zM58.9 670.1h0.7v0.7h-0.7zM43.2 668.7h0.7v0.7h-0.7zM25.9 683.0h0.7v0.7h-0.7zM47.5 677.4h0.7v0.7h-0.7zM35.4 672.3h0.7v0.7h-0.7zM47.7 677.7h0.7v0.7h-0.7zM56.0 677.7h0.7v0.7h-0.7zM39.0 676.1h0.7v0.7h-0.7zM41.8 687.3h0.7v0.7h-0.7zM39.1 683.1h0.7v0.7h-0.7zM49.3 670.3h0.7v0.7h-0.7zM52.8 678.5h0.7v0.7h-0.7zM37.3 682.8h0.7v0.7h-0.7zM38.4 676.4h0.7v0.7h-0.7zM37.5 676.6h0.7v0.7h-0.7zM42.0 680.6h0.7v0.7h-0.7zM34.8 682.5h0.7v0.7h-0.7zM31.4 664.2h0.7v0.7h-0.7zM49.5 673.3h0.7v0.7h-0.7zM54.5 653.6h0.7v0.7h-0.7zM44.1 667.8h0.7v0.7h-0.7zM40.1 671.2h0.7v0.7h-0.7zM37.5 669.5h0.7v0.7h-0.7zM56.4 655.0h0.7v0.7h-0.7zM20.0 683.3h0.7v0.7h-0.7zM30.4 667.2h0.7v0.7h-0.7zM28.8 688.7h0.7v0.7h-0.7zM51.8 679.0h0.7v0.7h-0.7zM47.3 674.5h0.7v0.7h-0.7zM34.7 667.7h0.7v0.7h-0.7zM37.6 686.3h0.7v0.7h-0.7zM33.1 676.9h0.7v0.7h-0.7zM65.6 666.6h0.7v0.7h-0.7zM51.2 666.5h0.7v0.7h-0.7zM68.0 655.9h0.7v0.7h-0.7zM50.2 669.6h0.7v0.7h-0.7zM45.3 676.2h0.7v0.7h-0.7zM60.4 676.4h0.7v0.7h-0.7zM56.9 673.0h0.7v0.7h-0.7zM28.1 689.7h0.7v0.7h-0.7zM63.4 672.1h0.7v0.7h-0.7zM53.3 668.8h0.7v0.7h-0.7zM23.1 688.0h0.7v0.7h-0.7zM51.9 671.0h0.7v0.7h-0.7zM34.3 677.2h0.7v0.7h-0.7zM28.9 674.5h0.7v0.7h-0.7zM64.2 665.1h0.7v0.7h-0.7zM67.5 665.9h0.7v0.7h-0.7zM48.2 664.2h0.7v0.7h-0.7zM38.5 671.1h0.7v0.7h-0.7zM50.6 670.8h0.7v0.7h-0.7zM27.7 678.4h0.7v0.7h-0.7zM28.3 669.5h0.7v0.7h-0.7zM19.0 685.5h0.7v0.7h-0.7zM35.2 650.7h0.7v0.7h-0.7zM23.4 678.2h0.7v0.7h-0.7zM43.4 667.0h0.7v0.7h-0.7zM66.6 671.7h0.7v0.7h-0.7zM34.0 662.0h0.7v0.7h-0.7zM44.9 667.3h0.7v0.7h-0.7zM56.4 660.8h0.7v0.7h-0.7zM58.8 665.2h0.7v0.7h-0.7zM45.2 670.7h0.7v0.7h-0.7zM51.0 681.5h0.7v0.7h-0.7zM35.2 668.1h0.7v0.7h-0.7zM68.2 674.9h0.7v0.7h-0.7zM68.4 674.8h0.7v0.7h-0.7zM44.3 687.6h0.7v0.7h-0.7zM33.4 672.7h0.7v0.7h-0.7zM37.1 681.4h0.7v0.7h-0.7zM30.9 675.6h0.7v0.7h-0.7zM31.0 675.1h0.7v0.7h-0.7zM57.7 679.2h0.7v0.7h-0.7zM33.0 680.6h0.7v0.7h-0.7zM36.0 656.4h0.7v0.7h-0.7zM26.4 689.3h0.7v0.7h-0.7zM40.8 676.7h0.7v0.7h-0.7zM59.5 669.3h0.7v0.7h-0.7zM33.8 671.0h0.7v0.7h-0.7zM29.7 682.3h0.7v0.7h-0.7zM36.1 680.2h0.7v0.7h-0.7zM22.1 675.9h0.7v0.7h-0.7zM41.1 684.7h0.7v0.7h-0.7zM46.2 686.2h0.7v0.7h-0.7zM26.7 685.1h0.7v0.7h-0.7zM28.0 684.0h0.7v0.7h-0.7zM30.8 680.9h0.7v0.7h-0.7zM48.7 665.8h0.7v0.7h-0.7zM45.8 663.6h0.7v0.7h-0.7zM55.6 678.1h0.7v0.7h-0.7zM40.2 680.5h0.7v0.7h-0.7zM36.3 668.8h0.7v0.7h-0.7zM54.7 679.2h0.7v0.7h-0.7zM50.5 685.9h0.7v0.7h-0.7zM33.8 672.7h0.7v0.7h-0.7zM48.1 648.6h0.7v0.7h-0.7zM39.5 675.2h0.7v0.7h-0.7zM29.3 679.6h0.7v0.7h-0.7zM56.8 664.3h0.7v0.7h-0.7zM50.1 670.4h0.7v0.7h-0.7zM40.2 675.5h0.7v0.7h-0.7zM62.9 672.6h0.7v0.7h-0.7zM51.7 672.6h0.7v0.7h-0.7zM42.1 674.8h0.7v0.7h-0.7zM35.5 662.4h0.7v0.7h-0.7zM62.7 684.2h0.7v0.7h-0.7zM63.8 651.7h0.7v0.7h-0.7zM49.9 661.4h0.7v0.7h-0.7zM39.8 670.1h0.7v0.7h-0.7zM33.9 669.6h0.7v0.7h-0.7zM35.8 682.6h0.7v0.7h-0.7zM64.3 675.8h0.7v0.7h-0.7zM42.2 672.7h0.7v0.7h-0.7zM39.0 674.7h0.7v0.7h-0.7zM33.9 674.8h0.7v0.7h-0.7zM53.9 668.6h0.7v0.7h-0.7zM31.2 676.0h0.7v0.7h-0.7zM43.5 672.9h0.7v0.7h-0.7zM38.7 681.1h0.7v0.7h-0.7zM41.7 665.3h0.7v0.7h-0.7zM50.1 665.5h0.7v0.7h-0.7zM52.8 678.1h0.7v0.7h-0.7zM48.9 674.7h0.7v0.7h-0.7zM23.9 677.5h0.7v0.7h-0.7zM44.0 679.0h0.7v0.7h-0.7zM26.9 677.0h0.7v0.7h-0.7zM21.3 681.5h0.7v0.7h-0.7zM43.4 674.7h0.7v0.7h-0.7zM64.9 673.9h0.7v0.7h-0.7zM39.6 669.6h0.7v0.7h-0.7zM36.2 682.5h0.7v0.7h-0.7zM54.8 665.9h0.7v0.7h-0.7zM40.7 670.6h0.7v0.7h-0.7zM51.7 672.9h0.7v0.7h-0.7zM32.4 669.0h0.7v0.7h-0.7zM60.1 656.6h0.7v0.7h-0.7zM54.0 675.5h0.7v0.7h-0.7zM53.8 680.6h0.7v0.7h-0.7zM35.8 675.6h0.7v0.7h-0.7zM55.7 675.0h0.7v0.7h-0.7zM31.9 670.3h0.7v0.7h-0.7zM22.5 681.9h0.7v0.7h-0.7zM34.9 662.4h0.7v0.7h-0.7zM34.6 679.0h0.7v0.7h-0.7zM44.8 671.3h0.7v0.7h-0.7zM44.5 679.0h0.7v0.7h-0.7zM25.8 671.5h0.7v0.7h-0.7zM55.6 676.6h0.7v0.7h-0.7zM23.0 673.1h0.7v0.7h-0.7zM62.2 674.9h0.7v0.7h-0.7zM40.3 683.5h0.7v0.7h-0.7zM61.1 681.0h0.7v0.7h-0.7zM23.1 668.1h0.7v0.7h-0.7zM35.3 675.5h0.7v0.7h-0.7zM37.4 677.5h0.7v0.7h-0.7zM62.6 677.8h0.7v0.7h-0.7zM55.9 670.0h0.7v0.7h-0.7zM65.0 671.5h0.7v0.7h-0.7zM45.6 672.8h0.7v0.7h-0.7zM41.9 681.9h0.7v0.7h-0.7zM26.2 687.4h0.7v0.7h-0.7zM45.6 664.7h0.7v0.7h-0.7zM55.5 670.3h0.7v0.7h-0.7zM29.2 655.5h0.7v0.7h-0.7zM28.6 681.2h0.7v0.7h-0.7zM28.0 686.5h0.7v0.7h-0.7zM45.4 672.4h0.7v0.7h-0.7zM54.1 670.8h0.7v0.7h-0.7zM56.6 682.3h0.7v0.7h-0.7zM54.0 662.2h0.7v0.7h-0.7zM51.5 669.0h0.7v0.7h-0.7zM46.6 681.2h0.7v0.7h-0.7zM33.1 678.4h0.7v0.7h-0.7zM62.5 660.9h0.7v0.7h-0.7zM39.6 681.1h0.7v0.7h-0.7zM39.1 683.8h0.7v0.7h-0.7zM28.3 664.8h0.7v0.7h-0.7zM47.5 671.3h0.7v0.7h-0.7zM46.6 681.1h0.7v0.7h-0.7zM56.8 666.8h0.7v0.7h-0.7zM36.9 658.5h0.7v0.7h-0.7zM28.8 679.9h0.7v0.7h-0.7zM45.3 660.1h0.7v0.7h-0.7zM53.1 670.5h0.7v0.7h-0.7zM57.5 666.5h0.7v0.7h-0.7zM55.6 660.5h0.7v0.7h-0.7zM51.9 674.8h0.7v0.7h-0.7zM51.5 686.0h0.7v0.7h-0.7zM53.1 675.3h0.7v0.7h-0.7zM20.4 683.5h0.7v0.7h-0.7zM37.1 666.9h0.7v0.7h-0.7zM28.2 676.7h0.7v0.7h-0.7zM50.3 666.0h0.7v0.7h-0.7zM46.4 679.0h0.7v0.7h-0.7zM37.9 668.8h0.7v0.7h-0.7zM51.6 669.7h0.7v0.7h-0.7zM46.6 671.6h0.7v0.7h-0.7zM54.3 670.4h0.7v0.7h-0.7zM45.4 672.4h0.7v0.7h-0.7zM30.0 658.1h0.7v0.7h-0.7zM49.8 661.0h0.7v0.7h-0.7zM47.8 677.9h0.7v0.7h-0.7zM68.3 660.0h0.7v0.7h-0.7zM44.3 681.6h0.7v0.7h-0.7zM33.0 671.5h0.7v0.7h-0.7zM48.4 690.1h0.7v0.7h-0.7zM57.2 678.0h0.7v0.7h-0.7zM28.9 683.5h0.7v0.7h-0.7zM58.0 658.5h0.7v0.7h-0.7zM42.4 672.2h0.7v0.7h-0.7zM51.2 656.3h0.7v0.7h-0.7zM52.0 671.2h0.7v0.7h-0.7zM38.5 656.6h0.7v0.7h-0.7zM51.3 675.1h0.7v0.7h-0.7zM52.6 656.2h0.7v0.7h-0.7zM45.0 684.9h0.7v0.7h-0.7zM20.8 685.7h0.7v0.7h-0.7zM32.1 681.6h0.7v0.7h-0.7zM43.6 659.4h0.7v0.7h-0.7zM27.7 689.2h0.7v0.7h-0.7zM40.7 685.1h0.7v0.7h-0.7zM46.9 680.4h0.7v0.7h-0.7zM36.8 677.4h0.7v0.7h-0.7zM37.1 683.3h0.7v0.7h-0.7zM34.3 685.9h0.7v0.7h-0.7zM64.0 657.2h0.7v0.7h-0.7zM39.9 679.3h0.7v0.7h-0.7zM66.8 676.9h0.7v0.7h-0.7zM43.4 658.6h0.7v0.7h-0.7zM53.9 665.5h0.7v0.7h-0.7zM44.9 676.7h0.7v0.7h-0.7zM22.7 688.8h0.7v0.7h-0.7zM54.9 675.3h0.7v0.7h-0.7zM50.5 674.7h0.7v0.7h-0.7zM22.8 675.1h0.7v0.7h-0.7zM53.5 667.9h0.7v0.7h-0.7zM42.6 677.1h0.7v0.7h-0.7zM43.4 675.9h0.7v0.7h-0.7zM48.9 672.1h0.7v0.7h-0.7zM26.9 676.0h0.7v0.7h-0.7zM55.5 664.3h0.7v0.7h-0.7zM48.7 674.8h0.7v0.7h-0.7zM30.0 653.0h0.7v0.7h-0.7zM42.0 667.3h0.7v0.7h-0.7zM33.5 684.5h0.7v0.7h-0.7zM31.6 680.0h0.7v0.7h-0.7zM43.8 675.2h0.7v0.7h-0.7zM55.6 668.9h0.7v0.7h-0.7zM38.3 669.3h0.7v0.7h-0.7zM42.8 674.2h0.7v0.7h-0.7zM31.9 675.7h0.7v0.7h-0.7zM24.7 680.3h0.7v0.7h-0.7zM47.1 681.9h0.7v0.7h-0.7zM55.8 665.8h0.7v0.7h-0.7zM64.4 666.7h0.7v0.7h-0.7zM63.7 682.6h0.7v0.7h-0.7zM36.6 666.3h0.7v0.7h-0.7zM49.7 684.3h0.7v0.7h-0.7zM47.7 681.9h0.7v0.7h-0.7zM50.4 679.3h0.7v0.7h-0.7zM60.5 666.2h0.7v0.7h-0.7zM22.6 678.5h0.7v0.7h-0.7zM31.3 666.8h0.7v0.7h-0.7zM39.9 680.8h0.7v0.7h-0.7zM53.2 663.1h0.7v0.7h-0.7zM36.8 687.2h0.7v0.7h-0.7zM57.7 672.6h0.7v0.7h-0.7zM49.6 648.4h0.7v0.7h-0.7zM49.9 675.1h0.7v0.7h-0.7zM23.0 681.0h0.7v0.7h-0.7zM48.5 671.2h0.7v0.7h-0.7zM53.1 678.5h0.7v0.7h-0.7zM42.9 671.6h0.7v0.7h-0.7zM25.9 688.5h0.7v0.7h-0.7zM34.3 679.0h0.7v0.7h-0.7zM63.4 674.6h0.7v0.7h-0.7zM24.6 678.2h0.7v0.7h-0.7zM32.3 662.6h0.7v0.7h-0.7zM31.1 682.2h0.7v0.7h-0.7zM46.9 670.8h0.7v0.7h-0.7zM44.6 663.2h0.7v0.7h-0.7zM31.6 675.5h0.7v0.7h-0.7zM53.2 668.1h0.7v0.7h-0.7zM39.9 677.5h0.7v0.7h-0.7zM62.5 657.3h0.7v0.7h-0.7zM49.5 673.5h0.7v0.7h-0.7zM41.2 676.4h0.7v0.7h-0.7zM38.9 664.2h0.7v0.7h-0.7zM53.8 669.6h0.7v0.7h-0.7zM37.4 681.9h0.7v0.7h-0.7zM29.5 671.4h0.7v0.7h-0.7zM53.6 678.2h0.7v0.7h-0.7zM22.1 666.9h0.7v0.7h-0.7zM25.7 679.6h0.7v0.7h-0.7zM38.9 669.1h0.7v0.7h-0.7zM28.2 671.9h0.7v0.7h-0.7zM37.1 685.7h0.7v0.7h-0.7zM50.8 683.3h0.7v0.7h-0.7zM53.5 677.3h0.7v0.7h-0.7zM58.4 673.2h0.7v0.7h-0.7zM63.4 677.7h0.7v0.7h-0.7zM67.2 668.7h0.7v0.7h-0.7zM38.3 679.6h0.7v0.7h-0.7zM36.9 669.5h0.7v0.7h-0.7zM48.2 662.6h0.7v0.7h-0.7zM40.0 686.8h0.7v0.7h-0.7zM43.9 680.6h0.7v0.7h-0.7zM51.0 674.8h0.7v0.7h-0.7zM43.6 678.8h0.7v0.7h-0.7zM28.8 682.8h0.7v0.7h-0.7zM27.3 671.7h0.7v0.7h-0.7zM34.0 664.8h0.7v0.7h-0.7zM49.1 677.7h0.7v0.7h-0.7zM52.4 664.6h0.7v0.7h-0.7zM51.9 661.3h0.7v0.7h-0.7zM36.5 682.0h0.7v0.7h-0.7zM29.0 679.4h0.7v0.7h-0.7zM55.6 671.5h0.7v0.7h-0.7zM55.0 666.0h0.7v0.7h-0.7zM50.3 652.9h0.7v0.7h-0.7zM63.0 662.3h0.7v0.7h-0.7zM30.2 677.5h0.7v0.7h-0.7zM65.6 661.2h0.7v0.7h-0.7zM41.8 671.0h0.7v0.7h-0.7zM29.2 666.4h0.7v0.7h-0.7zM50.2 677.8h0.7v0.7h-0.7zM31.7 678.9h0.7v0.7h-0.7zM48.3 675.5h0.7v0.7h-0.7zM39.8 675.0h0.7v0.7h-0.7zM45.9 663.7h0.7v0.7h-0.7zM40.1 681.4h0.7v0.7h-0.7zM34.3 687.5h0.7v0.7h-0.7zM38.8 665.4h0.7v0.7h-0.7zM38.0 663.5h0.7v0.7h-0.7zM50.5 657.8h0.7v0.7h-0.7zM42.3 671.9h0.7v0.7h-0.7zM37.9 678.8h0.7v0.7h-0.7zM46.0 668.0h0.7v0.7h-0.7zM53.4 666.9h0.7v0.7h-0.7zM54.5 682.0h0.7v0.7h-0.7zM47.3 680.5h0.7v0.7h-0.7zM23.6 684.1h0.7v0.7h-0.7zM21.5 678.4h0.7v0.7h-0.7zM51.7 648.1h0.7v0.7h-0.7zM31.3 670.4h0.7v0.7h-0.7zM29.1 677.9h0.7v0.7h-0.7zM50.9 661.5h0.7v0.7h-0.7zM33.5 660.4h0.7v0.7h-0.7zM32.3 658.7h0.7v0.7h-0.7zM21.3 684.0h0.7v0.7h-0.7zM54.2 663.5h0.7v0.7h-0.7zM46.9 665.9h0.7v0.7h-0.7zM56.8 684.9h0.7v0.7h-0.7zM33.2 672.4h0.7v0.7h-0.7zM63.6 681.4h0.7v0.7h-0.7zM41.9 679.6h0.7v0.7h-0.7zM20.1 677.7h0.7v0.7h-0.7zM38.1 673.8h0.7v0.7h-0.7zM46.1 659.3h0.7v0.7h-0.7zM18.1 681.3h0.7v0.7h-0.7zM52.1 675.4h0.7v0.7h-0.7zM42.8 659.9h0.7v0.7h-0.7zM35.6 662.4h0.7v0.7h-0.7zM52.1 672.9h0.7v0.7h-0.7zM36.6 685.7h0.7v0.7h-0.7zM54.2 676.0h0.7v0.7h-0.7zM50.1 678.1h0.7v0.7h-0.7zM38.2 678.8h0.7v0.7h-0.7zM43.1 671.5h0.7v0.7h-0.7zM51.0 689.9h0.7v0.7h-0.7zM36.0 686.1h0.7v0.7h-0.7zM27.9 676.4h0.7v0.7h-0.7zM56.2 669.3h0.7v0.7h-0.7zM46.8 662.2h0.7v0.7h-0.7zM44.2 672.6h0.7v0.7h-0.7zM22.9 670.5h0.7v0.7h-0.7zM27.8 677.6h0.7v0.7h-0.7zM40.4 669.2h0.7v0.7h-0.7zM32.8 677.6h0.7v0.7h-0.7zM58.2 657.3h0.7v0.7h-0.7zM22.4 689.3h0.7v0.7h-0.7zM22.3 676.1h0.7v0.7h-0.7zM43.6 689.3h0.7v0.7h-0.7zM40.9 683.6h0.7v0.7h-0.7zM44.0 666.5h0.7v0.7h-0.7zM44.6 655.5h0.7v0.7h-0.7zM53.4 683.5h0.7v0.7h-0.7zM39.2 681.9h0.7v0.7h-0.7zM33.1 669.7h0.7v0.7h-0.7zM31.5 661.7h0.7v0.7h-0.7zM51.3 688.6h0.7v0.7h-0.7zM22.3 677.9h0.7v0.7h-0.7zM48.2 667.3h0.7v0.7h-0.7zM20.4 683.1h0.7v0.7h-0.7zM55.9 670.9h0.7v0.7h-0.7zM27.2 675.6h0.7v0.7h-0.7zM58.8 678.8h0.7v0.7h-0.7zM40.8 678.1h0.7v0.7h-0.7zM34.8 677.2h0.7v0.7h-0.7zM33.8 677.8h0.7v0.7h-0.7zM34.9 677.7h0.7v0.7h-0.7zM51.6 671.1h0.7v0.7h-0.7zM24.1 683.4h0.7v0.7h-0.7zM38.6 670.7h0.7v0.7h-0.7zM49.8 664.6h0.7v0.7h-0.7zM54.9 675.1h0.7v0.7h-0.7zM32.5 670.7h0.7v0.7h-0.7zM40.3 666.6h0.7v0.7h-0.7zM55.1 650.8h0.7v0.7h-0.7zM44.0 670.4h0.7v0.7h-0.7zM26.9 683.8h0.7v0.7h-0.7zM35.3 679.8h0.7v0.7h-0.7zM36.0 673.3h0.7v0.7h-0.7zM49.2 680.2h0.7v0.7h-0.7zM55.8 669.9h0.7v0.7h-0.7zM62.5 665.2h0.7v0.7h-0.7zM23.2 663.2h0.7v0.7h-0.7zM22.1 672.2h0.7v0.7h-0.7zM42.5 673.6h0.7v0.7h-0.7zM45.3 672.1h0.7v0.7h-0.7zM38.5 672.2h0.7v0.7h-0.7zM42.6 664.1h0.7v0.7h-0.7zM59.6 682.3h0.7v0.7h-0.7zM28.7 685.6h0.7v0.7h-0.7zM19.7 685.6h0.7v0.7h-0.7zM31.7 685.6h0.7v0.7h-0.7zM43.6 681.8h0.7v0.7h-0.7zM50.4 676.2h0.7v0.7h-0.7zM38.2 688.9h0.7v0.7h-0.7zM46.9 676.8h0.7v0.7h-0.7zM61.8 666.1h0.7v0.7h-0.7zM66.0 676.5h0.7v0.7h-0.7zM43.1 661.1h0.7v0.7h-0.7zM58.8 666.5h0.7v0.7h-0.7zM43.4 674.7h0.7v0.7h-0.7zM55.2 675.7h0.7v0.7h-0.7zM46.9 674.1h0.7v0.7h-0.7zM53.0 675.8h0.7v0.7h-0.7zM64.4 661.3h0.7v0.7h-0.7zM60.0 672.2h0.7v0.7h-0.7zM46.2 678.7h0.7v0.7h-0.7zM37.4 681.5h0.7v0.7h-0.7zM39.2 681.1h0.7v0.7h-0.7zM31.6 687.2h0.7v0.7h-0.7zM21.1 674.3h0.7v0.7h-0.7zM41.4 676.3h0.7v0.7h-0.7zM31.1 673.7h0.7v0.7h-0.7zM45.6 682.1h0.7v0.7h-0.7zM59.9 664.8h0.7v0.7h-0.7zM41.1 671.6h0.7v0.7h-0.7zM21.1 676.1h0.7v0.7h-0.7zM57.6 657.9h0.7v0.7h-0.7zM65.9 668.8h0.7v0.7h-0.7zM63.9 662.8h0.7v0.7h-0.7zM59.5 675.6h0.7v0.7h-0.7zM52.9 677.4h0.7v0.7h-0.7zM50.1 677.3h0.7v0.7h-0.7zM58.5 673.0h0.7v0.7h-0.7zM50.8 675.2h0.7v0.7h-0.7zM44.0 665.9h0.7v0.7h-0.7zM25.0 666.1h0.7v0.7h-0.7zM51.6 668.4h0.7v0.7h-0.7zM52.7 666.9h0.7v0.7h-0.7zM47.3 670.7h0.7v0.7h-0.7zM64.1 678.8h0.7v0.7h-0.7zM46.0 688.3h0.7v0.7h-0.7zM53.5 678.5h0.7v0.7h-0.7zM26.0 673.3h0.7v0.7h-0.7zM44.4 671.4h0.7v0.7h-0.7zM34.9 658.7h0.7v0.7h-0.7zM31.8 676.0h0.7v0.7h-0.7zM46.3 663.5h0.7v0.7h-0.7zM40.3 690.2h0.7v0.7h-0.7zM44.3 656.3h0.7v0.7h-0.7zM39.6 674.8h0.7v0.7h-0.7zM59.5 670.7h0.7v0.7h-0.7zM61.0 671.5h0.7v0.7h-0.7zM58.2 681.1h0.7v0.7h-0.7zM63.3 669.7h0.7v0.7h-0.7zM25.3 680.5h0.7v0.7h-0.7zM48.7 666.0h0.7v0.7h-0.7zM53.5 669.3h0.7v0.7h-0.7zM53.0 672.6h0.7v0.7h-0.7zM29.3 686.8h0.7v0.7h-0.7zM46.0 657.9h0.7v0.7h-0.7zM46.6 672.5h0.7v0.7h-0.7zM31.3 660.5h0.7v0.7h-0.7zM48.3 680.7h0.7v0.7h-0.7zM41.7 686.5h0.7v0.7h-0.7zM41.7 665.7h0.7v0.7h-0.7zM41.3 678.0h0.7v0.7h-0.7zM32.0 670.0h0.7v0.7h-0.7zM45.8 680.6h0.7v0.7h-0.7zM39.0 679.2h0.7v0.7h-0.7zM35.2 673.0h0.7v0.7h-0.7zM44.8 681.7h0.7v0.7h-0.7zM63.9 666.7h0.7v0.7h-0.7zM48.3 689.4h0.7v0.7h-0.7zM53.6 667.6h0.7v0.7h-0.7zM47.8 660.0h0.7v0.7h-0.7zM32.3 665.1h0.7v0.7h-0.7zM56.2 666.0h0.7v0.7h-0.7zM43.4 674.3h0.7v0.7h-0.7zM39.4 664.6h0.7v0.7h-0.7zM68.7 649.1h0.7v0.7h-0.7zM41.7 680.2h0.7v0.7h-0.7zM39.4 673.9h0.7v0.7h-0.7zM46.4 674.9h0.7v0.7h-0.7zM37.6 684.7h0.7v0.7h-0.7zM49.1 685.1h0.7v0.7h-0.7zM43.5 656.3h0.7v0.7h-0.7zM19.5 676.0h0.7v0.7h-0.7zM48.4 658.0h0.7v0.7h-0.7zM34.5 687.1h0.7v0.7h-0.7zM46.8 666.5h0.7v0.7h-0.7zM40.7 675.4h0.7v0.7h-0.7zM36.4 672.9h0.7v0.7h-0.7zM33.5 678.4h0.7v0.7h-0.7zM63.9 680.5h0.7v0.7h-0.7zM40.6 662.2h0.7v0.7h-0.7zM21.8 681.1h0.7v0.7h-0.7zM45.4 667.5h0.7v0.7h-0.7zM31.3 675.2h0.7v0.7h-0.7zM45.8 678.9h0.7v0.7h-0.7zM49.8 651.1h0.7v0.7h-0.7zM34.1 678.6h0.7v0.7h-0.7zM47.3 679.5h0.7v0.7h-0.7zM25.9 676.9h0.7v0.7h-0.7zM35.9 671.7h0.7v0.7h-0.7zM31.6 684.1h0.7v0.7h-0.7zM53.0 674.0h0.7v0.7h-0.7zM24.9 673.5h0.7v0.7h-0.7zM41.5 677.7h0.7v0.7h-0.7zM34.7 673.8h0.7v0.7h-0.7zM38.2 653.7h0.7v0.7h-0.7zM53.8 660.3h0.7v0.7h-0.7zM53.0 672.4h0.7v0.7h-0.7zM31.4 684.0h0.7v0.7h-0.7zM33.9 673.7h0.7v0.7h-0.7zM42.5 675.8h0.7v0.7h-0.7zM36.3 678.3h0.7v0.7h-0.7zM42.3 675.7h0.7v0.7h-0.7zM47.5 666.9h0.7v0.7h-0.7zM23.6 678.7h0.7v0.7h-0.7zM59.0 672.1h0.7v0.7h-0.7zM45.3 666.6h0.7v0.7h-0.7zM26.7 667.6h0.7v0.7h-0.7zM29.8 674.3h0.7v0.7h-0.7zM21.3 678.9h0.7v0.7h-0.7zM20.9 685.8h0.7v0.7h-0.7zM41.9 658.7h0.7v0.7h-0.7zM34.8 678.1h0.7v0.7h-0.7zM47.4 679.3h0.7v0.7h-0.7zM37.5 674.1h0.7v0.7h-0.7zM39.1 679.6h0.7v0.7h-0.7zM32.9 675.3h0.7v0.7h-0.7zM44.2 670.4h0.7v0.7h-0.7zM27.6 690.0h0.7v0.7h-0.7zM49.0 664.1h0.7v0.7h-0.7zM68.9 659.7h0.7v0.7h-0.7zM30.4 674.2h0.7v0.7h-0.7zM49.5 685.0h0.7v0.7h-0.7zM60.8 673.5h0.7v0.7h-0.7zM43.2 679.5h0.7v0.7h-0.7zM31.6 670.9h0.7v0.7h-0.7zM49.4 673.7h0.7v0.7h-0.7zM45.4 664.2h0.7v0.7h-0.7zM45.6 660.5h0.7v0.7h-0.7zM54.8 670.5h0.7v0.7h-0.7zM33.5 672.4h0.7v0.7h-0.7zM32.8 688.6h0.7v0.7h-0.7zM42.5 676.1h0.7v0.7h-0.7zM29.3 666.3h0.7v0.7h-0.7zM45.5 669.2h0.7v0.7h-0.7zM49.1 681.3h0.7v0.7h-0.7zM40.7 679.1h0.7v0.7h-0.7zM44.6 675.4h0.7v0.7h-0.7zM35.2 678.1h0.7v0.7h-0.7zM48.2 673.0h0.7v0.7h-0.7zM36.1 663.0h0.7v0.7h-0.7zM56.0 672.6h0.7v0.7h-0.7zM46.2 671.6h0.7v0.7h-0.7zM51.5 679.7h0.7v0.7h-0.7zM38.9 677.7h0.7v0.7h-0.7zM55.2 656.5h0.7v0.7h-0.7zM29.6 672.6h0.7v0.7h-0.7zM26.5 674.7h0.7v0.7h-0.7zM30.8 673.8h0.7v0.7h-0.7zM48.7 661.9h0.7v0.7h-0.7zM43.6 685.6h0.7v0.7h-0.7zM44.9 662.6h0.7v0.7h-0.7zM34.1 686.5h0.7v0.7h-0.7zM38.7 669.5h0.7v0.7h-0.7zM52.9 664.7h0.7v0.7h-0.7zM27.2 683.6h0.7v0.7h-0.7zM42.5 668.3h0.7v0.7h-0.7zM48.6 681.8h0.7v0.7h-0.7zM56.9 670.7h0.7v0.7h-0.7zM48.5 676.6h0.7v0.7h-0.7zM33.3 671.7h0.7v0.7h-0.7zM31.2 668.8h0.7v0.7h-0.7zM57.1 669.8h0.7v0.7h-0.7zM34.5 660.3h0.7v0.7h-0.7zM44.5 672.9h0.7v0.7h-0.7zM28.4 677.1h0.7v0.7h-0.7zM25.8 683.0h0.7v0.7h-0.7zM43.6 655.1h0.7v0.7h-0.7zM27.2 672.6h0.7v0.7h-0.7zM52.9 676.2h0.7v0.7h-0.7zM50.8 686.2h0.7v0.7h-0.7zM38.4 670.7h0.7v0.7h-0.7zM49.9 664.5h0.7v0.7h-0.7zM30.5 685.7h0.7v0.7h-0.7zM59.7 653.4h0.7v0.7h-0.7zM48.6 672.1h0.7v0.7h-0.7zM54.5 667.6h0.7v0.7h-0.7zM40.7 686.8h0.7v0.7h-0.7zM34.3 679.9h0.7v0.7h-0.7zM50.8 670.6h0.7v0.7h-0.7zM54.1 675.2h0.7v0.7h-0.7zM53.5 655.9h0.7v0.7h-0.7zM28.3 680.6h0.7v0.7h-0.7zM58.0 682.0h0.7v0.7h-0.7zM42.5 667.4h0.7v0.7h-0.7zM27.6 661.2h0.7v0.7h-0.7zM35.6 681.0h0.7v0.7h-0.7zM41.3 661.4h0.7v0.7h-0.7zM41.0 674.8h0.7v0.7h-0.7zM32.2 689.6h0.7v0.7h-0.7zM48.2 681.9h0.7v0.7h-0.7zM43.6 665.1h0.7v0.7h-0.7zM56.8 679.5h0.7v0.7h-0.7zM34.4 664.6h0.7v0.7h-0.7zM53.3 665.9h0.7v0.7h-0.7zM26.7 677.7h0.7v0.7h-0.7zM49.7 665.3h0.7v0.7h-0.7zM42.8 682.5h0.7v0.7h-0.7zM52.3 657.5h0.7v0.7h-0.7zM51.9 686.8h0.7v0.7h-0.7zM54.7 669.7h0.7v0.7h-0.7zM47.3 658.8h0.7v0.7h-0.7zM34.4 671.7h0.7v0.7h-0.7zM58.8 654.9h0.7v0.7h-0.7zM39.6 660.0h0.7v0.7h-0.7zM56.2 650.1h0.7v0.7h-0.7zM67.2 657.7h0.7v0.7h-0.7zM49.5 675.0h0.7v0.7h-0.7zM53.8 662.1h0.7v0.7h-0.7zM54.0 668.2h0.7v0.7h-0.7zM49.3 674.0h0.7v0.7h-0.7zM60.9 657.4h0.7v0.7h-0.7zM23.6 685.1h0.7v0.7h-0.7zM40.1 680.5h0.7v0.7h-0.7zM26.1 679.4h0.7v0.7h-0.7zM19.8 681.5h0.7v0.7h-0.7zM52.0 686.1h0.7v0.7h-0.7zM35.6 684.1h0.7v0.7h-0.7zM60.3 659.7h0.7v0.7h-0.7zM38.6 658.8h0.7v0.7h-0.7zM30.6 681.2h0.7v0.7h-0.7zM52.0 683.8h0.7v0.7h-0.7zM34.1 656.2h0.7v0.7h-0.7zM28.7 683.1h0.7v0.7h-0.7zM42.0 680.2h0.7v0.7h-0.7zM38.3 680.9h0.7v0.7h-0.7zM29.2 669.2h0.7v0.7h-0.7zM40.1 659.3h0.7v0.7h-0.7zM58.8 667.1h0.7v0.7h-0.7zM29.2 670.2h0.7v0.7h-0.7zM29.3 678.8h0.7v0.7h-0.7zM37.4 683.0h0.7v0.7h-0.7zM26.8 677.8h0.7v0.7h-0.7zM22.1 675.7h0.7v0.7h-0.7zM60.5 667.8h0.7v0.7h-0.7zM54.2 670.1h0.7v0.7h-0.7zM27.7 670.5h0.7v0.7h-0.7zM27.2 681.3h0.7v0.7h-0.7zM64.6 675.1h0.7v0.7h-0.7zM29.2 678.8h0.7v0.7h-0.7zM32.6 687.0h0.7v0.7h-0.7zM24.2 685.9h0.7v0.7h-0.7zM25.9 674.6h0.7v0.7h-0.7zM44.5 674.6h0.7v0.7h-0.7zM41.5 673.7h0.7v0.7h-0.7zM30.7 676.3h0.7v0.7h-0.7zM41.3 666.1h0.7v0.7h-0.7zM49.9 673.4h0.7v0.7h-0.7zM32.2 688.3h0.7v0.7h-0.7zM34.6 659.5h0.7v0.7h-0.7zM59.2 665.9h0.7v0.7h-0.7zM61.9 672.2h0.7v0.7h-0.7zM30.3 687.2h0.7v0.7h-0.7zM48.4 680.4h0.7v0.7h-0.7zM42.8 687.6h0.7v0.7h-0.7zM54.7 667.5h0.7v0.7h-0.7zM22.1 679.4h0.7v0.7h-0.7zM43.2 665.1h0.7v0.7h-0.7zM39.7 687.9h0.7v0.7h-0.7zM35.9 685.7h0.7v0.7h-0.7zM29.7 669.0h0.7v0.7h-0.7zM54.8 668.9h0.7v0.7h-0.7zM45.2 682.2h0.7v0.7h-0.7zM64.0 656.9h0.7v0.7h-0.7zM50.0 673.8h0.7v0.7h-0.7zM44.2 689.3h0.7v0.7h-0.7zM39.0 669.7h0.7v0.7h-0.7zM49.0 654.2h0.7v0.7h-0.7zM47.2 664.7h0.7v0.7h-0.7zM46.6 666.2h0.7v0.7h-0.7zM49.0 669.9h0.7v0.7h-0.7zM32.6 681.5h0.7v0.7h-0.7zM52.2 657.0h0.7v0.7h-0.7zM25.0 676.6h0.7v0.7h-0.7zM37.1 687.2h0.7v0.7h-0.7zM63.4 672.2h0.7v0.7h-0.7zM56.9 667.0h0.7v0.7h-0.7zM23.9 681.9h0.7v0.7h-0.7zM45.6 683.3h0.7v0.7h-0.7zM33.6 662.2h0.7v0.7h-0.7zM39.5 679.1h0.7v0.7h-0.7zM39.3 670.4h0.7v0.7h-0.7zM43.2 672.0h0.7v0.7h-0.7zM60.8 657.1h0.7v0.7h-0.7zM45.8 659.5h0.7v0.7h-0.7zM41.6 678.1h0.7v0.7h-0.7zM46.7 675.4h0.7v0.7h-0.7zM32.1 664.1h0.7v0.7h-0.7zM55.0 667.3h0.7v0.7h-0.7zM52.1 646.4h0.7v0.7h-0.7zM20.6 688.6h0.7v0.7h-0.7zM46.6 683.7h0.7v0.7h-0.7zM42.3 659.3h0.7v0.7h-0.7zM40.0 670.9h0.7v0.7h-0.7zM46.0 671.3h0.7v0.7h-0.7zM49.7 661.1h0.7v0.7h-0.7zM34.8 671.5h0.7v0.7h-0.7zM47.7 657.3h0.7v0.7h-0.7zM18.0 690.0h0.7v0.7h-0.7zM43.5 682.4h0.7v0.7h-0.7zM42.9 676.1h0.7v0.7h-0.7zM47.1 676.7h0.7v0.7h-0.7zM26.0 677.5h0.7v0.7h-0.7zM66.6 679.6h0.7v0.7h-0.7zM30.8 668.9h0.7v0.7h-0.7zM39.8 684.0h0.7v0.7h-0.7zM54.4 665.3h0.7v0.7h-0.7zM62.0 674.3h0.7v0.7h-0.7zM50.1 676.7h0.7v0.7h-0.7zM66.8 676.6h0.7v0.7h-0.7zM61.5 658.3h0.7v0.7h-0.7zM35.2 676.0h0.7v0.7h-0.7zM41.9 673.5h0.7v0.7h-0.7zM39.5 673.7h0.7v0.7h-0.7zM37.5 662.8h0.7v0.7h-0.7zM57.2 669.9h0.7v0.7h-0.7zM47.0 672.9h0.7v0.7h-0.7zM31.7 662.9h0.7v0.7h-0.7zM38.3 679.8h0.7v0.7h-0.7zM40.5 681.0h0.7v0.7h-0.7zM31.5 674.4h0.7v0.7h-0.7zM44.1 672.6h0.7v0.7h-0.7zM44.5 686.0h0.7v0.7h-0.7zM36.5 676.8h0.7v0.7h-0.7zM33.4 681.3h0.7v0.7h-0.7zM45.1 666.6h0.7v0.7h-0.7zM28.6 667.3h0.7v0.7h-0.7zM38.3 676.4h0.7v0.7h-0.7zM35.5 674.9h0.7v0.7h-0.7zM57.9 690.0h0.7v0.7h-0.7zM43.9 675.4h0.7v0.7h-0.7zM68.3 669.9h0.7v0.7h-0.7zM50.9 667.0h0.7v0.7h-0.7zM34.8 683.0h0.7v0.7h-0.7zM34.0 670.5h0.7v0.7h-0.7zM22.1 682.3h0.7v0.7h-0.7zM40.8 679.2h0.7v0.7h-0.7zM30.4 666.4h0.7v0.7h-0.7zM56.9 670.0h0.7v0.7h-0.7zM52.7 660.8h0.7v0.7h-0.7zM24.7 656.6h0.7v0.7h-0.7zM46.1 681.6h0.7v0.7h-0.7zM59.9 684.6h0.7v0.7h-0.7zM35.0 669.0h0.7v0.7h-0.7zM39.2 667.7h0.7v0.7h-0.7zM22.3 679.3h0.7v0.7h-0.7zM43.7 666.7h0.7v0.7h-0.7zM42.5 662.4h0.7v0.7h-0.7zM37.6 672.3h0.7v0.7h-0.7zM35.9 675.1h0.7v0.7h-0.7zM25.0 667.0h0.7v0.7h-0.7zM30.9 683.7h0.7v0.7h-0.7zM29.3 669.4h0.7v0.7h-0.7zM68.7 664.1h0.7v0.7h-0.7zM36.9 667.6h0.7v0.7h-0.7zM61.8 673.0h0.7v0.7h-0.7zM45.6 687.1h0.7v0.7h-0.7zM26.0 663.7h0.7v0.7h-0.7zM56.9 673.6h0.7v0.7h-0.7zM35.1 683.0h0.7v0.7h-0.7zM25.0 682.1h0.7v0.7h-0.7zM55.2 678.1h0.7v0.7h-0.7zM37.2 671.9h0.7v0.7h-0.7zM36.2 681.8h0.7v0.7h-0.7zM36.6 674.3h0.7v0.7h-0.7zM55.8 669.1h0.7v0.7h-0.7zM45.3 672.0h0.7v0.7h-0.7zM42.1 654.3h0.7v0.7h-0.7zM29.4 680.9h0.7v0.7h-0.7zM33.4 671.0h0.7v0.7h-0.7zM31.8 668.5h0.7v0.7h-0.7zM17.9 685.0h0.7v0.7h-0.7zM41.3 666.8h0.7v0.7h-0.7zM36.5 684.3h0.7v0.7h-0.7zM55.7 673.3h0.7v0.7h-0.7zM57.6 678.5h0.7v0.7h-0.7zM35.8 682.8h0.7v0.7h-0.7zM44.1 680.2h0.7v0.7h-0.7zM25.1 682.1h0.7v0.7h-0.7zM35.0 672.7h0.7v0.7h-0.7zM41.7 673.7h0.7v0.7h-0.7zM65.0 667.0h0.7v0.7h-0.7zM45.4 682.5h0.7v0.7h-0.7zM62.3 659.7h0.7v0.7h-0.7zM46.1 661.1h0.7v0.7h-0.7zM48.6 684.7h0.7v0.7h-0.7zM35.0 673.5h0.7v0.7h-0.7zM58.0 673.3h0.7v0.7h-0.7zM52.8 666.8h0.7v0.7h-0.7zM37.7 671.9h0.7v0.7h-0.7zM63.1 654.7h0.7v0.7h-0.7zM35.0 689.9h0.7v0.7h-0.7zM41.0 664.6h0.7v0.7h-0.7zM45.2 671.2h0.7v0.7h-0.7zM40.4 678.9h0.7v0.7h-0.7zM52.6 657.7h0.7v0.7h-0.7zM44.7 686.6h0.7v0.7h-0.7zM23.9 678.3h0.7v0.7h-0.7zM26.3 684.4h0.7v0.7h-0.7zM30.6 674.3h0.7v0.7h-0.7zM36.4 679.7h0.7v0.7h-0.7zM24.4 666.6h0.7v0.7h-0.7zM44.5 685.4h0.7v0.7h-0.7zM35.2 679.6h0.7v0.7h-0.7zM45.6 674.0h0.7v0.7h-0.7zM41.7 669.2h0.7v0.7h-0.7zM38.7 685.7h0.7v0.7h-0.7zM48.0 683.7h0.7v0.7h-0.7zM32.2 677.9h0.7v0.7h-0.7zM33.3 664.7h0.7v0.7h-0.7zM54.1 668.0h0.7v0.7h-0.7zM45.2 660.4h0.7v0.7h-0.7zM38.6 673.9h0.7v0.7h-0.7zM36.7 684.6h0.7v0.7h-0.7zM48.1 673.4h0.7v0.7h-0.7zM45.1 669.2h0.7v0.7h-0.7zM32.4 674.2h0.7v0.7h-0.7zM28.2 676.4h0.7v0.7h-0.7zM40.4 684.5h0.7v0.7h-0.7zM34.9 677.2h0.7v0.7h-0.7zM41.6 668.6h0.7v0.7h-0.7zM41.1 658.4h0.7v0.7h-0.7zM57.0 664.6h0.7v0.7h-0.7zM41.6 657.9h0.7v0.7h-0.7zM49.6 660.4h0.7v0.7h-0.7zM60.2 659.4h0.7v0.7h-0.7zM32.1 682.8h0.7v0.7h-0.7zM59.1 651.4h0.7v0.7h-0.7zM47.9 658.7h0.7v0.7h-0.7zM36.1 681.9h0.7v0.7h-0.7zM36.7 689.0h0.7v0.7h-0.7zM32.3 678.3h0.7v0.7h-0.7zM57.5 682.9h0.7v0.7h-0.7zM45.1 678.3h0.7v0.7h-0.7zM37.4 674.7h0.7v0.7h-0.7zM34.2 679.7h0.7v0.7h-0.7zM53.2 661.8h0.7v0.7h-0.7zM26.3 678.9h0.7v0.7h-0.7zM68.8 668.4h0.7v0.7h-0.7zM43.7 673.1h0.7v0.7h-0.7zM19.4 674.1h0.7v0.7h-0.7zM62.2 649.3h0.7v0.7h-0.7zM66.0 656.4h0.7v0.7h-0.7zM62.0 667.0h0.7v0.7h-0.7zM49.8 666.8h0.7v0.7h-0.7zM35.9 677.6h0.7v0.7h-0.7zM37.7 665.5h0.7v0.7h-0.7zM38.2 680.9h0.7v0.7h-0.7zM31.6 680.2h0.7v0.7h-0.7zM23.8 680.0h0.7v0.7h-0.7zM26.4 685.3h0.7v0.7h-0.7zM27.9 683.6h0.7v0.7h-0.7zM56.6 662.3h0.7v0.7h-0.7zM42.6 666.1h0.7v0.7h-0.7zM48.3 679.0h0.7v0.7h-0.7zM57.3 681.6h0.7v0.7h-0.7zM59.4 662.4h0.7v0.7h-0.7zM43.4 678.3h0.7v0.7h-0.7zM44.4 661.4h0.7v0.7h-0.7zM42.7 650.3h0.7v0.7h-0.7zM66.4 665.4h0.7v0.7h-0.7zM48.9 679.1h0.7v0.7h-0.7zM22.6 676.5h0.7v0.7h-0.7zM48.5 678.1h0.7v0.7h-0.7zM47.1 648.9h0.7v0.7h-0.7zM63.3 654.0h0.7v0.7h-0.7zM47.1 680.9h0.7v0.7h-0.7zM28.8 663.4h0.7v0.7h-0.7zM45.5 669.0h0.7v0.7h-0.7zM40.6 672.5h0.7v0.7h-0.7zM40.3 677.3h0.7v0.7h-0.7zM34.7 675.7h0.7v0.7h-0.7zM34.3 668.3h0.7v0.7h-0.7zM46.6 665.2h0.7v0.7h-0.7zM49.0 671.7h0.7v0.7h-0.7zM56.4 675.2h0.7v0.7h-0.7zM50.7 672.5h0.7v0.7h-0.7zM42.4 683.7h0.7v0.7h-0.7zM50.9 659.2h0.7v0.7h-0.7zM43.1 682.7h0.7v0.7h-0.7zM43.9 661.8h0.7v0.7h-0.7zM52.3 676.5h0.7v0.7h-0.7zM57.3 671.2h0.7v0.7h-0.7zM43.4 681.3h0.7v0.7h-0.7zM47.2 674.5h0.7v0.7h-0.7zM52.0 678.3h0.7v0.7h-0.7zM40.4 667.3h0.7v0.7h-0.7zM54.0 679.1h0.7v0.7h-0.7zM46.9 666.9h0.7v0.7h-0.7zM43.3 665.0h0.7v0.7h-0.7zM53.6 685.4h0.7v0.7h-0.7zM30.3 672.4h0.7v0.7h-0.7zM24.1 680.5h0.7v0.7h-0.7zM38.9 675.0h0.7v0.7h-0.7zM42.4 669.6h0.7v0.7h-0.7zM43.4 673.0h0.7v0.7h-0.7zM32.2 673.9h0.7v0.7h-0.7zM34.2 664.5h0.7v0.7h-0.7zM41.5 657.2h0.7v0.7h-0.7zM48.9 671.7h0.7v0.7h-0.7zM44.1 683.9h0.7v0.7h-0.7zM54.6 666.4h0.7v0.7h-0.7zM46.5 683.5h0.7v0.7h-0.7zM39.7 678.0h0.7v0.7h-0.7zM47.5 663.0h0.7v0.7h-0.7zM45.6 669.4h0.7v0.7h-0.7zM38.3 678.9h0.7v0.7h-0.7zM50.6 663.3h0.7v0.7h-0.7zM38.4 673.2h0.7v0.7h-0.7zM29.1 681.0h0.7v0.7h-0.7zM39.1 668.4h0.7v0.7h-0.7zM54.4 669.6h0.7v0.7h-0.7zM26.3 677.6h0.7v0.7h-0.7zM39.3 677.4h0.7v0.7h-0.7zM61.2 666.9h0.7v0.7h-0.7zM48.1 676.7h0.7v0.7h-0.7zM40.4 676.6h0.7v0.7h-0.7zM35.8 682.0h0.7v0.7h-0.7zM40.1 677.8h0.7v0.7h-0.7zM43.8 658.7h0.7v0.7h-0.7zM47.5 664.4h0.7v0.7h-0.7zM44.5 669.4h0.7v0.7h-0.7zM38.2 661.2h0.7v0.7h-0.7zM24.3 674.0h0.7v0.7h-0.7zM27.5 680.3h0.7v0.7h-0.7zM23.1 681.4h0.7v0.7h-0.7zM49.2 665.1h0.7v0.7h-0.7zM29.0 674.5h0.7v0.7h-0.7zM52.4 683.6h0.7v0.7h-0.7zM50.1 673.4h0.7v0.7h-0.7zM41.5 664.4h0.7v0.7h-0.7zM37.1 685.5h0.7v0.7h-0.7zM60.3 663.2h0.7v0.7h-0.7zM42.2 678.0h0.7v0.7h-0.7zM39.5 658.3h0.7v0.7h-0.7zM46.0 664.0h0.7v0.7h-0.7zM38.0 669.4h0.7v0.7h-0.7zM62.0 650.5h0.7v0.7h-0.7zM21.1 675.3h0.7v0.7h-0.7zM32.9 683.6h0.7v0.7h-0.7zM62.8 661.4h0.7v0.7h-0.7zM49.4 669.9h0.7v0.7h-0.7zM65.2 659.9h0.7v0.7h-0.7zM50.3 666.9h0.7v0.7h-0.7zM40.5 670.2h0.7v0.7h-0.7zM39.9 675.0h0.7v0.7h-0.7zM33.6 678.9h0.7v0.7h-0.7zM24.4 686.4h0.7v0.7h-0.7zM29.0 660.8h0.7v0.7h-0.7zM53.0 667.7h0.7v0.7h-0.7zM34.7 684.4h0.7v0.7h-0.7zM47.5 659.4h0.7v0.7h-0.7zM35.0 669.9h0.7v0.7h-0.7zM47.9 677.3h0.7v0.7h-0.7zM44.0 653.3h0.7v0.7h-0.7zM60.4 686.8h0.7v0.7h-0.7zM34.8 675.8h0.7v0.7h-0.7zM32.3 674.9h0.7v0.7h-0.7zM30.2 667.1h0.7v0.7h-0.7zM58.0 651.7h0.7v0.7h-0.7zM55.6 659.7h0.7v0.7h-0.7zM38.4 656.7h0.7v0.7h-0.7zM50.5 662.4h0.7v0.7h-0.7zM45.1 679.1h0.7v0.7h-0.7zM28.8 670.2h0.7v0.7h-0.7zM27.5 683.2h0.7v0.7h-0.7zM45.8 682.1h0.7v0.7h-0.7zM22.5 671.1h0.7v0.7h-0.7zM40.2 670.4h0.7v0.7h-0.7zM46.0 683.0h0.7v0.7h-0.7zM43.6 666.3h0.7v0.7h-0.7zM41.2 667.6h0.7v0.7h-0.7zM50.9 688.0h0.7v0.7h-0.7zM39.0 674.2h0.7v0.7h-0.7zM24.8 681.0h0.7v0.7h-0.7zM51.6 677.5h0.7v0.7h-0.7zM26.2 679.5h0.7v0.7h-0.7zM54.2 666.2h0.7v0.7h-0.7zM51.3 666.7h0.7v0.7h-0.7zM41.8 668.7h0.7v0.7h-0.7zM21.9 672.1h0.7v0.7h-0.7zM44.1 670.7h0.7v0.7h-0.7zM41.7 668.8h0.7v0.7h-0.7zM53.7 669.0h0.7v0.7h-0.7zM47.1 668.2h0.7v0.7h-0.7zM59.3 668.1h0.7v0.7h-0.7zM47.6 658.2h0.7v0.7h-0.7zM32.9 679.5h0.7v0.7h-0.7zM24.2 665.6h0.7v0.7h-0.7zM40.2 660.1h0.7v0.7h-0.7zM56.4 673.8h0.7v0.7h-0.7zM37.6 686.2h0.7v0.7h-0.7zM32.7 665.8h0.7v0.7h-0.7zM54.0 670.7h0.7v0.7h-0.7zM38.8 684.3h0.7v0.7h-0.7zM40.0 680.4h0.7v0.7h-0.7zM44.8 683.7h0.7v0.7h-0.7zM49.2 667.6h0.7v0.7h-0.7zM62.1 665.0h0.7v0.7h-0.7zM65.1 655.8h0.7v0.7h-0.7zM42.6 653.5h0.7v0.7h-0.7zM48.8 684.2h0.7v0.7h-0.7zM36.6 679.8h0.7v0.7h-0.7zM38.9 688.0h0.7v0.7h-0.7zM46.4 675.9h0.7v0.7h-0.7zM56.6 656.0h0.7v0.7h-0.7zM51.2 672.6h0.7v0.7h-0.7zM59.3 669.3h0.7v0.7h-0.7zM50.0 671.2h0.7v0.7h-0.7zM28.7 673.2h0.7v0.7h-0.7zM39.5 662.6h0.7v0.7h-0.7zM41.3 669.9h0.7v0.7h-0.7zM66.3 664.8h0.7v0.7h-0.7zM43.6 674.4h0.7v0.7h-0.7zM51.2 656.7h0.7v0.7h-0.7zM30.7 669.1h0.7v0.7h-0.7zM57.6 672.2h0.7v0.7h-0.7zM31.1 683.9h0.7v0.7h-0.7zM37.7 678.3h0.7v0.7h-0.7zM29.1 676.8h0.7v0.7h-0.7zM35.4 678.4h0.7v0.7h-0.7zM39.0 678.9h0.7v0.7h-0.7zM57.5 659.3h0.7v0.7h-0.7zM33.2 688.5h0.7v0.7h-0.7zM68.1 642.2h0.7v0.7h-0.7zM49.2 681.0h0.7v0.7h-0.7zM32.9 668.7h0.7v0.7h-0.7zM26.8 676.5h0.7v0.7h-0.7zM26.6 684.8h0.7v0.7h-0.7zM32.7 681.3h0.7v0.7h-0.7zM20.9 688.1h0.7v0.7h-0.7zM50.9 680.0h0.7v0.7h-0.7zM54.9 670.7h0.7v0.7h-0.7zM63.5 664.6h0.7v0.7h-0.7zM44.0 688.3h0.7v0.7h-0.7zM35.8 675.7h0.7v0.7h-0.7zM45.3 674.7h0.7v0.7h-0.7zM38.8 684.1h0.7v0.7h-0.7zM22.3 675.4h0.7v0.7h-0.7zM23.4 667.8h0.7v0.7h-0.7zM28.1 687.6h0.7v0.7h-0.7zM44.1 679.9h0.7v0.7h-0.7zM40.5 683.7h0.7v0.7h-0.7zM36.5 687.4h0.7v0.7h-0.7zM53.8 672.6h0.7v0.7h-0.7zM22.3 669.6h0.7v0.7h-0.7zM45.5 663.5h0.7v0.7h-0.7zM39.7 673.2h0.7v0.7h-0.7zM60.4 662.5h0.7v0.7h-0.7zM43.8 669.3h0.7v0.7h-0.7zM31.9 680.9h0.7v0.7h-0.7zM55.0 657.3h0.7v0.7h-0.7zM62.1 688.5h0.7v0.7h-0.7zM44.1 678.1h0.7v0.7h-0.7zM28.0 674.3h0.7v0.7h-0.7zM46.1 672.0h0.7v0.7h-0.7zM60.5 660.7h0.7v0.7h-0.7zM38.7 679.7h0.7v0.7h-0.7zM41.0 672.1h0.7v0.7h-0.7zM40.5 678.1h0.7v0.7h-0.7zM52.0 661.6h0.7v0.7h-0.7zM29.9 667.2h0.7v0.7h-0.7zM47.8 655.5h0.7v0.7h-0.7zM42.0 678.5h0.7v0.7h-0.7zM39.5 672.4h0.7v0.7h-0.7zM45.5 666.3h0.7v0.7h-0.7zM37.4 674.8h0.7v0.7h-0.7zM44.7 678.3h0.7v0.7h-0.7zM34.0 683.0h0.7v0.7h-0.7zM35.8 682.8h0.7v0.7h-0.7zM60.1 674.5h0.7v0.7h-0.7zM22.8 680.2h0.7v0.7h-0.7zM44.7 661.7h0.7v0.7h-0.7zM28.6 681.6h0.7v0.7h-0.7zM37.6 674.0h0.7v0.7h-0.7zM36.2 675.8h0.7v0.7h-0.7zM63.6 659.9h0.7v0.7h-0.7zM49.0 676.4h0.7v0.7h-0.7zM33.1 666.7h0.7v0.7h-0.7zM30.1 682.6h0.7v0.7h-0.7zM44.2 682.7h0.7v0.7h-0.7z" fill="#92ce6c" fill-opacity="0.5"/>
<path d="M58.5 667.4h0.7v0.7h-0.7zM56.1 668.8h0.7v0.7h-0.7zM56.3 672.1h0.7v0.7h-0.7zM50.3 676.6h0.7v0.7h-0.7zM66.9 663.8h0.7v0.7h-0.7zM59.8 657.1h0.7v0.7h-0.7zM56.7 655.8h0.7v0.7h-0.7zM62.7 665.9h0.7v0.7h-0.7zM63.3 674.1h0.7v0.7h-0.7zM51.1 674.4h0.7v0.7h-0.7zM66.4 681.8h0.7v0.7h-0.7zM55.3 671.4h0.7v0.7h-0.7zM51.8 672.9h0.7v0.7h-0.7zM60.0 677.3h0.7v0.7h-0.7zM55.0 667.7h0.7v0.7h-0.7zM59.4 665.0h0.7v0.7h-0.7zM44.6 665.8h0.7v0.7h-0.7zM60.7 666.1h0.7v0.7h-0.7zM58.9 654.7h0.7v0.7h-0.7zM60.0 670.3h0.7v0.7h-0.7zM67.0 670.9h0.7v0.7h-0.7zM51.9 662.3h0.7v0.7h-0.7zM48.5 665.0h0.7v0.7h-0.7zM55.4 676.8h0.7v0.7h-0.7zM67.1 665.1h0.7v0.7h-0.7zM60.0 664.8h0.7v0.7h-0.7zM47.4 673.1h0.7v0.7h-0.7zM51.2 655.7h0.7v0.7h-0.7zM50.4 679.8h0.7v0.7h-0.7zM48.3 679.3h0.7v0.7h-0.7zM46.9 668.6h0.7v0.7h-0.7zM59.4 663.2h0.7v0.7h-0.7zM49.5 668.5h0.7v0.7h-0.7zM67.3 669.5h0.7v0.7h-0.7zM57.4 671.1h0.7v0.7h-0.7zM64.0 675.4h0.7v0.7h-0.7zM54.2 660.7h0.7v0.7h-0.7zM49.4 669.0h0.7v0.7h-0.7zM54.0 667.5h0.7v0.7h-0.7zM51.9 687.1h0.7v0.7h-0.7zM51.4 679.1h0.7v0.7h-0.7zM50.3 662.3h0.7v0.7h-0.7zM48.2 660.5h0.7v0.7h-0.7zM45.1 663.2h0.7v0.7h-0.7zM54.4 672.7h0.7v0.7h-0.7zM44.1 673.2h0.7v0.7h-0.7zM55.3 667.2h0.7v0.7h-0.7zM41.5 674.1h0.7v0.7h-0.7zM60.5 674.8h0.7v0.7h-0.7zM54.1 677.0h0.7v0.7h-0.7zM56.5 659.9h0.7v0.7h-0.7zM59.6 673.7h0.7v0.7h-0.7zM57.6 666.4h0.7v0.7h-0.7zM54.4 672.6h0.7v0.7h-0.7zM43.9 672.1h0.7v0.7h-0.7zM47.4 665.0h0.7v0.7h-0.7zM57.4 676.2h0.7v0.7h-0.7zM56.0 660.0h0.7v0.7h-0.7zM37.8 670.5h0.7v0.7h-0.7zM51.1 663.5h0.7v0.7h-0.7zM63.1 681.8h0.7v0.7h-0.7zM56.7 656.6h0.7v0.7h-0.7zM61.9 666.4h0.7v0.7h-0.7zM53.3 669.2h0.7v0.7h-0.7zM48.2 670.3h0.7v0.7h-0.7zM58.4 675.6h0.7v0.7h-0.7zM58.6 660.4h0.7v0.7h-0.7zM56.9 675.7h0.7v0.7h-0.7zM60.4 663.8h0.7v0.7h-0.7zM68.2 671.1h0.7v0.7h-0.7zM64.4 665.8h0.7v0.7h-0.7zM65.1 663.9h0.7v0.7h-0.7zM61.9 666.0h0.7v0.7h-0.7zM56.0 655.2h0.7v0.7h-0.7zM62.7 669.9h0.7v0.7h-0.7zM51.8 668.5h0.7v0.7h-0.7zM60.1 671.0h0.7v0.7h-0.7zM42.0 681.7h0.7v0.7h-0.7zM49.1 683.2h0.7v0.7h-0.7zM63.8 666.4h0.7v0.7h-0.7zM57.4 668.9h0.7v0.7h-0.7zM53.3 679.3h0.7v0.7h-0.7zM51.5 664.0h0.7v0.7h-0.7zM54.5 655.2h0.7v0.7h-0.7zM63.1 656.4h0.7v0.7h-0.7zM66.3 672.0h0.7v0.7h-0.7zM54.0 664.1h0.7v0.7h-0.7zM61.5 658.9h0.7v0.7h-0.7zM53.9 649.8h0.7v0.7h-0.7zM56.4 668.6h0.7v0.7h-0.7zM62.6 669.9h0.7v0.7h-0.7zM62.1 657.2h0.7v0.7h-0.7zM32.3 668.8h0.7v0.7h-0.7zM62.6 666.9h0.7v0.7h-0.7zM65.9 681.4h0.7v0.7h-0.7zM51.3 665.0h0.7v0.7h-0.7zM66.5 651.8h0.7v0.7h-0.7zM38.9 673.1h0.7v0.7h-0.7zM58.3 678.2h0.7v0.7h-0.7zM61.1 665.6h0.7v0.7h-0.7zM52.2 653.8h0.7v0.7h-0.7zM59.6 661.5h0.7v0.7h-0.7zM53.4 670.1h0.7v0.7h-0.7zM42.1 669.6h0.7v0.7h-0.7zM51.8 683.4h0.7v0.7h-0.7zM55.2 676.0h0.7v0.7h-0.7zM49.3 656.4h0.7v0.7h-0.7zM62.1 663.0h0.7v0.7h-0.7zM46.8 677.5h0.7v0.7h-0.7zM59.5 652.9h0.7v0.7h-0.7zM54.5 682.9h0.7v0.7h-0.7zM56.8 656.3h0.7v0.7h-0.7zM50.3 679.1h0.7v0.7h-0.7zM66.4 670.0h0.7v0.7h-0.7zM45.7 675.9h0.7v0.7h-0.7zM50.4 664.4h0.7v0.7h-0.7zM52.6 676.2h0.7v0.7h-0.7zM59.6 670.7h0.7v0.7h-0.7zM53.0 663.7h0.7v0.7h-0.7zM63.5 660.6h0.7v0.7h-0.7zM54.1 671.8h0.7v0.7h-0.7zM54.8 675.0h0.7v0.7h-0.7zM59.9 671.2h0.7v0.7h-0.7zM50.6 648.8h0.7v0.7h-0.7zM51.4 661.8h0.7v0.7h-0.7zM61.0 675.8h0.7v0.7h-0.7zM63.5 663.9h0.7v0.7h-0.7zM43.3 637.3h0.7v0.7h-0.7zM53.6 652.4h0.7v0.7h-0.7zM62.1 658.3h0.7v0.7h-0.7zM60.6 660.7h0.7v0.7h-0.7zM59.4 658.8h0.7v0.7h-0.7zM58.8 680.7h0.7v0.7h-0.7zM58.7 655.7h0.7v0.7h-0.7zM50.6 669.4h0.7v0.7h-0.7zM61.7 656.0h0.7v0.7h-0.7zM49.7 655.7h0.7v0.7h-0.7zM68.3 666.5h0.7v0.7h-0.7zM58.3 663.1h0.7v0.7h-0.7zM55.4 676.8h0.7v0.7h-0.7zM60.1 663.9h0.7v0.7h-0.7zM53.5 667.7h0.7v0.7h-0.7zM65.7 653.6h0.7v0.7h-0.7zM44.5 675.0h0.7v0.7h-0.7zM63.4 676.8h0.7v0.7h-0.7zM60.1 654.2h0.7v0.7h-0.7zM61.8 667.1h0.7v0.7h-0.7zM49.1 656.0h0.7v0.7h-0.7zM45.3 670.0h0.7v0.7h-0.7zM47.1 671.9h0.7v0.7h-0.7zM55.0 672.4h0.7v0.7h-0.7zM62.1 658.4h0.7v0.7h-0.7zM53.5 673.5h0.7v0.7h-0.7zM51.6 676.1h0.7v0.7h-0.7zM60.2 673.2h0.7v0.7h-0.7zM51.9 674.2h0.7v0.7h-0.7zM54.6 669.1h0.7v0.7h-0.7zM60.5 661.6h0.7v0.7h-0.7zM55.8 648.2h0.7v0.7h-0.7zM51.3 673.0h0.7v0.7h-0.7zM48.5 651.9h0.7v0.7h-0.7zM46.1 666.9h0.7v0.7h-0.7zM60.7 670.2h0.7v0.7h-0.7zM46.2 672.5h0.7v0.7h-0.7zM47.6 677.6h0.7v0.7h-0.7zM58.8 661.3h0.7v0.7h-0.7zM52.8 667.1h0.7v0.7h-0.7zM52.1 677.2h0.7v0.7h-0.7zM58.2 662.0h0.7v0.7h-0.7zM59.2 655.3h0.7v0.7h-0.7zM57.1 664.1h0.7v0.7h-0.7zM52.1 667.4h0.7v0.7h-0.7zM57.6 655.0h0.7v0.7h-0.7zM58.6 690.0h0.7v0.7h-0.7zM61.5 661.0h0.7v0.7h-0.7zM58.5 679.6h0.7v0.7h-0.7zM48.6 681.9h0.7v0.7h-0.7zM53.6 682.7h0.7v0.7h-0.7zM50.4 676.6h0.7v0.7h-0.7zM52.1 677.9h0.7v0.7h-0.7zM62.2 668.3h0.7v0.7h-0.7zM50.3 676.6h0.7v0.7h-0.7zM58.6 657.7h0.7v0.7h-0.7zM59.9 664.8h0.7v0.7h-0.7zM55.3 659.3h0.7v0.7h-0.7zM57.5 673.5h0.7v0.7h-0.7zM50.3 674.7h0.7v0.7h-0.7zM43.6 670.7h0.7v0.7h-0.7zM57.9 658.9h0.7v0.7h-0.7zM57.1 656.3h0.7v0.7h-0.7zM68.8 667.2h0.7v0.7h-0.7zM63.5 657.8h0.7v0.7h-0.7zM40.7 669.8h0.7v0.7h-0.7zM65.2 663.6h0.7v0.7h-0.7zM63.9 668.4h0.7v0.7h-0.7zM58.3 674.9h0.7v0.7h-0.7zM52.0 664.6h0.7v0.7h-0.7zM63.5 668.9h0.7v0.7h-0.7zM52.4 659.2h0.7v0.7h-0.7zM66.1 638.8h0.7v0.7h-0.7zM62.2 664.4h0.7v0.7h-0.7zM47.3 672.2h0.7v0.7h-0.7zM59.3 684.5h0.7v0.7h-0.7zM58.0 646.4h0.7v0.7h-0.7zM49.8 674.5h0.7v0.7h-0.7zM52.8 667.3h0.7v0.7h-0.7zM55.5 678.6h0.7v0.7h-0.7zM58.3 665.2h0.7v0.7h-0.7zM51.7 676.0h0.7v0.7h-0.7zM51.4 671.4h0.7v0.7h-0.7zM58.9 672.3h0.7v0.7h-0.7zM61.3 668.0h0.7v0.7h-0.7zM51.0 660.9h0.7v0.7h-0.7zM51.4 678.7h0.7v0.7h-0.7zM48.7 681.2h0.7v0.7h-0.7zM58.9 661.6h0.7v0.7h-0.7zM49.4 667.7h0.7v0.7h-0.7zM61.1 665.2h0.7v0.7h-0.7zM60.8 667.2h0.7v0.7h-0.7zM65.1 661.0h0.7v0.7h-0.7zM55.2 658.1h0.7v0.7h-0.7zM53.9 659.5h0.7v0.7h-0.7zM46.0 667.5h0.7v0.7h-0.7zM60.6 648.0h0.7v0.7h-0.7zM47.6 657.7h0.7v0.7h-0.7zM58.5 670.9h0.7v0.7h-0.7zM58.2 665.0h0.7v0.7h-0.7zM50.9 669.6h0.7v0.7h-0.7zM50.3 666.4h0.7v0.7h-0.7zM58.7 664.3h0.7v0.7h-0.7zM64.0 647.8h0.7v0.7h-0.7zM45.5 677.3h0.7v0.7h-0.7zM52.3 664.1h0.7v0.7h-0.7zM52.4 667.3h0.7v0.7h-0.7zM55.0 670.1h0.7v0.7h-0.7zM62.2 680.4h0.7v0.7h-0.7zM42.0 669.3h0.7v0.7h-0.7zM50.2 670.0h0.7v0.7h-0.7zM49.4 669.0h0.7v0.7h-0.7zM57.9 666.2h0.7v0.7h-0.7zM57.6 671.9h0.7v0.7h-0.7zM49.1 668.2h0.7v0.7h-0.7zM63.0 672.8h0.7v0.7h-0.7zM62.5 658.9h0.7v0.7h-0.7zM51.7 675.8h0.7v0.7h-0.7zM56.1 669.3h0.7v0.7h-0.7zM53.7 674.8h0.7v0.7h-0.7zM57.2 658.8h0.7v0.7h-0.7zM58.5 663.6h0.7v0.7h-0.7zM54.3 671.9h0.7v0.7h-0.7zM57.0 662.2h0.7v0.7h-0.7zM48.3 665.2h0.7v0.7h-0.7zM55.1 657.7h0.7v0.7h-0.7zM51.9 686.5h0.7v0.7h-0.7zM51.8 668.4h0.7v0.7h-0.7zM47.9 666.3h0.7v0.7h-0.7zM57.7 667.9h0.7v0.7h-0.7zM44.9 669.8h0.7v0.7h-0.7zM49.6 677.1h0.7v0.7h-0.7zM55.4 679.7h0.7v0.7h-0.7zM58.4 657.1h0.7v0.7h-0.7zM62.3 661.7h0.7v0.7h-0.7zM55.3 667.9h0.7v0.7h-0.7zM47.5 678.3h0.7v0.7h-0.7zM57.0 658.5h0.7v0.7h-0.7zM47.0 672.7h0.7v0.7h-0.7zM64.0 668.4h0.7v0.7h-0.7zM58.1 663.2h0.7v0.7h-0.7zM63.2 669.7h0.7v0.7h-0.7zM50.8 663.3h0.7v0.7h-0.7zM41.8 679.4h0.7v0.7h-0.7zM58.9 672.4h0.7v0.7h-0.7zM54.6 684.4h0.7v0.7h-0.7zM49.4 661.8h0.7v0.7h-0.7zM66.7 671.8h0.7v0.7h-0.7zM61.0 665.0h0.7v0.7h-0.7zM55.7 668.2h0.7v0.7h-0.7zM58.8 661.6h0.7v0.7h-0.7zM62.9 679.3h0.7v0.7h-0.7zM52.5 660.2h0.7v0.7h-0.7zM56.8 686.4h0.7v0.7h-0.7zM49.7 679.2h0.7v0.7h-0.7zM51.6 662.0h0.7v0.7h-0.7zM63.2 664.0h0.7v0.7h-0.7zM55.7 672.7h0.7v0.7h-0.7zM63.5 667.2h0.7v0.7h-0.7zM66.3 659.3h0.7v0.7h-0.7zM52.6 673.2h0.7v0.7h-0.7zM60.3 652.3h0.7v0.7h-0.7zM54.0 673.0h0.7v0.7h-0.7zM55.0 681.5h0.7v0.7h-0.7zM45.6 671.0h0.7v0.7h-0.7zM50.5 655.7h0.7v0.7h-0.7zM54.5 666.9h0.7v0.7h-0.7zM53.3 662.7h0.7v0.7h-0.7zM61.7 657.5h0.7v0.7h-0.7zM51.9 656.9h0.7v0.7h-0.7zM63.7 653.6h0.7v0.7h-0.7zM67.4 657.2h0.7v0.7h-0.7zM55.7 680.0h0.7v0.7h-0.7zM49.0 679.1h0.7v0.7h-0.7zM47.4 665.4h0.7v0.7h-0.7zM59.7 668.9h0.7v0.7h-0.7zM58.2 669.1h0.7v0.7h-0.7zM66.4 651.9h0.7v0.7h-0.7zM51.5 675.0h0.7v0.7h-0.7zM46.3 663.8h0.7v0.7h-0.7zM59.4 667.0h0.7v0.7h-0.7zM54.9 660.3h0.7v0.7h-0.7zM50.3 660.6h0.7v0.7h-0.7zM47.6 670.1h0.7v0.7h-0.7zM58.8 659.0h0.7v0.7h-0.7zM56.9 656.4h0.7v0.7h-0.7zM58.5 664.0h0.7v0.7h-0.7zM55.6 668.7h0.7v0.7h-0.7zM64.6 666.8h0.7v0.7h-0.7zM51.7 669.3h0.7v0.7h-0.7zM58.6 670.7h0.7v0.7h-0.7zM63.0 659.0h0.7v0.7h-0.7zM48.1 673.9h0.7v0.7h-0.7zM48.6 672.4h0.7v0.7h-0.7zM46.3 662.8h0.7v0.7h-0.7zM58.6 664.3h0.7v0.7h-0.7zM60.6 668.0h0.7v0.7h-0.7zM58.2 671.0h0.7v0.7h-0.7zM45.7 678.6h0.7v0.7h-0.7zM46.6 662.3h0.7v0.7h-0.7zM40.1 670.8h0.7v0.7h-0.7zM58.7 663.5h0.7v0.7h-0.7zM48.1 651.7h0.7v0.7h-0.7zM59.7 657.1h0.7v0.7h-0.7zM53.6 669.6h0.7v0.7h-0.7zM55.6 670.5h0.7v0.7h-0.7zM67.0 670.3h0.7v0.7h-0.7zM49.3 668.3h0.7v0.7h-0.7zM54.5 660.7h0.7v0.7h-0.7zM60.4 663.1h0.7v0.7h-0.7zM57.6 671.9h0.7v0.7h-0.7zM60.8 683.1h0.7v0.7h-0.7zM66.6 667.1h0.7v0.7h-0.7zM51.1 669.5h0.7v0.7h-0.7zM51.9 664.8h0.7v0.7h-0.7zM44.6 667.5h0.7v0.7h-0.7zM42.7 678.0h0.7v0.7h-0.7zM59.5 663.1h0.7v0.7h-0.7zM56.3 668.1h0.7v0.7h-0.7zM54.3 669.9h0.7v0.7h-0.7zM54.9 671.0h0.7v0.7h-0.7zM50.6 668.9h0.7v0.7h-0.7zM67.2 658.2h0.7v0.7h-0.7zM50.7 675.9h0.7v0.7h-0.7zM58.1 667.9h0.7v0.7h-0.7zM57.3 663.7h0.7v0.7h-0.7zM52.5 672.0h0.7v0.7h-0.7zM57.2 672.0h0.7v0.7h-0.7zM59.0 684.2h0.7v0.7h-0.7zM56.6 678.2h0.7v0.7h-0.7zM57.1 684.8h0.7v0.7h-0.7zM62.6 659.7h0.7v0.7h-0.7zM66.6 660.3h0.7v0.7h-0.7zM62.8 659.7h0.7v0.7h-0.7zM58.4 667.9h0.7v0.7h-0.7zM65.6 648.0h0.7v0.7h-0.7zM43.2 678.0h0.7v0.7h-0.7zM61.1 662.1h0.7v0.7h-0.7zM56.7 653.3h0.7v0.7h-0.7zM53.5 662.6h0.7v0.7h-0.7zM62.0 667.9h0.7v0.7h-0.7zM55.0 676.7h0.7v0.7h-0.7zM51.7 674.3h0.7v0.7h-0.7zM54.5 671.3h0.7v0.7h-0.7zM54.1 678.9h0.7v0.7h-0.7zM53.1 683.9h0.7v0.7h-0.7zM61.4 659.5h0.7v0.7h-0.7zM53.1 678.6h0.7v0.7h-0.7zM65.9 655.5h0.7v0.7h-0.7zM57.2 672.0h0.7v0.7h-0.7zM54.7 675.0h0.7v0.7h-0.7zM56.6 660.4h0.7v0.7h-0.7zM55.8 665.6h0.7v0.7h-0.7zM54.6 668.3h0.7v0.7h-0.7zM58.5 660.6h0.7v0.7h-0.7zM60.6 653.8h0.7v0.7h-0.7zM60.5 670.2h0.7v0.7h-0.7zM58.9 654.9h0.7v0.7h-0.7zM52.7 669.8h0.7v0.7h-0.7zM59.2 672.6h0.7v0.7h-0.7zM45.8 669.9h0.7v0.7h-0.7zM63.3 656.5h0.7v0.7h-0.7zM47.9 665.5h0.7v0.7h-0.7zM54.3 665.7h0.7v0.7h-0.7zM64.4 667.7h0.7v0.7h-0.7zM43.3 676.6h0.7v0.7h-0.7zM56.7 674.0h0.7v0.7h-0.7zM55.9 678.4h0.7v0.7h-0.7zM57.0 663.4h0.7v0.7h-0.7zM48.0 676.6h0.7v0.7h-0.7zM55.1 653.8h0.7v0.7h-0.7zM61.7 676.5h0.7v0.7h-0.7zM42.1 675.2h0.7v0.7h-0.7zM60.5 680.1h0.7v0.7h-0.7zM64.3 659.7h0.7v0.7h-0.7zM59.1 672.6h0.7v0.7h-0.7zM46.2 681.2h0.7v0.7h-0.7zM59.4 673.4h0.7v0.7h-0.7zM50.1 675.4h0.7v0.7h-0.7zM55.8 665.1h0.7v0.7h-0.7zM56.3 670.2h0.7v0.7h-0.7zM45.9 669.8h0.7v0.7h-0.7zM58.5 654.1h0.7v0.7h-0.7zM67.5 685.2h0.7v0.7h-0.7zM60.6 666.5h0.7v0.7h-0.7zM49.1 660.3h0.7v0.7h-0.7zM47.8 676.4h0.7v0.7h-0.7zM50.2 670.4h0.7v0.7h-0.7zM53.1 675.3h0.7v0.7h-0.7zM64.6 672.8h0.7v0.7h-0.7zM60.5 675.0h0.7v0.7h-0.7zM67.5 658.0h0.7v0.7h-0.7zM57.8 662.0h0.7v0.7h-0.7zM56.4 665.7h0.7v0.7h-0.7zM56.8 673.0h0.7v0.7h-0.7zM47.3 649.0h0.7v0.7h-0.7zM57.9 675.5h0.7v0.7h-0.7zM53.4 679.8h0.7v0.7h-0.7zM54.6 672.0h0.7v0.7h-0.7zM61.2 654.6h0.7v0.7h-0.7zM59.4 650.6h0.7v0.7h-0.7zM48.9 671.0h0.7v0.7h-0.7zM58.2 657.7h0.7v0.7h-0.7zM56.4 677.7h0.7v0.7h-0.7zM45.0 674.6h0.7v0.7h-0.7zM64.6 655.0h0.7v0.7h-0.7zM64.1 669.3h0.7v0.7h-0.7zM54.0 668.3h0.7v0.7h-0.7zM55.8 667.9h0.7v0.7h-0.7zM54.7 662.1h0.7v0.7h-0.7zM62.1 679.7h0.7v0.7h-0.7zM54.8 679.1h0.7v0.7h-0.7zM50.9 658.7h0.7v0.7h-0.7zM60.3 668.6h0.7v0.7h-0.7zM59.1 659.3h0.7v0.7h-0.7zM53.4 676.3h0.7v0.7h-0.7zM66.8 667.2h0.7v0.7h-0.7zM58.6 646.2h0.7v0.7h-0.7zM51.7 679.0h0.7v0.7h-0.7zM68.8 658.2h0.7v0.7h-0.7zM39.0 675.5h0.7v0.7h-0.7zM47.3 666.3h0.7v0.7h-0.7zM52.0 665.6h0.7v0.7h-0.7zM49.6 674.3h0.7v0.7h-0.7zM58.1 656.7h0.7v0.7h-0.7zM45.4 686.6h0.7v0.7h-0.7zM59.8 668.4h0.7v0.7h-0.7zM44.7 687.4h0.7v0.7h-0.7zM49.1 670.2h0.7v0.7h-0.7zM58.3 661.4h0.7v0.7h-0.7zM56.9 663.8h0.7v0.7h-0.7zM42.2 659.8h0.7v0.7h-0.7zM51.8 664.4h0.7v0.7h-0.7zM58.9 680.1h0.7v0.7h-0.7zM54.4 685.4h0.7v0.7h-0.7zM53.1 669.2h0.7v0.7h-0.7zM54.5 654.6h0.7v0.7h-0.7zM55.5 666.1h0.7v0.7h-0.7zM50.4 674.9h0.7v0.7h-0.7zM58.7 664.6h0.7v0.7h-0.7zM50.1 671.4h0.7v0.7h-0.7zM50.6 662.1h0.7v0.7h-0.7zM52.6 676.0h0.7v0.7h-0.7zM54.1 666.8h0.7v0.7h-0.7zM53.7 672.9h0.7v0.7h-0.7zM54.9 674.5h0.7v0.7h-0.7zM54.9 674.6h0.7v0.7h-0.7zM54.0 662.2h0.7v0.7h-0.7zM58.7 665.5h0.7v0.7h-0.7zM52.9 679.8h0.7v0.7h-0.7zM52.6 662.3h0.7v0.7h-0.7zM53.7 679.7h0.7v0.7h-0.7zM47.0 679.0h0.7v0.7h-0.7zM59.4 663.8h0.7v0.7h-0.7zM53.6 662.5h0.7v0.7h-0.7zM42.4 663.4h0.7v0.7h-0.7zM46.5 657.2h0.7v0.7h-0.7z" fill="#6cb83a" fill-opacity="0.6"/>
<path d="M22.0 680.0L30.0 668.0L42.0 660.0L55.0 654.0L64.0 650.0L70.0 652.0L70.0 688.0L50.0 691.0L30.0 691.0L20.0 688.0Z" fill="#8ecb66" fill-opacity="0.5" filter="url(#bl2)"/>
<path d="M48.0 659.0L56.0 655.5L63.0 654.0L67.0 657.0L67.0 674.0L63.0 680.0L56.0 682.0L50.0 677.0L46.0 668.0Z" fill="#66b634" fill-opacity="0.85" filter="url(#bl1)"/>
</g><g clip-path="url(#clip613b)">
<path d="M75.6 668.5h0.7v0.7h-0.7zM73.0 661.0h0.7v0.7h-0.7zM73.8 662.1h0.7v0.7h-0.7zM80.0 673.6h0.7v0.7h-0.7zM81.0 666.8h0.7v0.7h-0.7zM85.1 669.6h0.7v0.7h-0.7zM80.4 668.4h0.7v0.7h-0.7zM82.2 655.4h0.7v0.7h-0.7zM73.2 664.5h0.7v0.7h-0.7zM76.1 666.3h0.7v0.7h-0.7zM81.5 674.4h0.7v0.7h-0.7zM79.6 675.4h0.7v0.7h-0.7zM74.6 667.2h0.7v0.7h-0.7zM77.0 656.1h0.7v0.7h-0.7zM79.1 671.6h0.7v0.7h-0.7zM75.9 664.5h0.7v0.7h-0.7zM83.5 662.2h0.7v0.7h-0.7zM76.1 666.2h0.7v0.7h-0.7zM80.1 667.1h0.7v0.7h-0.7zM84.3 667.4h0.7v0.7h-0.7zM71.5 650.6h0.7v0.7h-0.7zM77.3 677.4h0.7v0.7h-0.7zM78.0 660.2h0.7v0.7h-0.7zM79.2 668.1h0.7v0.7h-0.7zM84.3 653.4h0.7v0.7h-0.7zM81.8 665.3h0.7v0.7h-0.7zM82.1 672.6h0.7v0.7h-0.7zM80.4 657.4h0.7v0.7h-0.7zM77.1 672.3h0.7v0.7h-0.7zM69.9 670.9h0.7v0.7h-0.7zM81.9 678.0h0.7v0.7h-0.7zM73.3 658.8h0.7v0.7h-0.7zM83.0 661.5h0.7v0.7h-0.7zM79.9 642.6h0.7v0.7h-0.7zM90.3 648.7h0.7v0.7h-0.7zM69.1 667.9h0.7v0.7h-0.7zM80.3 657.2h0.7v0.7h-0.7zM78.9 656.3h0.7v0.7h-0.7zM78.4 659.1h0.7v0.7h-0.7zM72.4 669.5h0.7v0.7h-0.7zM77.7 664.1h0.7v0.7h-0.7zM71.2 658.0h0.7v0.7h-0.7zM76.3 658.9h0.7v0.7h-0.7zM79.5 664.0h0.7v0.7h-0.7zM76.5 662.4h0.7v0.7h-0.7zM79.8 672.0h0.7v0.7h-0.7zM72.1 671.5h0.7v0.7h-0.7zM82.4 670.2h0.7v0.7h-0.7zM74.8 665.5h0.7v0.7h-0.7zM88.7 652.9h0.7v0.7h-0.7zM82.1 661.7h0.7v0.7h-0.7zM86.4 664.9h0.7v0.7h-0.7zM82.1 658.7h0.7v0.7h-0.7zM75.1 676.9h0.7v0.7h-0.7zM71.0 659.5h0.7v0.7h-0.7zM76.4 653.6h0.7v0.7h-0.7zM81.0 653.8h0.7v0.7h-0.7zM77.9 661.8h0.7v0.7h-0.7zM69.6 664.0h0.7v0.7h-0.7zM82.0 666.0h0.7v0.7h-0.7zM83.6 677.0h0.7v0.7h-0.7zM81.5 662.2h0.7v0.7h-0.7zM77.1 668.9h0.7v0.7h-0.7zM71.2 655.3h0.7v0.7h-0.7zM77.6 678.0h0.7v0.7h-0.7zM71.8 665.8h0.7v0.7h-0.7zM74.0 669.6h0.7v0.7h-0.7zM79.5 663.5h0.7v0.7h-0.7zM82.4 661.7h0.7v0.7h-0.7zM77.1 666.3h0.7v0.7h-0.7zM81.8 657.1h0.7v0.7h-0.7zM75.2 657.6h0.7v0.7h-0.7zM80.7 667.0h0.7v0.7h-0.7zM78.7 653.1h0.7v0.7h-0.7zM73.4 651.9h0.7v0.7h-0.7zM70.5 657.7h0.7v0.7h-0.7zM79.2 667.8h0.7v0.7h-0.7zM79.6 676.7h0.7v0.7h-0.7zM82.2 651.5h0.7v0.7h-0.7zM80.2 665.6h0.7v0.7h-0.7zM79.4 657.7h0.7v0.7h-0.7zM85.2 664.5h0.7v0.7h-0.7zM74.6 648.9h0.7v0.7h-0.7zM76.3 652.5h0.7v0.7h-0.7zM70.0 677.1h0.7v0.7h-0.7zM77.3 671.7h0.7v0.7h-0.7zM83.5 669.7h0.7v0.7h-0.7zM75.4 654.1h0.7v0.7h-0.7zM76.8 664.7h0.7v0.7h-0.7zM76.9 661.2h0.7v0.7h-0.7zM78.4 651.9h0.7v0.7h-0.7zM83.2 654.0h0.7v0.7h-0.7zM78.3 656.5h0.7v0.7h-0.7zM84.8 659.1h0.7v0.7h-0.7zM72.8 660.7h0.7v0.7h-0.7zM82.3 653.6h0.7v0.7h-0.7zM70.9 659.3h0.7v0.7h-0.7zM81.7 639.6h0.7v0.7h-0.7zM82.5 682.3h0.7v0.7h-0.7zM76.8 671.4h0.7v0.7h-0.7zM77.0 648.4h0.7v0.7h-0.7zM75.4 668.8h0.7v0.7h-0.7zM71.8 661.3h0.7v0.7h-0.7zM74.2 666.9h0.7v0.7h-0.7zM90.7 664.4h0.7v0.7h-0.7zM70.9 677.4h0.7v0.7h-0.7zM76.1 660.2h0.7v0.7h-0.7zM80.3 670.0h0.7v0.7h-0.7zM78.8 666.6h0.7v0.7h-0.7zM78.6 653.7h0.7v0.7h-0.7zM81.8 670.9h0.7v0.7h-0.7zM73.6 649.2h0.7v0.7h-0.7zM74.5 665.2h0.7v0.7h-0.7zM85.1 665.5h0.7v0.7h-0.7zM78.0 665.7h0.7v0.7h-0.7zM69.7 660.7h0.7v0.7h-0.7zM78.4 669.4h0.7v0.7h-0.7zM82.0 677.3h0.7v0.7h-0.7zM74.1 660.1h0.7v0.7h-0.7zM75.3 667.7h0.7v0.7h-0.7zM88.3 665.2h0.7v0.7h-0.7zM78.6 656.1h0.7v0.7h-0.7zM70.9 678.4h0.7v0.7h-0.7zM77.2 675.4h0.7v0.7h-0.7zM82.0 659.6h0.7v0.7h-0.7zM79.0 656.2h0.7v0.7h-0.7zM81.0 662.4h0.7v0.7h-0.7zM81.9 674.0h0.7v0.7h-0.7zM74.6 670.3h0.7v0.7h-0.7zM80.0 659.3h0.7v0.7h-0.7zM79.2 673.9h0.7v0.7h-0.7zM78.6 671.7h0.7v0.7h-0.7zM79.5 674.1h0.7v0.7h-0.7zM77.0 660.9h0.7v0.7h-0.7zM81.1 644.7h0.7v0.7h-0.7zM75.0 676.4h0.7v0.7h-0.7zM73.8 679.0h0.7v0.7h-0.7zM86.3 659.5h0.7v0.7h-0.7zM73.7 666.9h0.7v0.7h-0.7zM82.5 678.2h0.7v0.7h-0.7zM85.9 657.8h0.7v0.7h-0.7zM82.3 659.4h0.7v0.7h-0.7zM83.5 667.5h0.7v0.7h-0.7zM85.4 662.9h0.7v0.7h-0.7zM82.1 653.1h0.7v0.7h-0.7zM72.6 667.9h0.7v0.7h-0.7zM78.3 670.9h0.7v0.7h-0.7zM90.0 658.5h0.7v0.7h-0.7zM71.5 654.9h0.7v0.7h-0.7zM74.5 673.3h0.7v0.7h-0.7zM79.8 661.2h0.7v0.7h-0.7zM81.3 662.2h0.7v0.7h-0.7zM79.1 663.5h0.7v0.7h-0.7zM70.6 670.4h0.7v0.7h-0.7zM78.7 682.1h0.7v0.7h-0.7zM78.3 658.6h0.7v0.7h-0.7zM78.7 657.6h0.7v0.7h-0.7zM77.6 660.5h0.7v0.7h-0.7zM79.6 655.9h0.7v0.7h-0.7zM77.2 660.2h0.7v0.7h-0.7zM72.6 663.0h0.7v0.7h-0.7zM81.5 669.7h0.7v0.7h-0.7zM79.5 662.6h0.7v0.7h-0.7zM82.9 661.2h0.7v0.7h-0.7zM81.4 649.2h0.7v0.7h-0.7zM71.4 657.5h0.7v0.7h-0.7zM83.9 661.4h0.7v0.7h-0.7zM80.3 654.4h0.7v0.7h-0.7zM69.7 686.9h0.7v0.7h-0.7zM86.6 678.2h0.7v0.7h-0.7zM77.9 658.0h0.7v0.7h-0.7zM79.2 661.5h0.7v0.7h-0.7zM75.3 642.9h0.7v0.7h-0.7zM79.0 645.1h0.7v0.7h-0.7zM75.1 650.8h0.7v0.7h-0.7zM88.5 652.8h0.7v0.7h-0.7zM75.7 666.6h0.7v0.7h-0.7zM76.1 665.6h0.7v0.7h-0.7zM82.8 658.2h0.7v0.7h-0.7zM80.6 662.4h0.7v0.7h-0.7zM70.8 665.9h0.7v0.7h-0.7zM72.1 672.2h0.7v0.7h-0.7zM77.9 665.0h0.7v0.7h-0.7zM83.2 656.6h0.7v0.7h-0.7zM73.6 675.5h0.7v0.7h-0.7zM81.7 667.1h0.7v0.7h-0.7zM72.8 658.4h0.7v0.7h-0.7zM69.1 649.8h0.7v0.7h-0.7zM75.5 666.6h0.7v0.7h-0.7zM75.1 662.0h0.7v0.7h-0.7zM78.3 674.7h0.7v0.7h-0.7zM74.7 664.5h0.7v0.7h-0.7zM92.7 663.2h0.7v0.7h-0.7zM82.3 653.5h0.7v0.7h-0.7zM72.1 659.7h0.7v0.7h-0.7zM94.5 658.2h0.7v0.7h-0.7zM85.5 659.2h0.7v0.7h-0.7zM71.1 647.7h0.7v0.7h-0.7zM78.8 672.3h0.7v0.7h-0.7zM73.6 660.1h0.7v0.7h-0.7zM71.9 657.3h0.7v0.7h-0.7zM83.4 658.9h0.7v0.7h-0.7zM72.2 668.5h0.7v0.7h-0.7zM79.3 663.0h0.7v0.7h-0.7zM89.1 665.9h0.7v0.7h-0.7zM84.2 653.0h0.7v0.7h-0.7zM77.5 674.0h0.7v0.7h-0.7zM82.0 671.1h0.7v0.7h-0.7zM69.8 661.1h0.7v0.7h-0.7zM87.1 675.6h0.7v0.7h-0.7zM85.4 670.1h0.7v0.7h-0.7zM85.2 640.0h0.7v0.7h-0.7zM78.4 670.1h0.7v0.7h-0.7zM84.7 655.3h0.7v0.7h-0.7zM83.7 670.0h0.7v0.7h-0.7zM75.1 676.7h0.7v0.7h-0.7zM84.9 670.9h0.7v0.7h-0.7zM75.4 665.7h0.7v0.7h-0.7zM77.8 677.3h0.7v0.7h-0.7zM91.5 656.2h0.7v0.7h-0.7zM89.0 667.1h0.7v0.7h-0.7zM74.2 657.3h0.7v0.7h-0.7zM86.5 666.1h0.7v0.7h-0.7zM74.3 661.8h0.7v0.7h-0.7zM75.8 662.3h0.7v0.7h-0.7zM88.0 657.6h0.7v0.7h-0.7zM76.2 637.9h0.7v0.7h-0.7zM80.8 671.3h0.7v0.7h-0.7zM89.4 658.2h0.7v0.7h-0.7zM76.3 660.0h0.7v0.7h-0.7zM71.0 663.3h0.7v0.7h-0.7zM73.6 661.5h0.7v0.7h-0.7zM78.8 669.7h0.7v0.7h-0.7zM78.3 683.5h0.7v0.7h-0.7zM79.8 667.7h0.7v0.7h-0.7zM80.9 662.5h0.7v0.7h-0.7zM83.4 664.6h0.7v0.7h-0.7zM70.5 658.9h0.7v0.7h-0.7zM86.3 649.9h0.7v0.7h-0.7zM87.8 664.3h0.7v0.7h-0.7zM79.4 673.8h0.7v0.7h-0.7zM79.3 659.4h0.7v0.7h-0.7zM71.4 669.2h0.7v0.7h-0.7zM78.5 655.4h0.7v0.7h-0.7zM84.6 670.7h0.7v0.7h-0.7zM90.5 665.6h0.7v0.7h-0.7zM71.1 664.2h0.7v0.7h-0.7zM82.3 670.7h0.7v0.7h-0.7zM70.6 667.3h0.7v0.7h-0.7zM81.8 666.6h0.7v0.7h-0.7zM77.3 661.4h0.7v0.7h-0.7zM83.1 660.1h0.7v0.7h-0.7zM80.7 656.5h0.7v0.7h-0.7zM77.8 672.5h0.7v0.7h-0.7zM75.0 663.0h0.7v0.7h-0.7zM69.9 653.2h0.7v0.7h-0.7zM81.3 673.0h0.7v0.7h-0.7zM74.3 661.7h0.7v0.7h-0.7zM79.9 659.6h0.7v0.7h-0.7zM78.4 659.9h0.7v0.7h-0.7zM81.4 658.9h0.7v0.7h-0.7zM75.3 651.8h0.7v0.7h-0.7zM73.6 650.8h0.7v0.7h-0.7zM77.2 671.5h0.7v0.7h-0.7zM70.7 656.1h0.7v0.7h-0.7zM73.7 667.1h0.7v0.7h-0.7zM76.3 660.5h0.7v0.7h-0.7zM72.6 661.0h0.7v0.7h-0.7zM76.0 656.5h0.7v0.7h-0.7zM86.0 667.3h0.7v0.7h-0.7zM77.1 665.8h0.7v0.7h-0.7zM91.0 668.3h0.7v0.7h-0.7zM75.0 662.9h0.7v0.7h-0.7zM84.5 667.0h0.7v0.7h-0.7zM76.5 664.0h0.7v0.7h-0.7zM71.7 660.5h0.7v0.7h-0.7zM75.7 661.1h0.7v0.7h-0.7zM85.7 663.4h0.7v0.7h-0.7zM84.6 663.1h0.7v0.7h-0.7zM69.5 673.3h0.7v0.7h-0.7zM74.9 662.2h0.7v0.7h-0.7zM84.2 674.7h0.7v0.7h-0.7zM78.9 673.7h0.7v0.7h-0.7zM75.2 668.5h0.7v0.7h-0.7zM72.9 671.3h0.7v0.7h-0.7zM74.8 668.6h0.7v0.7h-0.7zM71.2 675.1h0.7v0.7h-0.7zM87.2 661.0h0.7v0.7h-0.7zM78.4 655.2h0.7v0.7h-0.7zM76.9 651.2h0.7v0.7h-0.7zM82.1 662.5h0.7v0.7h-0.7zM84.6 663.1h0.7v0.7h-0.7zM76.7 656.3h0.7v0.7h-0.7zM81.6 662.1h0.7v0.7h-0.7zM71.3 650.8h0.7v0.7h-0.7zM83.4 662.3h0.7v0.7h-0.7zM77.6 658.6h0.7v0.7h-0.7zM75.0 663.0h0.7v0.7h-0.7zM79.1 653.2h0.7v0.7h-0.7zM92.0 670.7h0.7v0.7h-0.7zM84.4 657.7h0.7v0.7h-0.7zM70.3 667.5h0.7v0.7h-0.7zM74.5 663.1h0.7v0.7h-0.7zM87.3 663.1h0.7v0.7h-0.7zM85.5 656.6h0.7v0.7h-0.7zM75.8 668.7h0.7v0.7h-0.7zM80.5 646.8h0.7v0.7h-0.7zM71.7 659.5h0.7v0.7h-0.7zM73.9 657.8h0.7v0.7h-0.7zM76.1 664.4h0.7v0.7h-0.7zM69.5 655.4h0.7v0.7h-0.7zM72.9 672.9h0.7v0.7h-0.7zM77.0 650.9h0.7v0.7h-0.7zM80.8 670.7h0.7v0.7h-0.7zM80.5 663.5h0.7v0.7h-0.7zM81.4 676.3h0.7v0.7h-0.7zM81.8 671.3h0.7v0.7h-0.7zM75.3 674.6h0.7v0.7h-0.7zM74.1 665.8h0.7v0.7h-0.7zM82.4 655.5h0.7v0.7h-0.7zM75.4 645.3h0.7v0.7h-0.7zM76.1 652.3h0.7v0.7h-0.7zM78.3 659.1h0.7v0.7h-0.7zM74.1 660.3h0.7v0.7h-0.7zM75.7 663.0h0.7v0.7h-0.7zM76.5 672.4h0.7v0.7h-0.7zM84.0 642.4h0.7v0.7h-0.7zM85.6 661.3h0.7v0.7h-0.7zM80.0 655.6h0.7v0.7h-0.7zM81.4 667.7h0.7v0.7h-0.7zM74.8 653.8h0.7v0.7h-0.7zM80.9 666.6h0.7v0.7h-0.7zM72.9 645.5h0.7v0.7h-0.7zM71.7 666.3h0.7v0.7h-0.7zM85.2 655.0h0.7v0.7h-0.7zM74.8 654.1h0.7v0.7h-0.7zM80.0 656.5h0.7v0.7h-0.7zM87.5 667.8h0.7v0.7h-0.7zM76.9 659.7h0.7v0.7h-0.7zM83.7 659.7h0.7v0.7h-0.7zM75.9 663.9h0.7v0.7h-0.7zM83.9 674.6h0.7v0.7h-0.7zM76.1 653.0h0.7v0.7h-0.7zM72.9 661.6h0.7v0.7h-0.7zM81.6 641.5h0.7v0.7h-0.7zM81.7 666.3h0.7v0.7h-0.7zM79.2 650.9h0.7v0.7h-0.7zM78.6 658.8h0.7v0.7h-0.7zM72.8 667.9h0.7v0.7h-0.7zM85.0 664.5h0.7v0.7h-0.7zM81.3 671.1h0.7v0.7h-0.7zM78.3 659.5h0.7v0.7h-0.7zM86.4 657.9h0.7v0.7h-0.7zM76.4 665.7h0.7v0.7h-0.7zM75.8 655.2h0.7v0.7h-0.7zM84.2 662.8h0.7v0.7h-0.7zM74.2 658.2h0.7v0.7h-0.7zM81.4 669.6h0.7v0.7h-0.7zM79.2 672.3h0.7v0.7h-0.7zM78.0 675.9h0.7v0.7h-0.7zM83.2 653.6h0.7v0.7h-0.7zM77.6 665.6h0.7v0.7h-0.7zM78.0 654.9h0.7v0.7h-0.7zM80.8 662.4h0.7v0.7h-0.7zM69.9 652.5h0.7v0.7h-0.7zM76.0 670.4h0.7v0.7h-0.7zM77.9 664.4h0.7v0.7h-0.7zM83.4 661.1h0.7v0.7h-0.7zM78.2 662.3h0.7v0.7h-0.7zM83.2 657.6h0.7v0.7h-0.7zM80.3 657.0h0.7v0.7h-0.7zM78.6 671.8h0.7v0.7h-0.7zM73.8 666.8h0.7v0.7h-0.7zM78.6 664.7h0.7v0.7h-0.7zM81.1 663.6h0.7v0.7h-0.7zM80.9 677.6h0.7v0.7h-0.7zM74.4 654.2h0.7v0.7h-0.7zM82.3 666.1h0.7v0.7h-0.7zM89.1 657.9h0.7v0.7h-0.7zM82.2 658.5h0.7v0.7h-0.7zM75.5 658.1h0.7v0.7h-0.7zM73.8 655.3h0.7v0.7h-0.7zM76.4 661.6h0.7v0.7h-0.7zM78.5 669.5h0.7v0.7h-0.7zM73.3 662.2h0.7v0.7h-0.7zM73.4 669.6h0.7v0.7h-0.7zM73.2 660.1h0.7v0.7h-0.7zM73.9 671.6h0.7v0.7h-0.7zM71.6 653.7h0.7v0.7h-0.7zM76.1 660.1h0.7v0.7h-0.7zM73.2 672.0h0.7v0.7h-0.7zM75.2 646.1h0.7v0.7h-0.7zM77.1 652.3h0.7v0.7h-0.7zM74.7 658.9h0.7v0.7h-0.7zM73.3 659.5h0.7v0.7h-0.7zM76.1 667.9h0.7v0.7h-0.7zM91.9 657.3h0.7v0.7h-0.7zM75.7 672.0h0.7v0.7h-0.7zM87.4 669.2h0.7v0.7h-0.7zM76.8 678.5h0.7v0.7h-0.7zM78.7 672.6h0.7v0.7h-0.7zM75.3 653.0h0.7v0.7h-0.7zM85.5 655.8h0.7v0.7h-0.7zM72.6 664.0h0.7v0.7h-0.7zM73.2 668.3h0.7v0.7h-0.7zM78.6 661.3h0.7v0.7h-0.7zM75.2 674.7h0.7v0.7h-0.7zM85.6 672.1h0.7v0.7h-0.7zM71.1 676.3h0.7v0.7h-0.7zM78.8 676.7h0.7v0.7h-0.7zM81.1 657.5h0.7v0.7h-0.7zM69.3 657.5h0.7v0.7h-0.7zM84.7 659.3h0.7v0.7h-0.7zM87.1 652.6h0.7v0.7h-0.7zM81.7 662.0h0.7v0.7h-0.7zM70.7 666.0h0.7v0.7h-0.7zM76.0 660.6h0.7v0.7h-0.7zM74.6 661.7h0.7v0.7h-0.7zM73.7 679.4h0.7v0.7h-0.7zM76.0 664.6h0.7v0.7h-0.7zM76.4 673.2h0.7v0.7h-0.7zM81.3 671.0h0.7v0.7h-0.7zM69.9 664.2h0.7v0.7h-0.7zM77.4 668.1h0.7v0.7h-0.7zM74.6 664.1h0.7v0.7h-0.7zM72.9 660.1h0.7v0.7h-0.7zM80.1 658.9h0.7v0.7h-0.7zM73.6 661.8h0.7v0.7h-0.7zM79.9 666.3h0.7v0.7h-0.7zM71.8 659.5h0.7v0.7h-0.7zM71.9 654.8h0.7v0.7h-0.7zM91.0 672.7h0.7v0.7h-0.7zM81.9 660.6h0.7v0.7h-0.7zM82.8 675.4h0.7v0.7h-0.7zM84.8 668.8h0.7v0.7h-0.7zM72.8 682.3h0.7v0.7h-0.7zM82.2 669.9h0.7v0.7h-0.7zM80.0 666.0h0.7v0.7h-0.7zM76.0 649.2h0.7v0.7h-0.7zM87.7 683.9h0.7v0.7h-0.7zM80.7 668.4h0.7v0.7h-0.7zM78.0 669.1h0.7v0.7h-0.7zM77.3 662.3h0.7v0.7h-0.7zM81.5 649.2h0.7v0.7h-0.7zM85.7 659.8h0.7v0.7h-0.7zM81.1 667.9h0.7v0.7h-0.7zM86.7 676.6h0.7v0.7h-0.7zM71.1 655.2h0.7v0.7h-0.7zM79.0 649.7h0.7v0.7h-0.7zM81.4 662.0h0.7v0.7h-0.7zM73.9 669.8h0.7v0.7h-0.7zM73.0 657.0h0.7v0.7h-0.7zM78.0 670.0h0.7v0.7h-0.7zM77.0 660.2h0.7v0.7h-0.7zM79.1 660.0h0.7v0.7h-0.7zM80.6 671.9h0.7v0.7h-0.7zM78.7 666.8h0.7v0.7h-0.7zM69.0 651.9h0.7v0.7h-0.7zM74.2 673.7h0.7v0.7h-0.7zM80.3 659.3h0.7v0.7h-0.7zM77.5 656.5h0.7v0.7h-0.7zM75.6 665.7h0.7v0.7h-0.7zM81.6 659.0h0.7v0.7h-0.7zM69.4 672.2h0.7v0.7h-0.7zM72.0 668.8h0.7v0.7h-0.7zM69.7 655.6h0.7v0.7h-0.7zM80.3 688.1h0.7v0.7h-0.7zM88.1 664.0h0.7v0.7h-0.7zM79.3 665.9h0.7v0.7h-0.7zM78.7 654.8h0.7v0.7h-0.7zM76.2 678.3h0.7v0.7h-0.7zM74.9 659.8h0.7v0.7h-0.7zM71.4 657.9h0.7v0.7h-0.7zM84.4 665.9h0.7v0.7h-0.7zM75.1 660.0h0.7v0.7h-0.7zM82.3 658.3h0.7v0.7h-0.7zM73.5 660.4h0.7v0.7h-0.7zM73.5 669.1h0.7v0.7h-0.7zM77.8 671.2h0.7v0.7h-0.7zM75.0 682.9h0.7v0.7h-0.7zM80.8 661.2h0.7v0.7h-0.7zM79.5 646.2h0.7v0.7h-0.7zM71.7 646.4h0.7v0.7h-0.7zM76.4 680.5h0.7v0.7h-0.7zM79.7 651.2h0.7v0.7h-0.7zM69.4 666.0h0.7v0.7h-0.7zM81.2 661.3h0.7v0.7h-0.7zM85.7 664.9h0.7v0.7h-0.7zM88.8 669.8h0.7v0.7h-0.7zM89.0 641.6h0.7v0.7h-0.7zM81.9 669.3h0.7v0.7h-0.7zM85.9 667.8h0.7v0.7h-0.7zM80.0 665.6h0.7v0.7h-0.7zM78.9 667.6h0.7v0.7h-0.7zM86.5 650.0h0.7v0.7h-0.7zM75.4 651.2h0.7v0.7h-0.7zM74.6 665.2h0.7v0.7h-0.7zM78.8 666.1h0.7v0.7h-0.7zM81.8 666.5h0.7v0.7h-0.7zM76.0 662.0h0.7v0.7h-0.7zM72.0 659.4h0.7v0.7h-0.7zM77.2 666.0h0.7v0.7h-0.7zM69.2 671.9h0.7v0.7h-0.7zM77.4 650.4h0.7v0.7h-0.7zM76.9 667.6h0.7v0.7h-0.7zM78.3 659.6h0.7v0.7h-0.7zM73.0 664.8h0.7v0.7h-0.7zM78.6 665.4h0.7v0.7h-0.7zM75.7 672.9h0.7v0.7h-0.7zM78.7 669.7h0.7v0.7h-0.7zM76.2 666.6h0.7v0.7h-0.7zM76.8 672.3h0.7v0.7h-0.7zM74.5 667.3h0.7v0.7h-0.7zM79.5 650.3h0.7v0.7h-0.7zM84.1 658.3h0.7v0.7h-0.7zM71.6 657.7h0.7v0.7h-0.7zM82.4 659.7h0.7v0.7h-0.7zM81.9 655.4h0.7v0.7h-0.7zM79.1 649.1h0.7v0.7h-0.7zM76.1 673.4h0.7v0.7h-0.7zM74.9 664.4h0.7v0.7h-0.7zM76.5 666.6h0.7v0.7h-0.7zM75.6 654.7h0.7v0.7h-0.7zM75.8 660.3h0.7v0.7h-0.7zM72.1 661.7h0.7v0.7h-0.7zM72.4 659.0h0.7v0.7h-0.7zM79.4 664.7h0.7v0.7h-0.7zM76.4 666.3h0.7v0.7h-0.7zM86.9 665.8h0.7v0.7h-0.7zM78.3 662.3h0.7v0.7h-0.7zM79.5 668.1h0.7v0.7h-0.7zM82.8 666.8h0.7v0.7h-0.7zM74.4 662.1h0.7v0.7h-0.7zM73.5 673.7h0.7v0.7h-0.7zM73.9 650.0h0.7v0.7h-0.7zM76.4 656.1h0.7v0.7h-0.7zM78.7 664.1h0.7v0.7h-0.7zM73.1 650.7h0.7v0.7h-0.7zM75.8 652.6h0.7v0.7h-0.7zM76.6 664.4h0.7v0.7h-0.7zM75.5 664.2h0.7v0.7h-0.7zM75.4 676.1h0.7v0.7h-0.7zM83.6 653.2h0.7v0.7h-0.7zM80.9 661.2h0.7v0.7h-0.7zM77.6 651.7h0.7v0.7h-0.7zM75.3 661.7h0.7v0.7h-0.7zM75.2 645.0h0.7v0.7h-0.7zM78.4 660.1h0.7v0.7h-0.7zM69.4 672.0h0.7v0.7h-0.7zM76.8 653.9h0.7v0.7h-0.7zM72.7 665.2h0.7v0.7h-0.7zM74.5 668.5h0.7v0.7h-0.7zM70.8 664.9h0.7v0.7h-0.7zM79.9 667.0h0.7v0.7h-0.7zM73.1 655.3h0.7v0.7h-0.7zM71.3 663.6h0.7v0.7h-0.7zM76.0 672.4h0.7v0.7h-0.7zM75.7 673.3h0.7v0.7h-0.7zM76.0 670.9h0.7v0.7h-0.7zM82.8 665.2h0.7v0.7h-0.7zM70.7 666.2h0.7v0.7h-0.7zM78.2 660.4h0.7v0.7h-0.7zM76.2 668.4h0.7v0.7h-0.7zM86.0 657.6h0.7v0.7h-0.7zM83.9 659.2h0.7v0.7h-0.7zM75.8 660.1h0.7v0.7h-0.7zM77.3 656.8h0.7v0.7h-0.7z" fill="#3a3aec" fill-opacity="0.55"/>
<path d="M78.3 648.2h0.7v0.7h-0.7zM77.0 651.4h0.7v0.7h-0.7zM84.5 634.0h0.7v0.7h-0.7zM81.3 639.4h0.7v0.7h-0.7zM76.1 653.1h0.7v0.7h-0.7zM79.5 656.0h0.7v0.7h-0.7zM83.3 643.2h0.7v0.7h-0.7zM78.0 661.0h0.7v0.7h-0.7zM75.5 648.1h0.7v0.7h-0.7zM83.4 645.5h0.7v0.7h-0.7zM82.9 641.2h0.7v0.7h-0.7zM83.4 651.5h0.7v0.7h-0.7zM73.1 661.8h0.7v0.7h-0.7zM84.3 632.8h0.7v0.7h-0.7zM76.9 654.9h0.7v0.7h-0.7zM82.9 642.8h0.7v0.7h-0.7zM74.2 657.6h0.7v0.7h-0.7zM80.1 644.1h0.7v0.7h-0.7zM80.9 641.2h0.7v0.7h-0.7zM82.8 640.6h0.7v0.7h-0.7zM87.2 638.0h0.7v0.7h-0.7zM78.5 636.8h0.7v0.7h-0.7zM79.5 647.7h0.7v0.7h-0.7zM86.6 640.3h0.7v0.7h-0.7zM81.2 638.3h0.7v0.7h-0.7zM81.3 637.7h0.7v0.7h-0.7zM75.1 658.1h0.7v0.7h-0.7zM78.8 638.6h0.7v0.7h-0.7zM84.9 649.4h0.7v0.7h-0.7zM82.3 631.0h0.7v0.7h-0.7zM77.3 643.7h0.7v0.7h-0.7zM81.5 671.6h0.7v0.7h-0.7zM84.1 640.3h0.7v0.7h-0.7zM77.3 640.4h0.7v0.7h-0.7zM77.7 652.0h0.7v0.7h-0.7zM79.6 651.8h0.7v0.7h-0.7zM82.6 634.5h0.7v0.7h-0.7zM83.8 641.8h0.7v0.7h-0.7zM86.8 636.1h0.7v0.7h-0.7zM79.2 647.5h0.7v0.7h-0.7zM85.3 643.4h0.7v0.7h-0.7zM85.1 647.7h0.7v0.7h-0.7zM81.8 662.7h0.7v0.7h-0.7zM80.2 645.1h0.7v0.7h-0.7zM84.9 630.9h0.7v0.7h-0.7zM81.8 652.3h0.7v0.7h-0.7zM77.2 636.7h0.7v0.7h-0.7zM75.1 663.4h0.7v0.7h-0.7zM90.2 625.0h0.7v0.7h-0.7zM75.6 644.1h0.7v0.7h-0.7zM86.6 643.2h0.7v0.7h-0.7zM83.2 636.8h0.7v0.7h-0.7zM83.2 636.7h0.7v0.7h-0.7zM82.8 637.1h0.7v0.7h-0.7zM75.7 650.1h0.7v0.7h-0.7zM82.2 646.5h0.7v0.7h-0.7zM78.5 656.6h0.7v0.7h-0.7zM74.5 640.2h0.7v0.7h-0.7zM82.9 641.6h0.7v0.7h-0.7zM80.5 642.9h0.7v0.7h-0.7zM82.7 645.0h0.7v0.7h-0.7zM86.0 630.9h0.7v0.7h-0.7zM75.8 652.5h0.7v0.7h-0.7zM79.7 645.3h0.7v0.7h-0.7zM72.3 661.6h0.7v0.7h-0.7zM87.2 639.3h0.7v0.7h-0.7zM85.4 643.7h0.7v0.7h-0.7zM81.7 647.8h0.7v0.7h-0.7zM84.9 643.4h0.7v0.7h-0.7zM83.2 641.9h0.7v0.7h-0.7zM77.8 653.3h0.7v0.7h-0.7zM79.1 653.0h0.7v0.7h-0.7zM72.1 672.9h0.7v0.7h-0.7zM85.8 650.4h0.7v0.7h-0.7zM82.2 635.6h0.7v0.7h-0.7zM79.2 639.3h0.7v0.7h-0.7zM82.3 643.9h0.7v0.7h-0.7zM81.4 630.6h0.7v0.7h-0.7zM74.9 637.6h0.7v0.7h-0.7zM86.2 641.8h0.7v0.7h-0.7zM81.0 643.0h0.7v0.7h-0.7zM73.8 653.6h0.7v0.7h-0.7zM79.1 641.9h0.7v0.7h-0.7zM81.4 651.4h0.7v0.7h-0.7zM83.9 629.5h0.7v0.7h-0.7zM69.9 673.2h0.7v0.7h-0.7zM86.3 636.4h0.7v0.7h-0.7zM79.7 650.2h0.7v0.7h-0.7zM85.0 640.7h0.7v0.7h-0.7zM79.5 649.7h0.7v0.7h-0.7zM82.3 659.9h0.7v0.7h-0.7zM80.9 638.6h0.7v0.7h-0.7zM88.3 646.5h0.7v0.7h-0.7zM86.6 629.9h0.7v0.7h-0.7zM78.5 638.6h0.7v0.7h-0.7zM80.3 657.1h0.7v0.7h-0.7zM84.5 640.8h0.7v0.7h-0.7zM81.8 648.4h0.7v0.7h-0.7zM80.3 638.5h0.7v0.7h-0.7zM78.1 663.0h0.7v0.7h-0.7zM77.2 642.5h0.7v0.7h-0.7zM83.1 639.9h0.7v0.7h-0.7zM79.5 649.1h0.7v0.7h-0.7zM80.4 633.7h0.7v0.7h-0.7zM84.6 642.1h0.7v0.7h-0.7zM87.6 642.4h0.7v0.7h-0.7zM78.6 645.8h0.7v0.7h-0.7zM78.1 632.7h0.7v0.7h-0.7zM83.8 636.2h0.7v0.7h-0.7zM84.8 641.4h0.7v0.7h-0.7zM80.5 659.3h0.7v0.7h-0.7zM77.2 665.2h0.7v0.7h-0.7zM79.5 665.0h0.7v0.7h-0.7zM85.5 634.9h0.7v0.7h-0.7zM87.9 638.8h0.7v0.7h-0.7zM82.3 640.6h0.7v0.7h-0.7zM80.8 642.9h0.7v0.7h-0.7zM79.6 654.1h0.7v0.7h-0.7zM84.2 650.8h0.7v0.7h-0.7zM85.7 638.1h0.7v0.7h-0.7zM83.9 639.4h0.7v0.7h-0.7zM83.3 647.3h0.7v0.7h-0.7zM82.5 637.3h0.7v0.7h-0.7zM76.3 666.2h0.7v0.7h-0.7zM77.9 645.6h0.7v0.7h-0.7zM82.5 640.5h0.7v0.7h-0.7zM82.7 654.0h0.7v0.7h-0.7zM74.9 655.6h0.7v0.7h-0.7zM83.4 631.3h0.7v0.7h-0.7zM83.9 653.1h0.7v0.7h-0.7zM81.2 649.3h0.7v0.7h-0.7zM79.9 655.3h0.7v0.7h-0.7zM79.0 648.9h0.7v0.7h-0.7zM78.4 644.1h0.7v0.7h-0.7zM85.6 638.6h0.7v0.7h-0.7zM84.6 628.0h0.7v0.7h-0.7zM76.3 645.7h0.7v0.7h-0.7zM88.5 643.7h0.7v0.7h-0.7zM89.8 629.1h0.7v0.7h-0.7zM83.4 645.1h0.7v0.7h-0.7zM80.0 652.0h0.7v0.7h-0.7zM80.9 649.7h0.7v0.7h-0.7zM74.0 648.1h0.7v0.7h-0.7zM77.1 664.9h0.7v0.7h-0.7zM84.5 633.0h0.7v0.7h-0.7zM83.0 638.4h0.7v0.7h-0.7zM76.6 645.2h0.7v0.7h-0.7zM92.8 628.9h0.7v0.7h-0.7zM80.7 656.1h0.7v0.7h-0.7zM82.1 635.4h0.7v0.7h-0.7zM89.5 650.4h0.7v0.7h-0.7zM84.2 634.4h0.7v0.7h-0.7zM80.8 647.0h0.7v0.7h-0.7zM76.7 673.1h0.7v0.7h-0.7zM81.1 641.4h0.7v0.7h-0.7zM80.0 644.8h0.7v0.7h-0.7zM71.1 661.8h0.7v0.7h-0.7zM85.7 640.6h0.7v0.7h-0.7zM82.8 642.6h0.7v0.7h-0.7zM74.2 660.7h0.7v0.7h-0.7zM83.7 633.6h0.7v0.7h-0.7zM76.6 647.9h0.7v0.7h-0.7zM75.8 634.1h0.7v0.7h-0.7zM79.5 643.5h0.7v0.7h-0.7zM81.5 654.5h0.7v0.7h-0.7zM77.5 638.9h0.7v0.7h-0.7zM80.6 651.7h0.7v0.7h-0.7zM86.7 644.7h0.7v0.7h-0.7zM81.6 645.4h0.7v0.7h-0.7zM74.2 661.4h0.7v0.7h-0.7zM84.1 640.6h0.7v0.7h-0.7zM79.9 650.8h0.7v0.7h-0.7zM82.8 647.3h0.7v0.7h-0.7zM82.7 631.3h0.7v0.7h-0.7zM78.8 636.1h0.7v0.7h-0.7zM84.2 661.3h0.7v0.7h-0.7zM77.9 649.4h0.7v0.7h-0.7zM82.0 638.8h0.7v0.7h-0.7zM87.7 637.4h0.7v0.7h-0.7zM89.5 651.0h0.7v0.7h-0.7zM83.0 637.0h0.7v0.7h-0.7zM86.2 635.9h0.7v0.7h-0.7zM77.9 648.9h0.7v0.7h-0.7zM85.5 632.9h0.7v0.7h-0.7zM80.1 654.0h0.7v0.7h-0.7zM79.9 654.4h0.7v0.7h-0.7zM85.8 634.7h0.7v0.7h-0.7zM76.4 643.5h0.7v0.7h-0.7zM86.0 642.6h0.7v0.7h-0.7zM81.3 642.3h0.7v0.7h-0.7zM85.2 635.8h0.7v0.7h-0.7zM91.7 632.2h0.7v0.7h-0.7zM74.7 663.6h0.7v0.7h-0.7zM82.0 644.2h0.7v0.7h-0.7zM80.3 656.2h0.7v0.7h-0.7zM79.1 660.9h0.7v0.7h-0.7zM78.0 657.4h0.7v0.7h-0.7zM75.1 662.2h0.7v0.7h-0.7zM77.2 649.7h0.7v0.7h-0.7zM84.0 635.3h0.7v0.7h-0.7zM83.1 642.6h0.7v0.7h-0.7zM86.1 645.1h0.7v0.7h-0.7zM82.0 642.9h0.7v0.7h-0.7zM77.5 662.1h0.7v0.7h-0.7zM80.1 637.4h0.7v0.7h-0.7zM77.9 635.8h0.7v0.7h-0.7zM77.6 647.4h0.7v0.7h-0.7zM82.0 651.5h0.7v0.7h-0.7zM84.2 626.7h0.7v0.7h-0.7zM79.1 653.3h0.7v0.7h-0.7zM82.3 643.6h0.7v0.7h-0.7zM77.9 656.0h0.7v0.7h-0.7zM80.6 644.4h0.7v0.7h-0.7zM80.5 644.7h0.7v0.7h-0.7zM82.2 652.6h0.7v0.7h-0.7zM81.3 640.4h0.7v0.7h-0.7zM80.5 645.3h0.7v0.7h-0.7zM82.9 648.8h0.7v0.7h-0.7z" fill="#6a6af0" fill-opacity="0.5"/>
<path d="M87.0 682.7h0.7v0.7h-0.7zM70.6 669.2h0.7v0.7h-0.7zM72.8 678.1h0.7v0.7h-0.7zM90.5 679.3h0.7v0.7h-0.7zM76.2 686.5h0.7v0.7h-0.7zM82.0 669.4h0.7v0.7h-0.7zM74.2 687.2h0.7v0.7h-0.7zM82.7 659.5h0.7v0.7h-0.7zM75.3 680.1h0.7v0.7h-0.7zM72.3 675.7h0.7v0.7h-0.7zM74.6 662.7h0.7v0.7h-0.7zM76.4 671.6h0.7v0.7h-0.7zM80.3 662.3h0.7v0.7h-0.7zM80.2 672.9h0.7v0.7h-0.7zM71.1 685.1h0.7v0.7h-0.7zM76.7 679.0h0.7v0.7h-0.7zM86.6 678.9h0.7v0.7h-0.7zM83.5 677.4h0.7v0.7h-0.7zM76.0 677.2h0.7v0.7h-0.7zM71.1 679.5h0.7v0.7h-0.7zM83.0 679.1h0.7v0.7h-0.7zM75.6 666.3h0.7v0.7h-0.7zM75.2 673.5h0.7v0.7h-0.7zM74.9 676.7h0.7v0.7h-0.7zM76.6 676.7h0.7v0.7h-0.7zM78.7 675.4h0.7v0.7h-0.7zM80.8 671.6h0.7v0.7h-0.7zM82.9 677.4h0.7v0.7h-0.7zM78.6 675.9h0.7v0.7h-0.7zM84.1 675.5h0.7v0.7h-0.7zM86.6 676.7h0.7v0.7h-0.7zM80.1 675.8h0.7v0.7h-0.7zM80.3 679.4h0.7v0.7h-0.7zM75.8 681.9h0.7v0.7h-0.7zM91.6 679.9h0.7v0.7h-0.7zM79.4 669.5h0.7v0.7h-0.7zM75.1 669.4h0.7v0.7h-0.7zM80.2 670.4h0.7v0.7h-0.7zM86.8 672.4h0.7v0.7h-0.7zM74.4 668.7h0.7v0.7h-0.7zM78.4 674.6h0.7v0.7h-0.7zM83.5 670.1h0.7v0.7h-0.7zM80.5 683.1h0.7v0.7h-0.7zM77.4 662.2h0.7v0.7h-0.7zM80.0 683.7h0.7v0.7h-0.7zM80.8 675.8h0.7v0.7h-0.7zM69.3 688.3h0.7v0.7h-0.7zM77.9 666.5h0.7v0.7h-0.7zM77.2 676.9h0.7v0.7h-0.7zM79.1 668.7h0.7v0.7h-0.7zM90.7 685.4h0.7v0.7h-0.7zM83.8 680.7h0.7v0.7h-0.7zM76.9 666.6h0.7v0.7h-0.7zM72.5 684.1h0.7v0.7h-0.7zM79.2 688.4h0.7v0.7h-0.7zM81.1 671.5h0.7v0.7h-0.7zM83.2 670.6h0.7v0.7h-0.7zM77.5 679.8h0.7v0.7h-0.7zM79.6 677.9h0.7v0.7h-0.7zM79.9 683.8h0.7v0.7h-0.7zM74.6 660.1h0.7v0.7h-0.7zM74.3 656.9h0.7v0.7h-0.7zM88.5 670.6h0.7v0.7h-0.7zM78.6 678.3h0.7v0.7h-0.7zM75.0 671.8h0.7v0.7h-0.7zM80.1 675.8h0.7v0.7h-0.7zM82.8 673.8h0.7v0.7h-0.7zM75.5 664.4h0.7v0.7h-0.7zM70.5 677.8h0.7v0.7h-0.7zM80.4 672.5h0.7v0.7h-0.7zM84.8 654.7h0.7v0.7h-0.7zM82.0 666.4h0.7v0.7h-0.7zM77.1 673.9h0.7v0.7h-0.7zM75.1 673.5h0.7v0.7h-0.7zM78.8 681.3h0.7v0.7h-0.7zM82.9 668.3h0.7v0.7h-0.7zM81.2 672.5h0.7v0.7h-0.7zM83.3 671.2h0.7v0.7h-0.7zM84.1 668.7h0.7v0.7h-0.7zM76.5 682.3h0.7v0.7h-0.7zM83.9 682.5h0.7v0.7h-0.7zM88.7 683.7h0.7v0.7h-0.7zM78.8 683.0h0.7v0.7h-0.7zM74.7 682.0h0.7v0.7h-0.7zM80.8 674.5h0.7v0.7h-0.7zM75.2 684.0h0.7v0.7h-0.7zM71.8 673.0h0.7v0.7h-0.7zM76.6 669.3h0.7v0.7h-0.7zM75.8 677.9h0.7v0.7h-0.7zM88.6 689.3h0.7v0.7h-0.7zM77.9 672.4h0.7v0.7h-0.7zM81.9 669.2h0.7v0.7h-0.7zM71.4 683.3h0.7v0.7h-0.7zM76.8 687.6h0.7v0.7h-0.7zM80.5 664.3h0.7v0.7h-0.7zM80.3 679.5h0.7v0.7h-0.7zM79.1 665.0h0.7v0.7h-0.7zM71.3 690.3h0.7v0.7h-0.7zM82.8 689.8h0.7v0.7h-0.7zM82.0 675.5h0.7v0.7h-0.7zM80.7 684.6h0.7v0.7h-0.7zM76.2 685.7h0.7v0.7h-0.7zM80.1 677.3h0.7v0.7h-0.7zM81.0 678.2h0.7v0.7h-0.7zM74.2 687.9h0.7v0.7h-0.7zM76.4 673.6h0.7v0.7h-0.7zM81.6 675.0h0.7v0.7h-0.7zM78.3 672.8h0.7v0.7h-0.7zM81.9 670.6h0.7v0.7h-0.7zM71.5 663.0h0.7v0.7h-0.7zM74.8 678.2h0.7v0.7h-0.7zM86.0 680.2h0.7v0.7h-0.7zM75.4 665.3h0.7v0.7h-0.7zM82.9 679.6h0.7v0.7h-0.7zM78.5 680.6h0.7v0.7h-0.7zM81.8 679.7h0.7v0.7h-0.7zM85.4 663.6h0.7v0.7h-0.7zM75.6 671.5h0.7v0.7h-0.7zM80.6 679.0h0.7v0.7h-0.7zM82.8 673.9h0.7v0.7h-0.7zM83.0 674.1h0.7v0.7h-0.7zM82.6 680.1h0.7v0.7h-0.7zM85.3 663.8h0.7v0.7h-0.7zM74.3 669.8h0.7v0.7h-0.7zM74.7 678.7h0.7v0.7h-0.7zM83.6 673.0h0.7v0.7h-0.7zM84.2 682.7h0.7v0.7h-0.7zM75.9 680.9h0.7v0.7h-0.7zM86.0 672.0h0.7v0.7h-0.7zM80.3 680.6h0.7v0.7h-0.7zM81.4 675.3h0.7v0.7h-0.7zM78.8 669.4h0.7v0.7h-0.7zM88.5 687.9h0.7v0.7h-0.7zM78.2 669.1h0.7v0.7h-0.7zM81.0 688.3h0.7v0.7h-0.7zM79.1 669.3h0.7v0.7h-0.7zM83.5 677.8h0.7v0.7h-0.7zM74.9 674.1h0.7v0.7h-0.7zM79.7 667.0h0.7v0.7h-0.7zM80.3 685.8h0.7v0.7h-0.7zM84.1 685.6h0.7v0.7h-0.7zM82.6 675.1h0.7v0.7h-0.7zM81.9 685.4h0.7v0.7h-0.7zM79.1 679.9h0.7v0.7h-0.7zM75.8 675.9h0.7v0.7h-0.7zM76.5 667.4h0.7v0.7h-0.7zM70.5 672.0h0.7v0.7h-0.7zM79.9 670.0h0.7v0.7h-0.7zM79.7 682.5h0.7v0.7h-0.7zM70.8 675.0h0.7v0.7h-0.7zM81.8 680.3h0.7v0.7h-0.7zM87.9 677.5h0.7v0.7h-0.7zM85.1 671.4h0.7v0.7h-0.7zM74.5 671.6h0.7v0.7h-0.7zM76.8 682.9h0.7v0.7h-0.7zM82.6 676.0h0.7v0.7h-0.7zM74.5 677.0h0.7v0.7h-0.7zM76.9 672.9h0.7v0.7h-0.7zM70.4 688.2h0.7v0.7h-0.7zM92.2 676.3h0.7v0.7h-0.7zM89.9 672.6h0.7v0.7h-0.7zM92.7 675.5h0.7v0.7h-0.7zM69.8 675.8h0.7v0.7h-0.7zM82.9 689.4h0.7v0.7h-0.7zM83.8 689.9h0.7v0.7h-0.7zM79.9 663.9h0.7v0.7h-0.7zM79.7 669.0h0.7v0.7h-0.7zM83.1 659.1h0.7v0.7h-0.7zM74.1 666.7h0.7v0.7h-0.7z" fill="#8080f0" fill-opacity="0.5"/>
<path d="M86.0 662.0L85.7 664.8L84.9 667.5L83.7 669.8L82.0 671.5L80.1 672.6L78.0 673.0L75.9 672.6L74.0 671.5L72.3 669.8L71.1 667.5L70.3 664.8L70.0 662.0L70.3 659.2L71.1 656.5L72.3 654.2L74.0 652.5L75.9 651.4L78.0 651.0L80.1 651.4L82.0 652.5L83.7 654.2L84.9 656.5L85.7 659.2Z" fill="#6a6af0" fill-opacity="0.7" filter="url(#bl2)"/>
<path d="M82.7 662.5L82.5 664.4L82.0 666.2L81.1 667.8L80.0 669.0L78.6 669.7L77.2 670.0L75.8 669.7L74.5 669.0L73.3 667.8L72.4 666.2L71.9 664.4L71.7 662.5L71.9 660.6L72.4 658.8L73.3 657.2L74.5 656.0L75.8 655.3L77.2 655.0L78.6 655.3L80.0 656.0L81.1 657.2L82.0 658.8L82.5 660.6Z" fill="#2a2ae4" fill-opacity="0.95" filter="url(#bl1)"/>
<path d="M80.0 662.0L79.9 663.0L79.6 664.0L79.1 664.8L78.5 665.5L77.8 665.9L77.0 666.0L76.2 665.9L75.5 665.5L74.9 664.8L74.4 664.0L74.1 663.0L74.0 662.0L74.1 661.0L74.4 660.0L74.9 659.2L75.5 658.5L76.2 658.1L77.0 658.0L77.8 658.1L78.5 658.5L79.1 659.2L79.6 660.0L79.9 661.0Z" fill="#1414d4" fill-opacity="0.9" filter="url(#bl1)"/>
</g></g>
<rect x="17.40" y="613.60" width="79.70" height="77.80" fill="none" stroke="#a8a8a8" stroke-width="1.4"/>
<line x1="62.20" y1="613.60" x2="62.20" y2="691.40" stroke="#5a5a5a" stroke-width="0.8"/>
<line x1="17.40" y1="653.30" x2="97.10" y2="653.30" stroke="#5a5a5a" stroke-width="0.8"/>
<rect x="69.0" y="624.40" width="26.50" height="67.00" fill="none" stroke="#8a8a8a" stroke-width="0.9"/>
<rect x="67.90" y="623.30" width="2.2" height="2.2" fill="#777" stroke="#555" stroke-width="0.4"/>
<rect x="81.15" y="623.30" width="2.2" height="2.2" fill="#777" stroke="#555" stroke-width="0.4"/>
<rect x="94.40" y="623.30" width="2.2" height="2.2" fill="#777" stroke="#555" stroke-width="0.4"/>
<rect x="94.40" y="656.80" width="2.2" height="2.2" fill="#777" stroke="#555" stroke-width="0.4"/>
<rect x="94.40" y="690.30" width="2.2" height="2.2" fill="#777" stroke="#555" stroke-width="0.4"/>
<text x="19.20" y="620.20" font-size="4.2" fill="#444" stroke="#444" stroke-width="0.1">Q1</text>
<text x="90.20" y="620.20" font-size="4.2" fill="#444" stroke="#444" stroke-width="0.1">Q2</text>
<text x="88.50" y="629.40" font-size="4.2" fill="#333" stroke="#333" stroke-width="0.15">P3</text>
<text x="19.20" y="689.80" font-size="4.2" fill="#444" stroke="#444" stroke-width="0.1">Q3</text>
<text x="90.20" y="689.80" font-size="4.2" fill="#444" stroke="#444" stroke-width="0.1">Q4</text>
<text x="42.00" y="610.60" font-size="11" textLength="30.60" lengthAdjust="spacingAndGlyphs" fill="#111" stroke="#111" stroke-width="0.45">Frozen</text>
<text x="6.50" y="650.20" font-size="7.5" text-anchor="middle" textLength="22.30" lengthAdjust="spacingAndGlyphs" transform="rotate(-90 6.50 650.20)" fill="#000" stroke="#000" stroke-width="0.35">CD138</text>
<text x="46.00" y="707.00" font-size="7.5" textLength="22.20" lengthAdjust="spacingAndGlyphs" fill="#000" stroke="#000" stroke-width="0.35">CD319</text>
<path d="M15.0 681.1H17.4M28.2 691.4V693.8M16.0 675.3H17.4M34.2 691.4V692.8M16.0 671.9H17.4M37.7 691.4V692.8M16.0 669.5H17.4M40.2 691.4V692.8M16.0 667.6H17.4M42.1 691.4V692.8M16.0 666.1H17.4M43.7 691.4V692.8M16.0 664.8H17.4M45.0 691.4V692.8M16.0 663.7H17.4M46.2 691.4V692.8M16.0 662.7H17.4M47.2 691.4V692.8M15.0 661.8H17.4M48.1 691.4V693.8M16.0 656.0H17.4M54.1 691.4V692.8M16.0 652.6H17.4M57.6 691.4V692.8M16.0 650.2H17.4M60.1 691.4V692.8M16.0 648.3H17.4M62.0 691.4V692.8M16.0 646.8H17.4M63.6 691.4V692.8M16.0 645.5H17.4M64.9 691.4V692.8M16.0 644.4H17.4M66.1 691.4V692.8M16.0 643.4H17.4M67.1 691.4V692.8M15.0 642.5H17.4M68.0 691.4V693.8M16.0 636.7H17.4M74.0 691.4V692.8M16.0 633.3H17.4M77.5 691.4V692.8M16.0 630.9H17.4M80.0 691.4V692.8M16.0 629.0H17.4M81.9 691.4V692.8M16.0 627.5H17.4M83.5 691.4V692.8M16.0 626.2H17.4M84.8 691.4V692.8M16.0 625.1H17.4M86.0 691.4V692.8M16.0 624.1H17.4M87.0 691.4V692.8M15.0 623.2H17.4M87.9 691.4V693.8M16.0 617.4H17.4M93.9 691.4V692.8" stroke="#777" stroke-width="0.6"/>
<text x="26.70" y="698.90" font-size="4" fill="#333" transform="rotate(-50 26.70 698.90)">10<tspan dy="-1.4" font-size="2.8">2</tspan></text>
<text x="12.90" y="682.60" font-size="4" fill="#333" transform="rotate(-50 12.90 682.60)">10<tspan dy="-1.4" font-size="2.8">2</tspan></text>
<text x="46.60" y="698.90" font-size="4" fill="#333" transform="rotate(-50 46.60 698.90)">10<tspan dy="-1.4" font-size="2.8">3</tspan></text>
<text x="12.90" y="663.30" font-size="4" fill="#333" transform="rotate(-50 12.90 663.30)">10<tspan dy="-1.4" font-size="2.8">3</tspan></text>
<text x="66.50" y="698.90" font-size="4" fill="#333" transform="rotate(-50 66.50 698.90)">10<tspan dy="-1.4" font-size="2.8">4</tspan></text>
<text x="12.90" y="644.00" font-size="4" fill="#333" transform="rotate(-50 12.90 644.00)">10<tspan dy="-1.4" font-size="2.8">4</tspan></text>
<text x="86.40" y="698.90" font-size="4" fill="#333" transform="rotate(-50 86.40 698.90)">10<tspan dy="-1.4" font-size="2.8">5</tspan></text>
<text x="12.90" y="624.70" font-size="4" fill="#333" transform="rotate(-50 12.90 624.70)">10<tspan dy="-1.4" font-size="2.8">5</tspan></text>
<text x="0.00" y="382.30" font-size="13.2" font-weight="bold" fill="#000">B</text>
</svg>
</body></html>
